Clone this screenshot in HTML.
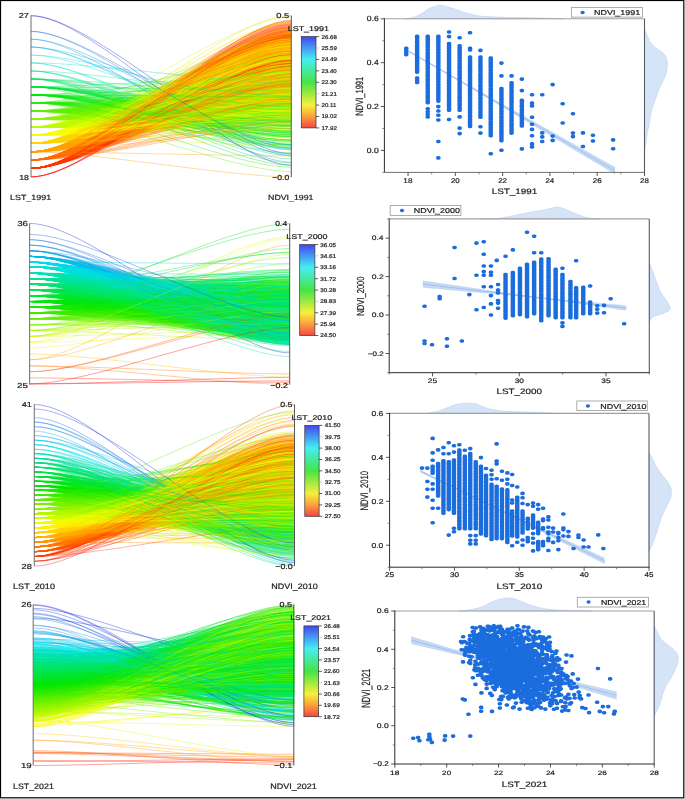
<!DOCTYPE html><html><head><meta charset="utf-8"><style>html,body{margin:0;padding:0;background:#fff;overflow:hidden}svg{display:block}text{font-family:"Liberation Sans",sans-serif;fill:#1c1c1c;stroke:#1c1c1c;stroke-width:.2px;text-rendering:geometricPrecision}svg{will-change:transform}.c0{stroke:#c3f900}.c1{stroke:#ffd300}.c2{stroke:#f6fe00}.c3{stroke:#ff9f00}.c4{stroke:#ff3600}.c5{stroke:#ff6b00}.c6{stroke:#5def00}.c7{stroke:#00e537}.c8{stroke:#90f400}.c9{stroke:#00e608}.c10{stroke:#29ea00}.c11{stroke:#00e2c3}.c12{stroke:#00dceb}.c13{stroke:#00e465}.c14{stroke:#00e394}.c15{stroke:#088ce3}.c16{stroke:#1415d7}.c17{stroke:#ff0100}.c18{stroke:#04b4e7}.c19{stroke:#0c64df}.c20{stroke:#00e2b4}.c21{stroke:#00e530}.c22{stroke:#15e800}.c23{stroke:#00e451}.c24{stroke:#00e60e}.c25{stroke:#04bce7}.c26{stroke:#39ec00}.c27{stroke:#01d9ea}.c28{stroke:#00e473}.c29{stroke:#5eef00}.c30{stroke:#ff0400}.c31{stroke:#00e1da}.c32{stroke:#00e395}.c33{stroke:#cdfa00}.c34{stroke:#069fe5}.c35{stroke:#84f300}.c36{stroke:#a8f600}.c37{stroke:#0c66df}.c38{stroke:#ff2a00}.c39{stroke:#1414d7}.c40{stroke:#f2fe00}.c41{stroke:#ff7500}.c42{stroke:#0982e2}.c43{stroke:#8bf400}.c44{stroke:#ffc100}.c45{stroke:#ff5000}.c46{stroke:#ff9c00}.c47{stroke:#ffe700}.c48{stroke:#0f4bdc}.c49{stroke:#effd00}.c50{stroke:#77f200}.c51{stroke:#ff9600}.c52{stroke:#ff7800}.c53{stroke:#1fe900}.c54{stroke:#ffd200}.c55{stroke:#ffb300}.c56{stroke:#d0fa00}.c57{stroke:#5bef00}.c58{stroke:#96f500}.c59{stroke:#ff5a00}.c60{stroke:#3dec00}.c61{stroke:#b3f800}.c62{stroke:#fff000}.c63{stroke:#00e44d}.c64{stroke:#00e469}.c65{stroke:#0d58de}.c66{stroke:#04e600}.c67{stroke:#00e617}.c68{stroke:#00e0eb}.c69{stroke:#00e383}.c70{stroke:#00e532}.c71{stroke:#00e39c}.c72{stroke:#ff3c00}.c73{stroke:#ff1e00}.c74{stroke:#00e2b8}.c75{stroke:#00e2d1}.c76{stroke:#02cae9}.c77{stroke:#05b3e6}.c78{stroke:#079ce4}.c79{stroke:#0b6ee0}.c80{stroke:#0986e2}.c81{stroke:#122cd9}.c82{stroke:#ff0000}.c83{stroke:#3eec00}.c84{stroke:#00e46c}.c85{stroke:#00e2c1}.c86{stroke:#76f200}.c87{stroke:#6ef100}.c88{stroke:#00e60c}.c89{stroke:#00e38f}.c90{stroke:#2dea00}.c91{stroke:#3fec00}.c92{stroke:#00e53f}.c93{stroke:#00e535}.c94{stroke:#00e1d8}.c95{stroke:#49ed00}.c96{stroke:#00e453}.c97{stroke:#30eb00}.c98{stroke:#8cf400}.c99{stroke:#00e60d}.c100{stroke:#00e609}.c101{stroke:#25ea00}.c102{stroke:#00e2a7}.c103{stroke:#00e531}.c104{stroke:#00e461}.c105{stroke:#00e44c}.c106{stroke:#aaf700}.c107{stroke:#22e900}.c108{stroke:#ffc900}.c109{stroke:#7df200}.c110{stroke:#00e3a3}.c111{stroke:#00e2bb}.c112{stroke:#41ec00}.c113{stroke:#18e800}.c114{stroke:#36eb00}.c115{stroke:#00e46a}.c116{stroke:#00e449}.c117{stroke:#00e526}.c118{stroke:#b1f700}.c119{stroke:#00e53d}.c120{stroke:#21e900}.c121{stroke:#6df100}.c122{stroke:#00e614}.c123{stroke:#8ff400}.c124{stroke:#00e463}.c125{stroke:#3aec00}.c126{stroke:#02e600}.c127{stroke:#c4f900}.c128{stroke:#00e527}.c129{stroke:#00e536}.c130{stroke:#7ff200}.c131{stroke:#20e900}.c132{stroke:#00e51c}.c133{stroke:#00e51e}.c134{stroke:#06a4e5}.c135{stroke:#00e2cb}.c136{stroke:#e5fc00}.c137{stroke:#fff500}.c138{stroke:#3bec00}.c139{stroke:#00e60f}.c140{stroke:#00e605}.c141{stroke:#1ee900}.c142{stroke:#86f300}.c143{stroke:#66f000}.c144{stroke:#00e44b}.c145{stroke:#13e800}.c146{stroke:#87f300}.c147{stroke:#00e600}.c148{stroke:#4fee00}.c149{stroke:#a8f700}.c150{stroke:#93f400}.c151{stroke:#a7f600}.c152{stroke:#00e1d5}.c153{stroke:#0ee700}.c154{stroke:#00e458}.c155{stroke:#00e518}.c156{stroke:#00e38b}.c157{stroke:#00e51f}.c158{stroke:#00e542}.c159{stroke:#00e37e}.c160{stroke:#4bed00}.c161{stroke:#00e2be}.c162{stroke:#58ef00}.c163{stroke:#00e2d3}.c164{stroke:#2eea00}.c165{stroke:#0ae700}.c166{stroke:#00e37c}.c167{stroke:#00e615}.c168{stroke:#9af500}.c169{stroke:#81f300}.c170{stroke:#06a3e5}.c171{stroke:#00e384}.c172{stroke:#00e544}.c173{stroke:#1de900}.c174{stroke:#00e522}.c175{stroke:#ccfa00}.c176{stroke:#00e1e9}.c177{stroke:#00e613}.c178{stroke:#00e46f}.c179{stroke:#cbfa00}.c180{stroke:#00e601}.c181{stroke:#00e603}.c182{stroke:#17e800}.c183{stroke:#6cf100}.c184{stroke:#00e521}.c185{stroke:#67f000}.c186{stroke:#00e45c}.c187{stroke:#00e53c}.c188{stroke:#00e51b}.c189{stroke:#00e53e}.c190{stroke:#c6f900}.c191{stroke:#00e607}.c192{stroke:#33eb00}.c193{stroke:#00e52a}.c194{stroke:#48ed00}.c195{stroke:#95f500}.c196{stroke:#10e800}.c197{stroke:#d2fb00}.c198{stroke:#00e388}.c199{stroke:#71f100}.c200{stroke:#00e38a}.c201{stroke:#00e457}.c202{stroke:#00e37f}.c203{stroke:#82f300}.c204{stroke:#6bf100}.c205{stroke:#1be900}.c206{stroke:#a1f600}.c207{stroke:#00e466}.c208{stroke:#00e382}.c209{stroke:#00e2c5}.c210{stroke:#fffb00}.c211{stroke:#00e523}.c212{stroke:#00e37b}.c213{stroke:#03e600}.c214{stroke:#80f300}.c215{stroke:#00e616}.c216{stroke:#00e448}.c217{stroke:#00e380}.c218{stroke:#00e2c8}.c219{stroke:#00e464}.c220{stroke:#00e2b6}.c221{stroke:#c9fa00}.c222{stroke:#b4f800}.c223{stroke:#d7fb00}.c224{stroke:#92f400}.c225{stroke:#00e45e}.c226{stroke:#14e800}.c227{stroke:#00e540}.c228{stroke:#00e452}.c229{stroke:#00e53b}.c230{stroke:#00e37d}.c231{stroke:#01e600}.c232{stroke:#37eb00}.c233{stroke:#0799e4}.c234{stroke:#00e604}.c235{stroke:#34eb00}.c236{stroke:#00e379}.c237{stroke:#00e529}.c238{stroke:#62f000}.c239{stroke:#a3f600}.c240{stroke:#00e2c4}.c241{stroke:#23e900}.c242{stroke:#45ed00}.c243{stroke:#abf700}.c244{stroke:#00e51a}.c245{stroke:#00e45f}.c246{stroke:#0f45dc}.c247{stroke:#78f200}.c248{stroke:#7ef200}.c249{stroke:#00e1e4}.c250{stroke:#00e386}.c251{stroke:#00e528}.c252{stroke:#00e470}.c253{stroke:#00e39a}.c254{stroke:#72f100}.c255{stroke:#dffc00}.c256{stroke:#1ce900}.c257{stroke:#32eb00}.c258{stroke:#defc00}.c259{stroke:#44ed00}.c260{stroke:#00e533}.c261{stroke:#00e52b}.c262{stroke:#0e51dd}.c263{stroke:#00e376}.c264{stroke:#e7fd00}.c265{stroke:#00e1de}.c266{stroke:#2feb00}.c267{stroke:#05aae6}.c268{stroke:#28ea00}.c269{stroke:#00e2a9}.c270{stroke:#00e456}.c271{stroke:#7cf200}.c272{stroke:#00e546}.c273{stroke:#00e474}.c274{stroke:#03c6e8}.c275{stroke:#c2f900}.c276{stroke:#00e39d}.c277{stroke:#16e800}.c278{stroke:#0fe800}.c279{stroke:#06e700}.c280{stroke:#00e60b}.c281{stroke:#00e3a4}.c282{stroke:#01d5ea}.c283{stroke:#03c4e8}.c284{stroke:#43ed00}.c285{stroke:#aef700}.c286{stroke:#00e2bd}.c287{stroke:#42ed00}.c288{stroke:#2cea00}.c289{stroke:#a6f600}.c290{stroke:#fffa00}.c291{stroke:#8df400}.c292{stroke:#00e1dc}.c293{stroke:#00e475}.c294{stroke:#00e46b}.c295{stroke:#eefd00}.c296{stroke:#00e45a}.c297{stroke:#60ef00}.c298{stroke:#65f000}.c299{stroke:#bbf800}.c300{stroke:#74f100}.c301{stroke:#00e612}.c302{stroke:#19e800}.c303{stroke:#89f300}.c304{stroke:#00e37a}.c305{stroke:#73f100}.c306{stroke:#00e392}.c307{stroke:#b5f800}.c308{stroke:#5cef00}.c309{stroke:#00e2b1}.c310{stroke:#52ee00}.c311{stroke:#08e700}.c312{stroke:#00e44f}.c313{stroke:#2bea00}.c314{stroke:#ff4b00}.c315{stroke:#3cec00}.c316{stroke:#a5f600}.c317{stroke:#9df500}.c318{stroke:#6bf000}.c319{stroke:#2aea00}.c320{stroke:#00e377}.c321{stroke:#0de700}.c322{stroke:#47ed00}.c323{stroke:#00e610}.c324{stroke:#00e454}.c325{stroke:#26ea00}.c326{stroke:#00e2cf}.c327{stroke:#00e53a}.c328{stroke:#6af000}.c329{stroke:#00e602}.c330{stroke:#00e534}.c331{stroke:#00e2ba}.c332{stroke:#00e455}.c333{stroke:#2eeb00}.c334{stroke:#57ee00}.c335{stroke:#00e52e}.c336{stroke:#00e471}.c337{stroke:#00e2ca}.c338{stroke:#c5f900}.c339{stroke:#b7f800}.c340{stroke:#0a7de1}.c341{stroke:#01dbea}.c342{stroke:#d8fb00}.c343{stroke:#9cf500}.c344{stroke:#09e700}.c345{stroke:#0be700}.c346{stroke:#00e385}.c347{stroke:#fff400}.c348{stroke:#57ef00}.c349{stroke:#11e800}.c350{stroke:#24ea00}.c351{stroke:#00e472}.c352{stroke:#56ee00}.c353{stroke:#31eb00}.c354{stroke:#baf800}.c355{stroke:#00e39b}.c356{stroke:#5fef00}.c357{stroke:#00e543}.c358{stroke:#00e525}.c359{stroke:#00e2b2}.c360{stroke:#02d0e9}.c361{stroke:#1ae900}.c362{stroke:#d1fa00}.c363{stroke:#00e2af}.c364{stroke:#5aef00}.c365{stroke:#00e541}.c366{stroke:#00e378}.c367{stroke:#00e468}.c368{stroke:#e1fc00}.c369{stroke:#00e2ab}.c370{stroke:#9bf500}.c371{stroke:#00e524}.c372{stroke:#088be3}.c373{stroke:#8ef400}.c374{stroke:#00e1e5}.c375{stroke:#00e467}.c376{stroke:#00e460}.c377{stroke:#00e399}.c378{stroke:#00e60a}.c379{stroke:#64f000}.c380{stroke:#00e2ce}.c381{stroke:#00e45d}.c382{stroke:#00e390}.c383{stroke:#03bee8}.c384{stroke:#00e393}.c385{stroke:#4ced00}.c386{stroke:#00e447}.c387{stroke:#ff5400}.c388{stroke:#68f000}.c389{stroke:#00e3a2}.c390{stroke:#53ee00}.c391{stroke:#02d1e9}.c392{stroke:#50ee00}.c393{stroke:#00e2b0}.c394{stroke:#00e2cc}.c395{stroke:#46ed00}.c396{stroke:#07e700}.c397{stroke:#51ee00}.c398{stroke:#4dee00}.c399{stroke:#8af400}.c400{stroke:#00e381}.c401{stroke:#00deeb}.c402{stroke:#ffa000}.c403{stroke:#54ee00}.c404{stroke:#fcff00}.c405{stroke:#00e2ad}.c406{stroke:#b6f800}.c407{stroke:#00e52c}.c408{stroke:#97f500}.c409{stroke:#00e44a}.c410{stroke:#0d5cde}.c411{stroke:#f9fe00}.c412{stroke:#1227d9}.c413{stroke:#98f500}.c414{stroke:#c8fa00}.c415{stroke:#103fdb}.c416{stroke:#0ce700}.c417{stroke:#00e545}.c418{stroke:#00e46e}.c419{stroke:#00e51d}.c420{stroke:#00e44e}.c421{stroke:#bcf800}.c422{stroke:#fafe00}.c423{stroke:#94f500}.c424{stroke:#00e519}.c425{stroke:#00e606}.c426{stroke:#112eda}.c427{stroke:#35eb00}.c428{stroke:#bef900}.c429{stroke:#75f100}.c430{stroke:#00e538}.c431{stroke:#69f000}.c432{stroke:#55ee00}.c433{stroke:#05e600}.c434{stroke:#7af200}.c435{stroke:#38eb00}.c436{stroke:#1417d7}.c437{stroke:#00e1d4}.c438{stroke:#70f100}.c439{stroke:#adf700}.c440{stroke:#61ef00}.c441{stroke:#00e387}.c442{stroke:#00e2aa}.c443{stroke:#03bfe8}.c444{stroke:#e8fd00}.c445{stroke:#00e462}.c446{stroke:#00e3a1}.c447{stroke:#e2fc00}.c448{stroke:#00dfeb}.c449{stroke:#00e2a5}.c450{stroke:#4aed00}.c451{stroke:#6ff100}.c452{stroke:#00e38c}.c453{stroke:#ff5d00}.c454{stroke:#ff9e00}.c455{stroke:#b8f800}.c456{stroke:#fffc00}.c457{stroke:#0a7fe1}.c458{stroke:#12e800}.c459{stroke:#42ec00}.c460{stroke:#00e520}.c461{stroke:#00e2a6}.c462{stroke:#9ef600}.c463{stroke:#91f400}.c464{stroke:#00e611}.c465{stroke:#75f200}.c466{stroke:#079de4}.c467{stroke:#00e450}.c468{stroke:#88f300}.c469{stroke:#ff1800}.o20{stroke-opacity:1.00}.o18{stroke-opacity:0.90}.o19{stroke-opacity:0.95}.o15{stroke-opacity:0.75}.o17{stroke-opacity:0.85}.o14{stroke-opacity:0.70}.o16{stroke-opacity:0.80}.o13{stroke-opacity:0.65}</style></head><body><svg width="685" height="799" viewBox="0 0 685 799" font-family="Liberation Sans, sans-serif"><rect width="685" height="799" fill="#fff"/><g fill="none" stroke-width="0.62" stroke-opacity="0.60"><path class="c0" d="M31 127.2c62 0 198-4.5 260-4.5"/><path class="c1 o20" d="M31 143.5c62 0 198-59 260-59"/><path class="c2 o18" d="M31 135.3c62 0 198-49.5 260-49.5"/><path class="c3 o20" d="M31 151.9c62 0 198-77 260-77"/><path class="c4 o19" d="M31 168.4c62 0 198-119.5 260-119.5"/><path class="c5 o15" d="M31 160.1c62 0 198-119 260-119"/><path class="c4 o19" d="M31 168.4c62 0 198-123 260-123"/><path class="c4 o17" d="M31 168.4c62 0 198-130.5 260-130.5"/><path class="c6" d="M31 111.1c62 0 198-10.5 260-10.5"/><path class="c1 o17" d="M31 143.5c62 0 198-94.5 260-94.5"/><path class="c2 o14" d="M31 135.3c62 0 198-34 260-34"/><path class="c3 o20" d="M31 151.9c62 0 198-85 260-85"/><path class="c7" d="M31 86.8c62 0 198 44 260 44"/><path class="c3 o20" d="M31 151.9c62 0 198-96 260-96"/><path class="c0" d="M31 127.2c62 0 198-52 260-52"/><path class="c5 o19" d="M31 160.1c62 0 198-85 260-85"/><path class="c4 o19" d="M31 168.4c62 0 198-116.5 260-116.5"/><path class="c4 o19" d="M31 168.4c62 0 198-127.5 260-127.5"/><path class="c2 o18" d="M31 135.3c62 0 198-36.5 260-36.5"/><path class="c0" d="M31 127.2c62 0 198-17.5 260-17.5"/><path class="c7" d="M31 86.8c62 0 198 50 260 50"/><path class="c4 o17" d="M31 168.4c62 0 198-100.5 260-100.5"/><path class="c4 o19" d="M31 168.4c62 0 198-105.5 260-105.5"/><path class="c4 o19" d="M31 168.4c62 0 198-125.5 260-125.5"/><path class="c1 o20" d="M31 143.5c62 0 198-56.5 260-56.5"/><path class="c4 o19" d="M31 168.4c62 0 198-115 260-115"/><path class="c5 o19" d="M31 160.1c62 0 198-90 260-90"/><path class="c2 o19" d="M31 135.3c62 0 198-59 260-59"/><path class="c2 o14" d="M31 135.3c62 0 198-70 260-70"/><path class="c0" d="M31 127.2c62 0 198-63.5 260-63.5"/><path class="c0 o17" d="M31 127.2c62 0 198-38.5 260-38.5"/><path class="c3 o20" d="M31 151.9c62 0 198-109 260-109"/><path class="c4 o19" d="M31 168.4c62 0 198-121 260-121"/><path class="c8" d="M31 119.1c62 0 198-34 260-34"/><path class="c4 o19" d="M31 168.4c62 0 198-107 260-107"/><path class="c1 o20" d="M31 143.5c62 0 198-47.5 260-47.5"/><path class="c1 o20" d="M31 143.5c62 0 198-83 260-83"/><path class="c2 o18" d="M31 135.3c62 0 198-52.5 260-52.5"/><path class="c4 o17" d="M31 168.4c62 0 198-101.5 260-101.5"/><path class="c1 o20" d="M31 143.5c62 0 198-76 260-76"/><path class="c5 o19" d="M31 160.1c62 0 198-92 260-92"/><path class="c4 o19" d="M31 168.4c62 0 198-123.5 260-123.5"/><path class="c5 o19" d="M31 160.1c62 0 198-80.5 260-80.5"/><path class="c3 o18" d="M31 151.9c62 0 198-56 260-56"/><path class="c5 o19" d="M31 160.1c62 0 198-120 260-120"/><path class="c3 o20" d="M31 151.9c62 0 198-93 260-93"/><path class="c5 o19" d="M31 160.1c62 0 198-95 260-95"/><path class="c0 o17" d="M31 127.2c62 0 198-8 260-8"/><path class="c0" d="M31 127.2c62 0 198-16 260-16"/><path class="c3 o20" d="M31 151.9c62 0 198-99 260-99"/><path class="c3 o20" d="M31 151.9c62 0 198-79.5 260-79.5"/><path class="c5 o19" d="M31 160.1c62 0 198-88 260-88"/><path class="c1 o17" d="M31 143.5c62 0 198-89 260-89"/><path class="c3 o20" d="M31 151.9c62 0 198-88.5 260-88.5"/><path class="c4 o19" d="M31 168.4c62 0 198-119 260-119"/><path class="c8" d="M31 119.1c62 0 198-32 260-32"/><path class="c5 o19" d="M31 160.1c62 0 198-124.5 260-124.5"/><path class="c5 o19" d="M31 160.1c62 0 198-113.5 260-113.5"/><path class="c3 o18" d="M31 151.9c62 0 198-117 260-117"/><path class="c3 o18" d="M31 151.9c62 0 198-69.5 260-69.5"/><path class="c1 o20" d="M31 143.5c62 0 198-63 260-63"/><path class="c5 o19" d="M31 160.1c62 0 198-117 260-117"/><path class="c3 o20" d="M31 151.9c62 0 198-92 260-92"/><path class="c8" d="M31 119.1c62 0 198 6 260 6"/><path class="c3 o20" d="M31 151.9c62 0 198-100 260-100"/><path class="c2 o18" d="M31 135.3c62 0 198-61.5 260-61.5"/><path class="c9" d="M31 94.9c62 0 198 36.5 260 36.5"/><path class="c5 o19" d="M31 160.1c62 0 198-97 260-97"/><path class="c5 o19" d="M31 160.1c62 0 198-88.5 260-88.5"/><path class="c1 o20" d="M31 143.5c62 0 198-82.5 260-82.5"/><path class="c4 o17" d="M31 168.4c62 0 198-124 260-124"/><path class="c1 o20" d="M31 143.5c62 0 198-81 260-81"/><path class="c2 o14" d="M31 135.3c62 0 198-85.5 260-85.5"/><path class="c6" d="M31 111.1c62 0 198 15.5 260 15.5"/><path class="c5 o20" d="M31 160.1c62 0 198-99.5 260-99.5"/><path class="c3 o20" d="M31 151.9c62 0 198-76 260-76"/><path class="c2 o14" d="M31 135.3c62 0 198-29 260-29"/><path class="c6" d="M31 111.1c62 0 198 18 260 18"/><path class="c5 o20" d="M31 160.1c62 0 198-102.5 260-102.5"/><path class="c5 o19" d="M31 160.1c62 0 198-103 260-103"/><path class="c2 o14" d="M31 135.3c62 0 198-33.5 260-33.5"/><path class="c2 o18" d="M31 135.3c62 0 198-80.5 260-80.5"/><path class="c8" d="M31 119.1c62 0 198-17 260-17"/><path class="c5 o15" d="M31 160.1c62 0 198-65 260-65"/><path class="c1 o17" d="M31 143.5c62 0 198-56 260-56"/><path class="c3 o20" d="M31 151.9c62 0 198-86.5 260-86.5"/><path class="c4 o19" d="M31 168.4c62 0 198-106 260-106"/><path class="c2 o19" d="M31 135.3c62 0 198-47.5 260-47.5"/><path class="c4" d="M31 168.4c62 0 198-135 260-135"/><path class="c3 o18" d="M31 151.9c62 0 198-105.5 260-105.5"/><path class="c1 o20" d="M31 143.5c62 0 198-70.5 260-70.5"/><path class="c7" d="M31 86.8c62 0 198 29 260 29"/><path class="c3 o18" d="M31 151.9c62 0 198-72 260-72"/><path class="c10" d="M31 102.7c62 0 198 50 260 50"/><path class="c8" d="M31 119.1c62 0 198 18 260 18"/><path class="c1 o20" d="M31 143.5c62 0 198-53.5 260-53.5"/><path class="c4 o17" d="M31 168.4c62 0 198-99.5 260-99.5"/><path class="c2 o19" d="M31 135.3c62 0 198-53 260-53"/><path class="c3 o18" d="M31 151.9c62 0 198-57.5 260-57.5"/><path class="c3 o18" d="M31 151.9c62 0 198-74 260-74"/><path class="c4 o19" d="M31 168.4c62 0 198-113 260-113"/><path class="c1 o20" d="M31 143.5c62 0 198-48.5 260-48.5"/><path class="c8" d="M31 119.1c62 0 198 26 260 26"/><path class="c5 o15" d="M31 160.1c62 0 198-87.5 260-87.5"/><path class="c4 o17" d="M31 168.4c62 0 198-122.5 260-122.5"/><path class="c3 o18" d="M31 151.9c62 0 198-103 260-103"/><path class="c1 o17" d="M31 143.5c62 0 198-39 260-39"/><path class="c1 o17" d="M31 143.5c62 0 198-38 260-38"/><path class="c3 o20" d="M31 151.9c62 0 198-81 260-81"/><path class="c4 o19" d="M31 168.4c62 0 198-114.5 260-114.5"/><path class="c1 o20" d="M31 143.5c62 0 198-78.5 260-78.5"/><path class="c3 o18" d="M31 151.9c62 0 198-58.5 260-58.5"/><path class="c1 o20" d="M31 143.5c62 0 198-60 260-60"/><path class="c11" d="M31 62.8c62 0 198 86 260 86"/><path class="c3 o20" d="M31 151.9c62 0 198-87.5 260-87.5"/><path class="c3 o20" d="M31 151.9c62 0 198-71 260-71"/><path class="c2 o18" d="M31 135.3c62 0 198-50.5 260-50.5"/><path class="c6" d="M31 111.1c62 0 198 4 260 4"/><path class="c2 o19" d="M31 135.3c62 0 198-56.5 260-56.5"/><path class="c0 o17" d="M31 127.2c62 0 198-49 260-49"/><path class="c5 o20" d="M31 160.1c62 0 198-112.5 260-112.5"/><path class="c2 o19" d="M31 135.3c62 0 198-60.5 260-60.5"/><path class="c3 o20" d="M31 151.9c62 0 198-93.5 260-93.5"/><path class="c5 o15" d="M31 160.1c62 0 198-63.5 260-63.5"/><path class="c5 o20" d="M31 160.1c62 0 198-115 260-115"/><path class="c2 o18" d="M31 135.3c62 0 198-32 260-32"/><path class="c0" d="M31 127.2c62 0 198-58 260-58"/><path class="c3" d="M31 151.9c62 0 198-40.5 260-40.5"/><path class="c3 o18" d="M31 151.9c62 0 198-63.5 260-63.5"/><path class="c5 o15" d="M31 160.1c62 0 198-123.5 260-123.5"/><path class="c1 o17" d="M31 143.5c62 0 198-43 260-43"/><path class="c4 o17" d="M31 168.4c62 0 198-106.5 260-106.5"/><path class="c8" d="M31 119.1c62 0 198-13.5 260-13.5"/><path class="c4" d="M31 168.4c62 0 198-137.5 260-137.5"/><path class="c3 o20" d="M31 151.9c62 0 198-86 260-86"/><path class="c0" d="M31 127.2c62 0 198-11 260-11"/><path class="c4 o17" d="M31 168.4c62 0 198-103 260-103"/><path class="c0 o17" d="M31 127.2c62 0 198-46 260-46"/><path class="c4 o19" d="M31 168.4c62 0 198-118.5 260-118.5"/><path class="c10" d="M31 102.7c62 0 198 14.5 260 14.5"/><path class="c3 o18" d="M31 151.9c62 0 198-63 260-63"/><path class="c2 o14" d="M31 135.3c62 0 198-71.5 260-71.5"/><path class="c5 o20" d="M31 160.1c62 0 198-108.5 260-108.5"/><path class="c8" d="M31 119.1c62 0 198 1.5 260 1.5"/><path class="c5 o20" d="M31 160.1c62 0 198-102 260-102"/><path class="c11" d="M31 62.8c62 0 198 91.5 260 91.5"/><path class="c8" d="M31 119.1c62 0 198-21 260-21"/><path class="c2 o14" d="M31 135.3c62 0 198-27 260-27"/><path class="c0" d="M31 127.2c62 0 198 1.5 260 1.5"/><path class="c1 o17" d="M31 143.5c62 0 198-35.5 260-35.5"/><path class="c2 o14" d="M31 135.3c62 0 198-88 260-88"/><path class="c2 o19" d="M31 135.3c62 0 198-57.5 260-57.5"/><path class="c4 o19" d="M31 168.4c62 0 198-126 260-126"/><path class="c3 o18" d="M31 151.9c62 0 198-68 260-68"/><path class="c2 o14" d="M31 135.3c62 0 198-83 260-83"/><path class="c1 o20" d="M31 143.5c62 0 198-82 260-82"/><path class="c5 o20" d="M31 160.1c62 0 198-103.5 260-103.5"/><path class="c3 o20" d="M31 151.9c62 0 198-83.5 260-83.5"/><path class="c5 o15" d="M31 160.1c62 0 198-75 260-75"/><path class="c2 o14" d="M31 135.3c62 0 198-77.5 260-77.5"/><path class="c2 o18" d="M31 135.3c62 0 198-65 260-65"/><path class="c12" d="M31 55c62 0 198 77.5 260 77.5"/><path class="c1 o17" d="M31 143.5c62 0 198-105.5 260-105.5"/><path class="c1 o20" d="M31 143.5c62 0 198-67.5 260-67.5"/><path class="c5 o15" d="M31 160.1c62 0 198-82 260-82"/><path class="c4 o19" d="M31 168.4c62 0 198-117 260-117"/><path class="c2 o14" d="M31 135.3c62 0 198-38 260-38"/><path class="c1 o20" d="M31 143.5c62 0 198-71 260-71"/><path class="c9" d="M31 94.9c62 0 198 30.5 260 30.5"/><path class="c5 o19" d="M31 160.1c62 0 198-92.5 260-92.5"/><path class="c5 o20" d="M31 160.1c62 0 198-101.5 260-101.5"/><path class="c0" d="M31 127.2c62 0 198-18 260-18"/><path class="c5 o19" d="M31 160.1c62 0 198-109.5 260-109.5"/><path class="c2 o14" d="M31 135.3c62 0 198-85 260-85"/><path class="c0" d="M31 127.2c62 0 198-61 260-61"/><path class="c2 o18" d="M31 135.3c62 0 198-43.5 260-43.5"/><path class="c2 o18" d="M31 135.3c62 0 198-55.5 260-55.5"/><path class="c8" d="M31 119.1c62 0 198-27 260-27"/><path class="c0" d="M31 127.2c62 0 198-58.5 260-58.5"/><path class="c3 o20" d="M31 151.9c62 0 198-97.5 260-97.5"/><path class="c3 o20" d="M31 151.9c62 0 198-88 260-88"/><path class="c6" d="M31 111.1c62 0 198-20.5 260-20.5"/><path class="c2 o18" d="M31 135.3c62 0 198-42.5 260-42.5"/><path class="c1 o20" d="M31 143.5c62 0 198-77.5 260-77.5"/><path class="c5 o19" d="M31 160.1c62 0 198-111 260-111"/><path class="c13" d="M31 78.9c62 0 198 69.5 260 69.5"/><path class="c4 o19" d="M31 168.4c62 0 198-124.5 260-124.5"/><path class="c1 o20" d="M31 143.5c62 0 198-50.5 260-50.5"/><path class="c2 o18" d="M31 135.3c62 0 198-38.5 260-38.5"/><path class="c5 o19" d="M31 160.1c62 0 198-104 260-104"/><path class="c4 o19" d="M31 168.4c62 0 198-127 260-127"/><path class="c6" d="M31 111.1c62 0 198-35 260-35"/><path class="c4 o19" d="M31 168.4c62 0 198-126.5 260-126.5"/><path class="c2 o18" d="M31 135.3c62 0 198-44.5 260-44.5"/><path class="c8" d="M31 119.1c62 0 198-9.5 260-9.5"/><path class="c5 o19" d="M31 160.1c62 0 198-116 260-116"/><path class="c3 o20" d="M31 151.9c62 0 198-92.5 260-92.5"/><path class="c2 o18" d="M31 135.3c62 0 198-44 260-44"/><path class="c5 o15" d="M31 160.1c62 0 198-72.5 260-72.5"/><path class="c2 o18" d="M31 135.3c62 0 198-51 260-51"/><path class="c0" d="M31 127.2c62 0 198-1.5 260-1.5"/><path class="c5 o19" d="M31 160.1c62 0 198-85.5 260-85.5"/><path class="c4 o19" d="M31 168.4c62 0 198-120.5 260-120.5"/><path class="c3 o20" d="M31 151.9c62 0 198-106 260-106"/><path class="c0" d="M31 127.2c62 0 198-66.5 260-66.5"/><path class="c3 o20" d="M31 151.9c62 0 198-81.5 260-81.5"/><path class="c4 o17" d="M31 168.4c62 0 198-111.5 260-111.5"/><path class="c4 o17" d="M31 168.4c62 0 198-134.5 260-134.5"/><path class="c2 o18" d="M31 135.3c62 0 198-75.5 260-75.5"/><path class="c3 o18" d="M31 151.9c62 0 198-50.5 260-50.5"/><path class="c4 o19" d="M31 168.4c62 0 198-110 260-110"/><path class="c3 o20" d="M31 151.9c62 0 198-102.5 260-102.5"/><path class="c2 o14" d="M31 135.3c62 0 198-30.5 260-30.5"/><path class="c7" d="M31 86.8c62 0 198 36 260 36"/><path class="c6" d="M31 111.1c62 0 198-17.5 260-17.5"/><path class="c1 o20" d="M31 143.5c62 0 198-80.5 260-80.5"/><path class="c4" d="M31 168.4c62 0 198-146 260-146"/><path class="c2 o14" d="M31 135.3c62 0 198-31.5 260-31.5"/><path class="c1 o20" d="M31 143.5c62 0 198-88.5 260-88.5"/><path class="c2 o14" d="M31 135.3c62 0 198-19 260-19"/><path class="c5 o20" d="M31 160.1c62 0 198-112 260-112"/><path class="c4 o19" d="M31 168.4c62 0 198-112 260-112"/><path class="c3 o20" d="M31 151.9c62 0 198-97 260-97"/><path class="c3 o20" d="M31 151.9c62 0 198-102 260-102"/><path class="c3 o20" d="M31 151.9c62 0 198-98 260-98"/><path class="c0" d="M31 127.2c62 0 198 6 260 6"/><path class="c5 o19" d="M31 160.1c62 0 198-84 260-84"/><path class="c2 o19" d="M31 135.3c62 0 198-52 260-52"/><path class="c0" d="M31 127.2c62 0 198-13.5 260-13.5"/><path class="c5 o15" d="M31 160.1c62 0 198-121 260-121"/><path class="c1 o17" d="M31 143.5c62 0 198-32.5 260-32.5"/><path class="c0" d="M31 127.2c62 0 198-40 260-40"/><path class="c3 o20" d="M31 151.9c62 0 198-99.5 260-99.5"/><path class="c2 o14" d="M31 135.3c62 0 198-32.5 260-32.5"/><path class="c4 o19" d="M31 168.4c62 0 198-115.5 260-115.5"/><path class="c3 o18" d="M31 151.9c62 0 198-66.5 260-66.5"/><path class="c3 o20" d="M31 151.9c62 0 198-110.5 260-110.5"/><path class="c12" d="M31 55c62 0 198 52.5 260 52.5"/><path class="c4 o17" d="M31 168.4c62 0 198-128.5 260-128.5"/><path class="c5 o20" d="M31 160.1c62 0 198-104.5 260-104.5"/><path class="c5 o19" d="M31 160.1c62 0 198-119.5 260-119.5"/><path class="c8" d="M31 119.1c62 0 198-33 260-33"/><path class="c2 o18" d="M31 135.3c62 0 198-79 260-79"/><path class="c0" d="M31 127.2c62 0 198-35 260-35"/><path class="c5 o15" d="M31 160.1c62 0 198-129.5 260-129.5"/><path class="c1 o20" d="M31 143.5c62 0 198-79.5 260-79.5"/><path class="c4 o19" d="M31 168.4c62 0 198-113.5 260-113.5"/><path class="c2 o14" d="M31 135.3c62 0 198-20.5 260-20.5"/><path class="c5 o20" d="M31 160.1c62 0 198-93.5 260-93.5"/><path class="c2" d="M31 135.3c62 0 198 3.5 260 3.5"/><path class="c2 o14" d="M31 135.3c62 0 198-24 260-24"/><path class="c4 o19" d="M31 168.4c62 0 198-129.5 260-129.5"/><path class="c3 o18" d="M31 151.9c62 0 198-67.5 260-67.5"/><path class="c0 o17" d="M31 127.2c62 0 198-19.5 260-19.5"/><path class="c2 o18" d="M31 135.3c62 0 198-50 260-50"/><path class="c1 o20" d="M31 143.5c62 0 198-62 260-62"/><path class="c2 o14" d="M31 135.3c62 0 198-78 260-78"/><path class="c1 o17" d="M31 143.5c62 0 198-53 260-53"/><path class="c0" d="M31 127.2c62 0 198-31 260-31"/><path class="c3 o18" d="M31 151.9c62 0 198-76.5 260-76.5"/><path class="c3 o18" d="M31 151.9c62 0 198-58 260-58"/><path class="c0 o17" d="M31 127.2c62 0 198-48 260-48"/><path class="c0" d="M31 127.2c62 0 198-31.5 260-31.5"/><path class="c1 o20" d="M31 143.5c62 0 198-83.5 260-83.5"/><path class="c0" d="M31 127.2c62 0 198-68 260-68"/><path class="c2 o18" d="M31 135.3c62 0 198-64.5 260-64.5"/><path class="c4 o19" d="M31 168.4c62 0 198-131 260-131"/><path class="c2 o14" d="M31 135.3c62 0 198-30 260-30"/><path class="c0 o17" d="M31 127.2c62 0 198-32 260-32"/><path class="c9" d="M31 94.9c62 0 198 49 260 49"/><path class="c2 o18" d="M31 135.3c62 0 198-60 260-60"/><path class="c5 o19" d="M31 160.1c62 0 198-106.5 260-106.5"/><path class="c1 o20" d="M31 143.5c62 0 198-55 260-55"/><path class="c3 o18" d="M31 151.9c62 0 198-106.5 260-106.5"/><path class="c4 o19" d="M31 168.4c62 0 198-118 260-118"/><path class="c14" d="M31 70.9c62 0 198 74 260 74"/><path class="c3 o18" d="M31 151.9c62 0 198-48 260-48"/><path class="c5 o15" d="M31 160.1c62 0 198-68.5 260-68.5"/><path class="c5 o19" d="M31 160.1c62 0 198-113 260-113"/><path class="c15" d="M31 39.2c62 0 198 105.5 260 105.5"/><path class="c0" d="M31 127.2c62 0 198-6 260-6"/><path class="c2 o14" d="M31 135.3c62 0 198-77 260-77"/><path class="c5 o19" d="M31 160.1c62 0 198-91.5 260-91.5"/><path class="c1 o20" d="M31 143.5c62 0 198-69 260-69"/><path class="c2 o18" d="M31 135.3c62 0 198-66.5 260-66.5"/><path class="c0" d="M31 127.2c62 0 198-67 260-67"/><path class="c4 o19" d="M31 168.4c62 0 198-112.5 260-112.5"/><path class="c8" d="M31 119.1c62 0 198-6.5 260-6.5"/><path class="c5 o19" d="M31 160.1c62 0 198-107.5 260-107.5"/><path class="c5 o19" d="M31 160.1c62 0 198-105 260-105"/><path class="c0" d="M31 127.2c62 0 198-71.5 260-71.5"/><path class="c2 o18" d="M31 135.3c62 0 198-48.5 260-48.5"/><path class="c2 o14" d="M31 135.3c62 0 198-84 260-84"/><path class="c4" d="M31 168.4c62 0 198-141.5 260-141.5"/><path class="c3 o18" d="M31 151.9c62 0 198-113 260-113"/><path class="c1 o20" d="M31 143.5c62 0 198-95 260-95"/><path class="c0 o17" d="M31 127.2c62 0 198-40.5 260-40.5"/><path class="c5 o19" d="M31 160.1c62 0 198-106 260-106"/><path class="c2 o18" d="M31 135.3c62 0 198-54.5 260-54.5"/><path class="c4 o19" d="M31 168.4c62 0 198-108.5 260-108.5"/><path class="c5 o20" d="M31 160.1c62 0 198-95.5 260-95.5"/><path class="c1 o20" d="M31 143.5c62 0 198-58 260-58"/><path class="c0" d="M31 127.2c62 0 198-25 260-25"/><path class="c2 o18" d="M31 135.3c62 0 198-53.5 260-53.5"/><path class="c1 o17" d="M31 143.5c62 0 198-91 260-91"/><path class="c3 o18" d="M31 151.9c62 0 198-73 260-73"/><path class="c5 o19" d="M31 160.1c62 0 198-111.5 260-111.5"/><path class="c0" d="M31 127.2c62 0 198-23 260-23"/><path class="c3" d="M31 151.9c62 0 198-29.5 260-29.5"/><path class="c2 o18" d="M31 135.3c62 0 198-46 260-46"/><path class="c1 o20" d="M31 143.5c62 0 198-87.5 260-87.5"/><path class="c2 o18" d="M31 135.3c62 0 198-73.5 260-73.5"/><path class="c4 o17" d="M31 168.4c62 0 198-109.5 260-109.5"/><path class="c2 o18" d="M31 135.3c62 0 198-42 260-42"/><path class="c4 o17" d="M31 168.4c62 0 198-138.5 260-138.5"/><path class="c0" d="M31 127.2c62 0 198-24.5 260-24.5"/><path class="c1 o20" d="M31 143.5c62 0 198-65 260-65"/><path class="c4" d="M31 168.4c62 0 198-136.5 260-136.5"/><path class="c2 o18" d="M31 135.3c62 0 198-82 260-82"/><path class="c1 o20" d="M31 143.5c62 0 198-90 260-90"/><path class="c4 o19" d="M31 168.4c62 0 198-117.5 260-117.5"/><path class="c1 o17" d="M31 143.5c62 0 198-42.5 260-42.5"/><path class="c4" d="M31 168.4c62 0 198-143.5 260-143.5"/><path class="c2 o14" d="M31 135.3c62 0 198-43 260-43"/><path class="c0 o17" d="M31 127.2c62 0 198-33.5 260-33.5"/><path class="c5 o19" d="M31 160.1c62 0 198-98 260-98"/><path class="c1 o20" d="M31 143.5c62 0 198-77 260-77"/><path class="c3" d="M31 151.9c62 0 198-35 260-35"/><path class="c1 o20" d="M31 143.5c62 0 198-63.5 260-63.5"/><path class="c7" d="M31 86.8c62 0 198 38.5 260 38.5"/><path class="c0 o17" d="M31 127.2c62 0 198-26 260-26"/><path class="c1 o20" d="M31 143.5c62 0 198-74 260-74"/><path class="c0" d="M31 127.2c62 0 198-91 260-91"/><path class="c13" d="M31 78.9c62 0 198 80 260 80"/><path class="c10" d="M31 102.7c62 0 198 11 260 11"/><path class="c8 o17" d="M31 119.1c62 0 198-28.5 260-28.5"/><path class="c10" d="M31 102.7c62 0 198 1.5 260 1.5"/><path class="c2 o19" d="M31 135.3c62 0 198-49 260-49"/><path class="c4 o17" d="M31 168.4c62 0 198-103.5 260-103.5"/><path class="c13" d="M31 78.9c62 0 198 84 260 84"/><path class="c4 o19" d="M31 168.4c62 0 198-125 260-125"/><path class="c2 o18" d="M31 135.3c62 0 198-69.5 260-69.5"/><path class="c3 o20" d="M31 151.9c62 0 198-96.5 260-96.5"/><path class="c2 o19" d="M31 135.3c62 0 198-56 260-56"/><path class="c0 o17" d="M31 127.2c62 0 198-42 260-42"/><path class="c4 o17" d="M31 168.4c62 0 198-100 260-100"/><path class="c1 o17" d="M31 143.5c62 0 198-51.5 260-51.5"/><path class="c2 o18" d="M31 135.3c62 0 198-45.5 260-45.5"/><path class="c5 o20" d="M31 160.1c62 0 198-100.5 260-100.5"/><path class="c0" d="M31 127.2c62 0 198 0 260 0"/><path class="c7" d="M31 86.8c62 0 198 48 260 48"/><path class="c5 o15" d="M31 160.1c62 0 198-128 260-128"/><path class="c1 o20" d="M31 143.5c62 0 198-97 260-97"/><path class="c3 o18" d="M31 151.9c62 0 198-62.5 260-62.5"/><path class="c2 o18" d="M31 135.3c62 0 198-72 260-72"/><path class="c0" d="M31 127.2c62 0 198-41 260-41"/><path class="c8" d="M31 119.1c62 0 198-11.5 260-11.5"/><path class="c5 o15" d="M31 160.1c62 0 198-84.5 260-84.5"/><path class="c2 o18" d="M31 135.3c62 0 198-40.5 260-40.5"/><path class="c3 o18" d="M31 151.9c62 0 198-101 260-101"/><path class="c0" d="M31 127.2c62 0 198-30 260-30"/><path class="c5" d="M31 160.1c62 0 198-42 260-42"/><path class="c1 o20" d="M31 143.5c62 0 198-73.5 260-73.5"/><path class="c5 o15" d="M31 160.1c62 0 198-123 260-123"/><path class="c6" d="M31 111.1c62 0 198-.5 260-.5"/><path class="c2 o18" d="M31 135.3c62 0 198-54 260-54"/><path class="c1 o20" d="M31 143.5c62 0 198-75.5 260-75.5"/><path class="c1 o20" d="M31 143.5c62 0 198-80 260-80"/><path class="c2 o14" d="M31 135.3c62 0 198-26 260-26"/><path class="c10" d="M31 102.7c62 0 198-.5 260-.5"/><path class="c4 o17" d="M31 168.4c62 0 198-130 260-130"/><path class="c1 o20" d="M31 143.5c62 0 198-66 260-66"/><path class="c16" d="M31 15.7c62 0 198 138 260 138"/><path class="c1 o20" d="M31 143.5c62 0 198-75 260-75"/><path class="c4 o19" d="M31 168.4c62 0 198-121.5 260-121.5"/><path class="c2" d="M31 135.3c62 0 198-112.5 260-112.5"/><path class="c9" d="M31 94.9c62 0 198-23 260-23"/><path class="c3 o20" d="M31 151.9c62 0 198-84.5 260-84.5"/><path class="c2 o19" d="M31 135.3c62 0 198-64 260-64"/><path class="c2 o18" d="M31 135.3c62 0 198-55 260-55"/><path class="c10" d="M31 102.7c62 0 198 7 260 7"/><path class="c0" d="M31 127.2c62 0 198-64.5 260-64.5"/><path class="c1 o17" d="M31 143.5c62 0 198-29 260-29"/><path class="c10" d="M31 102.7c62 0 198 22.5 260 22.5"/><path class="c5 o15" d="M31 160.1c62 0 198-86 260-86"/><path class="c10" d="M31 102.7c62 0 198-15 260-15"/><path class="c2 o14" d="M31 135.3c62 0 198-37 260-37"/><path class="c1 o17" d="M31 143.5c62 0 198-40 260-40"/><path class="c4 o19" d="M31 168.4c62 0 198-111 260-111"/><path class="c1 o20" d="M31 143.5c62 0 198-76.5 260-76.5"/><path class="c2 o14" d="M31 135.3c62 0 198-79.5 260-79.5"/><path class="c5 o15" d="M31 160.1c62 0 198-82.5 260-82.5"/><path class="c4" d="M31 168.4c62 0 198-141 260-141"/><path class="c5 o20" d="M31 160.1c62 0 198-108 260-108"/><path class="c1 o17" d="M31 143.5c62 0 198-108 260-108"/><path class="c4 o17" d="M31 168.4c62 0 198-110.5 260-110.5"/><path class="c2 o19" d="M31 135.3c62 0 198-63 260-63"/><path class="c0" d="M31 127.2c62 0 198-60 260-60"/><path class="c0" d="M31 127.2c62 0 198-23.5 260-23.5"/><path class="c5 o19" d="M31 160.1c62 0 198-78 260-78"/><path class="c2 o14" d="M31 135.3c62 0 198-28.5 260-28.5"/><path class="c4 o19" d="M31 168.4c62 0 198-116 260-116"/><path class="c17" d="M31 176.9c62 0 198-138 260-138"/><path class="c0" d="M31 127.2c62 0 198-44.5 260-44.5"/><path class="c4 o17" d="M31 168.4c62 0 198-101 260-101"/><path class="c8" d="M31 119.1c62 0 198-12 260-12"/><path class="c4" d="M31 168.4c62 0 198-147.5 260-147.5"/><path class="c0" d="M31 127.2c62 0 198-48.5 260-48.5"/><path class="c4 o19" d="M31 168.4c62 0 198-128 260-128"/><path class="c5 o19" d="M31 160.1c62 0 198-101 260-101"/><path class="c3 o20" d="M31 151.9c62 0 198-94.5 260-94.5"/><path class="c7" d="M31 86.8c62 0 198 32 260 32"/><path class="c0" d="M31 127.2c62 0 198-52.5 260-52.5"/><path class="c3 o20" d="M31 151.9c62 0 198-79 260-79"/><path class="c6" d="M31 111.1c62 0 198 10 260 10"/><path class="c10" d="M31 102.7c62 0 198 34.5 260 34.5"/><path class="c4 o17" d="M31 168.4c62 0 198-129 260-129"/><path class="c0 o17" d="M31 127.2c62 0 198-29.5 260-29.5"/><path class="c3 o18" d="M31 151.9c62 0 198-107.5 260-107.5"/><path class="c2 o18" d="M31 135.3c62 0 198-72.5 260-72.5"/><path class="c0" d="M31 127.2c62 0 198-21.5 260-21.5"/><path class="c0" d="M31 127.2c62 0 198-41.5 260-41.5"/><path class="c1 o17" d="M31 143.5c62 0 198-57.5 260-57.5"/><path class="c2 o14" d="M31 135.3c62 0 198-58.5 260-58.5"/><path class="c2 o18" d="M31 135.3c62 0 198-71 260-71"/><path class="c2 o18" d="M31 135.3c62 0 198-39.5 260-39.5"/><path class="c4 o19" d="M31 168.4c62 0 198-122 260-122"/><path class="c1 o20" d="M31 143.5c62 0 198-79 260-79"/><path class="c17" d="M31 176.9c62 0 198-135 260-135"/><path class="c1 o17" d="M31 143.5c62 0 198-45 260-45"/><path class="c4 o17" d="M31 168.4c62 0 198-136 260-136"/><path class="c4" d="M31 168.4c62 0 198-142 260-142"/><path class="c8" d="M31 119.1c62 0 198-.5 260-.5"/><path class="c2" d="M31 135.3c62 0 198 10.5 260 10.5"/><path class="c0" d="M31 127.2c62 0 198-59 260-59"/><path class="c1 o20" d="M31 143.5c62 0 198-69.5 260-69.5"/><path class="c3 o20" d="M31 151.9c62 0 198-94 260-94"/><path class="c0" d="M31 127.2c62 0 198-74.5 260-74.5"/><path class="c5 o15" d="M31 160.1c62 0 198-134.5 260-134.5"/><path class="c1 o17" d="M31 143.5c62 0 198-41 260-41"/><path class="c4 o19" d="M31 168.4c62 0 198-120 260-120"/><path class="c1 o20" d="M31 143.5c62 0 198-65.5 260-65.5"/><path class="c5 o15" d="M31 160.1c62 0 198-73 260-73"/><path class="c1 o20" d="M31 143.5c62 0 198-54.5 260-54.5"/><path class="c2 o18" d="M31 135.3c62 0 198-67 260-67"/><path class="c7" d="M31 86.8c62 0 198 34.5 260 34.5"/><path class="c3 o20" d="M31 151.9c62 0 198-95 260-95"/><path class="c0" d="M31 127.2c62 0 198-9 260-9"/><path class="c8" d="M31 119.1c62 0 198-64 260-64"/><path class="c1 o20" d="M31 143.5c62 0 198-67 260-67"/><path class="c1 o20" d="M31 143.5c62 0 198-52 260-52"/><path class="c2 o18" d="M31 135.3c62 0 198-61 260-61"/><path class="c5 o19" d="M31 160.1c62 0 198-89 260-89"/><path class="c5 o20" d="M31 160.1c62 0 198-96 260-96"/><path class="c5 o19" d="M31 160.1c62 0 198-116.5 260-116.5"/><path class="c5 o19" d="M31 160.1c62 0 198-96.5 260-96.5"/><path class="c6" d="M31 111.1c62 0 198-5 260-5"/><path class="c5 o19" d="M31 160.1c62 0 198-117.5 260-117.5"/><path class="c1 o20" d="M31 143.5c62 0 198-57 260-57"/><path class="c1 o20" d="M31 143.5c62 0 198-68.5 260-68.5"/><path class="c1 o20" d="M31 143.5c62 0 198-58.5 260-58.5"/><path class="c4 o19" d="M31 168.4c62 0 198-133 260-133"/><path class="c5 o19" d="M31 160.1c62 0 198-114 260-114"/><path class="c2 o14" d="M31 135.3c62 0 198-76 260-76"/><path class="c5 o19" d="M31 160.1c62 0 198-87 260-87"/><path class="c1 o17" d="M31 143.5c62 0 198-101 260-101"/><path class="c8" d="M31 119.1c62 0 198-24 260-24"/><path class="c1 o17" d="M31 143.5c62 0 198-99 260-99"/><path class="c5 o19" d="M31 160.1c62 0 198-115.5 260-115.5"/><path class="c5 o20" d="M31 160.1c62 0 198-105.5 260-105.5"/><path class="c8" d="M31 119.1c62 0 198-15 260-15"/><path class="c8" d="M31 119.1c62 0 198-55 260-55"/><path class="c4 o17" d="M31 168.4c62 0 198-132 260-132"/><path class="c18" d="M31 47c62 0 198 98 260 98"/><path class="c1 o17" d="M31 143.5c62 0 198-91.5 260-91.5"/><path class="c7" d="M31 86.8c62 0 198 39.5 260 39.5"/><path class="c9" d="M31 94.9c62 0 198 50.5 260 50.5"/><path class="c3 o18" d="M31 151.9c62 0 198-124 260-124"/><path class="c1 o20" d="M31 143.5c62 0 198-60.5 260-60.5"/><path class="c10" d="M31 102.7c62 0 198-47 260-47"/><path class="c0" d="M31 127.2c62 0 198-50.5 260-50.5"/><path class="c0 o17" d="M31 127.2c62 0 198-39 260-39"/><path class="c13" d="M31 78.9c62 0 198 17 260 17"/><path class="c7" d="M31 86.8c62 0 198 46.5 260 46.5"/><path class="c4 o19" d="M31 168.4c62 0 198-104.5 260-104.5"/><path class="c4 o17" d="M31 168.4c62 0 198-139.5 260-139.5"/><path class="c1 o17" d="M31 143.5c62 0 198-103 260-103"/><path class="c2 o18" d="M31 135.3c62 0 198-34.5 260-34.5"/><path class="c0" d="M31 127.2c62 0 198-32.5 260-32.5"/><path class="c10" d="M31 102.7c62 0 198-11 260-11"/><path class="c3 o20" d="M31 151.9c62 0 198-91 260-91"/><path class="c4" d="M31 168.4c62 0 198-148 260-148"/><path class="c14" d="M31 70.9c62 0 198 85 260 85"/><path class="c9" d="M31 94.9c62 0 198 26 260 26"/><path class="c2 o14" d="M31 135.3c62 0 198-48 260-48"/><path class="c4" d="M31 168.4c62 0 198-88 260-88"/><path class="c10" d="M31 102.7c62 0 198 32 260 32"/><path class="c2 o14" d="M31 135.3c62 0 198-96 260-96"/><path class="c2 o18" d="M31 135.3c62 0 198-68.5 260-68.5"/><path class="c1" d="M31 143.5c62 0 198-128 260-128"/><path class="c5 o20" d="M31 160.1c62 0 198-110.5 260-110.5"/><path class="c4" d="M31 168.4c62 0 198-144 260-144"/><path class="c0" d="M31 127.2c62 0 198-33 260-33"/><path class="c3 o18" d="M31 151.9c62 0 198-56.5 260-56.5"/><path class="c3 o20" d="M31 151.9c62 0 198-73.5 260-73.5"/><path class="c2 o14" d="M31 135.3c62 0 198-94.5 260-94.5"/><path class="c1 o20" d="M31 143.5c62 0 198-66.5 260-66.5"/><path class="c0" d="M31 127.2c62 0 198 9 260 9"/><path class="c1 o20" d="M31 143.5c62 0 198-81.5 260-81.5"/><path class="c10" d="M31 102.7c62 0 198 44 260 44"/><path class="c5 o15" d="M31 160.1c62 0 198-86.5 260-86.5"/><path class="c1 o20" d="M31 143.5c62 0 198-68 260-68"/><path class="c1 o17" d="M31 143.5c62 0 198-36 260-36"/><path class="c2 o18" d="M31 135.3c62 0 198-65.5 260-65.5"/><path class="c2 o14" d="M31 135.3c62 0 198-74 260-74"/><path class="c5 o15" d="M31 160.1c62 0 198-81.5 260-81.5"/><path class="c4" d="M31 168.4c62 0 198-138 260-138"/><path class="c0" d="M31 127.2c62 0 198-51.5 260-51.5"/><path class="c10" d="M31 102.7c62 0 198 12.5 260 12.5"/><path class="c0 o17" d="M31 127.2c62 0 198-24 260-24"/><path class="c3 o18" d="M31 151.9c62 0 198-61.5 260-61.5"/><path class="c2 o14" d="M31 135.3c62 0 198-86.5 260-86.5"/><path class="c3 o20" d="M31 151.9c62 0 198-71.5 260-71.5"/><path class="c3 o20" d="M31 151.9c62 0 198-67 260-67"/><path class="c1 o20" d="M31 143.5c62 0 198-73 260-73"/><path class="c9" d="M31 94.9c62 0 198 14.5 260 14.5"/><path class="c0 o17" d="M31 127.2c62 0 198-29 260-29"/><path class="c1 o20" d="M31 143.5c62 0 198-70 260-70"/><path class="c0" d="M31 127.2c62 0 198-27 260-27"/><path class="c0" d="M31 127.2c62 0 198-47 260-47"/><path class="c3 o20" d="M31 151.9c62 0 198-83 260-83"/><path class="c5 o15" d="M31 160.1c62 0 198-122.5 260-122.5"/><path class="c5 o15" d="M31 160.1c62 0 198-75.5 260-75.5"/><path class="c1 o20" d="M31 143.5c62 0 198-93 260-93"/><path class="c13" d="M31 78.9c62 0 198 61.5 260 61.5"/><path class="c3 o20" d="M31 151.9c62 0 198-98.5 260-98.5"/><path class="c2 o14" d="M31 135.3c62 0 198-31 260-31"/><path class="c2 o18" d="M31 135.3c62 0 198-69 260-69"/><path class="c2 o18" d="M31 135.3c62 0 198-68 260-68"/><path class="c0" d="M31 127.2c62 0 198-54.5 260-54.5"/><path class="c2 o14" d="M31 135.3c62 0 198-91 260-91"/><path class="c0" d="M31 127.2c62 0 198-60.5 260-60.5"/><path class="c6" d="M31 111.1c62 0 198 .5 260 .5"/><path class="c10" d="M31 102.7c62 0 198 23.5 260 23.5"/><path class="c1 o17" d="M31 143.5c62 0 198-86.5 260-86.5"/><path class="c5 o15" d="M31 160.1c62 0 198-67.5 260-67.5"/><path class="c4 o17" d="M31 168.4c62 0 198-104 260-104"/><path class="c8" d="M31 119.1c62 0 198-23.5 260-23.5"/><path class="c1 o20" d="M31 143.5c62 0 198-86 260-86"/><path class="c5 o15" d="M31 160.1c62 0 198-70.5 260-70.5"/><path class="c3 o20" d="M31 151.9c62 0 198-80.5 260-80.5"/><path class="c4 o17" d="M31 168.4c62 0 198-135.5 260-135.5"/><path class="c3 o18" d="M31 151.9c62 0 198-120 260-120"/><path class="c0" d="M31 127.2c62 0 198-49.5 260-49.5"/><path class="c7" d="M31 86.8c62 0 198 26 260 26"/><path class="c5 o15" d="M31 160.1c62 0 198-130.5 260-130.5"/><path class="c6" d="M31 111.1c62 0 198-15 260-15"/><path class="c3 o18" d="M31 151.9c62 0 198-59.5 260-59.5"/><path class="c13" d="M31 78.9c62 0 198 46 260 46"/><path class="c1 o17" d="M31 143.5c62 0 198-51 260-51"/><path class="c3 o20" d="M31 151.9c62 0 198-100.5 260-100.5"/><path class="c3 o18" d="M31 151.9c62 0 198-119.5 260-119.5"/><path class="c1 o17" d="M31 143.5c62 0 198-49.5 260-49.5"/><path class="c3 o20" d="M31 151.9c62 0 198-90.5 260-90.5"/><path class="c2 o14" d="M31 135.3c62 0 198-41 260-41"/><path class="c3 o18" d="M31 151.9c62 0 198-115 260-115"/><path class="c3 o18" d="M31 151.9c62 0 198-64 260-64"/><path class="c6" d="M31 111.1c62 0 198 5.5 260 5.5"/><path class="c3 o20" d="M31 151.9c62 0 198-82 260-82"/><path class="c7" d="M31 86.8c62 0 198 19.5 260 19.5"/><path class="c0" d="M31 127.2c62 0 198-28.5 260-28.5"/><path class="c3 o18" d="M31 151.9c62 0 198-111 260-111"/><path class="c0" d="M31 127.2c62 0 198-27.5 260-27.5"/><path class="c2 o14" d="M31 135.3c62 0 198-29.5 260-29.5"/><path class="c1 o20" d="M31 143.5c62 0 198-71.5 260-71.5"/><path class="c2 o18" d="M31 135.3c62 0 198-66 260-66"/><path class="c10" d="M31 102.7c62 0 198 6.5 260 6.5"/><path class="c8" d="M31 119.1c62 0 198-42 260-42"/><path class="c6" d="M31 111.1c62 0 198-6 260-6"/><path class="c5 o19" d="M31 160.1c62 0 198-94 260-94"/><path class="c5 o19" d="M31 160.1c62 0 198-83 260-83"/><path class="c1 o20" d="M31 143.5c62 0 198-92 260-92"/><path class="c0" d="M31 127.2c62 0 198-37.5 260-37.5"/><path class="c1 o17" d="M31 143.5c62 0 198-92.5 260-92.5"/><path class="c2 o18" d="M31 135.3c62 0 198-62 260-62"/><path class="c3 o18" d="M31 151.9c62 0 198-60.5 260-60.5"/><path class="c5 o15" d="M31 160.1c62 0 198-59 260-59"/><path class="c0" d="M31 127.2c62 0 198-56.5 260-56.5"/><path class="c5 o19" d="M31 160.1c62 0 198-114.5 260-114.5"/><path class="c0 o17" d="M31 127.2c62 0 198-35.5 260-35.5"/><path class="c3 o20" d="M31 151.9c62 0 198-65 260-65"/><path class="c0" d="M31 127.2c62 0 198-19 260-19"/><path class="c1 o20" d="M31 143.5c62 0 198-64 260-64"/><path class="c0" d="M31 127.2c62 0 198-53.5 260-53.5"/><path class="c0" d="M31 127.2c62 0 198-50 260-50"/><path class="c1 o20" d="M31 143.5c62 0 198-59.5 260-59.5"/><path class="c5 o20" d="M31 160.1c62 0 198-107 260-107"/><path class="c5 o15" d="M31 160.1c62 0 198-69.5 260-69.5"/><path class="c8" d="M31 119.1c62 0 198-30.5 260-30.5"/><path class="c8" d="M31 119.1c62 0 198-45.5 260-45.5"/><path class="c18" d="M31 47c62 0 198 102.5 260 102.5"/><path class="c19" d="M31 31.4c62 0 198 124 260 124"/><path class="c5 o20" d="M31 160.1c62 0 198-110 260-110"/><path class="c5 o15" d="M31 160.1c62 0 198-72 260-72"/><path class="c2 o18" d="M31 135.3c62 0 198-62.5 260-62.5"/><path class="c3 o20" d="M31 151.9c62 0 198-72.5 260-72.5"/><path class="c6" d="M31 111.1c62 0 198 31.5 260 31.5"/><path class="c3 o20" d="M31 151.9c62 0 198-85.5 260-85.5"/><path class="c3 o20" d="M31 151.9c62 0 198-87 260-87"/><path class="c8" d="M31 119.1c62 0 198-39 260-39"/><path class="c1 o20" d="M31 143.5c62 0 198-87 260-87"/><path class="c2 o14" d="M31 135.3c62 0 198-27.5 260-27.5"/><path class="c8" d="M31 119.1c62 0 198-3 260-3"/><path class="c10" d="M31 102.7c62 0 198 3 260 3"/><path class="c2 o14" d="M31 135.3c62 0 198-21 260-21"/><path class="c0" d="M31 127.2c62 0 198-30.5 260-30.5"/><path class="c5 o19" d="M31 160.1c62 0 198-118 260-118"/><path class="c1 o20" d="M31 143.5c62 0 198-78 260-78"/><path class="c2 o14" d="M31 135.3c62 0 198-87 260-87"/><path class="c6" d="M31 111.1c62 0 198-32.5 260-32.5"/><path class="c3 o18" d="M31 151.9c62 0 198-114 260-114"/><path class="c1 o20" d="M31 143.5c62 0 198-85 260-85"/><path class="c0 o17" d="M31 127.2c62 0 198-44 260-44"/><path class="c2 o18" d="M31 135.3c62 0 198-70.5 260-70.5"/><path class="c5 o19" d="M31 160.1c62 0 198-93 260-93"/><path class="c8" d="M31 119.1c62 0 198-30 260-30"/><path class="c7" d="M31 86.8c62 0 198-10.5 260-10.5"/><path class="c6" d="M31 111.1c62 0 198-24.5 260-24.5"/><path class="c7" d="M31 86.8c62 0 198 78.5 260 78.5"/><path class="c4 o17" d="M31 168.4c62 0 198-102 260-102"/><path class="c6" d="M31 111.1c62 0 198-2 260-2"/><path class="c6" d="M31 111.1c62 0 198-9.5 260-9.5"/><path class="c0" d="M31 127.2c62 0 198-22.5 260-22.5"/><path class="c3 o20" d="M31 151.9c62 0 198-80 260-80"/><path class="c0" d="M31 127.2c62 0 198-38 260-38"/><path class="c3 o20" d="M31 151.9c62 0 198-77.5 260-77.5"/><path class="c3 o20" d="M31 151.9c62 0 198-105 260-105"/><path class="c5 o19" d="M31 160.1c62 0 198-91 260-91"/><path class="c0" d="M31 127.2c62 0 198-12 260-12"/><path class="c1 o17" d="M31 143.5c62 0 198-110.5 260-110.5"/><path class="c0" d="M31 127.2c62 0 198-42.5 260-42.5"/><path class="c1 o20" d="M31 143.5c62 0 198-72 260-72"/><path class="c2 o14" d="M31 135.3c62 0 198-39 260-39"/><path class="c0" d="M31 127.2c62 0 198-10.5 260-10.5"/><path class="c2 o14" d="M31 135.3c62 0 198-89.5 260-89.5"/><path class="c1 o20" d="M31 143.5c62 0 198-85.5 260-85.5"/><path class="c9" d="M31 94.9c62 0 198 23 260 23"/><path class="c8" d="M31 119.1c62 0 198-37 260-37"/><path class="c6" d="M31 111.1c62 0 198 10.5 260 10.5"/><path class="c1 o17" d="M31 143.5c62 0 198-44.5 260-44.5"/><path class="c0" d="M31 127.2c62 0 198-26.5 260-26.5"/><path class="c1 o17" d="M31 143.5c62 0 198-31 260-31"/><path class="c5 o19" d="M31 160.1c62 0 198-118.5 260-118.5"/><path class="c8" d="M31 119.1c62 0 198-16 260-16"/><path class="c0" d="M31 127.2c62 0 198-63 260-63"/><path class="c3 o20" d="M31 151.9c62 0 198-74.5 260-74.5"/><path class="c2 o18" d="M31 135.3c62 0 198-59.5 260-59.5"/><path class="c10" d="M31 102.7c62 0 198-6 260-6"/><path class="c6" d="M31 111.1c62 0 198 12.5 260 12.5"/><path class="c13" d="M31 78.9c62 0 198 31.5 260 31.5"/><path class="c8" d="M31 119.1c62 0 198-44 260-44"/><path class="c2 o18" d="M31 135.3c62 0 198-46.5 260-46.5"/><path class="c8" d="M31 119.1c62 0 198-36 260-36"/><path class="c1 o20" d="M31 143.5c62 0 198-61.5 260-61.5"/><path class="c3 o18" d="M31 151.9c62 0 198-75 260-75"/><path class="c8" d="M31 119.1c62 0 198-18.5 260-18.5"/><path class="c9" d="M31 94.9c62 0 198 12 260 12"/><path class="c2" d="M31 135.3c62 0 198-11 260-11"/><path class="c3 o18" d="M31 151.9c62 0 198-64.5 260-64.5"/><path class="c6" d="M31 111.1c62 0 198 23.5 260 23.5"/><path class="c2 o18" d="M31 135.3c62 0 198-35.5 260-35.5"/><path class="c0" d="M31 127.2c62 0 198-55.5 260-55.5"/><path class="c1 o17" d="M31 143.5c62 0 198-25.5 260-25.5"/><path class="c6" d="M31 111.1c62 0 198-8.5 260-8.5"/><path class="c16" d="M31 15.7c62 0 198 149.5 260 149.5"/><path class="c10" d="M31 102.7c62 0 198 42.5 260 42.5"/><path class="c2 o18" d="M31 135.3c62 0 198-41.5 260-41.5"/><path class="c2 o18" d="M31 135.3c62 0 198-67.5 260-67.5"/><path class="c3 o18" d="M31 151.9c62 0 198-107 260-107"/><path class="c5 o15" d="M31 160.1c62 0 198-81 260-81"/><path class="c0" d="M31 127.2c62 0 198-17 260-17"/><path class="c2 o14" d="M31 135.3c62 0 198-75 260-75"/><path class="c3 o20" d="M31 151.9c62 0 198-95.5 260-95.5"/><path class="c10" d="M31 102.7c62 0 198 28 260 28"/><path class="c5 o15" d="M31 160.1c62 0 198-74 260-74"/><path class="c3 o20" d="M31 151.9c62 0 198-90 260-90"/><path class="c5" d="M31 160.1c62 0 198-46 260-46"/><path class="c0" d="M31 127.2c62 0 198-57 260-57"/><path class="c4" d="M31 168.4c62 0 198-134 260-134"/><path class="c2 o18" d="M31 135.3c62 0 198-45 260-45"/><path class="c2 o14" d="M31 135.3c62 0 198-78.5 260-78.5"/><path class="c0" d="M31 127.2c62 0 198-14 260-14"/><path class="c5" d="M31 160.1c62 0 198-35.5 260-35.5"/><path class="c0" d="M31 127.2c62 0 198-54 260-54"/><path class="c0 o17" d="M31 127.2c62 0 198-37 260-37"/><path class="c2 o19" d="M31 135.3c62 0 198-58 260-58"/><path class="c6" d="M31 111.1c62 0 198 36.5 260 36.5"/><path class="c2 o18" d="M31 135.3c62 0 198-51.5 260-51.5"/><path class="c2 o18" d="M31 135.3c62 0 198-37.5 260-37.5"/><path class="c3 o18" d="M31 151.9c62 0 198-109.5 260-109.5"/><path class="c3 o18" d="M31 151.9c62 0 198-104.5 260-104.5"/><path class="c17" d="M31 176.9c62 0 198-140 260-140"/><path class="c4" d="M31 168.4c62 0 198-140.5 260-140.5"/><path class="c4 o19" d="M31 168.4c62 0 198-109 260-109"/><path class="c3 o20" d="M31 151.9c62 0 198-78.5 260-78.5"/><path class="c8" d="M31 119.1c62 0 198-31 260-31"/><path class="c3 o18" d="M31 151.9c62 0 198-108.5 260-108.5"/><path class="c3 o20" d="M31 151.9c62 0 198-91.5 260-91.5"/><path class="c0 o17" d="M31 127.2c62 0 198-43 260-43"/><path class="c5 o15" d="M31 160.1c62 0 198-76 260-76"/><path class="c7" d="M31 86.8c62 0 198 49.5 260 49.5"/><path class="c0" d="M31 127.2c62 0 198-28 260-28"/><path class="c0" d="M31 127.2c62 0 198-22 260-22"/><path class="c5 o15" d="M31 160.1c62 0 198-78.5 260-78.5"/><path class="c17" d="M31 176.9c62 0 198-132.5 260-132.5"/><path class="c0" d="M31 127.2c62 0 198-61.5 260-61.5"/><path class="c3 o18" d="M31 151.9c62 0 198-70.5 260-70.5"/><path class="c2 o18" d="M31 135.3c62 0 198-47 260-47"/><path class="c3 o20" d="M31 151.9c62 0 198-103.5 260-103.5"/><path class="c8" d="M31 119.1c62 0 198-20.5 260-20.5"/><path class="c1 o17" d="M31 143.5c62 0 198-62.5 260-62.5"/><path class="c5 o15" d="M31 160.1c62 0 198-126.5 260-126.5"/><path class="c1 o17" d="M31 143.5c62 0 198-99.5 260-99.5"/><path class="c3 o20" d="M31 151.9c62 0 198-89.5 260-89.5"/><path class="c5 o19" d="M31 160.1c62 0 198-94.5 260-94.5"/><path class="c2 o18" d="M31 135.3c62 0 198-74.5 260-74.5"/><path class="c8" d="M31 119.1c62 0 198-38 260-38"/><path class="c10" d="M31 102.7c62 0 198 16.5 260 16.5"/><path class="c9" d="M31 94.9c62 0 198 46.5 260 46.5"/><path class="c8" d="M31 119.1c62 0 198 2.5 260 2.5"/><path class="c4" d="M31 168.4c62 0 198-91 260-91"/><path class="c1 o20" d="M31 143.5c62 0 198-84 260-84"/><path class="c5 o19" d="M31 160.1c62 0 198-98.5 260-98.5"/><path class="c5 o20" d="M31 160.1c62 0 198-99 260-99"/><path class="c10" d="M31 102.7c62 0 198 26.5 260 26.5"/><path class="c2 o14" d="M31 135.3c62 0 198-83.5 260-83.5"/><path class="c0" d="M31 127.2c62 0 198-88.5 260-88.5"/><path class="c1 o17" d="M31 143.5c62 0 198-100 260-100"/><path class="c0" d="M31 127.2c62 0 198-80.5 260-80.5"/><path class="c10" d="M31 102.7c62 0 198-3.5 260-3.5"/><path class="c1 o17" d="M31 143.5c62 0 198-90.5 260-90.5"/><path class="c4 o17" d="M31 168.4c62 0 198-102.5 260-102.5"/><path class="c0" d="M31 127.2c62 0 198-69.5 260-69.5"/><path class="c7" d="M31 86.8c62 0 198 42 260 42"/><path class="c5 o15" d="M31 160.1c62 0 198-79 260-79"/><path class="c10" d="M31 102.7c62 0 198 10 260 10"/><path class="c10" d="M31 102.7c62 0 198-31 260-31"/><path class="c1 o17" d="M31 143.5c62 0 198-89.5 260-89.5"/><path class="c8" d="M31 119.1c62 0 198-60.5 260-60.5"/><path class="c2 o14" d="M31 135.3c62 0 198-33 260-33"/><path class="c6" d="M31 111.1c62 0 198-14.5 260-14.5"/><path class="c5 o19" d="M31 160.1c62 0 198-109 260-109"/><path class="c3 o18" d="M31 151.9c62 0 198-112 260-112"/><path class="c1 o20" d="M31 143.5c62 0 198-84.5 260-84.5"/><path class="c1 o17" d="M31 143.5c62 0 198-33.5 260-33.5"/><path class="c8" d="M31 119.1c62 0 198-4 260-4"/><path class="c2 o18" d="M31 135.3c62 0 198-40 260-40"/><path class="c3 o20" d="M31 151.9c62 0 198-82.5 260-82.5"/><path class="c5 o19" d="M31 160.1c62 0 198-89.5 260-89.5"/><path class="c1 o20" d="M31 143.5c62 0 198-64.5 260-64.5"/><path class="c2 o14" d="M31 135.3c62 0 198-36 260-36"/><path class="c9" d="M31 94.9c62 0 198 8.5 260 8.5"/><path class="c18" d="M31 47c62 0 198 73.5 260 73.5"/><path class="c5 o20" d="M31 160.1c62 0 198-97.5 260-97.5"/><path class="c8" d="M31 119.1c62 0 198-26 260-26"/><path class="c3 o18" d="M31 151.9c62 0 198-66 260-66"/><path class="c8" d="M31 119.1c62 0 198-40 260-40"/><path class="c1 o17" d="M31 143.5c62 0 198-54 260-54"/><path class="c1 o17" d="M31 143.5c62 0 198-52.5 260-52.5"/><path class="c3 o18" d="M31 151.9c62 0 198-116 260-116"/><path class="c8" d="M31 119.1c62 0 198-80 260-80"/><path class="c1 o17" d="M31 143.5c62 0 198-41.5 260-41.5"/><path class="c0" d="M31 127.2c62 0 198-45 260-45"/><path class="c6" d="M31 111.1c62 0 198-52 260-52"/><path class="c2 o14" d="M31 135.3c62 0 198-81 260-81"/><path class="c5 o15" d="M31 160.1c62 0 198-136 260-136"/><path class="c6" d="M31 111.1c62 0 198-13 260-13"/><path class="c9" d="M31 94.9c62 0 198 33.5 260 33.5"/><path class="c1 o17" d="M31 143.5c62 0 198-55.5 260-55.5"/><path class="c9" d="M31 94.9c62 0 198 31.5 260 31.5"/><path class="c3 o20" d="M31 151.9c62 0 198-78 260-78"/><path class="c5 o19" d="M31 160.1c62 0 198-121.5 260-121.5"/><path class="c1 o17" d="M31 143.5c62 0 198-47 260-47"/><path class="c8" d="M31 119.1c62 0 198-12.5 260-12.5"/><path class="c8" d="M31 119.1c62 0 198-52.5 260-52.5"/><path class="c3 o18" d="M31 151.9c62 0 198-112.5 260-112.5"/><path class="c1 o17" d="M31 143.5c62 0 198-88 260-88"/><path class="c2 o14" d="M31 135.3c62 0 198-20 260-20"/><path class="c6" d="M31 111.1c62 0 198-26 260-26"/><path class="c1 o17" d="M31 143.5c62 0 198-111 260-111"/><path class="c6" d="M31 111.1c62 0 198 14.5 260 14.5"/><path class="c5 o15" d="M31 160.1c62 0 198-138.5 260-138.5"/><path class="c0" d="M31 127.2c62 0 198 3.5 260 3.5"/><path class="c3 o20" d="M31 151.9c62 0 198-101.5 260-101.5"/><path class="c10" d="M31 102.7c62 0 198 30 260 30"/><path class="c0" d="M31 127.2c62 0 198-15 260-15"/><path class="c3 o18" d="M31 151.9c62 0 198-55 260-55"/><path class="c3 o20" d="M31 151.9c62 0 198-89 260-89"/><path class="c15" d="M31 39.2c62 0 198 123 260 123"/><path class="c5 o15" d="M31 160.1c62 0 198-56.5 260-56.5"/><path class="c4" d="M31 168.4c62 0 198-133.5 260-133.5"/><path class="c7" d="M31 86.8c62 0 198 22.5 260 22.5"/><path class="c3 o20" d="M31 151.9c62 0 198-70 260-70"/><path class="c0" d="M31 127.2c62 0 198-25.5 260-25.5"/><path class="c8" d="M31 119.1c62 0 198-2 260-2"/><path class="c10" d="M31 102.7c62 0 198 20.5 260 20.5"/><path class="c8" d="M31 119.1c62 0 198 4 260 4"/><path class="c7" d="M31 86.8c62 0 198 45 260 45"/><path class="c9" d="M31 94.9c62 0 198-10 260-10"/><path class="c1 o17" d="M31 143.5c62 0 198-49 260-49"/><path class="c3 o18" d="M31 151.9c62 0 198-118 260-118"/><path class="c3 o18" d="M31 151.9c62 0 198-53.5 260-53.5"/><path class="c0 o17" d="M31 127.2c62 0 198-34.5 260-34.5"/><path class="c2 o14" d="M31 135.3c62 0 198-99 260-99"/><path class="c2 o14" d="M31 135.3c62 0 198-73 260-73"/><path class="c8" d="M31 119.1c62 0 198-26.5 260-26.5"/><path class="c3 o20" d="M31 151.9c62 0 198-108 260-108"/><path class="c4 o17" d="M31 168.4c62 0 198-105 260-105"/><path class="c1 o17" d="M31 143.5c62 0 198-102.5 260-102.5"/><path class="c1 o17" d="M31 143.5c62 0 198-37 260-37"/><path class="c5 o15" d="M31 160.1c62 0 198-128.5 260-128.5"/><path class="c4" d="M31 168.4c62 0 198-131.5 260-131.5"/><path class="c8" d="M31 119.1c62 0 198-51.5 260-51.5"/><path class="c6" d="M31 111.1c62 0 198-28 260-28"/><path class="c8" d="M31 119.1c62 0 198-22 260-22"/><path class="c9" d="M31 94.9c62 0 198 40.5 260 40.5"/><path class="c13" d="M31 78.9c62 0 198 55 260 55"/><path class="c4 o17" d="M31 168.4c62 0 198-107.5 260-107.5"/><path class="c4 o17" d="M31 168.4c62 0 198-132.5 260-132.5"/><path class="c0" d="M31 127.2c62 0 198-70.5 260-70.5"/><path class="c0" d="M31 127.2c62 0 198-16.5 260-16.5"/><path class="c2 o14" d="M31 135.3c62 0 198-22 260-22"/><path class="c2 o14" d="M31 135.3c62 0 198-28 260-28"/><path class="c1 o17" d="M31 143.5c62 0 198-44 260-44"/><path class="c0" d="M31 127.2c62 0 198-34 260-34"/><path class="c1 o20" d="M31 143.5c62 0 198-46 260-46"/><path class="c5 o15" d="M31 160.1c62 0 198-77 260-77"/><path class="c9" d="M31 94.9c62 0 198 21 260 21"/><path class="c1 o20" d="M31 143.5c62 0 198-74.5 260-74.5"/><path class="c1 o17" d="M31 143.5c62 0 198-93.5 260-93.5"/><path class="c1 o17" d="M31 143.5c62 0 198-61 260-61"/><path class="c0" d="M31 127.2c62 0 198-36 260-36"/><path class="c0" d="M31 127.2c62 0 198-57.5 260-57.5"/><path class="c0" d="M31 127.2c62 0 198-15.5 260-15.5"/><path class="c14" d="M31 70.9c62 0 198 79 260 79"/><path class="c7" d="M31 86.8c62 0 198 4 260 4"/><path class="c0" d="M31 127.2c62 0 198-21 260-21"/><path class="c5 o15" d="M31 160.1c62 0 198-83.5 260-83.5"/><path class="c1 o17" d="M31 143.5c62 0 198-98.5 260-98.5"/><path class="c0" d="M31 127.2c62 0 198-110.5 260-110.5"/><path class="c11" d="M31 62.8c62 0 198 20.5 260 20.5"/><path class="c0" d="M31 127.2c62 0 198-3 260-3"/><path class="c0" d="M31 127.2c62 0 198-36.5 260-36.5"/><path class="c0" d="M31 127.2c62 0 198-56 260-56"/><path class="c0" d="M31 127.2c62 0 198-20 260-20"/><path class="c8" d="M31 119.1c62 0 198-14 260-14"/><path class="c6" d="M31 111.1c62 0 198-7 260-7"/><path class="c1 o17" d="M31 143.5c62 0 198-50 260-50"/><path class="c8" d="M31 119.1c62 0 198-42.5 260-42.5"/><path class="c10" d="M31 102.7c62 0 198 37 260 37"/><path class="c3 o18" d="M31 151.9c62 0 198-113.5 260-113.5"/><path class="c8" d="M31 119.1c62 0 198-18 260-18"/><path class="c3 o20" d="M31 151.9c62 0 198-84 260-84"/><path class="c4 o17" d="M31 168.4c62 0 198-114 260-114"/><path class="c0 o17" d="M31 127.2c62 0 198-51 260-51"/><path class="c8" d="M31 119.1c62 0 198-10.5 260-10.5"/><path class="c8" d="M31 119.1c62 0 198 0 260 0"/><path class="c4 o19" d="M31 168.4c62 0 198-108 260-108"/><path class="c4" d="M31 168.4c62 0 198-94 260-94"/><path class="c8" d="M31 119.1c62 0 198-7.5 260-7.5"/><path class="c0" d="M31 127.2c62 0 198-46.5 260-46.5"/><path class="c3 o20" d="M31 151.9c62 0 198-104 260-104"/><path class="c3 o20" d="M31 151.9c62 0 198-69 260-69"/><path class="c1 o20" d="M31 143.5c62 0 198-72.5 260-72.5"/><path class="c8" d="M31 119.1c62 0 198-47.5 260-47.5"/><path class="c5 o15" d="M31 160.1c62 0 198-120.5 260-120.5"/><path class="c8" d="M31 119.1c62 0 198-6 260-6"/><path class="c1 o17" d="M31 143.5c62 0 198-96.5 260-96.5"/><path class="c3 o18" d="M31 151.9c62 0 198-65.5 260-65.5"/><path class="c8" d="M31 119.1c62 0 198-9 260-9"/><path class="c9" d="M31 94.9c62 0 198 38 260 38"/><path class="c8" d="M31 119.1c62 0 198-4.5 260-4.5"/><path class="c3 o18" d="M31 151.9c62 0 198-62 260-62"/><path class="c0" d="M31 127.2c62 0 198-62 260-62"/><path class="c6" d="M31 111.1c62 0 198 1.5 260 1.5"/><path class="c6" d="M31 111.1c62 0 198-3 260-3"/><path class="c0" d="M31 127.2c62 0 198-45.5 260-45.5"/><path class="c0" d="M31 127.2c62 0 198-78 260-78"/><path class="c9" d="M31 94.9c62 0 198 18 260 18"/><path class="c2 o18" d="M31 135.3c62 0 198-76.5 260-76.5"/><path class="c8" d="M31 119.1c62 0 198-22.5 260-22.5"/><path class="c0" d="M31 127.2c62 0 198-47.5 260-47.5"/><path class="c6" d="M31 111.1c62 0 198-18.5 260-18.5"/><path class="c6" d="M31 111.1c62 0 198 29.5 260 29.5"/><path class="c8" d="M31 119.1c62 0 198-48.5 260-48.5"/><path class="c1" d="M31 143.5c62 0 198-122 260-122"/><path class="c5 o15" d="M31 160.1c62 0 198-122 260-122"/><path class="c2 o14" d="M31 135.3c62 0 198-26.5 260-26.5"/><path class="c3 o18" d="M31 151.9c62 0 198-53 260-53"/><path class="c3" d="M31 151.9c62 0 198-23.5 260-23.5"/><path class="c10" d="M31 102.7c62 0 198 38.5 260 38.5"/><path class="c6" d="M31 111.1c62 0 198 20.5 260 20.5"/><path class="c5 o15" d="M31 160.1c62 0 198-79.5 260-79.5"/><path class="c13" d="M31 78.9c62 0 198 28 260 28"/><path class="c2 o14" d="M31 135.3c62 0 198-25 260-25"/><path class="c5 o15" d="M31 160.1c62 0 198-124 260-124"/><path class="c3 o18" d="M31 151.9c62 0 198-60 260-60"/><path class="c2 o14" d="M31 135.3c62 0 198-92 260-92"/><path class="c3 o20" d="M31 151.9c62 0 198-75.5 260-75.5"/><path class="c6" d="M31 111.1c62 0 198 25 260 25"/><path class="c4" d="M31 168.4c62 0 198-145 260-145"/><path class="c1 o17" d="M31 143.5c62 0 198-104.5 260-104.5"/><path class="c2 o14" d="M31 135.3c62 0 198-63.5 260-63.5"/><path class="c9" d="M31 94.9c62 0 198 27 260 27"/><path class="c10" d="M31 102.7c62 0 198 18 260 18"/><path class="c3" d="M31 151.9c62 0 198 4 260 4"/><path class="c5 o19" d="M31 160.1c62 0 198-90.5 260-90.5"/><path class="c0" d="M31 127.2c62 0 198-13 260-13"/><path class="c6" d="M31 111.1c62 0 198 60.5 260 60.5"/><path class="c0" d="M31 127.2c62 0 198-39.5 260-39.5"/><path class="c1 o17" d="M31 143.5c62 0 198-101.5 260-101.5"/><path class="c5 o15" d="M31 160.1c62 0 198-127.5 260-127.5"/><path class="c0" d="M31 127.2c62 0 198-65.5 260-65.5"/><path class="c10" d="M31 102.7c62 0 198 64.5 260 64.5"/><path class="c8" d="M31 119.1c62 0 198-20 260-20"/><path class="c0" d="M31 127.2c62 0 198-6.5 260-6.5"/><path class="c5 o15" d="M31 160.1c62 0 198-126 260-126"/><path class="c6" d="M31 111.1c62 0 198-22 260-22"/><path class="c2 o14" d="M31 135.3c62 0 198-24.5 260-24.5"/><path class="c8" d="M31 119.1c62 0 198-16.5 260-16.5"/><path class="c8" d="M31 119.1c62 0 198 7 260 7"/><path class="c5 o15" d="M31 160.1c62 0 198-132 260-132"/><path class="c6" d="M31 111.1c62 0 198 20 260 20"/><path class="c0" d="M31 127.2c62 0 198-53 260-53"/><path class="c1 o17" d="M31 143.5c62 0 198-94 260-94"/><path class="c0" d="M31 127.2c62 0 198-55 260-55"/><path class="c9" d="M31 94.9c62 0 198 2 260 2"/><path class="c6" d="M31 111.1c62 0 198 8.5 260 8.5"/><path class="c3 o18" d="M31 151.9c62 0 198-110 260-110"/><path class="c3 o18" d="M31 151.9c62 0 198-47 260-47"/><path class="c3 o18" d="M31 151.9c62 0 198-68.5 260-68.5"/><path class="c1 o17" d="M31 143.5c62 0 198-43.5 260-43.5"/><path class="c5 o19" d="M31 160.1c62 0 198-100 260-100"/><path class="c0" d="M31 127.2c62 0 198-43.5 260-43.5"/><path class="c6" d="M31 111.1c62 0 198 7 260 7"/><path class="c5 o15" d="M31 160.1c62 0 198-76.5 260-76.5"/><path class="c2 o14" d="M31 135.3c62 0 198-57 260-57"/><path class="c3 o18" d="M31 151.9c62 0 198-51.5 260-51.5"/><path class="c5 o15" d="M31 160.1c62 0 198-61 260-61"/><path class="c4" d="M31 168.4c62 0 198-137 260-137"/><path class="c9" d="M31 94.9c62 0 198 41.5 260 41.5"/><path class="c2 o14" d="M31 135.3c62 0 198-23 260-23"/><path class="c3 o18" d="M31 151.9c62 0 198-129 260-129"/><path class="c5" d="M31 160.1c62 0 198-39 260-39"/><path class="c8" d="M31 119.1c62 0 198-24.5 260-24.5"/><path class="c3" d="M31 151.9c62 0 198 25 260 25"/><path class="c9" d="M31 94.9c62 0 198 45 260 45"/><path class="c6" d="M31 111.1c62 0 198 2.5 260 2.5"/><path class="c2 o14" d="M31 135.3c62 0 198-35 260-35"/><path class="c2 o14" d="M31 135.3c62 0 198-17.5 260-17.5"/><path class="c19" d="M31 31.4c62 0 198 116.5 260 116.5"/><path class="c14" d="M31 70.9c62 0 198 25 260 25"/><path class="c6" d="M31 111.1c62 0 198-39.5 260-39.5"/><path class="c0" d="M31 127.2c62 0 198-73.5 260-73.5"/><path class="c8" d="M31 119.1c62 0 198-35 260-35"/><path class="c1 o17" d="M31 143.5c62 0 198-98 260-98"/><path class="c4" d="M31 168.4c62 0 198-143 260-143"/><path class="c5 o15" d="M31 160.1c62 0 198-133 260-133"/><path class="c1" d="M31 143.5c62 0 198-15.5 260-15.5"/><path class="c1 o17" d="M31 143.5c62 0 198-95.5 260-95.5"/><path class="c3 o18" d="M31 151.9c62 0 198-122.5 260-122.5"/><path class="c2 o14" d="M31 135.3c62 0 198-89 260-89"/><path class="c5 o15" d="M31 160.1c62 0 198-125.5 260-125.5"/></g><line x1="31.0" y1="15.6" x2="31.0" y2="177.0" stroke="#7a7a7a" stroke-width="1.1"/><line x1="291.3" y1="15.6" x2="291.3" y2="177.0" stroke="#555" stroke-width="1.0"/><text transform="translate(18.74,18.20) scale(1.265,1)" font-size="7.27">27</text><text transform="translate(19.23,180.00) scale(1.206,1)" font-size="7.27">18</text><text transform="translate(276.34,18.20) scale(1.282,1)" font-size="7.27">0.5</text><text transform="translate(272.17,180.00) scale(1.189,1)" font-size="7.27">−0.0</text><text transform="translate(9.97,200.10) scale(1.183,1)" font-size="7.56">LST_1991</text><text transform="translate(268.08,200.10) scale(1.163,1)" font-size="7.56">NDVI_1991</text><defs><linearGradient id="cb1991" x1="0" y1="0" x2="0" y2="1"><stop offset="0" stop-color="#4446f2"/><stop offset="0.25" stop-color="#45eef2"/><stop offset="0.5" stop-color="#46e446"/><stop offset="0.75" stop-color="#f8ee3c"/><stop offset="0.88" stop-color="#fa9c3c"/><stop offset="1.0" stop-color="#f24646"/></linearGradient></defs><rect x="301.3" y="36.6" width="14.70" height="91.30" fill="url(#cb1991)" stroke="#333" stroke-width="0.7"/><line x1="316.00" y1="36.60" x2="319.20" y2="36.60" stroke="#333" stroke-width="0.8"/><text transform="translate(321.60,38.50) scale(1.097,1)" font-size="5.52">26.68</text><line x1="316.00" y1="48.01" x2="319.20" y2="48.01" stroke="#bbb" stroke-width="0.8"/><text transform="translate(321.59,49.91) scale(1.099,1)" font-size="5.52">25.59</text><line x1="316.00" y1="59.43" x2="319.20" y2="59.43" stroke="#333" stroke-width="0.8"/><text transform="translate(321.59,61.33) scale(1.099,1)" font-size="5.52">24.49</text><line x1="316.00" y1="70.84" x2="319.20" y2="70.84" stroke="#333" stroke-width="0.8"/><text transform="translate(321.60,72.74) scale(1.095,1)" font-size="5.52">23.40</text><line x1="316.00" y1="82.25" x2="319.20" y2="82.25" stroke="#333" stroke-width="0.8"/><text transform="translate(321.60,84.15) scale(1.095,1)" font-size="5.52">22.30</text><line x1="316.00" y1="93.66" x2="319.20" y2="93.66" stroke="#bbb" stroke-width="0.8"/><text transform="translate(321.59,95.56) scale(1.100,1)" font-size="5.52">21.21</text><line x1="316.00" y1="105.08" x2="319.20" y2="105.08" stroke="#333" stroke-width="0.8"/><text transform="translate(321.59,106.98) scale(1.100,1)" font-size="5.52">20.11</text><line x1="316.00" y1="116.49" x2="319.20" y2="116.49" stroke="#333" stroke-width="0.8"/><text transform="translate(321.43,118.39) scale(1.113,1)" font-size="5.52">19.02</text><line x1="316.00" y1="127.90" x2="319.20" y2="127.90" stroke="#333" stroke-width="0.8"/><text transform="translate(321.43,129.80) scale(1.113,1)" font-size="5.52">17.92</text><text transform="translate(287.66,31.30) scale(1.288,1)" font-size="6.98">LST_1991</text><path d="M404.9,18.8 L404.9,18.8 406.0,18.6 407.4,18.4 409.2,18.2 411.0,17.9 412.8,17.5 414.4,17.1 415.8,16.6 417.1,16.0 418.3,15.4 419.5,14.7 420.8,14.0 422.0,13.3 423.3,12.5 424.5,11.6 425.7,10.7 427.0,9.8 428.2,9.0 429.5,8.3 430.8,7.7 432.2,7.2 433.5,6.7 434.8,6.3 436.1,6.0 437.1,5.7 437.9,5.5 438.6,5.3 439.1,5.3 439.6,5.2 440.2,5.2 440.9,5.3 441.7,5.4 442.5,5.5 443.4,5.7 444.3,5.9 445.4,6.2 446.6,6.5 447.9,6.9 449.4,7.3 451.0,7.8 452.7,8.4 454.4,8.9 456.1,9.5 457.9,10.1 459.8,10.8 461.7,11.4 463.6,12.1 465.6,12.7 467.5,13.3 469.4,13.8 471.3,14.3 473.2,14.8 475.1,15.2 477.0,15.6 478.9,15.9 480.7,16.1 482.4,16.3 484.1,16.4 485.9,16.5 488.0,16.6 490.3,16.7 492.9,16.8 495.8,17.0 498.8,17.1 502.1,17.3 505.5,17.4 509.2,17.5 513.2,17.6 517.5,17.6 522.0,17.6 526.6,17.7 531.3,17.7 535.8,17.8 540.5,17.9 545.7,18.1 550.8,18.3 555.5,18.5 559.5,18.7 562.4,18.8 L562.4,18.8 Z" fill="#d5e4f7" stroke="#b4cbee" stroke-width="0.5"/><path d="M644.5,29.0 L644.5,29.0 644.8,29.6 645.1,30.5 645.5,31.5 646.0,32.6 646.5,33.8 647.0,35.0 647.6,36.2 648.1,37.6 648.8,39.0 649.5,40.4 650.2,41.8 651.0,43.0 651.9,44.1 652.9,45.2 653.9,46.2 654.9,47.2 656.0,48.1 657.0,49.0 658.0,49.8 659.1,50.5 660.2,51.1 661.2,51.7 662.2,52.4 663.0,53.0 663.7,53.6 664.3,54.3 664.8,54.9 665.2,55.5 665.6,56.2 666.0,57.0 666.4,57.9 666.7,58.8 666.9,59.8 667.2,60.8 667.3,61.9 667.4,63.0 667.4,64.2 667.4,65.5 667.2,66.9 667.1,68.3 666.9,69.6 666.6,71.0 666.3,72.3 665.9,73.7 665.5,75.0 665.0,76.3 664.5,77.7 664.0,79.0 663.4,80.3 662.7,81.7 662.0,83.0 661.3,84.3 660.6,85.7 660.0,87.0 659.4,88.3 658.9,89.7 658.4,91.0 658.0,92.3 657.5,93.7 657.0,95.0 656.5,96.3 656.0,97.6 655.5,98.9 655.0,100.2 654.5,101.6 654.0,103.0 653.5,104.6 652.9,106.2 652.4,107.9 651.9,109.6 651.4,111.3 651.0,113.0 650.7,114.7 650.4,116.3 650.1,118.0 649.9,119.7 649.7,121.3 649.4,123.0 649.1,124.7 648.7,126.3 648.4,128.0 648.0,129.7 647.7,131.3 647.4,133.0 647.1,134.7 646.9,136.4 646.7,138.1 646.5,139.8 646.2,141.4 646.0,143.0 645.7,144.5 645.5,146.1 645.2,147.6 644.9,149.0 644.7,150.2 644.5,151.0 L644.5,151.0 Z" fill="#d5e4f7" stroke="#b4cbee" stroke-width="0.5"/><line x1="384.4" y1="18.8" x2="644.5" y2="18.8" stroke="#a0a0a0" stroke-width="1.1"/><line x1="644.5" y1="18.8" x2="644.5" y2="172.4" stroke="#555b64" stroke-width="1.1"/><path d="M408.8,50.6 L417.4,55.6 L426.0,60.6 L434.6,65.6 L443.2,70.5 L451.8,75.5 L460.4,80.3 L469.0,85.2 L477.6,90.0 L486.2,94.8 L494.8,99.7 L503.4,104.5 L512.0,109.3 L520.5,114.1 L529.1,118.9 L537.7,123.7 L546.3,128.5 L554.9,133.3 L563.5,138.2 L572.1,143.0 L580.7,147.8 L589.3,152.6 L597.9,157.4 L606.5,162.2 L615.1,167.0 L615.1,174.4 L606.5,169.3 L597.9,164.1 L589.3,159.0 L580.7,153.9 L572.1,148.7 L563.5,143.6 L554.9,138.5 L546.3,133.3 L537.7,128.2 L529.1,123.1 L520.5,117.9 L512.0,112.8 L503.4,107.7 L494.8,102.5 L486.2,97.4 L477.6,92.3 L469.0,87.2 L460.4,82.1 L451.8,77.1 L443.2,72.0 L434.6,67.0 L426.0,62.1 L417.4,57.1 L408.8,52.2 Z" fill="#c4d9f5"/><line x1="408.8" y1="51.4" x2="615.1" y2="170.7" stroke="#8db0e6" stroke-width="0.6"/><path d="M405.7 54.6h1.1M405.7 52.4h1.1M405.7 50.2h1.1M405.7 48.4h1.1M416.6 72.1h1.1M416.6 70.3h1.1M416.6 69.6h1.1M416.6 67.4h1.1M416.6 66.6h1.1M416.6 65.0h1.1M416.6 63.3h1.1M416.6 62.2h1.1M416.6 60.6h1.1M416.6 59.6h1.1M416.6 57.6h1.1M416.6 56.4h1.1M416.6 55.1h1.1M416.6 53.3h1.1M416.6 52.3h1.1M416.6 50.7h1.1M416.6 49.5h1.1M416.6 47.9h1.1M416.6 46.6h1.1M416.6 45.1h1.1M416.6 43.3h1.1M416.6 42.3h1.1M416.6 40.7h1.1M416.6 38.8h1.1M416.6 37.4h1.1M416.6 36.4h1.1M416.6 78.0h1.1M416.6 80.2h1.1M416.6 82.4h1.1M427.2 102.8h1.1M427.2 101.6h1.1M427.2 100.2h1.1M427.2 98.1h1.1M427.2 97.0h1.1M427.2 95.9h1.1M427.2 94.1h1.1M427.2 92.5h1.1M427.2 91.2h1.1M427.2 89.5h1.1M427.2 88.8h1.1M427.2 86.9h1.1M427.2 85.5h1.1M427.2 84.4h1.1M427.2 82.5h1.1M427.2 80.9h1.1M427.2 79.6h1.1M427.2 78.5h1.1M427.2 76.5h1.1M427.2 75.4h1.1M427.2 73.9h1.1M427.2 72.3h1.1M427.2 71.3h1.1M427.2 69.3h1.1M427.2 68.0h1.1M427.2 66.5h1.1M427.2 65.5h1.1M427.2 63.6h1.1M427.2 62.6h1.1M427.2 61.3h1.1M427.2 59.2h1.1M427.2 57.7h1.1M427.2 56.3h1.1M427.2 55.2h1.1M427.2 53.9h1.1M427.2 52.7h1.1M427.2 50.7h1.1M427.2 49.2h1.1M427.2 47.6h1.1M427.2 46.7h1.1M427.2 45.3h1.1M427.2 43.5h1.1M427.2 41.9h1.1M427.2 40.3h1.1M427.2 39.5h1.1M427.2 37.8h1.1M427.2 36.4h1.1M427.2 108.8h1.1M427.2 111.8h1.1M427.2 114.3h1.1M427.2 116.9h1.1M437.8 101.1h1.1M437.8 99.6h1.1M437.8 98.6h1.1M437.8 96.6h1.1M437.8 95.0h1.1M437.8 93.6h1.1M437.8 92.1h1.1M437.8 90.9h1.1M437.8 89.8h1.1M437.8 87.9h1.1M437.8 86.9h1.1M437.8 85.0h1.1M437.8 84.2h1.1M437.8 82.1h1.1M437.8 81.2h1.1M437.8 79.6h1.1M437.8 78.2h1.1M437.8 76.5h1.1M437.8 75.5h1.1M437.8 73.8h1.1M437.8 72.7h1.1M437.8 71.1h1.1M437.8 69.5h1.1M437.8 68.3h1.1M437.8 66.4h1.1M437.8 65.2h1.1M437.8 63.5h1.1M437.8 62.1h1.1M437.8 60.9h1.1M437.8 59.1h1.1M437.8 57.8h1.1M437.8 56.2h1.1M437.8 55.2h1.1M437.8 53.6h1.1M437.8 52.4h1.1M437.8 50.3h1.1M437.8 49.5h1.1M437.8 48.1h1.1M437.8 46.8h1.1M437.8 45.2h1.1M437.8 43.3h1.1M437.8 41.9h1.1M437.8 41.0h1.1M437.8 39.3h1.1M437.8 37.9h1.1M437.8 36.4h1.1M437.8 106.6h1.1M437.8 111.0h1.1M437.8 115.3h1.1M437.8 120.0h1.1M437.8 141.5h1.1M437.8 157.9h1.1M448.5 110.3h1.1M448.5 108.8h1.1M448.5 107.1h1.1M448.5 105.8h1.1M448.5 104.6h1.1M448.5 103.1h1.1M448.5 101.7h1.1M448.5 100.5h1.1M448.5 99.0h1.1M448.5 97.4h1.1M448.5 96.0h1.1M448.5 94.5h1.1M448.5 92.8h1.1M448.5 91.0h1.1M448.5 89.8h1.1M448.5 88.3h1.1M448.5 86.9h1.1M448.5 85.6h1.1M448.5 83.8h1.1M448.5 82.6h1.1M448.5 81.3h1.1M448.5 80.2h1.1M448.5 78.4h1.1M448.5 77.2h1.1M448.5 75.8h1.1M448.5 74.0h1.1M448.5 72.4h1.1M448.5 71.3h1.1M448.5 69.5h1.1M448.5 68.2h1.1M448.5 67.1h1.1M448.5 64.9h1.1M448.5 64.0h1.1M448.5 62.6h1.1M448.5 60.7h1.1M448.5 59.9h1.1M448.5 57.9h1.1M448.5 56.9h1.1M448.5 55.3h1.1M448.5 54.0h1.1M448.5 52.0h1.1M448.5 50.9h1.1M448.5 49.0h1.1M448.5 47.8h1.1M448.5 46.3h1.1M448.5 45.0h1.1M448.5 43.6h1.1M448.5 32.0h1.1M448.5 36.6h1.1M448.5 119.5h1.1M459.1 110.3h1.1M459.1 108.5h1.1M459.1 107.7h1.1M459.1 105.6h1.1M459.1 104.3h1.1M459.1 103.3h1.1M459.1 101.6h1.1M459.1 100.4h1.1M459.1 98.9h1.1M459.1 97.4h1.1M459.1 96.4h1.1M459.1 94.5h1.1M459.1 92.7h1.1M459.1 91.8h1.1M459.1 90.0h1.1M459.1 88.8h1.1M459.1 87.6h1.1M459.1 85.6h1.1M459.1 84.9h1.1M459.1 83.2h1.1M459.1 81.2h1.1M459.1 80.4h1.1M459.1 78.5h1.1M459.1 77.2h1.1M459.1 75.6h1.1M459.1 74.4h1.1M459.1 73.1h1.1M459.1 71.4h1.1M459.1 70.6h1.1M459.1 68.8h1.1M459.1 67.4h1.1M459.1 65.9h1.1M459.1 64.7h1.1M459.1 63.2h1.1M459.1 61.5h1.1M459.1 60.2h1.1M459.1 58.4h1.1M459.1 57.2h1.1M459.1 55.5h1.1M459.1 54.2h1.1M459.1 52.9h1.1M459.1 51.7h1.1M459.1 49.8h1.1M459.1 48.9h1.1M459.1 47.6h1.1M459.1 45.8h1.1M459.1 37.7h1.1M459.1 116.9h1.1M459.1 128.1h1.1M459.1 133.6h1.1M469.5 126.5h1.1M469.5 124.9h1.1M469.5 123.6h1.1M469.5 122.1h1.1M469.5 121.1h1.1M469.5 119.6h1.1M469.5 117.7h1.1M469.5 116.3h1.1M469.5 115.2h1.1M469.5 113.1h1.1M469.5 112.3h1.1M469.5 110.6h1.1M469.5 109.5h1.1M469.5 107.5h1.1M469.5 106.4h1.1M469.5 105.1h1.1M469.5 103.7h1.1M469.5 102.2h1.1M469.5 100.7h1.1M469.5 99.0h1.1M469.5 97.6h1.1M469.5 95.7h1.1M469.5 94.3h1.1M469.5 93.0h1.1M469.5 91.6h1.1M469.5 90.0h1.1M469.5 88.5h1.1M469.5 87.8h1.1M469.5 86.3h1.1M469.5 84.6h1.1M469.5 83.4h1.1M469.5 81.5h1.1M469.5 80.4h1.1M469.5 78.9h1.1M469.5 77.4h1.1M469.5 76.2h1.1M469.5 74.2h1.1M469.5 72.8h1.1M469.5 71.4h1.1M469.5 70.4h1.1M469.5 68.6h1.1M469.5 67.0h1.1M469.5 66.0h1.1M469.5 64.3h1.1M469.5 63.2h1.1M469.5 61.7h1.1M469.5 60.1h1.1M469.5 58.5h1.1M469.5 57.0h1.1M469.5 32.8h1.1M469.5 48.2h1.1M469.5 50.0h1.1M479.9 117.3h1.1M479.9 116.0h1.1M479.9 114.9h1.1M479.9 112.7h1.1M479.9 112.0h1.1M479.9 110.5h1.1M479.9 108.3h1.1M479.9 107.0h1.1M479.9 106.0h1.1M479.9 104.7h1.1M479.9 103.1h1.1M479.9 101.7h1.1M479.9 99.8h1.1M479.9 98.7h1.1M479.9 97.6h1.1M479.9 95.4h1.1M479.9 94.2h1.1M479.9 93.2h1.1M479.9 91.8h1.1M479.9 90.1h1.1M479.9 88.9h1.1M479.9 87.0h1.1M479.9 85.6h1.1M479.9 84.7h1.1M479.9 82.6h1.1M479.9 81.2h1.1M479.9 79.6h1.1M479.9 78.4h1.1M479.9 76.9h1.1M479.9 75.9h1.1M479.9 74.6h1.1M479.9 73.2h1.1M479.9 71.0h1.1M479.9 69.8h1.1M479.9 68.1h1.1M479.9 67.2h1.1M479.9 65.4h1.1M479.9 64.5h1.1M479.9 63.0h1.1M479.9 61.5h1.1M479.9 59.8h1.1M479.9 58.4h1.1M479.9 57.0h1.1M479.9 50.4h1.1M479.9 126.8h1.1M479.9 133.1h1.1M490.2 135.8h1.1M490.2 134.3h1.1M490.2 132.5h1.1M490.2 131.5h1.1M490.2 129.7h1.1M490.2 128.9h1.1M490.2 127.2h1.1M490.2 125.6h1.1M490.2 124.1h1.1M490.2 123.0h1.1M490.2 121.5h1.1M490.2 119.5h1.1M490.2 118.4h1.1M490.2 117.0h1.1M490.2 116.0h1.1M490.2 114.6h1.1M490.2 113.0h1.1M490.2 111.6h1.1M490.2 109.4h1.1M490.2 108.8h1.1M490.2 107.1h1.1M490.2 105.9h1.1M490.2 104.0h1.1M490.2 103.1h1.1M490.2 101.6h1.1M490.2 100.2h1.1M490.2 98.6h1.1M490.2 96.9h1.1M490.2 95.2h1.1M490.2 94.2h1.1M490.2 92.8h1.1M490.2 90.9h1.1M490.2 89.5h1.1M490.2 88.6h1.1M490.2 86.6h1.1M490.2 85.1h1.1M490.2 84.2h1.1M490.2 82.4h1.1M490.2 81.4h1.1M490.2 79.9h1.1M490.2 78.2h1.1M490.2 76.8h1.1M490.2 75.4h1.1M490.2 73.9h1.1M490.2 72.7h1.1M490.2 70.8h1.1M490.2 69.8h1.1M490.2 67.8h1.1M490.2 66.7h1.1M490.2 65.4h1.1M490.2 64.1h1.1M490.2 62.4h1.1M490.2 61.1h1.1M490.2 59.4h1.1M490.2 58.1h1.1M490.2 153.7h1.1M500.9 140.8h1.1M500.9 139.1h1.1M500.9 138.3h1.1M500.9 136.2h1.1M500.9 134.7h1.1M500.9 133.2h1.1M500.9 132.0h1.1M500.9 130.9h1.1M500.9 129.2h1.1M500.9 127.8h1.1M500.9 126.2h1.1M500.9 124.9h1.1M500.9 123.2h1.1M500.9 122.2h1.1M500.9 120.6h1.1M500.9 119.0h1.1M500.9 117.7h1.1M500.9 116.5h1.1M500.9 114.3h1.1M500.9 113.1h1.1M500.9 111.5h1.1M500.9 110.5h1.1M500.9 108.5h1.1M500.9 107.2h1.1M500.9 105.6h1.1M500.9 104.8h1.1M500.9 103.1h1.1M500.9 101.7h1.1M500.9 100.1h1.1M500.9 98.9h1.1M500.9 97.6h1.1M500.9 95.9h1.1M500.9 94.3h1.1M500.9 93.0h1.1M500.9 91.1h1.1M500.9 90.1h1.1M500.9 88.6h1.1M500.9 63.1h1.1M500.9 75.9h1.1M500.9 150.2h1.1M511.0 133.1h1.1M511.0 131.7h1.1M511.0 130.4h1.1M511.0 129.0h1.1M511.0 127.0h1.1M511.0 125.5h1.1M511.0 124.4h1.1M511.0 123.3h1.1M511.0 121.5h1.1M511.0 120.4h1.1M511.0 118.9h1.1M511.0 117.3h1.1M511.0 116.0h1.1M511.0 114.6h1.1M511.0 112.6h1.1M511.0 111.9h1.1M511.0 110.1h1.1M511.0 109.1h1.1M511.0 107.6h1.1M511.0 106.1h1.1M511.0 104.0h1.1M511.0 102.8h1.1M511.0 101.2h1.1M511.0 100.5h1.1M511.0 98.5h1.1M511.0 97.3h1.1M511.0 95.9h1.1M511.0 94.2h1.1M511.0 93.1h1.1M511.0 91.5h1.1M511.0 90.3h1.1M511.0 88.7h1.1M511.0 87.2h1.1M511.0 86.0h1.1M511.0 84.5h1.1M511.0 82.9h1.1M511.0 75.9h1.1M521.3 125.9h1.1M521.3 124.1h1.1M521.3 122.8h1.1M521.3 121.3h1.1M521.3 119.6h1.1M521.3 118.7h1.1M521.3 117.2h1.1M521.3 115.5h1.1M521.3 114.2h1.1M521.3 112.4h1.1M521.3 110.8h1.1M521.3 109.7h1.1M521.3 107.7h1.1M521.3 106.4h1.1M521.3 105.0h1.1M521.3 103.1h1.1M521.3 101.6h1.1M521.3 100.4h1.1M521.3 79.1h1.1M521.3 90.6h1.1M521.3 148.9h1.1M531.5 94.7h1.1M531.5 103.1h1.1M531.5 105.9h1.1M531.5 117.3h1.1M531.5 124.3h1.1M531.5 129.4h1.1M531.5 135.8h1.1M531.5 143.9h1.1M531.5 146.9h1.1M541.7 94.7h1.1M541.7 132.9h1.1M541.7 136.9h1.1M541.7 141.5h1.1M552.1 84.6h1.1M552.1 136.0h1.1M552.1 140.4h1.1M562.1 103.7h1.1M562.1 123.0h1.1M572.4 113.8h1.1M572.4 133.1h1.1M572.4 136.6h1.1M582.4 132.9h1.1M582.4 146.5h1.1M592.4 135.3h1.1M592.4 141.0h1.1M612.6 139.9h1.1M612.6 148.7h1.1" stroke="#1b6cdc" stroke-width="3.6" stroke-linecap="round" fill="none"/><line x1="384.4" y1="18.3" x2="384.4" y2="172.4" stroke="#2a2a2a" stroke-width="1.0"/><line x1="384.4" y1="172.4" x2="645.0" y2="172.4" stroke="#707070" stroke-width="1.0"/><line x1="380.79999999999995" y1="150.46" x2="384.4" y2="150.46" stroke="#2a2a2a" stroke-width="0.8"/><text transform="translate(366.87,153.06) scale(1.129,1)" font-size="7.56">0.0</text><line x1="380.79999999999995" y1="106.57" x2="384.4" y2="106.57" stroke="#2a2a2a" stroke-width="0.8"/><text transform="translate(366.86,109.17) scale(1.139,1)" font-size="7.56">0.2</text><line x1="380.79999999999995" y1="62.69" x2="384.4" y2="62.69" stroke="#2a2a2a" stroke-width="0.8"/><text transform="translate(366.87,65.29) scale(1.121,1)" font-size="7.56">0.4</text><line x1="380.79999999999995" y1="18.80" x2="384.4" y2="18.80" stroke="#2a2a2a" stroke-width="0.8"/><text transform="translate(366.87,21.40) scale(1.134,1)" font-size="7.56">0.6</text><line x1="382.4" y1="172.40" x2="384.4" y2="172.40" stroke="#555" stroke-width="0.7"/><line x1="382.4" y1="128.51" x2="384.4" y2="128.51" stroke="#555" stroke-width="0.7"/><line x1="382.4" y1="84.63" x2="384.4" y2="84.63" stroke="#555" stroke-width="0.7"/><line x1="382.4" y1="40.74" x2="384.4" y2="40.74" stroke="#555" stroke-width="0.7"/><line x1="408.05" y1="172.4" x2="408.05" y2="176.0" stroke="#2a2a2a" stroke-width="0.8"/><text transform="translate(403.37,182.80) scale(1.170,1)" font-size="6.98">18</text><line x1="455.34" y1="172.4" x2="455.34" y2="176.0" stroke="#2a2a2a" stroke-width="0.8"/><text transform="translate(450.89,182.80) scale(1.135,1)" font-size="6.98">20</text><line x1="502.63" y1="172.4" x2="502.63" y2="176.0" stroke="#2a2a2a" stroke-width="0.8"/><text transform="translate(498.17,182.80) scale(1.148,1)" font-size="6.98">22</text><line x1="549.92" y1="172.4" x2="549.92" y2="176.0" stroke="#2a2a2a" stroke-width="0.8"/><text transform="translate(545.47,182.80) scale(1.124,1)" font-size="6.98">24</text><line x1="597.21" y1="172.4" x2="597.21" y2="176.0" stroke="#2a2a2a" stroke-width="0.8"/><text transform="translate(592.76,182.80) scale(1.140,1)" font-size="6.98">26</text><line x1="644.50" y1="172.4" x2="644.50" y2="176.0" stroke="#2a2a2a" stroke-width="0.8"/><text transform="translate(640.05,182.80) scale(1.140,1)" font-size="6.98">28</text><line x1="431.69" y1="172.4" x2="431.69" y2="174.4" stroke="#555" stroke-width="0.7"/><line x1="478.98" y1="172.4" x2="478.98" y2="174.4" stroke="#555" stroke-width="0.7"/><line x1="526.27" y1="172.4" x2="526.27" y2="174.4" stroke="#555" stroke-width="0.7"/><line x1="573.56" y1="172.4" x2="573.56" y2="174.4" stroke="#555" stroke-width="0.7"/><line x1="620.85" y1="172.4" x2="620.85" y2="174.4" stroke="#555" stroke-width="0.7"/><text transform="translate(491.69,193.90) scale(1.262,1)" font-size="7.85">LST_1991</text><text transform="translate(363.10,115.72) rotate(-90) scale(0.719,1)" font-size="10.47">NDVI_1991</text><rect x="571.4" y="7.6" width="71.0" height="9.5" fill="#fff" stroke="#9a9a9a" stroke-width="0.8"/><ellipse cx="582.6" cy="12.5" rx="2.1" ry="1.7" fill="#1b6cdc"/><text transform="translate(594.07,14.80) scale(1.254,1)" font-size="7.12">NDVI_1991</text><g fill="none" stroke-width="0.62" stroke-opacity="0.60"><path class="c20 o19" d="M29.6 273.1c62 0 198 57.5 260 57.5"/><path class="c20 o16" d="M29.6 273.1c62 0 198 38 260 38"/><path class="c21 o13" d="M29.6 295.8c62 0 198 24.5 260 24.5"/><path class="c22" d="M29.6 307.2c62 0 198-4 260-4"/><path class="c23 o15" d="M29.6 290.1c62 0 198 45 260 45"/><path class="c24" d="M29.6 301.5c62 0 198 18.5 260 18.5"/><path class="c20 o16" d="M29.6 273.1c62 0 198 24 260 24"/><path class="c23 o19" d="M29.6 290.1c62 0 198 28 260 28"/><path class="c25" d="M29.6 256.3c62 0 198 61 260 61"/><path class="c26" d="M29.6 312.9c62 0 198 22.5 260 22.5"/><path class="c24 o16" d="M29.6 301.5c62 0 198 15.5 260 15.5"/><path class="c20 o19" d="M29.6 273.1c62 0 198 54 260 54"/><path class="c20 o16" d="M29.6 273.1c62 0 198 16 260 16"/><path class="c21 o18" d="M29.6 295.8c62 0 198 34 260 34"/><path class="c25" d="M29.6 256.3c62 0 198 54 260 54"/><path class="c27" d="M29.6 262c62 0 198 54 260 54"/><path class="c27 o17" d="M29.6 262c62 0 198 65 260 65"/><path class="c28 o19" d="M29.6 284.2c62 0 198 43.5 260 43.5"/><path class="c29" d="M29.6 318.8c62 0 198-61.5 260-61.5"/><path class="c23 o19" d="M29.6 290.1c62 0 198 24.5 260 24.5"/><path class="c28 o20" d="M29.6 284.2c62 0 198 44.5 260 44.5"/><path class="c30" d="M29.6 383.9c62 0 198-3 260-3"/><path class="c31 o18" d="M29.6 266.6c62 0 198 67.5 260 67.5"/><path class="c20 o16" d="M29.6 273.1c62 0 198 40.5 260 40.5"/><path class="c23 o15" d="M29.6 290.1c62 0 198 40.5 260 40.5"/><path class="c32 o17" d="M29.6 278.5c62 0 198 56.5 260 56.5"/><path class="c20 o19" d="M29.6 273.1c62 0 198 54.5 260 54.5"/><path class="c23 o15" d="M29.6 290.1c62 0 198 53.5 260 53.5"/><path class="c24" d="M29.6 301.5c62 0 198-8 260-8"/><path class="c31 o18" d="M29.6 266.6c62 0 198 58 260 58"/><path class="c23 o15" d="M29.6 290.1c62 0 198 12.5 260 12.5"/><path class="c28 o16" d="M29.6 284.2c62 0 198 21.5 260 21.5"/><path class="c20 o19" d="M29.6 273.1c62 0 198 37 260 37"/><path class="c28 o19" d="M29.6 284.2c62 0 198 38.5 260 38.5"/><path class="c22 o16" d="M29.6 307.2c62 0 198 20 260 20"/><path class="c21 o18" d="M29.6 295.8c62 0 198 32 260 32"/><path class="c20 o19" d="M29.6 273.1c62 0 198 63 260 63"/><path class="c31 o13" d="M29.6 266.6c62 0 198 71.5 260 71.5"/><path class="c32 o20" d="M29.6 278.5c62 0 198 43 260 43"/><path class="c23 o19" d="M29.6 290.1c62 0 198 32 260 32"/><path class="c31 o18" d="M29.6 266.6c62 0 198 69.5 260 69.5"/><path class="c20 o16" d="M29.6 273.1c62 0 198 70.5 260 70.5"/><path class="c28 o19" d="M29.6 284.2c62 0 198 30 260 30"/><path class="c20 o16" d="M29.6 273.1c62 0 198 55.5 260 55.5"/><path class="c32 o17" d="M29.6 278.5c62 0 198 19.5 260 19.5"/><path class="c25" d="M29.6 256.3c62 0 198 59.5 260 59.5"/><path class="c21 o13" d="M29.6 295.8c62 0 198 39 260 39"/><path class="c28 o19" d="M29.6 284.2c62 0 198 35 260 35"/><path class="c21 o18" d="M29.6 295.8c62 0 198 15.5 260 15.5"/><path class="c24" d="M29.6 301.5c62 0 198 3.5 260 3.5"/><path class="c32 o20" d="M29.6 278.5c62 0 198 41.5 260 41.5"/><path class="c21 o18" d="M29.6 295.8c62 0 198 25 260 25"/><path class="c26" d="M29.6 312.9c62 0 198-10.5 260-10.5"/><path class="c25" d="M29.6 256.3c62 0 198 63.5 260 63.5"/><path class="c33" d="M29.6 336.4c62 0 198-65 260-65"/><path class="c22 o16" d="M29.6 307.2c62 0 198 16 260 16"/><path class="c32 o20" d="M29.6 278.5c62 0 198 48.5 260 48.5"/><path class="c28 o16" d="M29.6 284.2c62 0 198 53 260 53"/><path class="c22" d="M29.6 307.2c62 0 198 13.5 260 13.5"/><path class="c28 o16" d="M29.6 284.2c62 0 198-2 260-2"/><path class="c20 o19" d="M29.6 273.1c62 0 198 49.5 260 49.5"/><path class="c27" d="M29.6 262c62 0 198 57 260 57"/><path class="c25" d="M29.6 256.3c62 0 198 67 260 67"/><path class="c22 o16" d="M29.6 307.2c62 0 198 1.5 260 1.5"/><path class="c29" d="M29.6 318.8c62 0 198-9 260-9"/><path class="c24" d="M29.6 301.5c62 0 198-4 260-4"/><path class="c23 o15" d="M29.6 290.1c62 0 198-11.5 260-11.5"/><path class="c23 o19" d="M29.6 290.1c62 0 198 7.5 260 7.5"/><path class="c31 o18" d="M29.6 266.6c62 0 198 60.5 260 60.5"/><path class="c20 o16" d="M29.6 273.1c62 0 198 43 260 43"/><path class="c22" d="M29.6 307.2c62 0 198 19 260 19"/><path class="c26" d="M29.6 312.9c62 0 198-18 260-18"/><path class="c32 o17" d="M29.6 278.5c62 0 198 17.5 260 17.5"/><path class="c23 o15" d="M29.6 290.1c62 0 198 23.5 260 23.5"/><path class="c32 o17" d="M29.6 278.5c62 0 198 22 260 22"/><path class="c23 o19" d="M29.6 290.1c62 0 198 26 260 26"/><path class="c24" d="M29.6 301.5c62 0 198 22.5 260 22.5"/><path class="c33" d="M29.6 336.4c62 0 198-57.5 260-57.5"/><path class="c23 o19" d="M29.6 290.1c62 0 198 42.5 260 42.5"/><path class="c27" d="M29.6 262c62 0 198 60.5 260 60.5"/><path class="c25 o17" d="M29.6 256.3c62 0 198 75.5 260 75.5"/><path class="c21 o13" d="M29.6 295.8c62 0 198-18 260-18"/><path class="c31 o18" d="M29.6 266.6c62 0 198 69 260 69"/><path class="c24 o16" d="M29.6 301.5c62 0 198 25 260 25"/><path class="c21 o13" d="M29.6 295.8c62 0 198 34.5 260 34.5"/><path class="c21 o13" d="M29.6 295.8c62 0 198 39.5 260 39.5"/><path class="c32 o20" d="M29.6 278.5c62 0 198 62.5 260 62.5"/><path class="c29" d="M29.6 318.8c62 0 198 7.5 260 7.5"/><path class="c21 o18" d="M29.6 295.8c62 0 198 27 260 27"/><path class="c27 o17" d="M29.6 262c62 0 198 54.5 260 54.5"/><path class="c23 o19" d="M29.6 290.1c62 0 198 34 260 34"/><path class="c32 o17" d="M29.6 278.5c62 0 198-2 260-2"/><path class="c20 o16" d="M29.6 273.1c62 0 198 25 260 25"/><path class="c31 o18" d="M29.6 266.6c62 0 198 66.5 260 66.5"/><path class="c23 o19" d="M29.6 290.1c62 0 198 49.5 260 49.5"/><path class="c22" d="M29.6 307.2c62 0 198 4.5 260 4.5"/><path class="c34" d="M29.6 250.7c62 0 198 74 260 74"/><path class="c27 o17" d="M29.6 262c62 0 198 66 260 66"/><path class="c22" d="M29.6 307.2c62 0 198 18.5 260 18.5"/><path class="c21 o13" d="M29.6 295.8c62 0 198 10.5 260 10.5"/><path class="c28 o16" d="M29.6 284.2c62 0 198 43 260 43"/><path class="c35" d="M29.6 324.8c62 0 198 6 260 6"/><path class="c32 o17" d="M29.6 278.5c62 0 198 12 260 12"/><path class="c22" d="M29.6 307.2c62 0 198-4.5 260-4.5"/><path class="c27" d="M29.6 262c62 0 198 51 260 51"/><path class="c23 o15" d="M29.6 290.1c62 0 198 2 260 2"/><path class="c25" d="M29.6 256.3c62 0 198 76.5 260 76.5"/><path class="c32 o20" d="M29.6 278.5c62 0 198 38.5 260 38.5"/><path class="c31 o18" d="M29.6 266.6c62 0 198 61.5 260 61.5"/><path class="c36" d="M29.6 330.5c62 0 198-46 260-46"/><path class="c32 o17" d="M29.6 278.5c62 0 198 30 260 30"/><path class="c21 o13" d="M29.6 295.8c62 0 198 7.5 260 7.5"/><path class="c21 o13" d="M29.6 295.8c62 0 198 43 260 43"/><path class="c24 o16" d="M29.6 301.5c62 0 198 20.5 260 20.5"/><path class="c23 o19" d="M29.6 290.1c62 0 198 33 260 33"/><path class="c31 o18" d="M29.6 266.6c62 0 198 51.5 260 51.5"/><path class="c27" d="M29.6 262c62 0 198 55 260 55"/><path class="c32 o17" d="M29.6 278.5c62 0 198 55.5 260 55.5"/><path class="c22" d="M29.6 307.2c62 0 198-9.5 260-9.5"/><path class="c31 o18" d="M29.6 266.6c62 0 198 57.5 260 57.5"/><path class="c21 o18" d="M29.6 295.8c62 0 198 17.5 260 17.5"/><path class="c21 o13" d="M29.6 295.8c62 0 198-8.5 260-8.5"/><path class="c34" d="M29.6 250.7c62 0 198 76.5 260 76.5"/><path class="c22" d="M29.6 307.2c62 0 198-22.5 260-22.5"/><path class="c32 o20" d="M29.6 278.5c62 0 198 55 260 55"/><path class="c32 o17" d="M29.6 278.5c62 0 198 24 260 24"/><path class="c21 o13" d="M29.6 295.8c62 0 198 7 260 7"/><path class="c24" d="M29.6 301.5c62 0 198-2 260-2"/><path class="c23 o19" d="M29.6 290.1c62 0 198 40 260 40"/><path class="c25" d="M29.6 256.3c62 0 198 62.5 260 62.5"/><path class="c24" d="M29.6 301.5c62 0 198-20 260-20"/><path class="c31 o13" d="M29.6 266.6c62 0 198 28.5 260 28.5"/><path class="c28 o19" d="M29.6 284.2c62 0 198 25.5 260 25.5"/><path class="c20 o19" d="M29.6 273.1c62 0 198 34 260 34"/><path class="c37" d="M29.6 239.6c62 0 198 87.5 260 87.5"/><path class="c23 o19" d="M29.6 290.1c62 0 198 39.5 260 39.5"/><path class="c26" d="M29.6 312.9c62 0 198-8 260-8"/><path class="c25" d="M29.6 256.3c62 0 198 64.5 260 64.5"/><path class="c32 o20" d="M29.6 278.5c62 0 198 57 260 57"/><path class="c21 o13" d="M29.6 295.8c62 0 198-11.5 260-11.5"/><path class="c27" d="M29.6 262c62 0 198 43 260 43"/><path class="c32 o20" d="M29.6 278.5c62 0 198 36 260 36"/><path class="c31 o13" d="M29.6 266.6c62 0 198 48.5 260 48.5"/><path class="c22" d="M29.6 307.2c62 0 198 16.5 260 16.5"/><path class="c23 o15" d="M29.6 290.1c62 0 198 27 260 27"/><path class="c21 o13" d="M29.6 295.8c62 0 198-1.5 260-1.5"/><path class="c31 o18" d="M29.6 266.6c62 0 198 63.5 260 63.5"/><path class="c32 o17" d="M29.6 278.5c62 0 198 46.5 260 46.5"/><path class="c27 o17" d="M29.6 262c62 0 198 76 260 76"/><path class="c32 o20" d="M29.6 278.5c62 0 198 37 260 37"/><path class="c36" d="M29.6 330.5c62 0 198-30 260-30"/><path class="c26" d="M29.6 312.9c62 0 198-3.5 260-3.5"/><path class="c31 o13" d="M29.6 266.6c62 0 198 38.5 260 38.5"/><path class="c25" d="M29.6 256.3c62 0 198 51 260 51"/><path class="c24" d="M29.6 301.5c62 0 198 31.5 260 31.5"/><path class="c28 o16" d="M29.6 284.2c62 0 198 16 260 16"/><path class="c21 o13" d="M29.6 295.8c62 0 198-2 260-2"/><path class="c21 o18" d="M29.6 295.8c62 0 198 18.5 260 18.5"/><path class="c24" d="M29.6 301.5c62 0 198-9 260-9"/><path class="c32 o17" d="M29.6 278.5c62 0 198 21.5 260 21.5"/><path class="c21 o18" d="M29.6 295.8c62 0 198 29 260 29"/><path class="c23 o20" d="M29.6 290.1c62 0 198 36 260 36"/><path class="c32 o20" d="M29.6 278.5c62 0 198 56 260 56"/><path class="c28 o16" d="M29.6 284.2c62 0 198 32.5 260 32.5"/><path class="c27" d="M29.6 262c62 0 198 70.5 260 70.5"/><path class="c23 o19" d="M29.6 290.1c62 0 198 21.5 260 21.5"/><path class="c32 o17" d="M29.6 278.5c62 0 198 58 260 58"/><path class="c21 o13" d="M29.6 295.8c62 0 198 6 260 6"/><path class="c27" d="M29.6 262c62 0 198 59 260 59"/><path class="c21 o18" d="M29.6 295.8c62 0 198 26.5 260 26.5"/><path class="c21 o18" d="M29.6 295.8c62 0 198-5.5 260-5.5"/><path class="c32 o20" d="M29.6 278.5c62 0 198 26.5 260 26.5"/><path class="c32 o17" d="M29.6 278.5c62 0 198 57.5 260 57.5"/><path class="c28 o19" d="M29.6 284.2c62 0 198 39.5 260 39.5"/><path class="c28 o16" d="M29.6 284.2c62 0 198 15.5 260 15.5"/><path class="c24" d="M29.6 301.5c62 0 198 9 260 9"/><path class="c20 o19" d="M29.6 273.1c62 0 198 33 260 33"/><path class="c27" d="M29.6 262c62 0 198 56 260 56"/><path class="c21 o13" d="M29.6 295.8c62 0 198 35 260 35"/><path class="c27" d="M29.6 262c62 0 198 81 260 81"/><path class="c29" d="M29.6 318.8c62 0 198-6 260-6"/><path class="c28 o16" d="M29.6 284.2c62 0 198 52.5 260 52.5"/><path class="c31 o13" d="M29.6 266.6c62 0 198 46 260 46"/><path class="c31 o18" d="M29.6 266.6c62 0 198 52 260 52"/><path class="c25" d="M29.6 256.3c62 0 198 47 260 47"/><path class="c26" d="M29.6 312.9c62 0 198-8.5 260-8.5"/><path class="c23 o15" d="M29.6 290.1c62 0 198 14 260 14"/><path class="c28 o19" d="M29.6 284.2c62 0 198 41.5 260 41.5"/><path class="c26" d="M29.6 312.9c62 0 198 10.5 260 10.5"/><path class="c31 o13" d="M29.6 266.6c62 0 198 33.5 260 33.5"/><path class="c31 o18" d="M29.6 266.6c62 0 198 45 260 45"/><path class="c21 o18" d="M29.6 295.8c62 0 198 21.5 260 21.5"/><path class="c21 o18" d="M29.6 295.8c62 0 198 2 260 2"/><path class="c21 o18" d="M29.6 295.8c62 0 198 16.5 260 16.5"/><path class="c21 o18" d="M29.6 295.8c62 0 198 20.5 260 20.5"/><path class="c20 o16" d="M29.6 273.1c62 0 198 67 260 67"/><path class="c31 o19" d="M29.6 266.6c62 0 198 55 260 55"/><path class="c27 o17" d="M29.6 262c62 0 198 74 260 74"/><path class="c20 o16" d="M29.6 273.1c62 0 198 44 260 44"/><path class="c26" d="M29.6 312.9c62 0 198-12.5 260-12.5"/><path class="c24" d="M29.6 301.5c62 0 198 4 260 4"/><path class="c22 o16" d="M29.6 307.2c62 0 198-5.5 260-5.5"/><path class="c20 o16" d="M29.6 273.1c62 0 198 44.5 260 44.5"/><path class="c28 o16" d="M29.6 284.2c62 0 198 17 260 17"/><path class="c24" d="M29.6 301.5c62 0 198 36 260 36"/><path class="c28 o16" d="M29.6 284.2c62 0 198 28 260 28"/><path class="c29" d="M29.6 318.8c62 0 198-18 260-18"/><path class="c22" d="M29.6 307.2c62 0 198 13 260 13"/><path class="c24" d="M29.6 301.5c62 0 198 29 260 29"/><path class="c35" d="M29.6 324.8c62 0 198-4.5 260-4.5"/><path class="c31 o18" d="M29.6 266.6c62 0 198 48 260 48"/><path class="c28 o16" d="M29.6 284.2c62 0 198 35.5 260 35.5"/><path class="c20 o19" d="M29.6 273.1c62 0 198 36 260 36"/><path class="c23 o19" d="M29.6 290.1c62 0 198 37 260 37"/><path class="c22" d="M29.6 307.2c62 0 198 22 260 22"/><path class="c22" d="M29.6 307.2c62 0 198 3.5 260 3.5"/><path class="c28 o19" d="M29.6 284.2c62 0 198 32 260 32"/><path class="c28 o19" d="M29.6 284.2c62 0 198 24.5 260 24.5"/><path class="c32 o17" d="M29.6 278.5c62 0 198 40.5 260 40.5"/><path class="c20 o19" d="M29.6 273.1c62 0 198 50 260 50"/><path class="c23 o15" d="M29.6 290.1c62 0 198 18.5 260 18.5"/><path class="c20 o16" d="M29.6 273.1c62 0 198 64 260 64"/><path class="c21 o18" d="M29.6 295.8c62 0 198 25.5 260 25.5"/><path class="c20 o16" d="M29.6 273.1c62 0 198 14.5 260 14.5"/><path class="c31 o13" d="M29.6 266.6c62 0 198 72.5 260 72.5"/><path class="c23 o15" d="M29.6 290.1c62 0 198 22.5 260 22.5"/><path class="c32 o20" d="M29.6 278.5c62 0 198 51.5 260 51.5"/><path class="c22" d="M29.6 307.2c62 0 198-6 260-6"/><path class="c25" d="M29.6 256.3c62 0 198 70 260 70"/><path class="c24 o16" d="M29.6 301.5c62 0 198 12 260 12"/><path class="c27 o17" d="M29.6 262c62 0 198 40 260 40"/><path class="c23 o19" d="M29.6 290.1c62 0 198 20 260 20"/><path class="c20 o19" d="M29.6 273.1c62 0 198 39 260 39"/><path class="c32 o20" d="M29.6 278.5c62 0 198 33 260 33"/><path class="c24 o16" d="M29.6 301.5c62 0 198 7 260 7"/><path class="c24 o16" d="M29.6 301.5c62 0 198 21.5 260 21.5"/><path class="c22" d="M29.6 307.2c62 0 198 28 260 28"/><path class="c20 o16" d="M29.6 273.1c62 0 198 24.5 260 24.5"/><path class="c28 o16" d="M29.6 284.2c62 0 198 4 260 4"/><path class="c24" d="M29.6 301.5c62 0 198 27 260 27"/><path class="c31 o13" d="M29.6 266.6c62 0 198 39.5 260 39.5"/><path class="c21 o13" d="M29.6 295.8c62 0 198 37 260 37"/><path class="c26" d="M29.6 312.9c62 0 198 1 260 1"/><path class="c23 o19" d="M29.6 290.1c62 0 198 27.5 260 27.5"/><path class="c36" d="M29.6 330.5c62 0 198-59.5 260-59.5"/><path class="c24" d="M29.6 301.5c62 0 198-17 260-17"/><path class="c25" d="M29.6 256.3c62 0 198 59 260 59"/><path class="c27" d="M29.6 262c62 0 198 48 260 48"/><path class="c27" d="M29.6 262c62 0 198 78 260 78"/><path class="c23 o15" d="M29.6 290.1c62 0 198 46 260 46"/><path class="c21 o13" d="M29.6 295.8c62 0 198-7.5 260-7.5"/><path class="c22" d="M29.6 307.2c62 0 198 25 260 25"/><path class="c31 o18" d="M29.6 266.6c62 0 198 49 260 49"/><path class="c27 o17" d="M29.6 262c62 0 198 69 260 69"/><path class="c27 o17" d="M29.6 262c62 0 198 72 260 72"/><path class="c24" d="M29.6 301.5c62 0 198 26.5 260 26.5"/><path class="c27" d="M29.6 262c62 0 198 2 260 2"/><path class="c27 o17" d="M29.6 262c62 0 198 55.5 260 55.5"/><path class="c23 o15" d="M29.6 290.1c62 0 198 .5 260 .5"/><path class="c32 o20" d="M29.6 278.5c62 0 198 44 260 44"/><path class="c26" d="M29.6 312.9c62 0 198-26.5 260-26.5"/><path class="c31 o13" d="M29.6 266.6c62 0 198 56 260 56"/><path class="c32 o20" d="M29.6 278.5c62 0 198 35 260 35"/><path class="c24" d="M29.6 301.5c62 0 198 32 260 32"/><path class="c32 o20" d="M29.6 278.5c62 0 198 53.5 260 53.5"/><path class="c22" d="M29.6 307.2c62 0 198-30 260-30"/><path class="c23 o15" d="M29.6 290.1c62 0 198 41 260 41"/><path class="c24 o16" d="M29.6 301.5c62 0 198 15 260 15"/><path class="c22" d="M29.6 307.2c62 0 198 5.5 260 5.5"/><path class="c22" d="M29.6 307.2c62 0 198-10.5 260-10.5"/><path class="c24" d="M29.6 301.5c62 0 198-12.5 260-12.5"/><path class="c38" d="M29.6 377.9c62 0 198 4.5 260 4.5"/><path class="c31 o18" d="M29.6 266.6c62 0 198 64 260 64"/><path class="c20 o16" d="M29.6 273.1c62 0 198 38.5 260 38.5"/><path class="c23 o15" d="M29.6 290.1c62 0 198 55.5 260 55.5"/><path class="c31 o13" d="M29.6 266.6c62 0 198 70.5 260 70.5"/><path class="c24 o16" d="M29.6 301.5c62 0 198 28.5 260 28.5"/><path class="c28 o16" d="M29.6 284.2c62 0 198 54 260 54"/><path class="c32 o17" d="M29.6 278.5c62 0 198 2 260 2"/><path class="c28 o16" d="M29.6 284.2c62 0 198 18.5 260 18.5"/><path class="c28 o16" d="M29.6 284.2c62 0 198 54.5 260 54.5"/><path class="c36" d="M29.6 330.5c62 0 198-17.5 260-17.5"/><path class="c28 o16" d="M29.6 284.2c62 0 198 7.5 260 7.5"/><path class="c27 o17" d="M29.6 262c62 0 198 58.5 260 58.5"/><path class="c20 o19" d="M29.6 273.1c62 0 198 46 260 46"/><path class="c20 o16" d="M29.6 273.1c62 0 198 63.5 260 63.5"/><path class="c28 o16" d="M29.6 284.2c62 0 198 10 260 10"/><path class="c22" d="M29.6 307.2c62 0 198 25.5 260 25.5"/><path class="c26" d="M29.6 312.9c62 0 198 6 260 6"/><path class="c27 o17" d="M29.6 262c62 0 198 61 260 61"/><path class="c28 o19" d="M29.6 284.2c62 0 198 49.5 260 49.5"/><path class="c25" d="M29.6 256.3c62 0 198 84 260 84"/><path class="c21 o13" d="M29.6 295.8c62 0 198-9.5 260-9.5"/><path class="c27 o17" d="M29.6 262c62 0 198 62 260 62"/><path class="c22" d="M29.6 307.2c62 0 198-9 260-9"/><path class="c28 o16" d="M29.6 284.2c62 0 198 48 260 48"/><path class="c22" d="M29.6 307.2c62 0 198 28.5 260 28.5"/><path class="c32 o20" d="M29.6 278.5c62 0 198 51 260 51"/><path class="c28 o16" d="M29.6 284.2c62 0 198 19 260 19"/><path class="c21 o13" d="M29.6 295.8c62 0 198 40.5 260 40.5"/><path class="c28 o19" d="M29.6 284.2c62 0 198 14.5 260 14.5"/><path class="c31 o13" d="M29.6 266.6c62 0 198 77.5 260 77.5"/><path class="c29" d="M29.6 318.8c62 0 198-15 260-15"/><path class="c23 o19" d="M29.6 290.1c62 0 198 41.5 260 41.5"/><path class="c24" d="M29.6 301.5c62 0 198 11 260 11"/><path class="c23 o15" d="M29.6 290.1c62 0 198 16.5 260 16.5"/><path class="c27" d="M29.6 262c62 0 198 46 260 46"/><path class="c32 o17" d="M29.6 278.5c62 0 198 53 260 53"/><path class="c27" d="M29.6 262c62 0 198 38.5 260 38.5"/><path class="c23 o15" d="M29.6 290.1c62 0 198 25.5 260 25.5"/><path class="c32 o20" d="M29.6 278.5c62 0 198 47 260 47"/><path class="c33" d="M29.6 336.4c62 0 198-52 260-52"/><path class="c24" d="M29.6 301.5c62 0 198 30 260 30"/><path class="c32 o17" d="M29.6 278.5c62 0 198 60.5 260 60.5"/><path class="c22" d="M29.6 307.2c62 0 198 18 260 18"/><path class="c32 o20" d="M29.6 278.5c62 0 198 44.5 260 44.5"/><path class="c32 o20" d="M29.6 278.5c62 0 198 38 260 38"/><path class="c24" d="M29.6 301.5c62 0 198-29 260-29"/><path class="c20 o16" d="M29.6 273.1c62 0 198 31.5 260 31.5"/><path class="c32 o17" d="M29.6 278.5c62 0 198 20.5 260 20.5"/><path class="c29" d="M29.6 318.8c62 0 198-7 260-7"/><path class="c21 o13" d="M29.6 295.8c62 0 198 29.5 260 29.5"/><path class="c21 o18" d="M29.6 295.8c62 0 198 36.5 260 36.5"/><path class="c28 o16" d="M29.6 284.2c62 0 198 50 260 50"/><path class="c39" d="M29.6 223.4c62 0 198 129.5 260 129.5"/><path class="c24" d="M29.6 301.5c62 0 198 37 260 37"/><path class="c31 o18" d="M29.6 266.6c62 0 198 55.5 260 55.5"/><path class="c32 o17" d="M29.6 278.5c62 0 198 25 260 25"/><path class="c21 o13" d="M29.6 295.8c62 0 198 13 260 13"/><path class="c25" d="M29.6 256.3c62 0 198 79 260 79"/><path class="c23 o19" d="M29.6 290.1c62 0 198 30 260 30"/><path class="c32 o20" d="M29.6 278.5c62 0 198 46 260 46"/><path class="c31 o18" d="M29.6 266.6c62 0 198 47 260 47"/><path class="c30" d="M29.6 383.9c62 0 198-6.5 260-6.5"/><path class="c32 o17" d="M29.6 278.5c62 0 198 29.5 260 29.5"/><path class="c22" d="M29.6 307.2c62 0 198 34 260 34"/><path class="c20 o16" d="M29.6 273.1c62 0 198 9 260 9"/><path class="c22" d="M29.6 307.2c62 0 198-1.5 260-1.5"/><path class="c31 o13" d="M29.6 266.6c62 0 198 47.5 260 47.5"/><path class="c25" d="M29.6 256.3c62 0 198 81.5 260 81.5"/><path class="c23 o15" d="M29.6 290.1c62 0 198 14.5 260 14.5"/><path class="c31 o18" d="M29.6 266.6c62 0 198 59 260 59"/><path class="c22" d="M29.6 307.2c62 0 198-21 260-21"/><path class="c32 o17" d="M29.6 278.5c62 0 198 28.5 260 28.5"/><path class="c28 o19" d="M29.6 284.2c62 0 198 33.5 260 33.5"/><path class="c28 o19" d="M29.6 284.2c62 0 198 48.5 260 48.5"/><path class="c27" d="M29.6 262c62 0 198 75 260 75"/><path class="c28 o16" d="M29.6 284.2c62 0 198 16.5 260 16.5"/><path class="c24" d="M29.6 301.5c62 0 198 30.5 260 30.5"/><path class="c40" d="M29.6 342.2c62 0 198-9 260-9"/><path class="c20 o19" d="M29.6 273.1c62 0 198 52.5 260 52.5"/><path class="c28 o16" d="M29.6 284.2c62 0 198 57 260 57"/><path class="c24" d="M29.6 301.5c62 0 198 24.5 260 24.5"/><path class="c21 o13" d="M29.6 295.8c62 0 198 15 260 15"/><path class="c22" d="M29.6 307.2c62 0 198 1 260 1"/><path class="c32 o20" d="M29.6 278.5c62 0 198 49.5 260 49.5"/><path class="c21 o18" d="M29.6 295.8c62 0 198 22.5 260 22.5"/><path class="c20 o16" d="M29.6 273.1c62 0 198 59.5 260 59.5"/><path class="c40" d="M29.6 342.2c62 0 198-103.5 260-103.5"/><path class="c23 o19" d="M29.6 290.1c62 0 198 28.5 260 28.5"/><path class="c28 o19" d="M29.6 284.2c62 0 198 28.5 260 28.5"/><path class="c23 o15" d="M29.6 290.1c62 0 198-20.5 260-20.5"/><path class="c21 o13" d="M29.6 295.8c62 0 198-6.5 260-6.5"/><path class="c20 o16" d="M29.6 273.1c62 0 198 71.5 260 71.5"/><path class="c26" d="M29.6 312.9c62 0 198-19 260-19"/><path class="c22" d="M29.6 307.2c62 0 198 22.5 260 22.5"/><path class="c21 o18" d="M29.6 295.8c62 0 198 10 260 10"/><path class="c27" d="M29.6 262c62 0 198 50 260 50"/><path class="c31 o18" d="M29.6 266.6c62 0 198 64.5 260 64.5"/><path class="c21" d="M29.6 295.8c62 0 198-43.5 260-43.5"/><path class="c24 o16" d="M29.6 301.5c62 0 198 18 260 18"/><path class="c21 o18" d="M29.6 295.8c62 0 198 33.5 260 33.5"/><path class="c22" d="M29.6 307.2c62 0 198-18 260-18"/><path class="c26" d="M29.6 312.9c62 0 198 12 260 12"/><path class="c24" d="M29.6 301.5c62 0 198-18 260-18"/><path class="c28 o19" d="M29.6 284.2c62 0 198 50.5 260 50.5"/><path class="c21 o13" d="M29.6 295.8c62 0 198 40 260 40"/><path class="c27 o19" d="M29.6 262c62 0 198 68 260 68"/><path class="c27" d="M29.6 262c62 0 198 77 260 77"/><path class="c24" d="M29.6 301.5c62 0 198 0 260 0"/><path class="c23 o15" d="M29.6 290.1c62 0 198 17.5 260 17.5"/><path class="c21 o13" d="M29.6 295.8c62 0 198 1 260 1"/><path class="c20 o16" d="M29.6 273.1c62 0 198 30 260 30"/><path class="c22" d="M29.6 307.2c62 0 198-12.5 260-12.5"/><path class="c20 o19" d="M29.6 273.1c62 0 198 35 260 35"/><path class="c24 o16" d="M29.6 301.5c62 0 198 1 260 1"/><path class="c22" d="M29.6 307.2c62 0 198-1 260-1"/><path class="c21 o13" d="M29.6 295.8c62 0 198 31.5 260 31.5"/><path class="c24" d="M29.6 301.5c62 0 198-3 260-3"/><path class="c21 o13" d="M29.6 295.8c62 0 198 28.5 260 28.5"/><path class="c21 o13" d="M29.6 295.8c62 0 198 0 260 0"/><path class="c23 o19" d="M29.6 290.1c62 0 198 44 260 44"/><path class="c21 o13" d="M29.6 295.8c62 0 198 14 260 14"/><path class="c21 o13" d="M29.6 295.8c62 0 198 14.5 260 14.5"/><path class="c20 o16" d="M29.6 273.1c62 0 198 58 260 58"/><path class="c35" d="M29.6 324.8c62 0 198-19.5 260-19.5"/><path class="c31 o18" d="M29.6 266.6c62 0 198 59.5 260 59.5"/><path class="c23 o15" d="M29.6 290.1c62 0 198 29.5 260 29.5"/><path class="c31 o18" d="M29.6 266.6c62 0 198 57 260 57"/><path class="c20 o19" d="M29.6 273.1c62 0 198 53.5 260 53.5"/><path class="c26" d="M29.6 312.9c62 0 198-1.5 260-1.5"/><path class="c28 o16" d="M29.6 284.2c62 0 198 41 260 41"/><path class="c23 o19" d="M29.6 290.1c62 0 198 24 260 24"/><path class="c24" d="M29.6 301.5c62 0 198 42 260 42"/><path class="c27 o17" d="M29.6 262c62 0 198 64 260 64"/><path class="c24" d="M29.6 301.5c62 0 198 6.5 260 6.5"/><path class="c28 o16" d="M29.6 284.2c62 0 198 44 260 44"/><path class="c21 o13" d="M29.6 295.8c62 0 198 23 260 23"/><path class="c27 o17" d="M29.6 262c62 0 198 63 260 63"/><path class="c32 o17" d="M29.6 278.5c62 0 198 28 260 28"/><path class="c24" d="M29.6 301.5c62 0 198 29.5 260 29.5"/><path class="c20 o19" d="M29.6 273.1c62 0 198 61.5 260 61.5"/><path class="c31 o13" d="M29.6 266.6c62 0 198 50.5 260 50.5"/><path class="c29" d="M29.6 318.8c62 0 198 1.5 260 1.5"/><path class="c31 o18" d="M29.6 266.6c62 0 198 62 260 62"/><path class="c31 o13" d="M29.6 266.6c62 0 198 51 260 51"/><path class="c24" d="M29.6 301.5c62 0 198-13.5 260-13.5"/><path class="c27 o17" d="M29.6 262c62 0 198 52.5 260 52.5"/><path class="c20 o19" d="M29.6 273.1c62 0 198 41 260 41"/><path class="c20 o20" d="M29.6 273.1c62 0 198 56 260 56"/><path class="c29" d="M29.6 318.8c62 0 198-3.5 260-3.5"/><path class="c24" d="M29.6 301.5c62 0 198-21.5 260-21.5"/><path class="c27" d="M29.6 262c62 0 198 41.5 260 41.5"/><path class="c23 o15" d="M29.6 290.1c62 0 198 9.5 260 9.5"/><path class="c23 o15" d="M29.6 290.1c62 0 198 11 260 11"/><path class="c20 o16" d="M29.6 273.1c62 0 198 67.5 260 67.5"/><path class="c22" d="M29.6 307.2c62 0 198-20 260-20"/><path class="c32 o17" d="M29.6 278.5c62 0 198 59.5 260 59.5"/><path class="c23 o19" d="M29.6 290.1c62 0 198 34.5 260 34.5"/><path class="c21 o18" d="M29.6 295.8c62 0 198 8 260 8"/><path class="c21 o13" d="M29.6 295.8c62 0 198-25.5 260-25.5"/><path class="c26" d="M29.6 312.9c62 0 198 .5 260 .5"/><path class="c32 o17" d="M29.6 278.5c62 0 198 45.5 260 45.5"/><path class="c21 o13" d="M29.6 295.8c62 0 198 27.5 260 27.5"/><path class="c36" d="M29.6 330.5c62 0 198 10 260 10"/><path class="c23 o15" d="M29.6 290.1c62 0 198 44.5 260 44.5"/><path class="c20 o16" d="M29.6 273.1c62 0 198 30.5 260 30.5"/><path class="c24" d="M29.6 301.5c62 0 198-14.5 260-14.5"/><path class="c31 o18" d="M29.6 266.6c62 0 198 60 260 60"/><path class="c21 o18" d="M29.6 295.8c62 0 198 23.5 260 23.5"/><path class="c21 o13" d="M29.6 295.8c62 0 198 42.5 260 42.5"/><path class="c20 o19" d="M29.6 273.1c62 0 198 53 260 53"/><path class="c32 o20" d="M29.6 278.5c62 0 198 32 260 32"/><path class="c25" d="M29.6 256.3c62 0 198 45 260 45"/><path class="c28 o16" d="M29.6 284.2c62 0 198 13.5 260 13.5"/><path class="c28 o19" d="M29.6 284.2c62 0 198 42 260 42"/><path class="c28 o16" d="M29.6 284.2c62 0 198 20 260 20"/><path class="c21 o13" d="M29.6 295.8c62 0 198 36 260 36"/><path class="c34" d="M29.6 250.7c62 0 198 80 260 80"/><path class="c21 o13" d="M29.6 295.8c62 0 198 2.5 260 2.5"/><path class="c22" d="M29.6 307.2c62 0 198-19 260-19"/><path class="c22" d="M29.6 307.2c62 0 198 12.5 260 12.5"/><path class="c31 o18" d="M29.6 266.6c62 0 198 58.5 260 58.5"/><path class="c23 o15" d="M29.6 290.1c62 0 198 39 260 39"/><path class="c28 o16" d="M29.6 284.2c62 0 198 2 260 2"/><path class="c28 o16" d="M29.6 284.2c62 0 198 49 260 49"/><path class="c22" d="M29.6 307.2c62 0 198-12 260-12"/><path class="c22" d="M29.6 307.2c62 0 198-2.5 260-2.5"/><path class="c26" d="M29.6 312.9c62 0 198-33.5 260-33.5"/><path class="c41" d="M29.6 365.9c62 0 198 8 260 8"/><path class="c24" d="M29.6 301.5c62 0 198 2.5 260 2.5"/><path class="c23 o15" d="M29.6 290.1c62 0 198 43 260 43"/><path class="c21 o13" d="M29.6 295.8c62 0 198 24 260 24"/><path class="c32 o17" d="M29.6 278.5c62 0 198 61 260 61"/><path class="c24" d="M29.6 301.5c62 0 198-24.5 260-24.5"/><path class="c23 o15" d="M29.6 290.1c62 0 198-4 260-4"/><path class="c26" d="M29.6 312.9c62 0 198 13.5 260 13.5"/><path class="c27 o17" d="M29.6 262c62 0 198 62.5 260 62.5"/><path class="c23 o15" d="M29.6 290.1c62 0 198 36.5 260 36.5"/><path class="c32 o17" d="M29.6 278.5c62 0 198 8 260 8"/><path class="c22" d="M29.6 307.2c62 0 198 17.5 260 17.5"/><path class="c23 o15" d="M29.6 290.1c62 0 198 48.5 260 48.5"/><path class="c22" d="M29.6 307.2c62 0 198 .5 260 .5"/><path class="c20 o19" d="M29.6 273.1c62 0 198 48 260 48"/><path class="c22" d="M29.6 307.2c62 0 198 23 260 23"/><path class="c23 o15" d="M29.6 290.1c62 0 198-13 260-13"/><path class="c20 o19" d="M29.6 273.1c62 0 198 42.5 260 42.5"/><path class="c20 o16" d="M29.6 273.1c62 0 198 37.5 260 37.5"/><path class="c26" d="M29.6 312.9c62 0 198 7 260 7"/><path class="c28 o19" d="M29.6 284.2c62 0 198 37.5 260 37.5"/><path class="c20 o19" d="M29.6 273.1c62 0 198 42 260 42"/><path class="c32 o17" d="M29.6 278.5c62 0 198 58.5 260 58.5"/><path class="c24" d="M29.6 301.5c62 0 198-6 260-6"/><path class="c28 o19" d="M29.6 284.2c62 0 198 30.5 260 30.5"/><path class="c28 o16" d="M29.6 284.2c62 0 198 7 260 7"/><path class="c21 o18" d="M29.6 295.8c62 0 198 41.5 260 41.5"/><path class="c31 o13" d="M29.6 266.6c62 0 198 27 260 27"/><path class="c32 o17" d="M29.6 278.5c62 0 198 24.5 260 24.5"/><path class="c23 o15" d="M29.6 290.1c62 0 198 12 260 12"/><path class="c31 o18" d="M29.6 266.6c62 0 198 50 260 50"/><path class="c21 o13" d="M29.6 295.8c62 0 198-20 260-20"/><path class="c21 o13" d="M29.6 295.8c62 0 198 5.5 260 5.5"/><path class="c29" d="M29.6 318.8c62 0 198 14 260 14"/><path class="c20 o19" d="M29.6 273.1c62 0 198 45 260 45"/><path class="c21 o13" d="M29.6 295.8c62 0 198 37.5 260 37.5"/><path class="c23 o15" d="M29.6 290.1c62 0 198 0 260 0"/><path class="c24" d="M29.6 301.5c62 0 198 19.5 260 19.5"/><path class="c28 o16" d="M29.6 284.2c62 0 198 18 260 18"/><path class="c23 o15" d="M29.6 290.1c62 0 198 3.5 260 3.5"/><path class="c22" d="M29.6 307.2c62 0 198 8 260 8"/><path class="c27" d="M29.6 262c62 0 198 50.5 260 50.5"/><path class="c28 o19" d="M29.6 284.2c62 0 198 46 260 46"/><path class="c21 o13" d="M29.6 295.8c62 0 198 19 260 19"/><path class="c42" d="M29.6 245c62 0 198 87.5 260 87.5"/><path class="c31 o18" d="M29.6 266.6c62 0 198 67 260 67"/><path class="c20 o19" d="M29.6 273.1c62 0 198 64.5 260 64.5"/><path class="c27 o17" d="M29.6 262c62 0 198 60 260 60"/><path class="c25 o17" d="M29.6 256.3c62 0 198 74.5 260 74.5"/><path class="c26" d="M29.6 312.9c62 0 198-10 260-10"/><path class="c20 o19" d="M29.6 273.1c62 0 198 48.5 260 48.5"/><path class="c31 o13" d="M29.6 266.6c62 0 198 37.5 260 37.5"/><path class="c22" d="M29.6 307.2c62 0 198 14.5 260 14.5"/><path class="c22" d="M29.6 307.2c62 0 198 6.5 260 6.5"/><path class="c28 o16" d="M29.6 284.2c62 0 198 34.5 260 34.5"/><path class="c32 o17" d="M29.6 278.5c62 0 198 14.5 260 14.5"/><path class="c20 o16" d="M29.6 273.1c62 0 198 23 260 23"/><path class="c21 o13" d="M29.6 295.8c62 0 198 11.5 260 11.5"/><path class="c28 o16" d="M29.6 284.2c62 0 198 20.5 260 20.5"/><path class="c28 o19" d="M29.6 284.2c62 0 198 42.5 260 42.5"/><path class="c32 o20" d="M29.6 278.5c62 0 198 31 260 31"/><path class="c31 o13" d="M29.6 266.6c62 0 198 44 260 44"/><path class="c24 o16" d="M29.6 301.5c62 0 198 6 260 6"/><path class="c31 o18" d="M29.6 266.6c62 0 198 66 260 66"/><path class="c20 o19" d="M29.6 273.1c62 0 198 60.5 260 60.5"/><path class="c25" d="M29.6 256.3c62 0 198 77 260 77"/><path class="c28 o16" d="M29.6 284.2c62 0 198 12 260 12"/><path class="c20 o19" d="M29.6 273.1c62 0 198 51.5 260 51.5"/><path class="c26" d="M29.6 312.9c62 0 198 8 260 8"/><path class="c29" d="M29.6 318.8c62 0 198-13 260-13"/><path class="c22" d="M29.6 307.2c62 0 198 9.5 260 9.5"/><path class="c31 o18" d="M29.6 266.6c62 0 198 61 260 61"/><path class="c21 o18" d="M29.6 295.8c62 0 198 32.5 260 32.5"/><path class="c24" d="M29.6 301.5c62 0 198-27 260-27"/><path class="c29" d="M29.6 318.8c62 0 198-31.5 260-31.5"/><path class="c32 o20" d="M29.6 278.5c62 0 198 52.5 260 52.5"/><path class="c20 o19" d="M29.6 273.1c62 0 198 46.5 260 46.5"/><path class="c23 o15" d="M29.6 290.1c62 0 198-2 260-2"/><path class="c26" d="M29.6 312.9c62 0 198 18 260 18"/><path class="c32 o17" d="M29.6 278.5c62 0 198 13.5 260 13.5"/><path class="c23 o15" d="M29.6 290.1c62 0 198 13 260 13"/><path class="c32 o20" d="M29.6 278.5c62 0 198 39.5 260 39.5"/><path class="c28 o19" d="M29.6 284.2c62 0 198 23.5 260 23.5"/><path class="c25" d="M29.6 256.3c62 0 198 56.5 260 56.5"/><path class="c32 o20" d="M29.6 278.5c62 0 198 54.5 260 54.5"/><path class="c25" d="M29.6 256.3c62 0 198 70.5 260 70.5"/><path class="c24" d="M29.6 301.5c62 0 198 20 260 20"/><path class="c40" d="M29.6 342.2c62 0 198-58 260-58"/><path class="c26" d="M29.6 312.9c62 0 198-21 260-21"/><path class="c21 o18" d="M29.6 295.8c62 0 198 13.5 260 13.5"/><path class="c21 o13" d="M29.6 295.8c62 0 198 5 260 5"/><path class="c23 o19" d="M29.6 290.1c62 0 198 22 260 22"/><path class="c26" d="M29.6 312.9c62 0 198-15 260-15"/><path class="c32 o20" d="M29.6 278.5c62 0 198 50 260 50"/><path class="c32 o17" d="M29.6 278.5c62 0 198 30.5 260 30.5"/><path class="c23 o15" d="M29.6 290.1c62 0 198 42 260 42"/><path class="c24" d="M29.6 301.5c62 0 198 11.5 260 11.5"/><path class="c28 o19" d="M29.6 284.2c62 0 198 36 260 36"/><path class="c29" d="M29.6 318.8c62 0 198 5.5 260 5.5"/><path class="c25" d="M29.6 256.3c62 0 198 72 260 72"/><path class="c20 o16" d="M29.6 273.1c62 0 198 21.5 260 21.5"/><path class="c24" d="M29.6 301.5c62 0 198 34.5 260 34.5"/><path class="c31 o13" d="M29.6 266.6c62 0 198 40 260 40"/><path class="c28 o16" d="M29.6 284.2c62 0 198 22.5 260 22.5"/><path class="c34" d="M29.6 250.7c62 0 198 49 260 49"/><path class="c31 o18" d="M29.6 266.6c62 0 198 68.5 260 68.5"/><path class="c26" d="M29.6 312.9c62 0 198 9.5 260 9.5"/><path class="c23 o15" d="M29.6 290.1c62 0 198 23 260 23"/><path class="c27" d="M29.6 262c62 0 198 47.5 260 47.5"/><path class="c32 o17" d="M29.6 278.5c62 0 198 42 260 42"/><path class="c28 o16" d="M29.6 284.2c62 0 198 39 260 39"/><path class="c28 o19" d="M29.6 284.2c62 0 198 47 260 47"/><path class="c31 o13" d="M29.6 266.6c62 0 198 31.5 260 31.5"/><path class="c22" d="M29.6 307.2c62 0 198-27.5 260-27.5"/><path class="c23 o19" d="M29.6 290.1c62 0 198 10.5 260 10.5"/><path class="c23 o15" d="M29.6 290.1c62 0 198-7.5 260-7.5"/><path class="c23 o15" d="M29.6 290.1c62 0 198 15.5 260 15.5"/><path class="c31 o13" d="M29.6 266.6c62 0 198 40.5 260 40.5"/><path class="c20" d="M29.6 273.1c62 0 198 78.5 260 78.5"/><path class="c28 o16" d="M29.6 284.2c62 0 198 8.5 260 8.5"/><path class="c28 o16" d="M29.6 284.2c62 0 198 22 260 22"/><path class="c25" d="M29.6 256.3c62 0 198 73.5 260 73.5"/><path class="c24" d="M29.6 301.5c62 0 198-78 260-78"/><path class="c27" d="M29.6 262c62 0 198 63.5 260 63.5"/><path class="c23 o19" d="M29.6 290.1c62 0 198 30.5 260 30.5"/><path class="c31 o18" d="M29.6 266.6c62 0 198 71 260 71"/><path class="c31 o13" d="M29.6 266.6c62 0 198 70 260 70"/><path class="c31 o18" d="M29.6 266.6c62 0 198 56.5 260 56.5"/><path class="c20 o16" d="M29.6 273.1c62 0 198 13.5 260 13.5"/><path class="c26" d="M29.6 312.9c62 0 198-7.5 260-7.5"/><path class="c32 o17" d="M29.6 278.5c62 0 198 25.5 260 25.5"/><path class="c24" d="M29.6 301.5c62 0 198-19 260-19"/><path class="c32 o17" d="M29.6 278.5c62 0 198 40 260 40"/><path class="c22" d="M29.6 307.2c62 0 198-15 260-15"/><path class="c36" d="M29.6 330.5c62 0 198-50.5 260-50.5"/><path class="c24 o16" d="M29.6 301.5c62 0 198-6.5 260-6.5"/><path class="c22" d="M29.6 307.2c62 0 198-13 260-13"/><path class="c31 o13" d="M29.6 266.6c62 0 198 35 260 35"/><path class="c28 o16" d="M29.6 284.2c62 0 198 11 260 11"/><path class="c33" d="M29.6 336.4c62 0 198-99.5 260-99.5"/><path class="c23 o19" d="M29.6 290.1c62 0 198 31 260 31"/><path class="c43" d="M29.6 325.9c62 0 198-62.5 260-62.5"/><path class="c24 o16" d="M29.6 301.5c62 0 198 10 260 10"/><path class="c21 o18" d="M29.6 295.8c62 0 198 35.5 260 35.5"/><path class="c28 o19" d="M29.6 284.2c62 0 198 34 260 34"/><path class="c23 o15" d="M29.6 290.1c62 0 198 47 260 47"/><path class="c23 o15" d="M29.6 290.1c62 0 198 37.5 260 37.5"/><path class="c25" d="M29.6 256.3c62 0 198 58 260 58"/><path class="c21 o13" d="M29.6 295.8c62 0 198-15 260-15"/><path class="c28 o19" d="M29.6 284.2c62 0 198 27 260 27"/><path class="c28 o16" d="M29.6 284.2c62 0 198 23 260 23"/><path class="c27" d="M29.6 262c62 0 198 67.5 260 67.5"/><path class="c23 o15" d="M29.6 290.1c62 0 198 19 260 19"/><path class="c32 o17" d="M29.6 278.5c62 0 198 60 260 60"/><path class="c27" d="M29.6 262c62 0 198 43.5 260 43.5"/><path class="c25" d="M29.6 256.3c62 0 198 66 260 66"/><path class="c29" d="M29.6 318.8c62 0 198-3 260-3"/><path class="c24 o16" d="M29.6 301.5c62 0 198 19 260 19"/><path class="c21 o13" d="M29.6 295.8c62 0 198 .5 260 .5"/><path class="c27 o17" d="M29.6 262c62 0 198 66.5 260 66.5"/><path class="c44" d="M29.6 354c62 0 198 23 260 23"/><path class="c20 o19" d="M29.6 273.1c62 0 198 50.5 260 50.5"/><path class="c31 o18" d="M29.6 266.6c62 0 198 52.5 260 52.5"/><path class="c26" d="M29.6 312.9c62 0 198 11.5 260 11.5"/><path class="c28 o19" d="M29.6 284.2c62 0 198 37 260 37"/><path class="c26" d="M29.6 312.9c62 0 198 4.5 260 4.5"/><path class="c27 o17" d="M29.6 262c62 0 198 67 260 67"/><path class="c21 o18" d="M29.6 295.8c62 0 198 12 260 12"/><path class="c23 o15" d="M29.6 290.1c62 0 198 15 260 15"/><path class="c22" d="M29.6 307.2c62 0 198-8.5 260-8.5"/><path class="c31 o13" d="M29.6 266.6c62 0 198 41.5 260 41.5"/><path class="c27" d="M29.6 262c62 0 198 76.5 260 76.5"/><path class="c32 o17" d="M29.6 278.5c62 0 198 35.5 260 35.5"/><path class="c20 o16" d="M29.6 273.1c62 0 198 65.5 260 65.5"/><path class="c22" d="M29.6 307.2c62 0 198-17 260-17"/><path class="c24" d="M29.6 301.5c62 0 198 33 260 33"/><path class="c22" d="M29.6 307.2c62 0 198 14 260 14"/><path class="c23 o19" d="M29.6 290.1c62 0 198 38 260 38"/><path class="c25" d="M29.6 256.3c62 0 198 49.5 260 49.5"/><path class="c41" d="M29.6 365.9c62 0 198 18.5 260 18.5"/><path class="c20 o19" d="M29.6 273.1c62 0 198 59 260 59"/><path class="c27 o17" d="M29.6 262c62 0 198 59.5 260 59.5"/><path class="c28 o16" d="M29.6 284.2c62 0 198 21 260 21"/><path class="c24 o16" d="M29.6 301.5c62 0 198 27.5 260 27.5"/><path class="c23 o19" d="M29.6 290.1c62 0 198 16 260 16"/><path class="c26" d="M29.6 312.9c62 0 198-24 260-24"/><path class="c24" d="M29.6 301.5c62 0 198 3 260 3"/><path class="c20 o16" d="M29.6 273.1c62 0 198 66.5 260 66.5"/><path class="c31 o13" d="M29.6 266.6c62 0 198 45.5 260 45.5"/><path class="c20 o16" d="M29.6 273.1c62 0 198 26 260 26"/><path class="c26" d="M29.6 312.9c62 0 198 3.5 260 3.5"/><path class="c31 o18" d="M29.6 266.6c62 0 198 65 260 65"/><path class="c23 o15" d="M29.6 290.1c62 0 198 9 260 9"/><path class="c26" d="M29.6 312.9c62 0 198-28 260-28"/><path class="c25" d="M29.6 256.3c62 0 198 64 260 64"/><path class="c29" d="M29.6 318.8c62 0 198 21 260 21"/><path class="c20 o16" d="M29.6 273.1c62 0 198 52 260 52"/><path class="c24 o16" d="M29.6 301.5c62 0 198 31 260 31"/><path class="c21 o13" d="M29.6 295.8c62 0 198 4 260 4"/><path class="c37" d="M29.6 239.6c62 0 198 97.5 260 97.5"/><path class="c25" d="M29.6 256.3c62 0 198 80 260 80"/><path class="c23 o15" d="M29.6 290.1c62 0 198 4.5 260 4.5"/><path class="c31 o13" d="M29.6 266.6c62 0 198 39 260 39"/><path class="c22" d="M29.6 307.2c62 0 198 10.5 260 10.5"/><path class="c32 o17" d="M29.6 278.5c62 0 198 49 260 49"/><path class="c27" d="M29.6 262c62 0 198 58 260 58"/><path class="c28 o16" d="M29.6 284.2c62 0 198 45.5 260 45.5"/><path class="c20 o19" d="M29.6 273.1c62 0 198 62 260 62"/><path class="c22" d="M29.6 307.2c62 0 198 11.5 260 11.5"/><path class="c33" d="M29.6 336.4c62 0 198-6.5 260-6.5"/><path class="c27" d="M29.6 262c62 0 198 75.5 260 75.5"/><path class="c20 o19" d="M29.6 273.1c62 0 198 55 260 55"/><path class="c27" d="M29.6 262c62 0 198 71.5 260 71.5"/><path class="c21 o13" d="M29.6 295.8c62 0 198 16 260 16"/><path class="c27" d="M29.6 262c62 0 198 68.5 260 68.5"/><path class="c25" d="M29.6 256.3c62 0 198 61.5 260 61.5"/><path class="c20 o19" d="M29.6 273.1c62 0 198 43.5 260 43.5"/><path class="c26" d="M29.6 312.9c62 0 198-16.5 260-16.5"/><path class="c31 o18" d="M29.6 266.6c62 0 198 53.5 260 53.5"/><path class="c21 o13" d="M29.6 295.8c62 0 198 6.5 260 6.5"/><path class="c31 o13" d="M29.6 266.6c62 0 198 44.5 260 44.5"/><path class="c45" d="M29.6 371.8c62 0 198-54.5 260-54.5"/><path class="c22" d="M29.6 307.2c62 0 198 8.5 260 8.5"/><path class="c28 o19" d="M29.6 284.2c62 0 198 40.5 260 40.5"/><path class="c23 o15" d="M29.6 290.1c62 0 198 19.5 260 19.5"/><path class="c31 o13" d="M29.6 266.6c62 0 198 29 260 29"/><path class="c21 o18" d="M29.6 295.8c62 0 198 31 260 31"/><path class="c32 o17" d="M29.6 278.5c62 0 198 18 260 18"/><path class="c20 o20" d="M29.6 273.1c62 0 198 57 260 57"/><path class="c26" d="M29.6 312.9c62 0 198-23 260-23"/><path class="c46" d="M29.6 359.8c62 0 198-114.5 260-114.5"/><path class="c26" d="M29.6 312.9c62 0 198-4.5 260-4.5"/><path class="c20 o19" d="M29.6 273.1c62 0 198 60 260 60"/><path class="c22" d="M29.6 307.2c62 0 198 15 260 15"/><path class="c22" d="M29.6 307.2c62 0 198-.5 260-.5"/><path class="c23 o15" d="M29.6 290.1c62 0 198-8.5 260-8.5"/><path class="c32 o20" d="M29.6 278.5c62 0 198 48 260 48"/><path class="c22" d="M29.6 307.2c62 0 198 3 260 3"/><path class="c24 o16" d="M29.6 301.5c62 0 198 17.5 260 17.5"/><path class="c27 o17" d="M29.6 262c62 0 198 57.5 260 57.5"/><path class="c31 o13" d="M29.6 266.6c62 0 198 42.5 260 42.5"/><path class="c31 o13" d="M29.6 266.6c62 0 198 46.5 260 46.5"/><path class="c22" d="M29.6 307.2c62 0 198-24.5 260-24.5"/><path class="c28 o16" d="M29.6 284.2c62 0 198 26.5 260 26.5"/><path class="c32 o17" d="M29.6 278.5c62 0 198 54 260 54"/><path class="c31 o18" d="M29.6 266.6c62 0 198 54 260 54"/><path class="c24" d="M29.6 301.5c62 0 198 24 260 24"/><path class="c24" d="M29.6 301.5c62 0 198 16 260 16"/><path class="c28 o19" d="M29.6 284.2c62 0 198 46.5 260 46.5"/><path class="c27" d="M29.6 262c62 0 198 45 260 45"/><path class="c28 o16" d="M29.6 284.2c62 0 198 1 260 1"/><path class="c24" d="M29.6 301.5c62 0 198-11.5 260-11.5"/><path class="c24" d="M29.6 301.5c62 0 198 8.5 260 8.5"/><path class="c21 o13" d="M29.6 295.8c62 0 198 38 260 38"/><path class="c31 o13" d="M29.6 266.6c62 0 198 32 260 32"/><path class="c31 o13" d="M29.6 266.6c62 0 198 78 260 78"/><path class="c21 o18" d="M29.6 295.8c62 0 198 30 260 30"/><path class="c26" d="M29.6 312.9c62 0 198-20.5 260-20.5"/><path class="c22" d="M29.6 307.2c62 0 198 27 260 27"/><path class="c42" d="M29.6 245c62 0 198 82.5 260 82.5"/><path class="c27 o17" d="M29.6 262c62 0 198 72.5 260 72.5"/><path class="c27" d="M29.6 262c62 0 198 79 260 79"/><path class="c25" d="M29.6 256.3c62 0 198 55 260 55"/><path class="c20 o16" d="M29.6 273.1c62 0 198 45.5 260 45.5"/><path class="c27" d="M29.6 262c62 0 198 53 260 53"/><path class="c23 o15" d="M29.6 290.1c62 0 198 20.5 260 20.5"/><path class="c20 o16" d="M29.6 273.1c62 0 198 27 260 27"/><path class="c24" d="M29.6 301.5c62 0 198 16.5 260 16.5"/><path class="c28 o16" d="M29.6 284.2c62 0 198 55.5 260 55.5"/><path class="c21 o13" d="M29.6 295.8c62 0 198 3.5 260 3.5"/><path class="c24 o16" d="M29.6 301.5c62 0 198 25.5 260 25.5"/><path class="c26" d="M29.6 312.9c62 0 198 27 260 27"/><path class="c27 o17" d="M29.6 262c62 0 198 69.5 260 69.5"/><path class="c28 o16" d="M29.6 284.2c62 0 198 31.5 260 31.5"/><path class="c31 o18" d="M29.6 266.6c62 0 198 65.5 260 65.5"/><path class="c24" d="M29.6 301.5c62 0 198-7.5 260-7.5"/><path class="c28 o16" d="M29.6 284.2c62 0 198 36.5 260 36.5"/><path class="c24 o16" d="M29.6 301.5c62 0 198 13.5 260 13.5"/><path class="c29" d="M29.6 318.8c62 0 198-28 260-28"/><path class="c22" d="M29.6 307.2c62 0 198 2.5 260 2.5"/><path class="c25" d="M29.6 256.3c62 0 198 67.5 260 67.5"/><path class="c32 o17" d="M29.6 278.5c62 0 198 50.5 260 50.5"/><path class="c28 o19" d="M29.6 284.2c62 0 198 40 260 40"/><path class="c32 o17" d="M29.6 278.5c62 0 198 4.5 260 4.5"/><path class="c24" d="M29.6 301.5c62 0 198 13 260 13"/><path class="c32 o20" d="M29.6 278.5c62 0 198 16 260 16"/><path class="c23 o15" d="M29.6 290.1c62 0 198 31.5 260 31.5"/><path class="c31 o13" d="M29.6 266.6c62 0 198 75.5 260 75.5"/><path class="c23 o15" d="M29.6 290.1c62 0 198 6.5 260 6.5"/><path class="c21 o13" d="M29.6 295.8c62 0 198-2.5 260-2.5"/><path class="c23 o15" d="M29.6 290.1c62 0 198 26.5 260 26.5"/><path class="c22" d="M29.6 307.2c62 0 198 17 260 17"/><path class="c36" d="M29.6 330.5c62 0 198-6 260-6"/><path class="c20 o16" d="M29.6 273.1c62 0 198 62.5 260 62.5"/><path class="c26" d="M29.6 312.9c62 0 198-14.5 260-14.5"/><path class="c31 o13" d="M29.6 266.6c62 0 198 42 260 42"/><path class="c26" d="M29.6 312.9c62 0 198-2 260-2"/><path class="c26" d="M29.6 312.9c62 0 198 3 260 3"/><path class="c28 o16" d="M29.6 284.2c62 0 198 52 260 52"/><path class="c23 o15" d="M29.6 290.1c62 0 198 35.5 260 35.5"/><path class="c23 o15" d="M29.6 290.1c62 0 198 13.5 260 13.5"/><path class="c21 o13" d="M29.6 295.8c62 0 198 30.5 260 30.5"/><path class="c32 o20" d="M29.6 278.5c62 0 198 47.5 260 47.5"/><path class="c22" d="M29.6 307.2c62 0 198-32 260-32"/><path class="c25" d="M29.6 256.3c62 0 198 73 260 73"/><path class="c22" d="M29.6 307.2c62 0 198 24 260 24"/><path class="c23 o15" d="M29.6 290.1c62 0 198 48 260 48"/><path class="c31 o13" d="M29.6 266.6c62 0 198 72 260 72"/><path class="c25" d="M29.6 256.3c62 0 198 81 260 81"/><path class="c22" d="M29.6 307.2c62 0 198-3 260-3"/><path class="c28 o16" d="M29.6 284.2c62 0 198-12 260-12"/><path class="c21 o13" d="M29.6 295.8c62 0 198-12 260-12"/><path class="c20 o16" d="M29.6 273.1c62 0 198 47 260 47"/><path class="c20 o16" d="M29.6 273.1c62 0 198 32 260 32"/><path class="c31 o13" d="M29.6 266.6c62 0 198 73.5 260 73.5"/><path class="c31 o18" d="M29.6 266.6c62 0 198 63 260 63"/><path class="c27" d="M29.6 262c62 0 198 46.5 260 46.5"/><path class="c21 o13" d="M29.6 295.8c62 0 198-.5 260-.5"/><path class="c32 o17" d="M29.6 278.5c62 0 198 27.5 260 27.5"/><path class="c24 o16" d="M29.6 301.5c62 0 198 33.5 260 33.5"/><path class="c32 o17" d="M29.6 278.5c62 0 198 29 260 29"/><path class="c28 o16" d="M29.6 284.2c62 0 198 9.5 260 9.5"/><path class="c32 o17" d="M29.6 278.5c62 0 198 37.5 260 37.5"/><path class="c20 o16" d="M29.6 273.1c62 0 198 41.5 260 41.5"/><path class="c25" d="M29.6 256.3c62 0 198 69 260 69"/><path class="c29" d="M29.6 318.8c62 0 198-20 260-20"/><path class="c27 o17" d="M29.6 262c62 0 198 64.5 260 64.5"/><path class="c27 o17" d="M29.6 262c62 0 198 70 260 70"/><path class="c23 o15" d="M29.6 290.1c62 0 198-5.5 260-5.5"/><path class="c31 o13" d="M29.6 266.6c62 0 198 41 260 41"/><path class="c20 o16" d="M29.6 273.1c62 0 198 19 260 19"/><path class="c42" d="M29.6 245c62 0 198 93 260 93"/><path class="c25" d="M29.6 256.3c62 0 198 68 260 68"/><path class="c28 o16" d="M29.6 284.2c62 0 198 29 260 29"/><path class="c24" d="M29.6 301.5c62 0 198 8 260 8"/><path class="c25" d="M29.6 256.3c62 0 198 65.5 260 65.5"/><path class="c21 o18" d="M29.6 295.8c62 0 198 28 260 28"/><path class="c20 o19" d="M29.6 273.1c62 0 198 47.5 260 47.5"/><path class="c20 o16" d="M29.6 273.1c62 0 198 39.5 260 39.5"/><path class="c20 o16" d="M29.6 273.1c62 0 198 27.5 260 27.5"/><path class="c27 o17" d="M29.6 262c62 0 198 73.5 260 73.5"/><path class="c28 o16" d="M29.6 284.2c62 0 198 58.5 260 58.5"/><path class="c27" d="M29.6 262c62 0 198 80.5 260 80.5"/><path class="c32 o20" d="M29.6 278.5c62 0 198 42.5 260 42.5"/><path class="c31 o18" d="M29.6 266.6c62 0 198 62.5 260 62.5"/><path class="c21 o13" d="M29.6 295.8c62 0 198 9.5 260 9.5"/><path class="c24" d="M29.6 301.5c62 0 198-10 260-10"/><path class="c22" d="M29.6 307.2c62 0 198-7 260-7"/><path class="c21 o13" d="M29.6 295.8c62 0 198-13.5 260-13.5"/><path class="c25" d="M29.6 256.3c62 0 198 52.5 260 52.5"/><path class="c34" d="M29.6 250.7c62 0 198 85.5 260 85.5"/><path class="c27" d="M29.6 262c62 0 198 56.5 260 56.5"/><path class="c23" d="M29.6 290.1c62 0 198-37.5 260-37.5"/><path class="c24" d="M29.6 301.5c62 0 198 39.5 260 39.5"/><path class="c23 o15" d="M29.6 290.1c62 0 198 51.5 260 51.5"/><path class="c32 o17" d="M29.6 278.5c62 0 198 34.5 260 34.5"/><path class="c21 o13" d="M29.6 295.8c62 0 198-4.5 260-4.5"/><path class="c24" d="M29.6 301.5c62 0 198-9.5 260-9.5"/><path class="c31 o13" d="M29.6 266.6c62 0 198 37 260 37"/><path class="c27 o17" d="M29.6 262c62 0 198 71 260 71"/><path class="c24" d="M29.6 301.5c62 0 198 12.5 260 12.5"/><path class="c27" d="M29.6 262c62 0 198 78.5 260 78.5"/><path class="c21 o13" d="M29.6 295.8c62 0 198 17 260 17"/><path class="c24" d="M29.6 301.5c62 0 198-11 260-11"/><path class="c26" d="M29.6 312.9c62 0 198 19 260 19"/><path class="c24" d="M29.6 301.5c62 0 198 23.5 260 23.5"/><path class="c32 o17" d="M29.6 278.5c62 0 198 39 260 39"/><path class="c24" d="M29.6 301.5c62 0 198-1.5 260-1.5"/><path class="c27" d="M29.6 262c62 0 198 48.5 260 48.5"/><path class="c26" d="M29.6 312.9c62 0 198 21 260 21"/><path class="c31 o13" d="M29.6 266.6c62 0 198 73 260 73"/><path class="c31 o13" d="M29.6 266.6c62 0 198 53 260 53"/><path class="c22" d="M29.6 307.2c62 0 198-25 260-25"/><path class="c28 o16" d="M29.6 284.2c62 0 198 38 260 38"/><path class="c29" d="M29.6 318.8c62 0 198-37 260-37"/><path class="c23 o15" d="M29.6 290.1c62 0 198 43.5 260 43.5"/><path class="c20 o19" d="M29.6 273.1c62 0 198 58.5 260 58.5"/><path class="c26" d="M29.6 312.9c62 0 198 15.5 260 15.5"/><path class="c23 o15" d="M29.6 290.1c62 0 198 32.5 260 32.5"/><path class="c28 o19" d="M29.6 284.2c62 0 198 33 260 33"/><path class="c26" d="M29.6 312.9c62 0 198-5.5 260-5.5"/><path class="c20 o16" d="M29.6 273.1c62 0 198 61 260 61"/><path class="c29" d="M29.6 318.8c62 0 198 12.5 260 12.5"/><path class="c22" d="M29.6 307.2c62 0 198 5 260 5"/><path class="c24 o16" d="M29.6 301.5c62 0 198 10.5 260 10.5"/><path class="c27" d="M29.6 262c62 0 198 44.5 260 44.5"/><path class="c28 o16" d="M29.6 284.2c62 0 198 29.5 260 29.5"/><path class="c34" d="M29.6 250.7c62 0 198 87 260 87"/><path class="c32 o17" d="M29.6 278.5c62 0 198 33.5 260 33.5"/><path class="c31 o13" d="M29.6 266.6c62 0 198 36 260 36"/><path class="c32 o17" d="M29.6 278.5c62 0 198 9.5 260 9.5"/><path class="c22" d="M29.6 307.2c62 0 198 31 260 31"/><path class="c24" d="M29.6 301.5c62 0 198-3.5 260-3.5"/><path class="c31 o13" d="M29.6 266.6c62 0 198 25.5 260 25.5"/><path class="c29" d="M29.6 318.8c62 0 198-23 260-23"/><path class="c22" d="M29.6 307.2c62 0 198 11 260 11"/><path class="c20 o16" d="M29.6 273.1c62 0 198 69 260 69"/><path class="c23 o15" d="M29.6 290.1c62 0 198 25 260 25"/><path class="c32 o20" d="M29.6 278.5c62 0 198 41 260 41"/><path class="c31 o13" d="M29.6 266.6c62 0 198 35.5 260 35.5"/><path class="c21" d="M29.6 295.8c62 0 198-66.5 260-66.5"/><path class="c22" d="M29.6 307.2c62 0 198 4 260 4"/><path class="c20 o16" d="M29.6 273.1c62 0 198 65 260 65"/><path class="c29" d="M29.6 318.8c62 0 198 10 260 10"/><path class="c25" d="M29.6 256.3c62 0 198 69.5 260 69.5"/><path class="c32 o17" d="M29.6 278.5c62 0 198 36.5 260 36.5"/><path class="c22" d="M29.6 307.2c62 0 198 30.5 260 30.5"/><path class="c32 o17" d="M29.6 278.5c62 0 198 31.5 260 31.5"/><path class="c24" d="M29.6 301.5c62 0 198 7.5 260 7.5"/><path class="c24" d="M29.6 301.5c62 0 198-16 260-16"/><path class="c20 o19" d="M29.6 273.1c62 0 198 51 260 51"/><path class="c20 o16" d="M29.6 273.1c62 0 198 56.5 260 56.5"/><path class="c24" d="M29.6 301.5c62 0 198 14.5 260 14.5"/><path class="c28 o16" d="M29.6 284.2c62 0 198 26 260 26"/><path class="c24" d="M29.6 301.5c62 0 198-4.5 260-4.5"/><path class="c32 o17" d="M29.6 278.5c62 0 198 43.5 260 43.5"/><path class="c31 o13" d="M29.6 266.6c62 0 198 74 260 74"/><path class="c28 o16" d="M29.6 284.2c62 0 198-6.5 260-6.5"/><path class="c26" d="M29.6 312.9c62 0 198 9 260 9"/><path class="c32 o20" d="M29.6 278.5c62 0 198 45 260 45"/><path class="c31 o13" d="M29.6 266.6c62 0 198 74.5 260 74.5"/><path class="c22" d="M29.6 307.2c62 0 198 26 260 26"/><path class="c28 o16" d="M29.6 284.2c62 0 198 51 260 51"/><path class="c23 o15" d="M29.6 290.1c62 0 198 5 260 5"/><path class="c29" d="M29.6 318.8c62 0 198-17.5 260-17.5"/><path class="c24 o16" d="M29.6 301.5c62 0 198 23 260 23"/><path class="c31 o13" d="M29.6 266.6c62 0 198 68 260 68"/><path class="c23 o15" d="M29.6 290.1c62 0 198 2.5 260 2.5"/><path class="c23 o15" d="M29.6 290.1c62 0 198 17 260 17"/><path class="c24" d="M29.6 301.5c62 0 198 14 260 14"/><path class="c31 o13" d="M29.6 266.6c62 0 198 34 260 34"/><path class="c21 o13" d="M29.6 295.8c62 0 198 18 260 18"/><path class="c20 o16" d="M29.6 273.1c62 0 198 49 260 49"/><path class="c26" d="M29.6 312.9c62 0 198 14 260 14"/><path class="c22" d="M29.6 307.2c62 0 198 10 260 10"/><path class="c32 o17" d="M29.6 278.5c62 0 198 64 260 64"/><path class="c46" d="M29.6 359.8c62 0 198-71 260-71"/><path class="c26" d="M29.6 312.9c62 0 198-30 260-30"/><path class="c25" d="M29.6 256.3c62 0 198 77.5 260 77.5"/><path class="c27" d="M29.6 262c62 0 198 53.5 260 53.5"/><path class="c20 o16" d="M29.6 273.1c62 0 198 18 260 18"/><path class="c27" d="M29.6 262c62 0 198 65.5 260 65.5"/><path class="c20 o16" d="M29.6 273.1c62 0 198 31 260 31"/><path class="c23 o15" d="M29.6 290.1c62 0 198 18 260 18"/><path class="c20 o16" d="M29.6 273.1c62 0 198 21 260 21"/><path class="c24" d="M29.6 301.5c62 0 198 2 260 2"/><path class="c25" d="M29.6 256.3c62 0 198 83 260 83"/><path class="c21 o13" d="M29.6 295.8c62 0 198 26 260 26"/><path class="c24" d="M29.6 301.5c62 0 198 35.5 260 35.5"/><path class="c24" d="M29.6 301.5c62 0 198 9.5 260 9.5"/><path class="c22" d="M29.6 307.2c62 0 198 21 260 21"/><path class="c21 o13" d="M29.6 295.8c62 0 198 19.5 260 19.5"/><path class="c32 o17" d="M29.6 278.5c62 0 198 34 260 34"/><path class="c23 o15" d="M29.6 290.1c62 0 198 21 260 21"/><path class="c27" d="M29.6 262c62 0 198 49.5 260 49.5"/><path class="c29" d="M29.6 318.8c62 0 198-25.5 260-25.5"/><path class="c24" d="M29.6 301.5c62 0 198 26 260 26"/><path class="c21 o13" d="M29.6 295.8c62 0 198 12.5 260 12.5"/><path class="c22" d="M29.6 307.2c62 0 198-2 260-2"/><path class="c20 o16" d="M29.6 273.1c62 0 198 40 260 40"/><path class="c23 o15" d="M29.6 290.1c62 0 198 46.5 260 46.5"/><path class="c33" d="M29.6 336.4c62 0 198-36 260-36"/><path class="c26" d="M29.6 312.9c62 0 198 23.5 260 23.5"/><path class="c24" d="M29.6 301.5c62 0 198 22 260 22"/><path class="c26" d="M29.6 312.9c62 0 198 17 260 17"/><path class="c27" d="M29.6 262c62 0 198 51.5 260 51.5"/><path class="c21 o13" d="M29.6 295.8c62 0 198 21 260 21"/><path class="c24" d="M29.6 301.5c62 0 198-.5 260-.5"/><path class="c26" d="M29.6 312.9c62 0 198-24.5 260-24.5"/><path class="c31 o13" d="M29.6 266.6c62 0 198 54.5 260 54.5"/><path class="c26" d="M29.6 312.9c62 0 198 2 260 2"/><path class="c22" d="M29.6 307.2c62 0 198 7 260 7"/><path class="c22" d="M29.6 307.2c62 0 198 6 260 6"/><path class="c26" d="M29.6 312.9c62 0 198-14 260-14"/><path class="c32 o17" d="M29.6 278.5c62 0 198 59 260 59"/><path class="c26" d="M29.6 312.9c62 0 198 5 260 5"/><path class="c23 o15" d="M29.6 290.1c62 0 198 33.5 260 33.5"/><path class="c23 o15" d="M29.6 290.1c62 0 198 5.5 260 5.5"/><path class="c25" d="M29.6 256.3c62 0 198 71.5 260 71.5"/><path class="c31 o13" d="M29.6 266.6c62 0 198 49.5 260 49.5"/><path class="c24" d="M29.6 301.5c62 0 198-1 260-1"/><path class="c32 o20" d="M29.6 278.5c62 0 198 52 260 52"/><path class="c31 o13" d="M29.6 266.6c62 0 198 43.5 260 43.5"/><path class="c22" d="M29.6 307.2c62 0 198 7.5 260 7.5"/><path class="c27" d="M29.6 262c62 0 198 82.5 260 82.5"/><path class="c26" d="M29.6 312.9c62 0 198 0 260 0"/><path class="c23 o15" d="M29.6 290.1c62 0 198 38.5 260 38.5"/><path class="c27" d="M29.6 262c62 0 198 47 260 47"/><path class="c24" d="M29.6 301.5c62 0 198 17 260 17"/><path class="c35" d="M29.6 324.8c62 0 198-27.5 260-27.5"/><path class="c22" d="M29.6 307.2c62 0 198 12 260 12"/><path class="c24" d="M29.6 301.5c62 0 198-5 260-5"/><path class="c47" d="M29.6 348c62 0 198-36.5 260-36.5"/><path class="c20" d="M29.6 273.1c62 0 198 83.5 260 83.5"/><path class="c24" d="M29.6 301.5c62 0 198 38 260 38"/><path class="c34" d="M29.6 250.7c62 0 198 82.5 260 82.5"/><path class="c32 o17" d="M29.6 278.5c62 0 198 66 260 66"/><path class="c32 o17" d="M29.6 278.5c62 0 198 10.5 260 10.5"/><path class="c21 o13" d="M29.6 295.8c62 0 198 44.5 260 44.5"/><path class="c35" d="M29.6 324.8c62 0 198-15.5 260-15.5"/><path class="c23 o15" d="M29.6 290.1c62 0 198-1.5 260-1.5"/><path class="c27" d="M29.6 262c62 0 198 61.5 260 61.5"/><path class="c23 o15" d="M29.6 290.1c62 0 198 45.5 260 45.5"/><path class="c22" d="M29.6 307.2c62 0 198-7.5 260-7.5"/><path class="c28 o16" d="M29.6 284.2c62 0 198 5.5 260 5.5"/><path class="c20 o16" d="M29.6 273.1c62 0 198 28.5 260 28.5"/><path class="c22" d="M29.6 307.2c62 0 198 9 260 9"/><path class="c24" d="M29.6 301.5c62 0 198 5 260 5"/><path class="c29" d="M29.6 318.8c62 0 198-30.5 260-30.5"/><path class="c24" d="M29.6 301.5c62 0 198 21 260 21"/><path class="c24 o16" d="M29.6 301.5c62 0 198 4.5 260 4.5"/><path class="c26" d="M29.6 312.9c62 0 198-64.5 260-64.5"/><path class="c21 o13" d="M29.6 295.8c62 0 198 9 260 9"/><path class="c28 o16" d="M29.6 284.2c62 0 198 19.5 260 19.5"/><path class="c24" d="M29.6 301.5c62 0 198 1.5 260 1.5"/><path class="c25" d="M29.6 256.3c62 0 198 78.5 260 78.5"/><path class="c20 o16" d="M29.6 273.1c62 0 198 29.5 260 29.5"/><path class="c29" d="M29.6 318.8c62 0 198-11 260-11"/><path class="c28 o16" d="M29.6 284.2c62 0 198 53.5 260 53.5"/><path class="c24" d="M29.6 301.5c62 0 198-2.5 260-2.5"/><path class="c28 o16" d="M29.6 284.2c62 0 198 51.5 260 51.5"/><path class="c20" d="M29.6 273.1c62 0 198 1.5 260 1.5"/><path class="c23 o15" d="M29.6 290.1c62 0 198 35 260 35"/><path class="c26" d="M29.6 312.9c62 0 198-6 260-6"/><path class="c28 o16" d="M29.6 284.2c62 0 198 56.5 260 56.5"/><path class="c21 o13" d="M29.6 295.8c62 0 198-3.5 260-3.5"/><path class="c45" d="M29.6 371.8c62 0 198-57.5 260-57.5"/><path class="c29" d="M29.6 318.8c62 0 198-1 260-1"/><path class="c21 o13" d="M29.6 295.8c62 0 198 22 260 22"/><path class="c27" d="M29.6 262c62 0 198 73 260 73"/><path class="c27" d="M29.6 262c62 0 198 49 260 49"/><path class="c22" d="M29.6 307.2c62 0 198-14 260-14"/><path class="c32 o17" d="M29.6 278.5c62 0 198 22.5 260 22.5"/><path class="c21 o18" d="M29.6 295.8c62 0 198 20 260 20"/><path class="c27" d="M29.6 262c62 0 198 42.5 260 42.5"/><path class="c31 o13" d="M29.6 266.6c62 0 198 30.5 260 30.5"/><path class="c30" d="M29.6 383.9c62 0 198-56 260-56"/><path class="c32 o17" d="M29.6 278.5c62 0 198 20 260 20"/><path class="c22" d="M29.6 307.2c62 0 198-15.5 260-15.5"/><path class="c26" d="M29.6 312.9c62 0 198-11.5 260-11.5"/><path class="c28 o16" d="M29.6 284.2c62 0 198 47.5 260 47.5"/><path class="c33" d="M29.6 336.4c62 0 198-82 260-82"/><path class="c21 o13" d="M29.6 295.8c62 0 198 11 260 11"/><path class="c28 o16" d="M29.6 284.2c62 0 198 13 260 13"/><path class="c31 o13" d="M29.6 266.6c62 0 198 43 260 43"/><path class="c21 o13" d="M29.6 295.8c62 0 198 38.5 260 38.5"/><path class="c26" d="M29.6 312.9c62 0 198 16.5 260 16.5"/><path class="c22" d="M29.6 307.2c62 0 198-11 260-11"/><path class="c35" d="M29.6 324.8c62 0 198-1 260-1"/><path class="c28 o16" d="M29.6 284.2c62 0 198 31 260 31"/><path class="c28 o16" d="M29.6 284.2c62 0 198-4.5 260-4.5"/><path class="c32 o17" d="M29.6 278.5c62 0 198 23.5 260 23.5"/><path class="c28 o16" d="M29.6 284.2c62 0 198 27.5 260 27.5"/><path class="c23 o15" d="M29.6 290.1c62 0 198 8.5 260 8.5"/><path class="c48" d="M29.6 234.3c62 0 198 83 260 83"/><path class="c28 o16" d="M29.6 284.2c62 0 198 45 260 45"/><path class="c29" d="M29.6 318.8c62 0 198 3 260 3"/><path class="c34" d="M29.6 250.7c62 0 198 70 260 70"/><path class="c26" d="M29.6 312.9c62 0 198-2.5 260-2.5"/><path class="c22" d="M29.6 307.2c62 0 198 23.5 260 23.5"/><path class="c23 o15" d="M29.6 290.1c62 0 198 29 260 29"/><path class="c27" d="M29.6 262c62 0 198 74.5 260 74.5"/><path class="c21 o13" d="M29.6 295.8c62 0 198 4.5 260 4.5"/></g><line x1="29.6" y1="223.4" x2="29.6" y2="384.5" stroke="#7a7a7a" stroke-width="1.1"/><line x1="289.7" y1="223.4" x2="289.7" y2="384.5" stroke="#555" stroke-width="1.0"/><text transform="translate(17.13,226.00) scale(1.336,1)" font-size="7.27">36</text><text transform="translate(17.01,387.50) scale(1.349,1)" font-size="7.27">25</text><text transform="translate(275.37,226.00) scale(1.176,1)" font-size="7.27">0.4</text><text transform="translate(270.36,387.50) scale(1.226,1)" font-size="7.27">−0.2</text><defs><linearGradient id="cb2000" x1="0" y1="0" x2="0" y2="1"><stop offset="0" stop-color="#4446f2"/><stop offset="0.25" stop-color="#45eef2"/><stop offset="0.5" stop-color="#46e446"/><stop offset="0.75" stop-color="#f8ee3c"/><stop offset="0.88" stop-color="#fa9c3c"/><stop offset="1.0" stop-color="#f24646"/></linearGradient></defs><rect x="299.7" y="244.6" width="15.20" height="90.90" fill="url(#cb2000)" stroke="#333" stroke-width="0.7"/><line x1="314.90" y1="244.60" x2="318.10" y2="244.60" stroke="#333" stroke-width="0.8"/><text transform="translate(320.26,246.50) scale(1.136,1)" font-size="5.52">36.05</text><line x1="314.90" y1="255.96" x2="318.10" y2="255.96" stroke="#bbb" stroke-width="0.8"/><text transform="translate(320.26,257.86) scale(1.139,1)" font-size="5.52">34.61</text><line x1="314.90" y1="267.32" x2="318.10" y2="267.32" stroke="#333" stroke-width="0.8"/><text transform="translate(320.26,269.22) scale(1.137,1)" font-size="5.52">33.16</text><line x1="314.90" y1="278.69" x2="318.10" y2="278.69" stroke="#333" stroke-width="0.8"/><text transform="translate(320.26,280.59) scale(1.140,1)" font-size="5.52">31.72</text><line x1="314.90" y1="290.05" x2="318.10" y2="290.05" stroke="#333" stroke-width="0.8"/><text transform="translate(320.26,291.95) scale(1.137,1)" font-size="5.52">30.28</text><line x1="314.90" y1="301.41" x2="318.10" y2="301.41" stroke="#bbb" stroke-width="0.8"/><text transform="translate(320.18,303.31) scale(1.143,1)" font-size="5.52">28.83</text><line x1="314.90" y1="312.77" x2="318.10" y2="312.77" stroke="#333" stroke-width="0.8"/><text transform="translate(320.18,314.67) scale(1.144,1)" font-size="5.52">27.39</text><line x1="314.90" y1="324.14" x2="318.10" y2="324.14" stroke="#333" stroke-width="0.8"/><text transform="translate(320.18,326.04) scale(1.136,1)" font-size="5.52">25.94</text><line x1="314.90" y1="335.50" x2="318.10" y2="335.50" stroke="#333" stroke-width="0.8"/><text transform="translate(320.18,337.40) scale(1.140,1)" font-size="5.52">24.50</text><text transform="translate(286.26,239.20) scale(1.285,1)" font-size="6.98">LST_2000</text><path d="M481.0,218.9 L481.0,218.9 482.6,218.9 484.9,218.8 487.6,218.7 490.3,218.7 492.9,218.6 495.0,218.5 496.5,218.4 497.6,218.4 498.6,218.3 499.5,218.2 500.6,218.0 502.0,217.8 503.8,217.5 505.8,217.1 508.0,216.7 510.3,216.2 512.6,215.8 515.0,215.3 517.4,214.8 520.0,214.3 522.7,213.8 525.3,213.2 527.8,212.7 530.0,212.3 532.0,211.9 533.7,211.6 535.4,211.4 536.9,211.1 538.4,210.9 540.0,210.6 541.6,210.3 543.1,210.0 544.7,209.7 546.2,209.4 547.6,209.1 549.0,208.8 550.3,208.5 551.5,208.1 552.7,207.7 553.8,207.4 554.9,207.1 556.0,207.0 557.0,207.0 558.0,207.0 558.9,207.2 559.9,207.4 560.9,207.7 562.0,208.0 563.2,208.4 564.4,208.9 565.7,209.4 567.0,209.9 568.4,210.6 570.0,211.2 571.7,211.9 573.6,212.7 575.7,213.5 577.7,214.4 579.7,215.1 581.5,215.8 583.2,216.4 584.8,216.9 586.4,217.4 587.9,217.8 589.5,218.2 591.0,218.5 592.6,218.7 594.4,218.8 596.1,218.9 597.7,218.9 599.0,218.9 600.0,218.9 L600.0,218.9 Z" fill="#d5e4f7" stroke="#b4cbee" stroke-width="0.5"/><path d="M649.3,262.0 L649.3,262.0 649.5,262.5 649.7,263.2 650.0,264.0 650.3,264.9 650.6,265.9 651.0,267.0 651.4,268.2 651.9,269.4 652.4,270.8 653.0,272.2 653.5,273.6 654.0,275.0 654.5,276.3 655.0,277.7 655.5,279.0 656.0,280.3 656.5,281.7 657.0,283.0 657.5,284.4 658.0,285.7 658.4,287.1 658.9,288.5 659.4,289.8 660.0,291.0 660.6,292.1 661.3,293.1 661.9,294.1 662.6,295.1 663.3,296.0 664.0,297.0 664.7,298.0 665.4,299.0 666.1,300.1 666.8,301.1 667.4,302.1 668.0,303.0 668.5,303.9 669.1,304.8 669.5,305.7 669.9,306.5 670.2,307.3 670.4,308.0 670.4,308.6 670.3,309.1 670.2,309.5 669.9,309.8 669.5,310.2 669.0,310.6 668.4,311.0 667.6,311.4 666.8,311.8 665.9,312.2 664.9,312.6 664.0,313.0 663.0,313.4 662.0,313.7 661.0,314.0 660.0,314.3 659.0,314.7 658.0,315.0 657.1,315.3 656.2,315.6 655.3,315.9 654.5,316.3 653.7,316.6 653.0,317.0 652.4,317.4 651.9,317.9 651.5,318.4 651.1,319.0 650.7,319.5 650.4,320.0 650.1,320.5 649.9,321.1 649.7,321.7 649.5,322.2 649.4,322.7 649.3,323.0 L649.3,323.0 Z" fill="#d5e4f7" stroke="#b4cbee" stroke-width="0.5"/><line x1="389.2" y1="218.9" x2="649.3" y2="218.9" stroke="#a0a0a0" stroke-width="1.1"/><line x1="649.3" y1="218.9" x2="649.3" y2="372.7" stroke="#555b64" stroke-width="1.1"/><path d="M422.8,280.6 L431.3,281.8 L439.8,283.0 L448.2,284.3 L456.7,285.5 L465.2,286.7 L473.7,288.0 L482.2,289.2 L490.6,290.4 L499.1,291.6 L507.6,292.8 L516.1,294.0 L524.5,295.1 L533.0,296.2 L541.5,297.2 L550.0,298.2 L558.5,299.1 L566.9,299.9 L575.4,300.7 L583.9,301.5 L592.4,302.3 L600.9,303.1 L609.3,303.9 L617.8,304.6 L626.3,305.4 L626.3,310.6 L617.8,309.4 L609.3,308.1 L600.9,306.9 L592.4,305.7 L583.9,304.5 L575.4,303.3 L566.9,302.1 L558.5,301.0 L550.0,299.9 L541.5,298.8 L533.0,297.9 L524.5,297.0 L516.1,296.1 L507.6,295.3 L499.1,294.5 L490.6,293.7 L482.2,293.0 L473.7,292.2 L465.2,291.4 L456.7,290.7 L448.2,289.9 L439.8,289.1 L431.3,288.4 L422.8,287.6 Z" fill="#c4d9f5"/><line x1="422.8" y1="284.1" x2="626.3" y2="308.0" stroke="#8db0e6" stroke-width="0.6"/><path d="M424.0 306.2h1.1M424.0 341.0h1.1M424.0 343.5h1.1M431.5 344.8h1.1M439.1 296.6h1.1M439.1 298.7h1.1M446.4 338.7h1.1M446.4 346.2h1.1M454.0 247.5h1.1M454.0 278.5h1.1M461.3 341.0h1.1M468.8 294.6h1.1M475.9 243.1h1.1M475.9 275.2h1.1M475.9 309.8h1.1M483.2 241.8h1.1M483.2 254.3h1.1M483.2 266.0h1.1M483.2 271.6h1.1M483.2 275.2h1.1M483.2 286.8h1.1M483.2 307.5h1.1M490.4 266.0h1.1M490.4 272.3h1.1M490.4 275.2h1.1M490.4 286.8h1.1M490.4 295.6h1.1M490.4 303.9h1.1M490.4 315.0h1.1M496.2 260.4h1.1M497.5 284.5h1.1M497.5 290.0h1.1M497.5 292.9h1.1M497.5 300.6h1.1M497.5 303.1h1.1M497.5 308.3h1.1M505.0 318.1h1.1M505.0 317.0h1.1M505.0 315.3h1.1M505.0 314.6h1.1M505.0 312.9h1.1M505.0 311.5h1.1M505.0 310.6h1.1M505.0 309.4h1.1M505.0 308.0h1.1M505.0 306.4h1.1M505.0 305.2h1.1M505.0 304.2h1.1M505.0 302.7h1.1M505.0 301.3h1.1M505.0 300.2h1.1M505.0 298.7h1.1M505.0 297.2h1.1M505.0 296.1h1.1M505.0 295.1h1.1M505.0 293.9h1.1M505.0 292.5h1.1M505.0 291.1h1.1M505.0 289.6h1.1M505.0 288.4h1.1M505.0 287.4h1.1M505.0 285.7h1.1M505.0 284.8h1.1M505.0 283.3h1.1M505.0 282.5h1.1M505.0 281.2h1.1M505.0 279.8h1.1M505.0 278.0h1.1M505.0 276.9h1.1M505.0 275.5h1.1M505.0 274.5h1.1M505.0 256.2h1.1M512.3 315.8h1.1M512.3 314.5h1.1M512.3 313.2h1.1M512.3 311.7h1.1M512.3 310.8h1.1M512.3 309.1h1.1M512.3 308.1h1.1M512.3 306.6h1.1M512.3 305.6h1.1M512.3 304.2h1.1M512.3 303.2h1.1M512.3 301.8h1.1M512.3 300.7h1.1M512.3 299.6h1.1M512.3 298.3h1.1M512.3 296.6h1.1M512.3 295.5h1.1M512.3 293.9h1.1M512.3 292.6h1.1M512.3 291.7h1.1M512.3 290.0h1.1M512.3 289.0h1.1M512.3 287.6h1.1M512.3 286.6h1.1M512.3 285.5h1.1M512.3 284.2h1.1M512.3 283.0h1.1M512.3 281.4h1.1M512.3 280.5h1.1M512.3 279.3h1.1M512.3 277.4h1.1M512.3 276.7h1.1M512.3 275.1h1.1M512.3 273.8h1.1M512.3 272.5h1.1M512.3 249.9h1.1M519.4 314.6h1.1M519.4 313.1h1.1M519.4 311.9h1.1M519.4 310.8h1.1M519.4 309.5h1.1M519.4 308.4h1.1M519.4 306.8h1.1M519.4 306.1h1.1M519.4 304.5h1.1M519.4 303.3h1.1M519.4 302.5h1.1M519.4 301.0h1.1M519.4 299.3h1.1M519.4 298.1h1.1M519.4 297.5h1.1M519.4 296.0h1.1M519.4 295.0h1.1M519.4 293.1h1.1M519.4 292.4h1.1M519.4 291.2h1.1M519.4 289.2h1.1M519.4 288.4h1.1M519.4 287.2h1.1M519.4 286.2h1.1M519.4 284.7h1.1M519.4 283.4h1.1M519.4 282.1h1.1M519.4 281.2h1.1M519.4 279.8h1.1M519.4 278.5h1.1M519.4 277.1h1.1M519.4 276.0h1.1M519.4 274.5h1.1M519.4 273.5h1.1M519.4 271.8h1.1M519.4 270.5h1.1M519.4 269.9h1.1M519.4 268.3h1.1M526.5 316.8h1.1M526.5 315.3h1.1M526.5 314.6h1.1M526.5 313.2h1.1M526.5 311.8h1.1M526.5 310.4h1.1M526.5 309.0h1.1M526.5 307.7h1.1M526.5 306.5h1.1M526.5 305.8h1.1M526.5 303.9h1.1M526.5 302.9h1.1M526.5 302.1h1.1M526.5 300.7h1.1M526.5 299.2h1.1M526.5 298.1h1.1M526.5 296.8h1.1M526.5 295.3h1.1M526.5 294.0h1.1M526.5 293.0h1.1M526.5 291.5h1.1M526.5 290.6h1.1M526.5 288.9h1.1M526.5 287.9h1.1M526.5 286.4h1.1M526.5 285.9h1.1M526.5 284.0h1.1M526.5 283.0h1.1M526.5 281.6h1.1M526.5 280.7h1.1M526.5 279.2h1.1M526.5 278.2h1.1M526.5 277.1h1.1M526.5 275.9h1.1M526.5 274.0h1.1M526.5 272.9h1.1M526.5 272.0h1.1M526.5 270.7h1.1M526.5 269.3h1.1M526.5 267.8h1.1M526.5 267.1h1.1M526.5 265.2h1.1M526.5 264.3h1.1M526.5 232.2h1.1M533.6 313.7h1.1M533.6 312.3h1.1M533.6 311.3h1.1M533.6 309.8h1.1M533.6 309.0h1.1M533.6 307.4h1.1M533.6 306.1h1.1M533.6 304.8h1.1M533.6 303.5h1.1M533.6 302.1h1.1M533.6 301.3h1.1M533.6 300.1h1.1M533.6 298.7h1.1M533.6 297.3h1.1M533.6 295.7h1.1M533.6 294.7h1.1M533.6 293.4h1.1M533.6 292.0h1.1M533.6 291.2h1.1M533.6 290.0h1.1M533.6 288.6h1.1M533.6 287.4h1.1M533.6 285.9h1.1M533.6 284.4h1.1M533.6 283.8h1.1M533.6 282.2h1.1M533.6 280.9h1.1M533.6 279.8h1.1M533.6 278.2h1.1M533.6 277.1h1.1M533.6 275.7h1.1M533.6 275.0h1.1M533.6 273.7h1.1M533.6 272.5h1.1M533.6 270.7h1.1M533.6 269.3h1.1M533.6 268.8h1.1M533.6 267.0h1.1M533.6 265.8h1.1M533.6 264.4h1.1M533.6 263.6h1.1M533.6 262.2h1.1M533.6 236.2h1.1M533.6 252.7h1.1M540.7 320.8h1.1M540.7 319.9h1.1M540.7 318.1h1.1M540.7 317.4h1.1M540.7 315.6h1.1M540.7 314.7h1.1M540.7 313.2h1.1M540.7 311.7h1.1M540.7 310.9h1.1M540.7 309.5h1.1M540.7 308.3h1.1M540.7 307.2h1.1M540.7 305.7h1.1M540.7 304.7h1.1M540.7 302.9h1.1M540.7 301.8h1.1M540.7 300.8h1.1M540.7 299.0h1.1M540.7 298.2h1.1M540.7 296.7h1.1M540.7 295.4h1.1M540.7 294.5h1.1M540.7 293.5h1.1M540.7 291.5h1.1M540.7 290.2h1.1M540.7 289.6h1.1M540.7 288.3h1.1M540.7 286.8h1.1M540.7 285.5h1.1M540.7 283.9h1.1M540.7 282.7h1.1M540.7 281.4h1.1M540.7 280.7h1.1M540.7 279.2h1.1M540.7 278.0h1.1M540.7 276.9h1.1M540.7 275.8h1.1M540.7 274.4h1.1M540.7 273.0h1.1M540.7 272.0h1.1M540.7 270.7h1.1M540.7 269.5h1.1M540.7 267.8h1.1M540.7 266.6h1.1M540.7 265.6h1.1M540.7 264.1h1.1M540.7 262.9h1.1M540.7 261.5h1.1M540.7 260.0h1.1M540.7 259.1h1.1M540.7 252.7h1.1M548.0 315.8h1.1M548.0 314.7h1.1M548.0 312.9h1.1M548.0 311.9h1.1M548.0 311.0h1.1M548.0 309.6h1.1M548.0 308.4h1.1M548.0 307.2h1.1M548.0 305.8h1.1M548.0 304.1h1.1M548.0 303.1h1.1M548.0 302.0h1.1M548.0 300.6h1.1M548.0 299.5h1.1M548.0 297.9h1.1M548.0 297.1h1.1M548.0 295.7h1.1M548.0 294.4h1.1M548.0 293.2h1.1M548.0 291.5h1.1M548.0 290.7h1.1M548.0 289.3h1.1M548.0 288.2h1.1M548.0 286.4h1.1M548.0 285.4h1.1M548.0 284.0h1.1M548.0 283.0h1.1M548.0 281.9h1.1M548.0 280.4h1.1M548.0 278.8h1.1M548.0 277.5h1.1M548.0 276.6h1.1M548.0 274.9h1.1M548.0 274.3h1.1M548.0 272.6h1.1M548.0 271.6h1.1M548.0 270.2h1.1M548.0 269.1h1.1M548.0 267.3h1.1M548.0 266.5h1.1M548.0 264.7h1.1M548.0 264.1h1.1M548.0 262.6h1.1M548.0 261.3h1.1M548.0 259.8h1.1M548.0 258.7h1.1M555.1 317.7h1.1M555.1 316.8h1.1M555.1 315.3h1.1M555.1 313.7h1.1M555.1 312.9h1.1M555.1 311.4h1.1M555.1 310.3h1.1M555.1 309.0h1.1M555.1 307.8h1.1M555.1 306.0h1.1M555.1 304.8h1.1M555.1 303.8h1.1M555.1 302.5h1.1M555.1 301.0h1.1M555.1 299.8h1.1M555.1 298.3h1.1M555.1 297.0h1.1M555.1 296.1h1.1M555.1 294.6h1.1M555.1 293.5h1.1M555.1 292.4h1.1M555.1 291.0h1.1M555.1 289.5h1.1M555.1 288.4h1.1M555.1 287.0h1.1M555.1 285.9h1.1M555.1 284.2h1.1M555.1 283.1h1.1M555.1 282.3h1.1M555.1 280.5h1.1M555.1 279.2h1.1M555.1 278.0h1.1M555.1 277.0h1.1M555.1 275.7h1.1M555.1 274.6h1.1M555.1 273.4h1.1M555.1 271.8h1.1M555.1 270.3h1.1M555.1 269.3h1.1M561.9 317.7h1.1M561.9 316.2h1.1M561.9 315.1h1.1M561.9 314.1h1.1M561.9 312.4h1.1M561.9 311.5h1.1M561.9 309.8h1.1M561.9 308.9h1.1M561.9 307.8h1.1M561.9 306.1h1.1M561.9 305.3h1.1M561.9 303.4h1.1M561.9 302.5h1.1M561.9 301.0h1.1M561.9 300.2h1.1M561.9 298.6h1.1M561.9 297.2h1.1M561.9 296.4h1.1M561.9 294.7h1.1M561.9 293.8h1.1M561.9 292.4h1.1M561.9 291.1h1.1M561.9 289.6h1.1M561.9 288.7h1.1M561.9 287.4h1.1M561.9 285.7h1.1M561.9 284.5h1.1M561.9 283.4h1.1M561.9 282.3h1.1M561.9 280.7h1.1M561.9 279.6h1.1M561.9 278.4h1.1M561.9 276.7h1.1M561.9 276.0h1.1M561.9 274.5h1.1M561.9 268.3h1.1M561.9 322.7h1.1M561.9 326.4h1.1M569.9 317.7h1.1M569.9 316.3h1.1M569.9 315.0h1.1M569.9 313.7h1.1M569.9 312.3h1.1M569.9 310.9h1.1M569.9 310.2h1.1M569.9 308.9h1.1M569.9 307.1h1.1M569.9 306.3h1.1M569.9 305.0h1.1M569.9 303.3h1.1M569.9 301.9h1.1M569.9 300.7h1.1M569.9 299.6h1.1M569.9 298.4h1.1M569.9 296.7h1.1M569.9 295.6h1.1M569.9 294.4h1.1M569.9 293.6h1.1M569.9 292.1h1.1M569.9 291.0h1.1M569.9 289.0h1.1M569.9 288.2h1.1M569.9 287.0h1.1M569.9 285.4h1.1M569.9 284.4h1.1M569.9 282.8h1.1M569.9 281.6h1.1M575.6 317.7h1.1M575.6 316.7h1.1M575.6 314.9h1.1M575.6 314.0h1.1M575.6 312.7h1.1M575.6 311.6h1.1M575.6 309.8h1.1M575.6 309.1h1.1M575.6 307.5h1.1M575.6 306.4h1.1M575.6 305.1h1.1M575.6 304.3h1.1M575.6 302.7h1.1M575.6 301.1h1.1M575.6 300.2h1.1M575.6 299.2h1.1M575.6 298.1h1.1M575.6 296.6h1.1M575.6 295.0h1.1M575.6 294.3h1.1M575.6 293.1h1.1M575.6 291.4h1.1M575.6 289.9h1.1M575.6 289.0h1.1M575.6 287.7h1.1M575.6 260.8h1.1M582.7 313.7h1.1M582.7 312.6h1.1M582.7 311.2h1.1M582.7 310.1h1.1M582.7 308.7h1.1M582.7 307.7h1.1M582.7 305.8h1.1M582.7 304.8h1.1M582.7 303.9h1.1M582.7 302.6h1.1M582.7 300.9h1.1M582.7 300.0h1.1M582.7 298.8h1.1M582.7 297.7h1.1M582.7 296.0h1.1M582.7 294.8h1.1M582.7 293.4h1.1M582.7 292.6h1.1M582.7 290.9h1.1M582.7 289.6h1.1M582.7 288.4h1.1M582.7 287.3h1.1M589.6 313.7h1.1M589.6 312.7h1.1M589.6 311.0h1.1M589.6 310.1h1.1M589.6 308.8h1.1M589.6 307.2h1.1M589.6 306.1h1.1M589.6 304.6h1.1M589.6 303.0h1.1M589.6 302.0h1.1M589.6 286.0h1.1M596.7 305.8h1.1M596.7 309.3h1.1M596.7 313.1h1.1M603.5 305.4h1.1M603.5 312.7h1.1M610.1 298.7h1.1M623.6 323.7h1.1" stroke="#1b6cdc" stroke-width="3.6" stroke-linecap="round" fill="none"/><line x1="389.2" y1="218.4" x2="389.2" y2="372.7" stroke="#2a2a2a" stroke-width="1.0"/><line x1="389.2" y1="372.7" x2="649.8" y2="372.7" stroke="#2a2a2a" stroke-width="1.0"/><line x1="385.59999999999997" y1="353.48" x2="389.2" y2="353.48" stroke="#2a2a2a" stroke-width="0.8"/><text transform="translate(367.91,355.73) scale(1.223,1)" font-size="6.54">−0.2</text><line x1="385.59999999999997" y1="315.02" x2="389.2" y2="315.02" stroke="#2a2a2a" stroke-width="0.8"/><text transform="translate(371.77,317.27) scale(1.305,1)" font-size="6.54">0.0</text><line x1="385.59999999999997" y1="276.57" x2="389.2" y2="276.57" stroke="#2a2a2a" stroke-width="0.8"/><text transform="translate(371.76,278.82) scale(1.316,1)" font-size="6.54">0.2</text><line x1="385.59999999999997" y1="238.13" x2="389.2" y2="238.13" stroke="#2a2a2a" stroke-width="0.8"/><text transform="translate(371.77,240.38) scale(1.295,1)" font-size="6.54">0.4</text><line x1="387.2" y1="372.70" x2="389.2" y2="372.70" stroke="#555" stroke-width="0.7"/><line x1="387.2" y1="334.25" x2="389.2" y2="334.25" stroke="#555" stroke-width="0.7"/><line x1="387.2" y1="295.80" x2="389.2" y2="295.80" stroke="#555" stroke-width="0.7"/><line x1="387.2" y1="257.35" x2="389.2" y2="257.35" stroke="#555" stroke-width="0.7"/><line x1="387.2" y1="218.90" x2="389.2" y2="218.90" stroke="#555" stroke-width="0.7"/><line x1="432.55" y1="372.7" x2="432.55" y2="376.3" stroke="#2a2a2a" stroke-width="0.8"/><text transform="translate(427.83,382.80) scale(1.289,1)" font-size="6.54">25</text><line x1="519.25" y1="372.7" x2="519.25" y2="376.3" stroke="#2a2a2a" stroke-width="0.8"/><text transform="translate(514.63,382.80) scale(1.270,1)" font-size="6.54">30</text><line x1="605.95" y1="372.7" x2="605.95" y2="376.3" stroke="#2a2a2a" stroke-width="0.8"/><text transform="translate(601.33,382.80) scale(1.274,1)" font-size="6.54">35</text><line x1="389.20" y1="372.7" x2="389.20" y2="374.7" stroke="#555" stroke-width="0.7"/><line x1="475.90" y1="372.7" x2="475.90" y2="374.7" stroke="#555" stroke-width="0.7"/><line x1="562.60" y1="372.7" x2="562.60" y2="374.7" stroke="#555" stroke-width="0.7"/><line x1="649.30" y1="372.7" x2="649.30" y2="374.7" stroke="#555" stroke-width="0.7"/><text transform="translate(496.49,394.20) scale(1.256,1)" font-size="7.85">LST_2000</text><text transform="translate(363.60,315.83) rotate(-90) scale(0.751,1)" font-size="10.17">NDVI_2000</text><rect x="390.2" y="205.5" width="70.7" height="9.9" fill="#fff" stroke="#9a9a9a" stroke-width="0.8"/><ellipse cx="402.0" cy="210.5" rx="2.1" ry="1.7" fill="#1b6cdc"/><text transform="translate(413.77,213.00) scale(1.254,1)" font-size="7.12">NDVI_2000</text><g fill="none" stroke-width="0.62" stroke-opacity="0.60"><path class="c49 o20" d="M34.3 523c62 0 198-38 260-38"/><path class="c49 o20" d="M34.3 523c62 0 198-49.5 260-49.5"/><path class="c50" d="M34.3 504.1c62 0 198 24.5 260 24.5"/><path class="c51 o13" d="M34.3 542.2c62 0 198-86 260-86"/><path class="c52" d="M34.3 546.9c62 0 198-61.5 260-61.5"/><path class="c51 o17" d="M34.3 542.2c62 0 198-76 260-76"/><path class="c51 o17" d="M34.3 542.2c62 0 198-72 260-72"/><path class="c53" d="M34.3 490c62 0 198-5 260-5"/><path class="c54 o16" d="M34.3 532.7c62 0 198-41.5 260-41.5"/><path class="c55 o19" d="M34.3 537.6c62 0 198-83.5 260-83.5"/><path class="c51 o17" d="M34.3 542.2c62 0 198-77.5 260-77.5"/><path class="c56 o19" d="M34.3 518.2c62 0 198-28 260-28"/><path class="c57" d="M34.3 499.6c62 0 198-1 260-1"/><path class="c58 o17" d="M34.3 508.9c62 0 198-24 260-24"/><path class="c59" d="M34.3 551.7c62 0 198-92 260-92"/><path class="c54" d="M34.3 532.7c62 0 198-119 260-119"/><path class="c58" d="M34.3 508.9c62 0 198 21.5 260 21.5"/><path class="c58 o17" d="M34.3 508.9c62 0 198-30 260-30"/><path class="c54 o19" d="M34.3 532.7c62 0 198-69 260-69"/><path class="c60" d="M34.3 494.9c62 0 198-3.5 260-3.5"/><path class="c61 o15" d="M34.3 513.6c62 0 198-34.5 260-34.5"/><path class="c50" d="M34.3 504.1c62 0 198 12.5 260 12.5"/><path class="c59" d="M34.3 551.7c62 0 198-70 260-70"/><path class="c52" d="M34.3 546.9c62 0 198-69 260-69"/><path class="c57" d="M34.3 499.6c62 0 198 25.5 260 25.5"/><path class="c61 o15" d="M34.3 513.6c62 0 198-36.5 260-36.5"/><path class="c58" d="M34.3 508.9c62 0 198-16.5 260-16.5"/><path class="c55 o15" d="M34.3 537.6c62 0 198-75.5 260-75.5"/><path class="c62 o20" d="M34.3 527.9c62 0 198-32 260-32"/><path class="c61 o19" d="M34.3 513.6c62 0 198-23.5 260-23.5"/><path class="c60" d="M34.3 494.9c62 0 198 20 260 20"/><path class="c61 o19" d="M34.3 513.6c62 0 198-18.5 260-18.5"/><path class="c63" d="M34.3 471.9c62 0 198 48.5 260 48.5"/><path class="c64" d="M34.3 467.1c62 0 198 74 260 74"/><path class="c59" d="M34.3 551.7c62 0 198-99 260-99"/><path class="c55 o15" d="M34.3 537.6c62 0 198-85.5 260-85.5"/><path class="c52" d="M34.3 546.9c62 0 198-66 260-66"/><path class="c58" d="M34.3 508.9c62 0 198-42 260-42"/><path class="c51 o17" d="M34.3 542.2c62 0 198-63 260-63"/><path class="c58" d="M34.3 508.9c62 0 198-15.5 260-15.5"/><path class="c54 o16" d="M34.3 532.7c62 0 198-53 260-53"/><path class="c61 o15" d="M34.3 513.6c62 0 198-27.5 260-27.5"/><path class="c61 o15" d="M34.3 513.6c62 0 198 13 260 13"/><path class="c52" d="M34.3 546.9c62 0 198-82.5 260-82.5"/><path class="c59" d="M34.3 551.7c62 0 198-81.5 260-81.5"/><path class="c52" d="M34.3 546.9c62 0 198-102.5 260-102.5"/><path class="c49 o17" d="M34.3 523c62 0 198-10.5 260-10.5"/><path class="c50" d="M34.3 504.1c62 0 198 22 260 22"/><path class="c54 o16" d="M34.3 532.7c62 0 198-84.5 260-84.5"/><path class="c62 o17" d="M34.3 527.9c62 0 198-30.5 260-30.5"/><path class="c54 o19" d="M34.3 532.7c62 0 198-46.5 260-46.5"/><path class="c57" d="M34.3 499.6c62 0 198 9.5 260 9.5"/><path class="c58" d="M34.3 508.9c62 0 198 28.5 260 28.5"/><path class="c62 o17" d="M34.3 527.9c62 0 198-25 260-25"/><path class="c49 o17" d="M34.3 523c62 0 198-16 260-16"/><path class="c60" d="M34.3 494.9c62 0 198 15.5 260 15.5"/><path class="c65" d="M34.3 417.7c62 0 198 142.5 260 142.5"/><path class="c61 o15" d="M34.3 513.6c62 0 198-28.5 260-28.5"/><path class="c49 o17" d="M34.3 523c62 0 198-46 260-46"/><path class="c50" d="M34.3 504.1c62 0 198-9.5 260-9.5"/><path class="c51" d="M34.3 542.2c62 0 198 1 260 1"/><path class="c52" d="M34.3 546.9c62 0 198-77 260-77"/><path class="c54 o16" d="M34.3 532.7c62 0 198-75 260-75"/><path class="c49 o17" d="M34.3 523c62 0 198-40 260-40"/><path class="c51 o13" d="M34.3 542.2c62 0 198-60 260-60"/><path class="c56 o16" d="M34.3 518.2c62 0 198-4 260-4"/><path class="c58" d="M34.3 508.9c62 0 198 27 260 27"/><path class="c54 o19" d="M34.3 532.7c62 0 198-52.5 260-52.5"/><path class="c66" d="M34.3 485.7c62 0 198 41.5 260 41.5"/><path class="c56 o16" d="M34.3 518.2c62 0 198-27.5 260-27.5"/><path class="c61 o15" d="M34.3 513.6c62 0 198 1 260 1"/><path class="c61 o19" d="M34.3 513.6c62 0 198-20 260-20"/><path class="c50" d="M34.3 504.1c62 0 198-21 260-21"/><path class="c56 o19" d="M34.3 518.2c62 0 198-20.5 260-20.5"/><path class="c62 o17" d="M34.3 527.9c62 0 198-95 260-95"/><path class="c59" d="M34.3 551.7c62 0 198-69.5 260-69.5"/><path class="c50" d="M34.3 504.1c62 0 198-1 260-1"/><path class="c60" d="M34.3 494.9c62 0 198 13 260 13"/><path class="c51 o13" d="M34.3 542.2c62 0 198-95.5 260-95.5"/><path class="c52" d="M34.3 546.9c62 0 198-58.5 260-58.5"/><path class="c55 o15" d="M34.3 537.6c62 0 198-50.5 260-50.5"/><path class="c49 o17" d="M34.3 523c62 0 198-35.5 260-35.5"/><path class="c52" d="M34.3 546.9c62 0 198-88 260-88"/><path class="c52" d="M34.3 546.9c62 0 198-56 260-56"/><path class="c55 o19" d="M34.3 537.6c62 0 198-74.5 260-74.5"/><path class="c61 o15" d="M34.3 513.6c62 0 198-43 260-43"/><path class="c51 o17" d="M34.3 542.2c62 0 198-73 260-73"/><path class="c54 o19" d="M34.3 532.7c62 0 198-50.5 260-50.5"/><path class="c61 o15" d="M34.3 513.6c62 0 198-56 260-56"/><path class="c55 o15" d="M34.3 537.6c62 0 198-87 260-87"/><path class="c55 o15" d="M34.3 537.6c62 0 198-50 260-50"/><path class="c51 o13" d="M34.3 542.2c62 0 198-106 260-106"/><path class="c49 o17" d="M34.3 523c62 0 198-30 260-30"/><path class="c52" d="M34.3 546.9c62 0 198-90.5 260-90.5"/><path class="c61 o15" d="M34.3 513.6c62 0 198 10.5 260 10.5"/><path class="c57" d="M34.3 499.6c62 0 198 4.5 260 4.5"/><path class="c67" d="M34.3 481.2c62 0 198 59 260 59"/><path class="c56 o19" d="M34.3 518.2c62 0 198-23 260-23"/><path class="c62 o20" d="M34.3 527.9c62 0 198-26.5 260-26.5"/><path class="c62 o20" d="M34.3 527.9c62 0 198-48 260-48"/><path class="c51 o13" d="M34.3 542.2c62 0 198-87 260-87"/><path class="c68" d="M34.3 444.6c62 0 198 119.5 260 119.5"/><path class="c60" d="M34.3 494.9c62 0 198 45 260 45"/><path class="c56 o16" d="M34.3 518.2c62 0 198-29.5 260-29.5"/><path class="c60" d="M34.3 494.9c62 0 198 14 260 14"/><path class="c67" d="M34.3 481.2c62 0 198 47 260 47"/><path class="c55 o19" d="M34.3 537.6c62 0 198-46.5 260-46.5"/><path class="c52 o16" d="M34.3 546.9c62 0 198-86.5 260-86.5"/><path class="c54 o16" d="M34.3 532.7c62 0 198-79.5 260-79.5"/><path class="c60" d="M34.3 494.9c62 0 198 36 260 36"/><path class="c57" d="M34.3 499.6c62 0 198 8 260 8"/><path class="c62 o17" d="M34.3 527.9c62 0 198-38.5 260-38.5"/><path class="c69" d="M34.3 462.6c62 0 198 94 260 94"/><path class="c57" d="M34.3 499.6c62 0 198-11.5 260-11.5"/><path class="c58 o17" d="M34.3 508.9c62 0 198-3.5 260-3.5"/><path class="c60" d="M34.3 494.9c62 0 198 5 260 5"/><path class="c55 o15" d="M34.3 537.6c62 0 198-45.5 260-45.5"/><path class="c55 o15" d="M34.3 537.6c62 0 198-69 260-69"/><path class="c62 o20" d="M34.3 527.9c62 0 198-50 260-50"/><path class="c49 o17" d="M34.3 523c62 0 198-27 260-27"/><path class="c51 o17" d="M34.3 542.2c62 0 198-80 260-80"/><path class="c54 o19" d="M34.3 532.7c62 0 198-57.5 260-57.5"/><path class="c51 o13" d="M34.3 542.2c62 0 198-44 260-44"/><path class="c61 o15" d="M34.3 513.6c62 0 198-47.5 260-47.5"/><path class="c51 o13" d="M34.3 542.2c62 0 198-36 260-36"/><path class="c63" d="M34.3 471.9c62 0 198 78.5 260 78.5"/><path class="c56 o16" d="M34.3 518.2c62 0 198-12 260-12"/><path class="c57" d="M34.3 499.6c62 0 198-19.5 260-19.5"/><path class="c54 o16" d="M34.3 532.7c62 0 198-82.5 260-82.5"/><path class="c55 o15" d="M34.3 537.6c62 0 198-75 260-75"/><path class="c58" d="M34.3 508.9c62 0 198-45.5 260-45.5"/><path class="c51 o17" d="M34.3 542.2c62 0 198-69.5 260-69.5"/><path class="c69" d="M34.3 462.6c62 0 198 37 260 37"/><path class="c66" d="M34.3 485.7c62 0 198 33 260 33"/><path class="c56 o16" d="M34.3 518.2c62 0 198 17 260 17"/><path class="c70" d="M34.3 476.5c62 0 198 42.5 260 42.5"/><path class="c70" d="M34.3 476.5c62 0 198 40.5 260 40.5"/><path class="c50" d="M34.3 504.1c62 0 198-16 260-16"/><path class="c62 o17" d="M34.3 527.9c62 0 198-53.5 260-53.5"/><path class="c51 o17" d="M34.3 542.2c62 0 198-70 260-70"/><path class="c49 o20" d="M34.3 523c62 0 198-45 260-45"/><path class="c51 o13" d="M34.3 542.2c62 0 198-89.5 260-89.5"/><path class="c55 o19" d="M34.3 537.6c62 0 198-49.5 260-49.5"/><path class="c53" d="M34.3 490c62 0 198 39 260 39"/><path class="c49 o20" d="M34.3 523c62 0 198-43 260-43"/><path class="c70" d="M34.3 476.5c62 0 198 7 260 7"/><path class="c51 o13" d="M34.3 542.2c62 0 198-86.5 260-86.5"/><path class="c61 o15" d="M34.3 513.6c62 0 198 6.5 260 6.5"/><path class="c55 o19" d="M34.3 537.6c62 0 198-60.5 260-60.5"/><path class="c62 o17" d="M34.3 527.9c62 0 198-88 260-88"/><path class="c66" d="M34.3 485.7c62 0 198 7 260 7"/><path class="c54 o16" d="M34.3 532.7c62 0 198-20.5 260-20.5"/><path class="c49 o20" d="M34.3 523c62 0 198-48 260-48"/><path class="c71" d="M34.3 458.2c62 0 198 76 260 76"/><path class="c54 o16" d="M34.3 532.7c62 0 198-73 260-73"/><path class="c57" d="M34.3 499.6c62 0 198 15 260 15"/><path class="c55 o15" d="M34.3 537.6c62 0 198-49 260-49"/><path class="c58" d="M34.3 508.9c62 0 198-19 260-19"/><path class="c51 o17" d="M34.3 542.2c62 0 198-84 260-84"/><path class="c52" d="M34.3 546.9c62 0 198-94.5 260-94.5"/><path class="c51 o17" d="M34.3 542.2c62 0 198-69 260-69"/><path class="c60" d="M34.3 494.9c62 0 198-1.5 260-1.5"/><path class="c66" d="M34.3 485.7c62 0 198 36.5 260 36.5"/><path class="c51 o13" d="M34.3 542.2c62 0 198-83.5 260-83.5"/><path class="c52" d="M34.3 546.9c62 0 198-41.5 260-41.5"/><path class="c62 o20" d="M34.3 527.9c62 0 198-56.5 260-56.5"/><path class="c61 o15" d="M34.3 513.6c62 0 198-1.5 260-1.5"/><path class="c56 o16" d="M34.3 518.2c62 0 198-55 260-55"/><path class="c61 o15" d="M34.3 513.6c62 0 198-5.5 260-5.5"/><path class="c58 o17" d="M34.3 508.9c62 0 198-19.5 260-19.5"/><path class="c56 o16" d="M34.3 518.2c62 0 198-1 260-1"/><path class="c55 o15" d="M34.3 537.6c62 0 198-55 260-55"/><path class="c57" d="M34.3 499.6c62 0 198-3.5 260-3.5"/><path class="c62 o17" d="M34.3 527.9c62 0 198-64 260-64"/><path class="c58" d="M34.3 508.9c62 0 198-11 260-11"/><path class="c54 o16" d="M34.3 532.7c62 0 198-65 260-65"/><path class="c60" d="M34.3 494.9c62 0 198-18.5 260-18.5"/><path class="c72" d="M34.3 556.5c62 0 198-63.5 260-63.5"/><path class="c56 o19" d="M34.3 518.2c62 0 198-32.5 260-32.5"/><path class="c58" d="M34.3 508.9c62 0 198-33.5 260-33.5"/><path class="c54 o16" d="M34.3 532.7c62 0 198-77.5 260-77.5"/><path class="c63" d="M34.3 471.9c62 0 198 57.5 260 57.5"/><path class="c55 o15" d="M34.3 537.6c62 0 198-53 260-53"/><path class="c55 o19" d="M34.3 537.6c62 0 198-63 260-63"/><path class="c62 o20" d="M34.3 527.9c62 0 198-43 260-43"/><path class="c49 o17" d="M34.3 523c62 0 198 1 260 1"/><path class="c54 o19" d="M34.3 532.7c62 0 198-58.5 260-58.5"/><path class="c58 o17" d="M34.3 508.9c62 0 198-17 260-17"/><path class="c67" d="M34.3 481.2c62 0 198 9 260 9"/><path class="c58 o17" d="M34.3 508.9c62 0 198 7 260 7"/><path class="c49 o17" d="M34.3 523c62 0 198-7.5 260-7.5"/><path class="c58" d="M34.3 508.9c62 0 198-.5 260-.5"/><path class="c55 o15" d="M34.3 537.6c62 0 198-48 260-48"/><path class="c52 o16" d="M34.3 546.9c62 0 198-75 260-75"/><path class="c61 o19" d="M34.3 513.6c62 0 198-24.5 260-24.5"/><path class="c56 o19" d="M34.3 518.2c62 0 198-25 260-25"/><path class="c71" d="M34.3 458.2c62 0 198 100.5 260 100.5"/><path class="c67" d="M34.3 481.2c62 0 198 55 260 55"/><path class="c56 o19" d="M34.3 518.2c62 0 198-31.5 260-31.5"/><path class="c53" d="M34.3 490c62 0 198-1.5 260-1.5"/><path class="c51 o13" d="M34.3 542.2c62 0 198-78 260-78"/><path class="c56 o16" d="M34.3 518.2c62 0 198-9.5 260-9.5"/><path class="c50" d="M34.3 504.1c62 0 198 45 260 45"/><path class="c54 o16" d="M34.3 532.7c62 0 198-35.5 260-35.5"/><path class="c55 o19" d="M34.3 537.6c62 0 198-69.5 260-69.5"/><path class="c54 o16" d="M34.3 532.7c62 0 198-45.5 260-45.5"/><path class="c63" d="M34.3 471.9c62 0 198 77.5 260 77.5"/><path class="c54 o16" d="M34.3 532.7c62 0 198-47.5 260-47.5"/><path class="c49 o17" d="M34.3 523c62 0 198-15 260-15"/><path class="c50" d="M34.3 504.1c62 0 198-25.5 260-25.5"/><path class="c61 o19" d="M34.3 513.6c62 0 198-25.5 260-25.5"/><path class="c55 o15" d="M34.3 537.6c62 0 198-30 260-30"/><path class="c61 o15" d="M34.3 513.6c62 0 198-45 260-45"/><path class="c56 o16" d="M34.3 518.2c62 0 198-20 260-20"/><path class="c52" d="M34.3 546.9c62 0 198-95 260-95"/><path class="c51 o13" d="M34.3 542.2c62 0 198-68.5 260-68.5"/><path class="c50" d="M34.3 504.1c62 0 198-34 260-34"/><path class="c55 o19" d="M34.3 537.6c62 0 198-67.5 260-67.5"/><path class="c49 o17" d="M34.3 523c62 0 198-45.5 260-45.5"/><path class="c56 o19" d="M34.3 518.2c62 0 198-42 260-42"/><path class="c49 o20" d="M34.3 523c62 0 198-34.5 260-34.5"/><path class="c66" d="M34.3 485.7c62 0 198 57 260 57"/><path class="c66" d="M34.3 485.7c62 0 198 51 260 51"/><path class="c60" d="M34.3 494.9c62 0 198 19 260 19"/><path class="c53" d="M34.3 490c62 0 198 15.5 260 15.5"/><path class="c58" d="M34.3 508.9c62 0 198-9.5 260-9.5"/><path class="c51 o13" d="M34.3 542.2c62 0 198-45.5 260-45.5"/><path class="c57" d="M34.3 499.6c62 0 198 23.5 260 23.5"/><path class="c51 o13" d="M34.3 542.2c62 0 198-98.5 260-98.5"/><path class="c55 o15" d="M34.3 537.6c62 0 198-54 260-54"/><path class="c54 o16" d="M34.3 532.7c62 0 198-15.5 260-15.5"/><path class="c58 o17" d="M34.3 508.9c62 0 198-14.5 260-14.5"/><path class="c55 o19" d="M34.3 537.6c62 0 198-77 260-77"/><path class="c55 o15" d="M34.3 537.6c62 0 198-86 260-86"/><path class="c53" d="M34.3 490c62 0 198 23 260 23"/><path class="c58 o17" d="M34.3 508.9c62 0 198-11.5 260-11.5"/><path class="c50" d="M34.3 504.1c62 0 198 7.5 260 7.5"/><path class="c53" d="M34.3 490c62 0 198 50.5 260 50.5"/><path class="c54 o16" d="M34.3 532.7c62 0 198-97.5 260-97.5"/><path class="c60" d="M34.3 494.9c62 0 198 3 260 3"/><path class="c61 o19" d="M34.3 513.6c62 0 198-15 260-15"/><path class="c62 o17" d="M34.3 527.9c62 0 198-39.5 260-39.5"/><path class="c54 o16" d="M34.3 532.7c62 0 198-38.5 260-38.5"/><path class="c73" d="M34.3 561.3c62 0 198-72.5 260-72.5"/><path class="c61 o19" d="M34.3 513.6c62 0 198-21.5 260-21.5"/><path class="c49 o20" d="M34.3 523c62 0 198-36 260-36"/><path class="c58 o17" d="M34.3 508.9c62 0 198-31 260-31"/><path class="c51 o13" d="M34.3 542.2c62 0 198-59 260-59"/><path class="c54 o16" d="M34.3 532.7c62 0 198-86 260-86"/><path class="c56 o19" d="M34.3 518.2c62 0 198-8 260-8"/><path class="c58" d="M34.3 508.9c62 0 198 20 260 20"/><path class="c54 o16" d="M34.3 532.7c62 0 198-74 260-74"/><path class="c55 o19" d="M34.3 537.6c62 0 198-65.5 260-65.5"/><path class="c51 o13" d="M34.3 542.2c62 0 198-57.5 260-57.5"/><path class="c61 o15" d="M34.3 513.6c62 0 198 9 260 9"/><path class="c53" d="M34.3 490c62 0 198 11 260 11"/><path class="c56 o16" d="M34.3 518.2c62 0 198-69.5 260-69.5"/><path class="c66" d="M34.3 485.7c62 0 198 22.5 260 22.5"/><path class="c61 o15" d="M34.3 513.6c62 0 198 21.5 260 21.5"/><path class="c55 o15" d="M34.3 537.6c62 0 198-43.5 260-43.5"/><path class="c50" d="M34.3 504.1c62 0 198 6 260 6"/><path class="c58" d="M34.3 508.9c62 0 198-41 260-41"/><path class="c52" d="M34.3 546.9c62 0 198-71.5 260-71.5"/><path class="c70" d="M34.3 476.5c62 0 198 73.5 260 73.5"/><path class="c74" d="M34.3 453.5c62 0 198 85.5 260 85.5"/><path class="c58" d="M34.3 508.9c62 0 198-22.5 260-22.5"/><path class="c60" d="M34.3 494.9c62 0 198 27.5 260 27.5"/><path class="c52" d="M34.3 546.9c62 0 198-120.5 260-120.5"/><path class="c61 o19" d="M34.3 513.6c62 0 198-31.5 260-31.5"/><path class="c59" d="M34.3 551.7c62 0 198-93 260-93"/><path class="c50" d="M34.3 504.1c62 0 198 6.5 260 6.5"/><path class="c60" d="M34.3 494.9c62 0 198 38 260 38"/><path class="c73" d="M34.3 561.3c62 0 198-95 260-95"/><path class="c57" d="M34.3 499.6c62 0 198 2.5 260 2.5"/><path class="c55 o19" d="M34.3 537.6c62 0 198-64 260-64"/><path class="c50" d="M34.3 504.1c62 0 198 8.5 260 8.5"/><path class="c56 o16" d="M34.3 518.2c62 0 198-45 260-45"/><path class="c58" d="M34.3 508.9c62 0 198-23 260-23"/><path class="c63" d="M34.3 471.9c62 0 198 74.5 260 74.5"/><path class="c55 o15" d="M34.3 537.6c62 0 198-67 260-67"/><path class="c54 o19" d="M34.3 532.7c62 0 198-64 260-64"/><path class="c58 o17" d="M34.3 508.9c62 0 198-18.5 260-18.5"/><path class="c52" d="M34.3 546.9c62 0 198-78 260-78"/><path class="c50" d="M34.3 504.1c62 0 198 15 260 15"/><path class="c57" d="M34.3 499.6c62 0 198 9 260 9"/><path class="c56 o16" d="M34.3 518.2c62 0 198-44.5 260-44.5"/><path class="c62 o17" d="M34.3 527.9c62 0 198-29 260-29"/><path class="c60" d="M34.3 494.9c62 0 198-17 260-17"/><path class="c56 o16" d="M34.3 518.2c62 0 198-16.5 260-16.5"/><path class="c54 o16" d="M34.3 532.7c62 0 198-26.5 260-26.5"/><path class="c49 o17" d="M34.3 523c62 0 198-47 260-47"/><path class="c62 o17" d="M34.3 527.9c62 0 198-75 260-75"/><path class="c49 o17" d="M34.3 523c62 0 198-12.5 260-12.5"/><path class="c55 o19" d="M34.3 537.6c62 0 198-79 260-79"/><path class="c57" d="M34.3 499.6c62 0 198 12 260 12"/><path class="c63" d="M34.3 471.9c62 0 198 62.5 260 62.5"/><path class="c49 o17" d="M34.3 523c62 0 198 9.5 260 9.5"/><path class="c50" d="M34.3 504.1c62 0 198-5 260-5"/><path class="c54 o19" d="M34.3 532.7c62 0 198-49.5 260-49.5"/><path class="c49 o17" d="M34.3 523c62 0 198-58.5 260-58.5"/><path class="c58" d="M34.3 508.9c62 0 198-1 260-1"/><path class="c49 o17" d="M34.3 523c62 0 198-27.5 260-27.5"/><path class="c57" d="M34.3 499.6c62 0 198 16 260 16"/><path class="c61 o19" d="M34.3 513.6c62 0 198-28 260-28"/><path class="c49 o17" d="M34.3 523c62 0 198-14 260-14"/><path class="c58" d="M34.3 508.9c62 0 198-3 260-3"/><path class="c60" d="M34.3 494.9c62 0 198 28.5 260 28.5"/><path class="c60" d="M34.3 494.9c62 0 198 25 260 25"/><path class="c56 o16" d="M34.3 518.2c62 0 198-64 260-64"/><path class="c54 o16" d="M34.3 532.7c62 0 198-80.5 260-80.5"/><path class="c51 o17" d="M34.3 542.2c62 0 198-66 260-66"/><path class="c52" d="M34.3 546.9c62 0 198-74 260-74"/><path class="c55 o15" d="M34.3 537.6c62 0 198-24.5 260-24.5"/><path class="c61 o19" d="M34.3 513.6c62 0 198-16 260-16"/><path class="c55 o19" d="M34.3 537.6c62 0 198-62.5 260-62.5"/><path class="c54 o16" d="M34.3 532.7c62 0 198-60 260-60"/><path class="c50" d="M34.3 504.1c62 0 198-17 260-17"/><path class="c56 o16" d="M34.3 518.2c62 0 198-43 260-43"/><path class="c54 o16" d="M34.3 532.7c62 0 198-63.5 260-63.5"/><path class="c51 o13" d="M34.3 542.2c62 0 198-38 260-38"/><path class="c51 o13" d="M34.3 542.2c62 0 198-87.5 260-87.5"/><path class="c49 o17" d="M34.3 523c62 0 198-22.5 260-22.5"/><path class="c61 o15" d="M34.3 513.6c62 0 198-42.5 260-42.5"/><path class="c55 o15" d="M34.3 537.6c62 0 198-96 260-96"/><path class="c62 o17" d="M34.3 527.9c62 0 198-9.5 260-9.5"/><path class="c54 o16" d="M34.3 532.7c62 0 198-69.5 260-69.5"/><path class="c56 o16" d="M34.3 518.2c62 0 198 2 260 2"/><path class="c58 o17" d="M34.3 508.9c62 0 198-37.5 260-37.5"/><path class="c49 o17" d="M34.3 523c62 0 198-1.5 260-1.5"/><path class="c56 o16" d="M34.3 518.2c62 0 198 13 260 13"/><path class="c52" d="M34.3 546.9c62 0 198-81 260-81"/><path class="c59" d="M34.3 551.7c62 0 198-86 260-86"/><path class="c70" d="M34.3 476.5c62 0 198 50.5 260 50.5"/><path class="c60" d="M34.3 494.9c62 0 198 41 260 41"/><path class="c58" d="M34.3 508.9c62 0 198-6 260-6"/><path class="c55 o15" d="M34.3 537.6c62 0 198-54.5 260-54.5"/><path class="c55 o15" d="M34.3 537.6c62 0 198-84 260-84"/><path class="c53" d="M34.3 490c62 0 198 27 260 27"/><path class="c58 o17" d="M34.3 508.9c62 0 198-27.5 260-27.5"/><path class="c60" d="M34.3 494.9c62 0 198 50 260 50"/><path class="c56 o16" d="M34.3 518.2c62 0 198-55.5 260-55.5"/><path class="c59" d="M34.3 551.7c62 0 198-109 260-109"/><path class="c54 o19" d="M34.3 532.7c62 0 198-59.5 260-59.5"/><path class="c57" d="M34.3 499.6c62 0 198-19 260-19"/><path class="c52 o16" d="M34.3 546.9c62 0 198-100 260-100"/><path class="c55 o19" d="M34.3 537.6c62 0 198-66.5 260-66.5"/><path class="c61 o15" d="M34.3 513.6c62 0 198 19.5 260 19.5"/><path class="c50" d="M34.3 504.1c62 0 198-12.5 260-12.5"/><path class="c51 o13" d="M34.3 542.2c62 0 198-40.5 260-40.5"/><path class="c59" d="M34.3 551.7c62 0 198-79.5 260-79.5"/><path class="c49 o17" d="M34.3 523c62 0 198-67.5 260-67.5"/><path class="c67" d="M34.3 481.2c62 0 198 28.5 260 28.5"/><path class="c62 o17" d="M34.3 527.9c62 0 198-51 260-51"/><path class="c56 o16" d="M34.3 518.2c62 0 198-53.5 260-53.5"/><path class="c49 o17" d="M34.3 523c62 0 198-3.5 260-3.5"/><path class="c54 o19" d="M34.3 532.7c62 0 198-61 260-61"/><path class="c49 o17" d="M34.3 523c62 0 198-48.5 260-48.5"/><path class="c56 o19" d="M34.3 518.2c62 0 198-37.5 260-37.5"/><path class="c56 o16" d="M34.3 518.2c62 0 198-57 260-57"/><path class="c54 o16" d="M34.3 532.7c62 0 198-64.5 260-64.5"/><path class="c50" d="M34.3 504.1c62 0 198-13.5 260-13.5"/><path class="c61 o15" d="M34.3 513.6c62 0 198-21 260-21"/><path class="c55 o19" d="M34.3 537.6c62 0 198-81 260-81"/><path class="c58" d="M34.3 508.9c62 0 198 5 260 5"/><path class="c56 o16" d="M34.3 518.2c62 0 198-28.5 260-28.5"/><path class="c72" d="M34.3 556.5c62 0 198-100.5 260-100.5"/><path class="c56 o19" d="M34.3 518.2c62 0 198-49 260-49"/><path class="c62 o20" d="M34.3 527.9c62 0 198-54.5 260-54.5"/><path class="c59" d="M34.3 551.7c62 0 198-102 260-102"/><path class="c67" d="M34.3 481.2c62 0 198 18.5 260 18.5"/><path class="c71" d="M34.3 458.2c62 0 198 96 260 96"/><path class="c52" d="M34.3 546.9c62 0 198-96.5 260-96.5"/><path class="c50 o16" d="M34.3 504.1c62 0 198-27.5 260-27.5"/><path class="c64" d="M34.3 467.1c62 0 198 80.5 260 80.5"/><path class="c57" d="M34.3 499.6c62 0 198 31.5 260 31.5"/><path class="c58" d="M34.3 508.9c62 0 198 2.5 260 2.5"/><path class="c62 o20" d="M34.3 527.9c62 0 198-37.5 260-37.5"/><path class="c50" d="M34.3 504.1c62 0 198 9.5 260 9.5"/><path class="c71" d="M34.3 458.2c62 0 198 78 260 78"/><path class="c49" d="M34.3 523c62 0 198 27.5 260 27.5"/><path class="c54 o16" d="M34.3 532.7c62 0 198-38 260-38"/><path class="c52" d="M34.3 546.9c62 0 198-54.5 260-54.5"/><path class="c62 o17" d="M34.3 527.9c62 0 198-23.5 260-23.5"/><path class="c55 o19" d="M34.3 537.6c62 0 198-61 260-61"/><path class="c72" d="M34.3 556.5c62 0 198-110 260-110"/><path class="c56 o19" d="M34.3 518.2c62 0 198-29 260-29"/><path class="c49 o17" d="M34.3 523c62 0 198-24 260-24"/><path class="c62 o17" d="M34.3 527.9c62 0 198-57 260-57"/><path class="c56 o16" d="M34.3 518.2c62 0 198-14.5 260-14.5"/><path class="c53" d="M34.3 490c62 0 198 33 260 33"/><path class="c52 o16" d="M34.3 546.9c62 0 198-80 260-80"/><path class="c59" d="M34.3 551.7c62 0 198-72.5 260-72.5"/><path class="c60" d="M34.3 494.9c62 0 198 11 260 11"/><path class="c67" d="M34.3 481.2c62 0 198 24.5 260 24.5"/><path class="c54 o16" d="M34.3 532.7c62 0 198-32 260-32"/><path class="c56 o19" d="M34.3 518.2c62 0 198-40 260-40"/><path class="c55 o19" d="M34.3 537.6c62 0 198-55.5 260-55.5"/><path class="c51 o13" d="M34.3 542.2c62 0 198-72.5 260-72.5"/><path class="c56 o16" d="M34.3 518.2c62 0 198-46.5 260-46.5"/><path class="c61 o15" d="M34.3 513.6c62 0 198-12 260-12"/><path class="c56 o19" d="M34.3 518.2c62 0 198-35.5 260-35.5"/><path class="c53" d="M34.3 490c62 0 198-3.5 260-3.5"/><path class="c55 o15" d="M34.3 537.6c62 0 198-57 260-57"/><path class="c55 o15" d="M34.3 537.6c62 0 198-73.5 260-73.5"/><path class="c49 o17" d="M34.3 523c62 0 198-36.5 260-36.5"/><path class="c51 o13" d="M34.3 542.2c62 0 198-75 260-75"/><path class="c60" d="M34.3 494.9c62 0 198 7 260 7"/><path class="c67" d="M34.3 481.2c62 0 198 22 260 22"/><path class="c75" d="M34.3 449.2c62 0 198 84 260 84"/><path class="c58" d="M34.3 508.9c62 0 198-13 260-13"/><path class="c66" d="M34.3 485.7c62 0 198 23 260 23"/><path class="c61 o19" d="M34.3 513.6c62 0 198-38.5 260-38.5"/><path class="c62 o17" d="M34.3 527.9c62 0 198-28.5 260-28.5"/><path class="c57" d="M34.3 499.6c62 0 198-8.5 260-8.5"/><path class="c62 o17" d="M34.3 527.9c62 0 198-37 260-37"/><path class="c53" d="M34.3 490c62 0 198-27 260-27"/><path class="c76" d="M34.3 440.1c62 0 198 73 260 73"/><path class="c69" d="M34.3 462.6c62 0 198 60.5 260 60.5"/><path class="c49 o17" d="M34.3 523c62 0 198-25 260-25"/><path class="c54 o16" d="M34.3 532.7c62 0 198-57 260-57"/><path class="c69" d="M34.3 462.6c62 0 198 72 260 72"/><path class="c49" d="M34.3 523c62 0 198-104 260-104"/><path class="c53" d="M34.3 490c62 0 198 40.5 260 40.5"/><path class="c55 o15" d="M34.3 537.6c62 0 198-100 260-100"/><path class="c50" d="M34.3 504.1c62 0 198-13 260-13"/><path class="c49 o20" d="M34.3 523c62 0 198-32.5 260-32.5"/><path class="c70" d="M34.3 476.5c62 0 198 61.5 260 61.5"/><path class="c61 o15" d="M34.3 513.6c62 0 198 2 260 2"/><path class="c56 o16" d="M34.3 518.2c62 0 198-2.5 260-2.5"/><path class="c54 o16" d="M34.3 532.7c62 0 198-31 260-31"/><path class="c62 o17" d="M34.3 527.9c62 0 198-68 260-68"/><path class="c56 o16" d="M34.3 518.2c62 0 198-57.5 260-57.5"/><path class="c50" d="M34.3 504.1c62 0 198-28.5 260-28.5"/><path class="c73" d="M34.3 561.3c62 0 198-114.5 260-114.5"/><path class="c62 o20" d="M34.3 527.9c62 0 198-42 260-42"/><path class="c55 o15" d="M34.3 537.6c62 0 198-41 260-41"/><path class="c16" d="M34.3 404.5c62 0 198 158 260 158"/><path class="c51 o17" d="M34.3 542.2c62 0 198-67.5 260-67.5"/><path class="c50" d="M34.3 504.1c62 0 198 23 260 23"/><path class="c56 o19" d="M34.3 518.2c62 0 198-18 260-18"/><path class="c51 o13" d="M34.3 542.2c62 0 198-52.5 260-52.5"/><path class="c61 o19" d="M34.3 513.6c62 0 198-17 260-17"/><path class="c49 o17" d="M34.3 523c62 0 198-56 260-56"/><path class="c54 o16" d="M34.3 532.7c62 0 198-73.5 260-73.5"/><path class="c50" d="M34.3 504.1c62 0 198-7.5 260-7.5"/><path class="c50" d="M34.3 504.1c62 0 198 28.5 260 28.5"/><path class="c60" d="M34.3 494.9c62 0 198 24 260 24"/><path class="c62 o17" d="M34.3 527.9c62 0 198-43.5 260-43.5"/><path class="c62 o17" d="M34.3 527.9c62 0 198-36.5 260-36.5"/><path class="c63" d="M34.3 471.9c62 0 198 73 260 73"/><path class="c58" d="M34.3 508.9c62 0 198 26 260 26"/><path class="c61 o15" d="M34.3 513.6c62 0 198-44 260-44"/><path class="c55 o15" d="M34.3 537.6c62 0 198-48.5 260-48.5"/><path class="c58 o17" d="M34.3 508.9c62 0 198-10 260-10"/><path class="c56 o16" d="M34.3 518.2c62 0 198-41 260-41"/><path class="c62 o17" d="M34.3 527.9c62 0 198-73 260-73"/><path class="c54 o19" d="M34.3 532.7c62 0 198-54.5 260-54.5"/><path class="c57" d="M34.3 499.6c62 0 198 11 260 11"/><path class="c58" d="M34.3 508.9c62 0 198-32 260-32"/><path class="c56 o16" d="M34.3 518.2c62 0 198-54.5 260-54.5"/><path class="c50" d="M34.3 504.1c62 0 198-20 260-20"/><path class="c62 o17" d="M34.3 527.9c62 0 198-22 260-22"/><path class="c66" d="M34.3 485.7c62 0 198 46 260 46"/><path class="c61 o19" d="M34.3 513.6c62 0 198-13 260-13"/><path class="c57" d="M34.3 499.6c62 0 198 19.5 260 19.5"/><path class="c59" d="M34.3 551.7c62 0 198-91 260-91"/><path class="c52" d="M34.3 546.9c62 0 198-65 260-65"/><path class="c54 o19" d="M34.3 532.7c62 0 198-61.5 260-61.5"/><path class="c49 o17" d="M34.3 523c62 0 198-21.5 260-21.5"/><path class="c51 o17" d="M34.3 542.2c62 0 198-82 260-82"/><path class="c53" d="M34.3 490c62 0 198 24 260 24"/><path class="c57" d="M34.3 499.6c62 0 198-58.5 260-58.5"/><path class="c54 o16" d="M34.3 532.7c62 0 198-65.5 260-65.5"/><path class="c77" d="M34.3 435.6c62 0 198 109.5 260 109.5"/><path class="c66" d="M34.3 485.7c62 0 198 34 260 34"/><path class="c58" d="M34.3 508.9c62 0 198 10 260 10"/><path class="c62 o17" d="M34.3 527.9c62 0 198-15 260-15"/><path class="c57" d="M34.3 499.6c62 0 198-14 260-14"/><path class="c52" d="M34.3 546.9c62 0 198-70.5 260-70.5"/><path class="c51 o17" d="M34.3 542.2c62 0 198-73.5 260-73.5"/><path class="c51 o13" d="M34.3 542.2c62 0 198-60.5 260-60.5"/><path class="c61 o19" d="M34.3 513.6c62 0 198-31 260-31"/><path class="c49 o20" d="M34.3 523c62 0 198-43.5 260-43.5"/><path class="c61 o15" d="M34.3 513.6c62 0 198-23 260-23"/><path class="c61 o15" d="M34.3 513.6c62 0 198-40 260-40"/><path class="c64" d="M34.3 467.1c62 0 198 48 260 48"/><path class="c52" d="M34.3 546.9c62 0 198-63.5 260-63.5"/><path class="c56 o19" d="M34.3 518.2c62 0 198-45.5 260-45.5"/><path class="c52" d="M34.3 546.9c62 0 198-101.5 260-101.5"/><path class="c72" d="M34.3 556.5c62 0 198-79 260-79"/><path class="c58" d="M34.3 508.9c62 0 198-29.5 260-29.5"/><path class="c62 o20" d="M34.3 527.9c62 0 198-35 260-35"/><path class="c53" d="M34.3 490c62 0 198 32 260 32"/><path class="c50" d="M34.3 504.1c62 0 198-18 260-18"/><path class="c50" d="M34.3 504.1c62 0 198 9 260 9"/><path class="c58" d="M34.3 508.9c62 0 198-53 260-53"/><path class="c51 o13" d="M34.3 542.2c62 0 198-100 260-100"/><path class="c59" d="M34.3 551.7c62 0 198-98 260-98"/><path class="c52" d="M34.3 546.9c62 0 198-91.5 260-91.5"/><path class="c53" d="M34.3 490c62 0 198 41.5 260 41.5"/><path class="c50" d="M34.3 504.1c62 0 198-16.5 260-16.5"/><path class="c54 o16" d="M34.3 532.7c62 0 198-83.5 260-83.5"/><path class="c58" d="M34.3 508.9c62 0 198 17.5 260 17.5"/><path class="c49 o17" d="M34.3 523c62 0 198-23.5 260-23.5"/><path class="c75" d="M34.3 449.2c62 0 198 89.5 260 89.5"/><path class="c57" d="M34.3 499.6c62 0 198 7.5 260 7.5"/><path class="c55 o19" d="M34.3 537.6c62 0 198-68.5 260-68.5"/><path class="c50" d="M34.3 504.1c62 0 198-4.5 260-4.5"/><path class="c58 o17" d="M34.3 508.9c62 0 198-22 260-22"/><path class="c59" d="M34.3 551.7c62 0 198-131 260-131"/><path class="c61 o15" d="M34.3 513.6c62 0 198-68 260-68"/><path class="c50" d="M34.3 504.1c62 0 198-2.5 260-2.5"/><path class="c62 o20" d="M34.3 527.9c62 0 198-54 260-54"/><path class="c54 o16" d="M34.3 532.7c62 0 198-81.5 260-81.5"/><path class="c54 o16" d="M34.3 532.7c62 0 198-66.5 260-66.5"/><path class="c55 o19" d="M34.3 537.6c62 0 198-73 260-73"/><path class="c62 o17" d="M34.3 527.9c62 0 198-72.5 260-72.5"/><path class="c53" d="M34.3 490c62 0 198 65.5 260 65.5"/><path class="c61 o19" d="M34.3 513.6c62 0 198-6.5 260-6.5"/><path class="c72" d="M34.3 556.5c62 0 198-103 260-103"/><path class="c55" d="M34.3 537.6c62 0 198 1 260 1"/><path class="c70" d="M34.3 476.5c62 0 198 21.5 260 21.5"/><path class="c54 o16" d="M34.3 532.7c62 0 198 1.5 260 1.5"/><path class="c62 o17" d="M34.3 527.9c62 0 198-45.5 260-45.5"/><path class="c56 o16" d="M34.3 518.2c62 0 198-36 260-36"/><path class="c62 o20" d="M34.3 527.9c62 0 198-36 260-36"/><path class="c54 o16" d="M34.3 532.7c62 0 198-78 260-78"/><path class="c51 o17" d="M34.3 542.2c62 0 198-75.5 260-75.5"/><path class="c61 o19" d="M34.3 513.6c62 0 198-10.5 260-10.5"/><path class="c58" d="M34.3 508.9c62 0 198 14 260 14"/><path class="c55 o15" d="M34.3 537.6c62 0 198-71 260-71"/><path class="c51 o13" d="M34.3 542.2c62 0 198-56 260-56"/><path class="c60" d="M34.3 494.9c62 0 198 1.5 260 1.5"/><path class="c54 o19" d="M34.3 532.7c62 0 198-45 260-45"/><path class="c62 o17" d="M34.3 527.9c62 0 198-11 260-11"/><path class="c52" d="M34.3 546.9c62 0 198-66.5 260-66.5"/><path class="c56 o16" d="M34.3 518.2c62 0 198-21.5 260-21.5"/><path class="c51 o13" d="M34.3 542.2c62 0 198-33.5 260-33.5"/><path class="c54 o19" d="M34.3 532.7c62 0 198-56 260-56"/><path class="c51 o13" d="M34.3 542.2c62 0 198-102 260-102"/><path class="c62 o17" d="M34.3 527.9c62 0 198 5.5 260 5.5"/><path class="c59" d="M34.3 551.7c62 0 198-64.5 260-64.5"/><path class="c52" d="M34.3 546.9c62 0 198-91 260-91"/><path class="c55 o15" d="M34.3 537.6c62 0 198-68 260-68"/><path class="c52" d="M34.3 546.9c62 0 198-80.5 260-80.5"/><path class="c66" d="M34.3 485.7c62 0 198 61 260 61"/><path class="c62 o17" d="M34.3 527.9c62 0 198-33.5 260-33.5"/><path class="c56 o16" d="M34.3 518.2c62 0 198-4.5 260-4.5"/><path class="c61 o15" d="M34.3 513.6c62 0 198-19 260-19"/><path class="c57 o17" d="M34.3 499.6c62 0 198-5 260-5"/><path class="c62 o17" d="M34.3 527.9c62 0 198-63.5 260-63.5"/><path class="c56 o19" d="M34.3 518.2c62 0 198-36.5 260-36.5"/><path class="c55 o15" d="M34.3 537.6c62 0 198-40 260-40"/><path class="c50" d="M34.3 504.1c62 0 198 36 260 36"/><path class="c69" d="M34.3 462.6c62 0 198 63.5 260 63.5"/><path class="c69" d="M34.3 462.6c62 0 198 66 260 66"/><path class="c72" d="M34.3 556.5c62 0 198-111.5 260-111.5"/><path class="c55 o15" d="M34.3 537.6c62 0 198-74 260-74"/><path class="c54 o16" d="M34.3 532.7c62 0 198-70 260-70"/><path class="c52" d="M34.3 546.9c62 0 198-62.5 260-62.5"/><path class="c60" d="M34.3 494.9c62 0 198 53.5 260 53.5"/><path class="c70" d="M34.3 476.5c62 0 198 59.5 260 59.5"/><path class="c69" d="M34.3 462.6c62 0 198 67.5 260 67.5"/><path class="c51 o13" d="M34.3 542.2c62 0 198-99 260-99"/><path class="c58" d="M34.3 508.9c62 0 198-46.5 260-46.5"/><path class="c50" d="M34.3 504.1c62 0 198-54 260-54"/><path class="c51" d="M34.3 542.2c62 0 198-131.5 260-131.5"/><path class="c62 o20" d="M34.3 527.9c62 0 198-49 260-49"/><path class="c51 o17" d="M34.3 542.2c62 0 198-77 260-77"/><path class="c62 o17" d="M34.3 527.9c62 0 198-46.5 260-46.5"/><path class="c51 o13" d="M34.3 542.2c62 0 198-56.5 260-56.5"/><path class="c51 o13" d="M34.3 542.2c62 0 198-47 260-47"/><path class="c51 o13" d="M34.3 542.2c62 0 198-41.5 260-41.5"/><path class="c54 o16" d="M34.3 532.7c62 0 198-24.5 260-24.5"/><path class="c71" d="M34.3 458.2c62 0 198 74 260 74"/><path class="c49 o17" d="M34.3 523c62 0 198-26 260-26"/><path class="c49 o17" d="M34.3 523c62 0 198-17 260-17"/><path class="c72" d="M34.3 556.5c62 0 198-113.5 260-113.5"/><path class="c61 o15" d="M34.3 513.6c62 0 198-50.5 260-50.5"/><path class="c62 o17" d="M34.3 527.9c62 0 198-64.5 260-64.5"/><path class="c66" d="M34.3 485.7c62 0 198 39.5 260 39.5"/><path class="c67" d="M34.3 481.2c62 0 198 11.5 260 11.5"/><path class="c54 o16" d="M34.3 532.7c62 0 198-90 260-90"/><path class="c69" d="M34.3 462.6c62 0 198 88 260 88"/><path class="c58" d="M34.3 508.9c62 0 198-28 260-28"/><path class="c56 o19" d="M34.3 518.2c62 0 198-34 260-34"/><path class="c59" d="M34.3 551.7c62 0 198-97 260-97"/><path class="c60" d="M34.3 494.9c62 0 198 34 260 34"/><path class="c66" d="M34.3 485.7c62 0 198 29 260 29"/><path class="c63" d="M34.3 471.9c62 0 198 50 260 50"/><path class="c49 o17" d="M34.3 523c62 0 198-55 260-55"/><path class="c56 o16" d="M34.3 518.2c62 0 198-10 260-10"/><path class="c55 o19" d="M34.3 537.6c62 0 198-58 260-58"/><path class="c55 o19" d="M34.3 537.6c62 0 198-59 260-59"/><path class="c52" d="M34.3 546.9c62 0 198-112 260-112"/><path class="c57" d="M34.3 499.6c62 0 198 5 260 5"/><path class="c56 o16" d="M34.3 518.2c62 0 198-21 260-21"/><path class="c49 o20" d="M34.3 523c62 0 198-51 260-51"/><path class="c57" d="M34.3 499.6c62 0 198-13 260-13"/><path class="c54 o16" d="M34.3 532.7c62 0 198-51.5 260-51.5"/><path class="c73" d="M34.3 561.3c62 0 198-84 260-84"/><path class="c56 o19" d="M34.3 518.2c62 0 198-26.5 260-26.5"/><path class="c66" d="M34.3 485.7c62 0 198 37.5 260 37.5"/><path class="c53" d="M34.3 490c62 0 198 18.5 260 18.5"/><path class="c67" d="M34.3 481.2c62 0 198 57.5 260 57.5"/><path class="c61 o15" d="M34.3 513.6c62 0 198-33.5 260-33.5"/><path class="c57" d="M34.3 499.6c62 0 198 6 260 6"/><path class="c56 o19" d="M34.3 518.2c62 0 198-22 260-22"/><path class="c70" d="M34.3 476.5c62 0 198 58 260 58"/><path class="c68" d="M34.3 444.6c62 0 198 96.5 260 96.5"/><path class="c53" d="M34.3 490c62 0 198-36 260-36"/><path class="c62 o20" d="M34.3 527.9c62 0 198-40 260-40"/><path class="c52" d="M34.3 546.9c62 0 198-78.5 260-78.5"/><path class="c52" d="M34.3 546.9c62 0 198-104 260-104"/><path class="c50" d="M34.3 504.1c62 0 198-4 260-4"/><path class="c55 o19" d="M34.3 537.6c62 0 198-57.5 260-57.5"/><path class="c59" d="M34.3 551.7c62 0 198-76.5 260-76.5"/><path class="c51 o13" d="M34.3 542.2c62 0 198-90 260-90"/><path class="c66" d="M34.3 485.7c62 0 198 39 260 39"/><path class="c56 o16" d="M34.3 518.2c62 0 198-42.5 260-42.5"/><path class="c62 o17" d="M34.3 527.9c62 0 198-41.5 260-41.5"/><path class="c52 o16" d="M34.3 546.9c62 0 198-83 260-83"/><path class="c57" d="M34.3 499.6c62 0 198 12.5 260 12.5"/><path class="c55 o15" d="M34.3 537.6c62 0 198-70 260-70"/><path class="c61 o15" d="M34.3 513.6c62 0 198-35.5 260-35.5"/><path class="c67" d="M34.3 481.2c62 0 198 37 260 37"/><path class="c64" d="M34.3 467.1c62 0 198 53 260 53"/><path class="c60" d="M34.3 494.9c62 0 198 9.5 260 9.5"/><path class="c52" d="M34.3 546.9c62 0 198-67 260-67"/><path class="c74" d="M34.3 453.5c62 0 198 94.5 260 94.5"/><path class="c53" d="M34.3 490c62 0 198 25 260 25"/><path class="c57" d="M34.3 499.6c62 0 198 21.5 260 21.5"/><path class="c62 o20" d="M34.3 527.9c62 0 198-67 260-67"/><path class="c50" d="M34.3 504.1c62 0 198-31.5 260-31.5"/><path class="c62 o20" d="M34.3 527.9c62 0 198-44 260-44"/><path class="c51 o13" d="M34.3 542.2c62 0 198-95 260-95"/><path class="c69" d="M34.3 462.6c62 0 198 43.5 260 43.5"/><path class="c55 o19" d="M34.3 537.6c62 0 198-52.5 260-52.5"/><path class="c62 o17" d="M34.3 527.9c62 0 198-71 260-71"/><path class="c62 o17" d="M34.3 527.9c62 0 198-77.5 260-77.5"/><path class="c56 o16" d="M34.3 518.2c62 0 198-34.5 260-34.5"/><path class="c56 o16" d="M34.3 518.2c62 0 198-51 260-51"/><path class="c56 o16" d="M34.3 518.2c62 0 198-59.5 260-59.5"/><path class="c49 o17" d="M34.3 523c62 0 198-14.5 260-14.5"/><path class="c54 o16" d="M34.3 532.7c62 0 198-72.5 260-72.5"/><path class="c62 o17" d="M34.3 527.9c62 0 198-19 260-19"/><path class="c64" d="M34.3 467.1c62 0 198 64.5 260 64.5"/><path class="c61 o15" d="M34.3 513.6c62 0 198-54.5 260-54.5"/><path class="c54 o16" d="M34.3 532.7c62 0 198-39 260-39"/><path class="c52" d="M34.3 546.9c62 0 198-99 260-99"/><path class="c58" d="M34.3 508.9c62 0 198 13 260 13"/><path class="c50" d="M34.3 504.1c62 0 198-8.5 260-8.5"/><path class="c55 o15" d="M34.3 537.6c62 0 198-71.5 260-71.5"/><path class="c66" d="M34.3 485.7c62 0 198 27 260 27"/><path class="c62 o17" d="M34.3 527.9c62 0 198-58.5 260-58.5"/><path class="c66" d="M34.3 485.7c62 0 198 49.5 260 49.5"/><path class="c50" d="M34.3 504.1c62 0 198-7 260-7"/><path class="c55 o15" d="M34.3 537.6c62 0 198-58.5 260-58.5"/><path class="c69" d="M34.3 462.6c62 0 198 77 260 77"/><path class="c51 o17" d="M34.3 542.2c62 0 198-58 260-58"/><path class="c61 o15" d="M34.3 513.6c62 0 198-48 260-48"/><path class="c49 o17" d="M34.3 523c62 0 198-33 260-33"/><path class="c51 o13" d="M34.3 542.2c62 0 198-78.5 260-78.5"/><path class="c59" d="M34.3 551.7c62 0 198-100.5 260-100.5"/><path class="c49 o17" d="M34.3 523c62 0 198-80.5 260-80.5"/><path class="c50" d="M34.3 504.1c62 0 198-.5 260-.5"/><path class="c54 o16" d="M34.3 532.7c62 0 198-99.5 260-99.5"/><path class="c56 o16" d="M34.3 518.2c62 0 198-38 260-38"/><path class="c56 o16" d="M34.3 518.2c62 0 198-2 260-2"/><path class="c62 o17" d="M34.3 527.9c62 0 198-62 260-62"/><path class="c54 o16" d="M34.3 532.7c62 0 198-71.5 260-71.5"/><path class="c64" d="M34.3 467.1c62 0 198 99 260 99"/><path class="c50" d="M34.3 504.1c62 0 198 17 260 17"/><path class="c57" d="M34.3 499.6c62 0 198 18.5 260 18.5"/><path class="c56 o16" d="M34.3 518.2c62 0 198-61.5 260-61.5"/><path class="c56 o16" d="M34.3 518.2c62 0 198 0 260 0"/><path class="c51 o13" d="M34.3 542.2c62 0 198-94.5 260-94.5"/><path class="c56 o16" d="M34.3 518.2c62 0 198-6 260-6"/><path class="c55 o15" d="M34.3 537.6c62 0 198-87.5 260-87.5"/><path class="c61 o15" d="M34.3 513.6c62 0 198-57.5 260-57.5"/><path class="c57" d="M34.3 499.6c62 0 198 22 260 22"/><path class="c49 o17" d="M34.3 523c62 0 198-44.5 260-44.5"/><path class="c50" d="M34.3 504.1c62 0 198 21 260 21"/><path class="c59" d="M34.3 551.7c62 0 198-96 260-96"/><path class="c55 o19" d="M34.3 537.6c62 0 198-53.5 260-53.5"/><path class="c54 o19" d="M34.3 532.7c62 0 198-35 260-35"/><path class="c64" d="M34.3 467.1c62 0 198 62.5 260 62.5"/><path class="c54 o16" d="M34.3 532.7c62 0 198-21 260-21"/><path class="c67" d="M34.3 481.2c62 0 198 50.5 260 50.5"/><path class="c49 o20" d="M34.3 523c62 0 198-40.5 260-40.5"/><path class="c51 o17" d="M34.3 542.2c62 0 198-61 260-61"/><path class="c63" d="M34.3 471.9c62 0 198 74 260 74"/><path class="c61 o15" d="M34.3 513.6c62 0 198-36 260-36"/><path class="c58" d="M34.3 508.9c62 0 198-34 260-34"/><path class="c50" d="M34.3 504.1c62 0 198 3.5 260 3.5"/><path class="c58" d="M34.3 508.9c62 0 198 11.5 260 11.5"/><path class="c55 o15" d="M34.3 537.6c62 0 198-85 260-85"/><path class="c56 o16" d="M34.3 518.2c62 0 198-33 260-33"/><path class="c50" d="M34.3 504.1c62 0 198 20 260 20"/><path class="c55 o15" d="M34.3 537.6c62 0 198-59.5 260-59.5"/><path class="c58 o17" d="M34.3 508.9c62 0 198-9 260-9"/><path class="c62 o17" d="M34.3 527.9c62 0 198-80.5 260-80.5"/><path class="c49 o20" d="M34.3 523c62 0 198-33.5 260-33.5"/><path class="c57" d="M34.3 499.6c62 0 198 39 260 39"/><path class="c68" d="M34.3 444.6c62 0 198 102 260 102"/><path class="c58" d="M34.3 508.9c62 0 198-25.5 260-25.5"/><path class="c66" d="M34.3 485.7c62 0 198 44.5 260 44.5"/><path class="c62 o17" d="M34.3 527.9c62 0 198-27 260-27"/><path class="c55 o15" d="M34.3 537.6c62 0 198-62 260-62"/><path class="c66" d="M34.3 485.7c62 0 198 48 260 48"/><path class="c66" d="M34.3 485.7c62 0 198 53 260 53"/><path class="c49 o17" d="M34.3 523c62 0 198-18 260-18"/><path class="c60" d="M34.3 494.9c62 0 198 22.5 260 22.5"/><path class="c49 o20" d="M34.3 523c62 0 198-59.5 260-59.5"/><path class="c63" d="M34.3 471.9c62 0 198 56 260 56"/><path class="c51 o13" d="M34.3 542.2c62 0 198-83 260-83"/><path class="c55 o19" d="M34.3 537.6c62 0 198-56.5 260-56.5"/><path class="c63" d="M34.3 471.9c62 0 198 81 260 81"/><path class="c67" d="M34.3 481.2c62 0 198-7 260-7"/><path class="c67" d="M34.3 481.2c62 0 198 16.5 260 16.5"/><path class="c54 o16" d="M34.3 532.7c62 0 198-13 260-13"/><path class="c56 o16" d="M34.3 518.2c62 0 198-18.5 260-18.5"/><path class="c70" d="M34.3 476.5c62 0 198 46 260 46"/><path class="c56 o19" d="M34.3 518.2c62 0 198-48 260-48"/><path class="c49 o17" d="M34.3 523c62 0 198-74 260-74"/><path class="c57" d="M34.3 499.6c62 0 198-15 260-15"/><path class="c54 o16" d="M34.3 532.7c62 0 198-54 260-54"/><path class="c61 o15" d="M34.3 513.6c62 0 198 10 260 10"/><path class="c49 o17" d="M34.3 523c62 0 198-73 260-73"/><path class="c62 o20" d="M34.3 527.9c62 0 198-52 260-52"/><path class="c51 o13" d="M34.3 542.2c62 0 198-70.5 260-70.5"/><path class="c58 o17" d="M34.3 508.9c62 0 198-5.5 260-5.5"/><path class="c62 o17" d="M34.3 527.9c62 0 198-49.5 260-49.5"/><path class="c60" d="M34.3 494.9c62 0 198-9.5 260-9.5"/><path class="c70" d="M34.3 476.5c62 0 198 51.5 260 51.5"/><path class="c56 o16" d="M34.3 518.2c62 0 198-38.5 260-38.5"/><path class="c52" d="M34.3 546.9c62 0 198-92.5 260-92.5"/><path class="c51 o17" d="M34.3 542.2c62 0 198-62 260-62"/><path class="c54 o16" d="M34.3 532.7c62 0 198-23.5 260-23.5"/><path class="c51 o13" d="M34.3 542.2c62 0 198-92.5 260-92.5"/><path class="c56 o19" d="M34.3 518.2c62 0 198-39.5 260-39.5"/><path class="c49 o17" d="M34.3 523c62 0 198-28.5 260-28.5"/><path class="c67" d="M34.3 481.2c62 0 198 45.5 260 45.5"/><path class="c53" d="M34.3 490c62 0 198 21 260 21"/><path class="c61 o15" d="M34.3 513.6c62 0 198-60.5 260-60.5"/><path class="c51 o13" d="M34.3 542.2c62 0 198-101.5 260-101.5"/><path class="c54 o16" d="M34.3 532.7c62 0 198-76.5 260-76.5"/><path class="c50" d="M34.3 504.1c62 0 198-19 260-19"/><path class="c66" d="M34.3 485.7c62 0 198 26 260 26"/><path class="c51 o13" d="M34.3 542.2c62 0 198-62.5 260-62.5"/><path class="c51 o13" d="M34.3 542.2c62 0 198-74 260-74"/><path class="c50" d="M34.3 504.1c62 0 198-19.5 260-19.5"/><path class="c52" d="M34.3 546.9c62 0 198-97 260-97"/><path class="c56 o16" d="M34.3 518.2c62 0 198-63 260-63"/><path class="c57" d="M34.3 499.6c62 0 198-17 260-17"/><path class="c61 o15" d="M34.3 513.6c62 0 198-4.5 260-4.5"/><path class="c49 o17" d="M34.3 523c62 0 198-47.5 260-47.5"/><path class="c62 o17" d="M34.3 527.9c62 0 198-13.5 260-13.5"/><path class="c71" d="M34.3 458.2c62 0 198 46.5 260 46.5"/><path class="c58" d="M34.3 508.9c62 0 198-40.5 260-40.5"/><path class="c57 o17" d="M34.3 499.6c62 0 198 14 260 14"/><path class="c61 o15" d="M34.3 513.6c62 0 198-9 260-9"/><path class="c58 o17" d="M34.3 508.9c62 0 198-13.5 260-13.5"/><path class="c54 o19" d="M34.3 532.7c62 0 198-66 260-66"/><path class="c52" d="M34.3 546.9c62 0 198-57 260-57"/><path class="c54 o16" d="M34.3 532.7c62 0 198-75.5 260-75.5"/><path class="c55 o15" d="M34.3 537.6c62 0 198-77.5 260-77.5"/><path class="c59" d="M34.3 551.7c62 0 198-75.5 260-75.5"/><path class="c67" d="M34.3 481.2c62 0 198 63 260 63"/><path class="c58 o17" d="M34.3 508.9c62 0 198-16 260-16"/><path class="c50" d="M34.3 504.1c62 0 198 26.5 260 26.5"/><path class="c55" d="M34.3 537.6c62 0 198-113.5 260-113.5"/><path class="c52" d="M34.3 546.9c62 0 198-61 260-61"/><path class="c55 o19" d="M34.3 537.6c62 0 198-76 260-76"/><path class="c61 o19" d="M34.3 513.6c62 0 198 0 260 0"/><path class="c54 o16" d="M34.3 532.7c62 0 198-62 260-62"/><path class="c68" d="M34.3 444.6c62 0 198 107 260 107"/><path class="c58 o17" d="M34.3 508.9c62 0 198-26.5 260-26.5"/><path class="c57" d="M34.3 499.6c62 0 198 29 260 29"/><path class="c62 o17" d="M34.3 527.9c62 0 198-42.5 260-42.5"/><path class="c52" d="M34.3 546.9c62 0 198-89.5 260-89.5"/><path class="c62 o20" d="M34.3 527.9c62 0 198-41 260-41"/><path class="c62" d="M34.3 527.9c62 0 198-106.5 260-106.5"/><path class="c54 o16" d="M34.3 532.7c62 0 198-68 260-68"/><path class="c71" d="M34.3 458.2c62 0 198 98 260 98"/><path class="c71" d="M34.3 458.2c62 0 198 93 260 93"/><path class="c61 o15" d="M34.3 513.6c62 0 198-33 260-33"/><path class="c55 o15" d="M34.3 537.6c62 0 198-35 260-35"/><path class="c57" d="M34.3 499.6c62 0 198 26.5 260 26.5"/><path class="c60" d="M34.3 494.9c62 0 198 32.5 260 32.5"/><path class="c50" d="M34.3 504.1c62 0 198 0 260 0"/><path class="c66" d="M34.3 485.7c62 0 198 30 260 30"/><path class="c66" d="M34.3 485.7c62 0 198 30.5 260 30.5"/><path class="c62 o17" d="M34.3 527.9c62 0 198-34 260-34"/><path class="c62 o17" d="M34.3 527.9c62 0 198-70.5 260-70.5"/><path class="c50" d="M34.3 504.1c62 0 198-17.5 260-17.5"/><path class="c53" d="M34.3 490c62 0 198 43 260 43"/><path class="c51 o13" d="M34.3 542.2c62 0 198-48.5 260-48.5"/><path class="c62 o17" d="M34.3 527.9c62 0 198-38 260-38"/><path class="c55 o15" d="M34.3 537.6c62 0 198-61.5 260-61.5"/><path class="c52" d="M34.3 546.9c62 0 198-53 260-53"/><path class="c52" d="M34.3 546.9c62 0 198-129.5 260-129.5"/><path class="c67" d="M34.3 481.2c62 0 198 72 260 72"/><path class="c49 o20" d="M34.3 523c62 0 198-37 260-37"/><path class="c52 o16" d="M34.3 546.9c62 0 198-73.5 260-73.5"/><path class="c51 o13" d="M34.3 542.2c62 0 198-50 260-50"/><path class="c57" d="M34.3 499.6c62 0 198 4 260 4"/><path class="c62 o17" d="M34.3 527.9c62 0 198-7 260-7"/><path class="c62 o17" d="M34.3 527.9c62 0 198-32.5 260-32.5"/><path class="c53" d="M34.3 490c62 0 198 28 260 28"/><path class="c49 o17" d="M34.3 523c62 0 198 7.5 260 7.5"/><path class="c62 o17" d="M34.3 527.9c62 0 198-17 260-17"/><path class="c49 o17" d="M34.3 523c62 0 198-38.5 260-38.5"/><path class="c51 o19" d="M34.3 542.2c62 0 198-79 260-79"/><path class="c55 o15" d="M34.3 537.6c62 0 198-82.5 260-82.5"/><path class="c53" d="M34.3 490c62 0 198 6.5 260 6.5"/><path class="c55 o15" d="M34.3 537.6c62 0 198-103.5 260-103.5"/><path class="c67" d="M34.3 481.2c62 0 198 53.5 260 53.5"/><path class="c62 o17" d="M34.3 527.9c62 0 198-24 260-24"/><path class="c60" d="M34.3 494.9c62 0 198 37.5 260 37.5"/><path class="c51 o13" d="M34.3 542.2c62 0 198-90.5 260-90.5"/><path class="c59" d="M34.3 551.7c62 0 198-47 260-47"/><path class="c59" d="M34.3 551.7c62 0 198-79 260-79"/><path class="c56 o16" d="M34.3 518.2c62 0 198-27 260-27"/><path class="c66" d="M34.3 485.7c62 0 198 11.5 260 11.5"/><path class="c78" d="M34.3 431.1c62 0 198 131.5 260 131.5"/><path class="c62 o17" d="M34.3 527.9c62 0 198-63 260-63"/><path class="c56 o19" d="M34.3 518.2c62 0 198-50 260-50"/><path class="c57" d="M34.3 499.6c62 0 198 17 260 17"/><path class="c69" d="M34.3 462.6c62 0 198 69 260 69"/><path class="c54 o16" d="M34.3 532.7c62 0 198-70.5 260-70.5"/><path class="c53" d="M34.3 490c62 0 198 51 260 51"/><path class="c54 o19" d="M34.3 532.7c62 0 198-51 260-51"/><path class="c50" d="M34.3 504.1c62 0 198-3 260-3"/><path class="c70" d="M34.3 476.5c62 0 198 44.5 260 44.5"/><path class="c59" d="M34.3 551.7c62 0 198-105.5 260-105.5"/><path class="c57" d="M34.3 499.6c62 0 198 7 260 7"/><path class="c67" d="M34.3 481.2c62 0 198 34 260 34"/><path class="c67" d="M34.3 481.2c62 0 198 48.5 260 48.5"/><path class="c64" d="M34.3 467.1c62 0 198 68 260 68"/><path class="c53" d="M34.3 490c62 0 198-20.5 260-20.5"/><path class="c59" d="M34.3 551.7c62 0 198-77 260-77"/><path class="c56 o16" d="M34.3 518.2c62 0 198 11 260 11"/><path class="c49 o17" d="M34.3 523c62 0 198-22 260-22"/><path class="c66" d="M34.3 485.7c62 0 198 35.5 260 35.5"/><path class="c53" d="M34.3 490c62 0 198 37 260 37"/><path class="c50 o16" d="M34.3 504.1c62 0 198-10.5 260-10.5"/><path class="c63" d="M34.3 471.9c62 0 198 53 260 53"/><path class="c50" d="M34.3 504.1c62 0 198 2.5 260 2.5"/><path class="c50" d="M34.3 504.1c62 0 198-22.5 260-22.5"/><path class="c61 o15" d="M34.3 513.6c62 0 198-9.5 260-9.5"/><path class="c50" d="M34.3 504.1c62 0 198-41 260-41"/><path class="c53" d="M34.3 490c62 0 198 34.5 260 34.5"/><path class="c62 o17" d="M34.3 527.9c62 0 198-65 260-65"/><path class="c62 o17" d="M34.3 527.9c62 0 198-59 260-59"/><path class="c55 o15" d="M34.3 537.6c62 0 198-78 260-78"/><path class="c56 o16" d="M34.3 518.2c62 0 198-16 260-16"/><path class="c50" d="M34.3 504.1c62 0 198 4.5 260 4.5"/><path class="c70" d="M34.3 476.5c62 0 198 33 260 33"/><path class="c50" d="M34.3 504.1c62 0 198-26 260-26"/><path class="c61 o15" d="M34.3 513.6c62 0 198-18 260-18"/><path class="c52" d="M34.3 546.9c62 0 198-50.5 260-50.5"/><path class="c58" d="M34.3 508.9c62 0 198 5.5 260 5.5"/><path class="c49 o20" d="M34.3 523c62 0 198-29.5 260-29.5"/><path class="c52" d="M34.3 546.9c62 0 198-59 260-59"/><path class="c58" d="M34.3 508.9c62 0 198-29 260-29"/><path class="c70" d="M34.3 476.5c62 0 198 38.5 260 38.5"/><path class="c58" d="M34.3 508.9c62 0 198-47.5 260-47.5"/><path class="c61 o15" d="M34.3 513.6c62 0 198-11 260-11"/><path class="c55 o15" d="M34.3 537.6c62 0 198-90 260-90"/><path class="c62 o17" d="M34.3 527.9c62 0 198-15.5 260-15.5"/><path class="c53" d="M34.3 490c62 0 198 19.5 260 19.5"/><path class="c49 o17" d="M34.3 523c62 0 198-53.5 260-53.5"/><path class="c56 o16" d="M34.3 518.2c62 0 198-5.5 260-5.5"/><path class="c67" d="M34.3 481.2c62 0 198 35 260 35"/><path class="c58" d="M34.3 508.9c62 0 198-8.5 260-8.5"/><path class="c52" d="M34.3 546.9c62 0 198-76.5 260-76.5"/><path class="c58" d="M34.3 508.9c62 0 198-2 260-2"/><path class="c53" d="M34.3 490c62 0 198 29.5 260 29.5"/><path class="c50" d="M34.3 504.1c62 0 198-24.5 260-24.5"/><path class="c58" d="M34.3 508.9c62 0 198 4 260 4"/><path class="c49 o17" d="M34.3 523c62 0 198-8 260-8"/><path class="c69" d="M34.3 462.6c62 0 198 93 260 93"/><path class="c55 o19" d="M34.3 537.6c62 0 198-72 260-72"/><path class="c70" d="M34.3 476.5c62 0 198 40 260 40"/><path class="c52" d="M34.3 546.9c62 0 198-55.5 260-55.5"/><path class="c52" d="M34.3 546.9c62 0 198-68 260-68"/><path class="c51 o13" d="M34.3 542.2c62 0 198-85.5 260-85.5"/><path class="c60" d="M34.3 494.9c62 0 198 17.5 260 17.5"/><path class="c49 o20" d="M34.3 523c62 0 198-42 260-42"/><path class="c55 o15" d="M34.3 537.6c62 0 198-82 260-82"/><path class="c49 o17" d="M34.3 523c62 0 198-37.5 260-37.5"/><path class="c57" d="M34.3 499.6c62 0 198-27 260-27"/><path class="c54 o16" d="M34.3 532.7c62 0 198-44.5 260-44.5"/><path class="c63" d="M34.3 471.9c62 0 198 47.5 260 47.5"/><path class="c58" d="M34.3 508.9c62 0 198 24 260 24"/><path class="c64" d="M34.3 467.1c62 0 198 56 260 56"/><path class="c59" d="M34.3 551.7c62 0 198-111.5 260-111.5"/><path class="c54 o16" d="M34.3 532.7c62 0 198-39.5 260-39.5"/><path class="c67" d="M34.3 481.2c62 0 198 52.5 260 52.5"/><path class="c58" d="M34.3 508.9c62 0 198 2 260 2"/><path class="c59" d="M34.3 551.7c62 0 198-94 260-94"/><path class="c61 o15" d="M34.3 513.6c62 0 198 4.5 260 4.5"/><path class="c61 o15" d="M34.3 513.6c62 0 198 2.5 260 2.5"/><path class="c55 o15" d="M34.3 537.6c62 0 198-37 260-37"/><path class="c51 o17" d="M34.3 542.2c62 0 198-81.5 260-81.5"/><path class="c62 o17" d="M34.3 527.9c62 0 198-76.5 260-76.5"/><path class="c58" d="M34.3 508.9c62 0 198-61.5 260-61.5"/><path class="c57" d="M34.3 499.6c62 0 198 1 260 1"/><path class="c55 o15" d="M34.3 537.6c62 0 198-42 260-42"/><path class="c56 o16" d="M34.3 518.2c62 0 198-9 260-9"/><path class="c75" d="M34.3 449.2c62 0 198 104.5 260 104.5"/><path class="c58" d="M34.3 508.9c62 0 198-20 260-20"/><path class="c62 o17" d="M34.3 527.9c62 0 198-25.5 260-25.5"/><path class="c56 o16" d="M34.3 518.2c62 0 198-26 260-26"/><path class="c63" d="M34.3 471.9c62 0 198 59 260 59"/><path class="c52" d="M34.3 546.9c62 0 198-45 260-45"/><path class="c61 o15" d="M34.3 513.6c62 0 198-7.5 260-7.5"/><path class="c51 o17" d="M34.3 542.2c62 0 198-64 260-64"/><path class="c56 o16" d="M34.3 518.2c62 0 198-53 260-53"/><path class="c59" d="M34.3 551.7c62 0 198-83 260-83"/><path class="c66" d="M34.3 485.7c62 0 198 55 260 55"/><path class="c62 o20" d="M34.3 527.9c62 0 198-45 260-45"/><path class="c52" d="M34.3 546.9c62 0 198-92 260-92"/><path class="c63" d="M34.3 471.9c62 0 198 60 260 60"/><path class="c49 o20" d="M34.3 523c62 0 198-26.5 260-26.5"/><path class="c62 o17" d="M34.3 527.9c62 0 198-65.5 260-65.5"/><path class="c51 o13" d="M34.3 542.2c62 0 198-44.5 260-44.5"/><path class="c59" d="M34.3 551.7c62 0 198-89 260-89"/><path class="c58" d="M34.3 508.9c62 0 198-23.5 260-23.5"/><path class="c55 o15" d="M34.3 537.6c62 0 198-91 260-91"/><path class="c51 o13" d="M34.3 542.2c62 0 198-65.5 260-65.5"/><path class="c51 o13" d="M34.3 542.2c62 0 198-93.5 260-93.5"/><path class="c50" d="M34.3 504.1c62 0 198-35.5 260-35.5"/><path class="c51 o13" d="M34.3 542.2c62 0 198-97.5 260-97.5"/><path class="c56 o16" d="M34.3 518.2c62 0 198-35 260-35"/><path class="c49" d="M34.3 523c62 0 198 21 260 21"/><path class="c58" d="M34.3 508.9c62 0 198-26 260-26"/><path class="c53" d="M34.3 490c62 0 198 13.5 260 13.5"/><path class="c51 o17" d="M34.3 542.2c62 0 198-71.5 260-71.5"/><path class="c49 o17" d="M34.3 523c62 0 198-57.5 260-57.5"/><path class="c60" d="M34.3 494.9c62 0 198 18 260 18"/><path class="c58" d="M34.3 508.9c62 0 198 1 260 1"/><path class="c56 o16" d="M34.3 518.2c62 0 198-12.5 260-12.5"/><path class="c54 o16" d="M34.3 532.7c62 0 198-41 260-41"/><path class="c67" d="M34.3 481.2c62 0 198 43 260 43"/><path class="c66" d="M34.3 485.7c62 0 198 25 260 25"/><path class="c77" d="M34.3 435.6c62 0 198 102.5 260 102.5"/><path class="c60" d="M34.3 494.9c62 0 198 26.5 260 26.5"/><path class="c57" d="M34.3 499.6c62 0 198-26 260-26"/><path class="c61 o15" d="M34.3 513.6c62 0 198-41.5 260-41.5"/><path class="c59" d="M34.3 551.7c62 0 198-94.5 260-94.5"/><path class="c51 o13" d="M34.3 542.2c62 0 198-53.5 260-53.5"/><path class="c67" d="M34.3 481.2c62 0 198 65.5 260 65.5"/><path class="c59" d="M34.3 551.7c62 0 198-84 260-84"/><path class="c55 o15" d="M34.3 537.6c62 0 198-80 260-80"/><path class="c52" d="M34.3 546.9c62 0 198-87.5 260-87.5"/><path class="c55 o15" d="M34.3 537.6c62 0 198-93.5 260-93.5"/><path class="c61 o15" d="M34.3 513.6c62 0 198 15 260 15"/><path class="c50 o16" d="M34.3 504.1c62 0 198-11.5 260-11.5"/><path class="c62 o17" d="M34.3 527.9c62 0 198-57.5 260-57.5"/><path class="c52" d="M34.3 546.9c62 0 198-68.5 260-68.5"/><path class="c51 o13" d="M34.3 542.2c62 0 198-82.5 260-82.5"/><path class="c59" d="M34.3 551.7c62 0 198-86.5 260-86.5"/><path class="c58 o17" d="M34.3 508.9c62 0 198-39 260-39"/><path class="c51 o17" d="M34.3 542.2c62 0 198-65 260-65"/><path class="c61 o15" d="M34.3 513.6c62 0 198 12 260 12"/><path class="c52" d="M34.3 546.9c62 0 198-79 260-79"/><path class="c67" d="M34.3 481.2c62 0 198 44 260 44"/><path class="c61 o15" d="M34.3 513.6c62 0 198-3 260-3"/><path class="c58 o17" d="M34.3 508.9c62 0 198-7 260-7"/><path class="c55 o19" d="M34.3 537.6c62 0 198-51.5 260-51.5"/><path class="c58" d="M34.3 508.9c62 0 198 18.5 260 18.5"/><path class="c54 o16" d="M34.3 532.7c62 0 198-63 260-63"/><path class="c53" d="M34.3 490c62 0 198-10.5 260-10.5"/><path class="c52" d="M34.3 546.9c62 0 198-93.5 260-93.5"/><path class="c62 o17" d="M34.3 527.9c62 0 198-18.5 260-18.5"/><path class="c55 o15" d="M34.3 537.6c62 0 198-26.5 260-26.5"/><path class="c72" d="M34.3 556.5c62 0 198-103.5 260-103.5"/><path class="c56 o16" d="M34.3 518.2c62 0 198-10.5 260-10.5"/><path class="c70" d="M34.3 476.5c62 0 198 47 260 47"/><path class="c55 o15" d="M34.3 537.6c62 0 198-45 260-45"/><path class="c54 o16" d="M34.3 532.7c62 0 198-43.5 260-43.5"/><path class="c51 o13" d="M34.3 542.2c62 0 198-46.5 260-46.5"/><path class="c61 o15" d="M34.3 513.6c62 0 198 17 260 17"/><path class="c54 o16" d="M34.3 532.7c62 0 198-44 260-44"/><path class="c57" d="M34.3 499.6c62 0 198-63 260-63"/><path class="c64" d="M34.3 467.1c62 0 198 54.5 260 54.5"/><path class="c56 o19" d="M34.3 518.2c62 0 198-24 260-24"/><path class="c66" d="M34.3 485.7c62 0 198 72.5 260 72.5"/><path class="c52" d="M34.3 546.9c62 0 198-70 260-70"/><path class="c57" d="M34.3 499.6c62 0 198 47 260 47"/><path class="c60" d="M34.3 494.9c62 0 198 15 260 15"/><path class="c57" d="M34.3 499.6c62 0 198 .5 260 .5"/><path class="c51 o13" d="M34.3 542.2c62 0 198-53 260-53"/><path class="c70" d="M34.3 476.5c62 0 198 53.5 260 53.5"/><path class="c58" d="M34.3 508.9c62 0 198 8 260 8"/><path class="c54 o16" d="M34.3 532.7c62 0 198-72 260-72"/><path class="c52" d="M34.3 546.9c62 0 198-94 260-94"/><path class="c49 o17" d="M34.3 523c62 0 198-19.5 260-19.5"/><path class="c49 o17" d="M34.3 523c62 0 198-13 260-13"/><path class="c55 o15" d="M34.3 537.6c62 0 198-91.5 260-91.5"/><path class="c60" d="M34.3 494.9c62 0 198 30.5 260 30.5"/><path class="c62 o17" d="M34.3 527.9c62 0 198-50.5 260-50.5"/><path class="c74" d="M34.3 453.5c62 0 198 63 260 63"/><path class="c54 o19" d="M34.3 532.7c62 0 198-67.5 260-67.5"/><path class="c54 o16" d="M34.3 532.7c62 0 198-71 260-71"/><path class="c54 o19" d="M34.3 532.7c62 0 198-48 260-48"/><path class="c56 o19" d="M34.3 518.2c62 0 198-17 260-17"/><path class="c55 o15" d="M34.3 537.6c62 0 198-39 260-39"/><path class="c49 o17" d="M34.3 523c62 0 198-32 260-32"/><path class="c53" d="M34.3 490c62 0 198 30.5 260 30.5"/><path class="c56 o16" d="M34.3 518.2c62 0 198-14 260-14"/><path class="c67" d="M34.3 481.2c62 0 198 15 260 15"/><path class="c70" d="M34.3 476.5c62 0 198 61 260 61"/><path class="c71" d="M34.3 458.2c62 0 198 72.5 260 72.5"/><path class="c58" d="M34.3 508.9c62 0 198 .5 260 .5"/><path class="c59" d="M34.3 551.7c62 0 198-78 260-78"/><path class="c54 o19" d="M34.3 532.7c62 0 198-56.5 260-56.5"/><path class="c54 o16" d="M34.3 532.7c62 0 198-55.5 260-55.5"/><path class="c58" d="M34.3 508.9c62 0 198-33 260-33"/><path class="c61 o15" d="M34.3 513.6c62 0 198-22 260-22"/><path class="c52" d="M34.3 546.9c62 0 198-90 260-90"/><path class="c51 o13" d="M34.3 542.2c62 0 198-89 260-89"/><path class="c60" d="M34.3 494.9c62 0 198-7.5 260-7.5"/><path class="c74" d="M34.3 453.5c62 0 198 87.5 260 87.5"/><path class="c62 o17" d="M34.3 527.9c62 0 198-55 260-55"/><path class="c51 o17" d="M34.3 542.2c62 0 198-88 260-88"/><path class="c58" d="M34.3 508.9c62 0 198 6 260 6"/><path class="c54 o16" d="M34.3 532.7c62 0 198-29.5 260-29.5"/><path class="c58" d="M34.3 508.9c62 0 198-44 260-44"/><path class="c62 o17" d="M34.3 527.9c62 0 198-47.5 260-47.5"/><path class="c63" d="M34.3 471.9c62 0 198 82.5 260 82.5"/><path class="c72" d="M34.3 556.5c62 0 198-31 260-31"/><path class="c49 o17" d="M34.3 523c62 0 198-41.5 260-41.5"/><path class="c54 o16" d="M34.3 532.7c62 0 198-33.5 260-33.5"/><path class="c50" d="M34.3 504.1c62 0 198-47.5 260-47.5"/><path class="c56 o16" d="M34.3 518.2c62 0 198-13 260-13"/><path class="c62 o20" d="M34.3 527.9c62 0 198-61 260-61"/><path class="c56 o16" d="M34.3 518.2c62 0 198-44 260-44"/><path class="c49 o17" d="M34.3 523c62 0 198-63 260-63"/><path class="c61 o19" d="M34.3 513.6c62 0 198-26 260-26"/><path class="c49 o17" d="M34.3 523c62 0 198-49 260-49"/><path class="c52" d="M34.3 546.9c62 0 198-85.5 260-85.5"/><path class="c57" d="M34.3 499.6c62 0 198-9 260-9"/><path class="c60" d="M34.3 494.9c62 0 198 23.5 260 23.5"/><path class="c58" d="M34.3 508.9c62 0 198 15.5 260 15.5"/><path class="c56 o16" d="M34.3 518.2c62 0 198-51.5 260-51.5"/><path class="c50" d="M34.3 504.1c62 0 198-14 260-14"/><path class="c58" d="M34.3 508.9c62 0 198-36.5 260-36.5"/><path class="c57" d="M34.3 499.6c62 0 198-13.5 260-13.5"/><path class="c56 o16" d="M34.3 518.2c62 0 198-52.5 260-52.5"/><path class="c72" d="M34.3 556.5c62 0 198-105 260-105"/><path class="c72" d="M34.3 556.5c62 0 198-52 260-52"/><path class="c74" d="M34.3 453.5c62 0 198 78.5 260 78.5"/><path class="c54 o16" d="M34.3 532.7c62 0 198-46 260-46"/><path class="c52" d="M34.3 546.9c62 0 198-89 260-89"/><path class="c49 o20" d="M34.3 523c62 0 198-30.5 260-30.5"/><path class="c59" d="M34.3 551.7c62 0 198-63.5 260-63.5"/><path class="c55 o15" d="M34.3 537.6c62 0 198-56 260-56"/><path class="c52" d="M34.3 546.9c62 0 198-49 260-49"/><path class="c52" d="M34.3 546.9c62 0 198-72 260-72"/><path class="c61 o15" d="M34.3 513.6c62 0 198 3.5 260 3.5"/><path class="c58" d="M34.3 508.9c62 0 198-42.5 260-42.5"/><path class="c61 o15" d="M34.3 513.6c62 0 198-40.5 260-40.5"/><path class="c57" d="M34.3 499.6c62 0 198 27.5 260 27.5"/><path class="c61 o15" d="M34.3 513.6c62 0 198-3.5 260-3.5"/><path class="c74" d="M34.3 453.5c62 0 198 68 260 68"/><path class="c54 o19" d="M34.3 532.7c62 0 198-62.5 260-62.5"/><path class="c56 o16" d="M34.3 518.2c62 0 198-75 260-75"/><path class="c50" d="M34.3 504.1c62 0 198 35 260 35"/><path class="c54 o16" d="M34.3 532.7c62 0 198-78.5 260-78.5"/><path class="c58 o17" d="M34.3 508.9c62 0 198-21 260-21"/><path class="c49 o17" d="M34.3 523c62 0 198 2.5 260 2.5"/><path class="c60" d="M34.3 494.9c62 0 198 5.5 260 5.5"/><path class="c62 o17" d="M34.3 527.9c62 0 198-33 260-33"/><path class="c62 o17" d="M34.3 527.9c62 0 198-82.5 260-82.5"/><path class="c49 o17" d="M34.3 523c62 0 198-42.5 260-42.5"/><path class="c49 o17" d="M34.3 523c62 0 198-78 260-78"/><path class="c56 o16" d="M34.3 518.2c62 0 198-37 260-37"/><path class="c66" d="M34.3 485.7c62 0 198 41 260 41"/><path class="c59" d="M34.3 551.7c62 0 198-82 260-82"/><path class="c57" d="M34.3 499.6c62 0 198-16 260-16"/><path class="c58" d="M34.3 508.9c62 0 198 12 260 12"/><path class="c71" d="M34.3 458.2c62 0 198 62 260 62"/><path class="c49 o17" d="M34.3 523c62 0 198-84 260-84"/><path class="c59" d="M34.3 551.7c62 0 198-107.5 260-107.5"/><path class="c51 o13" d="M34.3 542.2c62 0 198-84.5 260-84.5"/><path class="c62 o20" d="M34.3 527.9c62 0 198-51.5 260-51.5"/><path class="c59" d="M34.3 551.7c62 0 198-80.5 260-80.5"/><path class="c56 o16" d="M34.3 518.2c62 0 198-40.5 260-40.5"/><path class="c50" d="M34.3 504.1c62 0 198 32 260 32"/><path class="c50" d="M34.3 504.1c62 0 198 14.5 260 14.5"/><path class="c50" d="M34.3 504.1c62 0 198-6 260-6"/><path class="c61 o15" d="M34.3 513.6c62 0 198-37 260-37"/><path class="c61 o15" d="M34.3 513.6c62 0 198-17.5 260-17.5"/><path class="c61 o15" d="M34.3 513.6c62 0 198-7 260-7"/><path class="c62 o17" d="M34.3 527.9c62 0 198-55.5 260-55.5"/><path class="c61 o15" d="M34.3 513.6c62 0 198-24 260-24"/><path class="c54 o16" d="M34.3 532.7c62 0 198-55 260-55"/><path class="c57" d="M34.3 499.6c62 0 198-11 260-11"/><path class="c58" d="M34.3 508.9c62 0 198-50 260-50"/><path class="c49 o17" d="M34.3 523c62 0 198-34 260-34"/><path class="c50" d="M34.3 504.1c62 0 198 5 260 5"/><path class="c69" d="M34.3 462.6c62 0 198 74.5 260 74.5"/><path class="c54 o16" d="M34.3 532.7c62 0 198-30.5 260-30.5"/><path class="c62 o20" d="M34.3 527.9c62 0 198-47 260-47"/><path class="c66" d="M34.3 485.7c62 0 198 52 260 52"/><path class="c54 o16" d="M34.3 532.7c62 0 198-76 260-76"/><path class="c60" d="M34.3 494.9c62 0 198 21 260 21"/><path class="c51 o13" d="M34.3 542.2c62 0 198-61.5 260-61.5"/><path class="c56 o16" d="M34.3 518.2c62 0 198-59 260-59"/><path class="c58" d="M34.3 508.9c62 0 198-15 260-15"/><path class="c66" d="M34.3 485.7c62 0 198 43.5 260 43.5"/><path class="c49 o17" d="M34.3 523c62 0 198-28 260-28"/><path class="c62 o17" d="M34.3 527.9c62 0 198-74.5 260-74.5"/><path class="c61 o15" d="M34.3 513.6c62 0 198-35 260-35"/><path class="c58" d="M34.3 508.9c62 0 198-12.5 260-12.5"/><path class="c79" d="M34.3 422.1c62 0 198 138 260 138"/><path class="c61 o19" d="M34.3 513.6c62 0 198-30 260-30"/><path class="c53" d="M34.3 490c62 0 198 22 260 22"/><path class="c64" d="M34.3 467.1c62 0 198 60.5 260 60.5"/><path class="c62 o17" d="M34.3 527.9c62 0 198-29.5 260-29.5"/><path class="c66" d="M34.3 485.7c62 0 198 21 260 21"/><path class="c50" d="M34.3 504.1c62 0 198-15.5 260-15.5"/><path class="c51 o13" d="M34.3 542.2c62 0 198-80.5 260-80.5"/><path class="c51 o13" d="M34.3 542.2c62 0 198-49 260-49"/><path class="c66" d="M34.3 485.7c62 0 198 47.5 260 47.5"/><path class="c56 o16" d="M34.3 518.2c62 0 198-25.5 260-25.5"/><path class="c61 o15" d="M34.3 513.6c62 0 198-41 260-41"/><path class="c58" d="M34.3 508.9c62 0 198-25 260-25"/><path class="c58" d="M34.3 508.9c62 0 198-35 260-35"/><path class="c52" d="M34.3 546.9c62 0 198-85 260-85"/><path class="c61 o19" d="M34.3 513.6c62 0 198-22.5 260-22.5"/><path class="c51 o17" d="M34.3 542.2c62 0 198-58.5 260-58.5"/><path class="c58" d="M34.3 508.9c62 0 198 11 260 11"/><path class="c59" d="M34.3 551.7c62 0 198-85.5 260-85.5"/><path class="c72" d="M34.3 556.5c62 0 198-106 260-106"/><path class="c79" d="M34.3 422.1c62 0 198 128 260 128"/><path class="c56 o16" d="M34.3 518.2c62 0 198 5 260 5"/><path class="c61 o19" d="M34.3 513.6c62 0 198-29 260-29"/><path class="c61 o15" d="M34.3 513.6c62 0 198-39 260-39"/><path class="c61 o15" d="M34.3 513.6c62 0 198 23 260 23"/><path class="c61 o15" d="M34.3 513.6c62 0 198 7.5 260 7.5"/><path class="c61 o15" d="M34.3 513.6c62 0 198-8 260-8"/><path class="c49 o17" d="M34.3 523c62 0 198-20 260-20"/><path class="c55 o15" d="M34.3 537.6c62 0 198-34 260-34"/><path class="c66" d="M34.3 485.7c62 0 198 43 260 43"/><path class="c55 o15" d="M34.3 537.6c62 0 198-88.5 260-88.5"/><path class="c49 o17" d="M34.3 523c62 0 198-23 260-23"/><path class="c49 o17" d="M34.3 523c62 0 198-17.5 260-17.5"/><path class="c69" d="M34.3 462.6c62 0 198 90 260 90"/><path class="c52" d="M34.3 546.9c62 0 198-106.5 260-106.5"/><path class="c49 o17" d="M34.3 523c62 0 198-31 260-31"/><path class="c67" d="M34.3 481.2c62 0 198 32.5 260 32.5"/><path class="c50" d="M34.3 504.1c62 0 198-21.5 260-21.5"/><path class="c51 o13" d="M34.3 542.2c62 0 198-57 260-57"/><path class="c62 o17" d="M34.3 527.9c62 0 198-60.5 260-60.5"/><path class="c55 o15" d="M34.3 537.6c62 0 198-98.5 260-98.5"/><path class="c58" d="M34.3 508.9c62 0 198-10.5 260-10.5"/><path class="c58" d="M34.3 508.9c62 0 198-1.5 260-1.5"/><path class="c54 o16" d="M34.3 532.7c62 0 198-32.5 260-32.5"/><path class="c63" d="M34.3 471.9c62 0 198 64.5 260 64.5"/><path class="c61 o15" d="M34.3 513.6c62 0 198-4 260-4"/><path class="c49 o17" d="M34.3 523c62 0 198-31.5 260-31.5"/><path class="c66" d="M34.3 485.7c62 0 198-29.5 260-29.5"/><path class="c56 o19" d="M34.3 518.2c62 0 198-47 260-47"/><path class="c49 o20" d="M34.3 523c62 0 198-52.5 260-52.5"/><path class="c52" d="M34.3 546.9c62 0 198-67.5 260-67.5"/><path class="c54 o16" d="M34.3 532.7c62 0 198-59 260-59"/><path class="c57" d="M34.3 499.6c62 0 198-8 260-8"/><path class="c61 o15" d="M34.3 513.6c62 0 198-45.5 260-45.5"/><path class="c80" d="M34.3 426.7c62 0 198 116.5 260 116.5"/><path class="c49 o17" d="M34.3 523c62 0 198-6 260-6"/><path class="c58" d="M34.3 508.9c62 0 198 8.5 260 8.5"/><path class="c62 o17" d="M34.3 527.9c62 0 198-20 260-20"/><path class="c72" d="M34.3 556.5c62 0 198-101.5 260-101.5"/><path class="c55 o15" d="M34.3 537.6c62 0 198-94.5 260-94.5"/><path class="c49 o17" d="M34.3 523c62 0 198-57 260-57"/><path class="c66" d="M34.3 485.7c62 0 198 28 260 28"/><path class="c54 o16" d="M34.3 532.7c62 0 198-47 260-47"/><path class="c54 o16" d="M34.3 532.7c62 0 198-8 260-8"/><path class="c50" d="M34.3 504.1c62 0 198 1 260 1"/><path class="c49 o17" d="M34.3 523c62 0 198-60.5 260-60.5"/><path class="c52" d="M34.3 546.9c62 0 198-64.5 260-64.5"/><path class="c52" d="M34.3 546.9c62 0 198-110.5 260-110.5"/><path class="c57" d="M34.3 499.6c62 0 198-10.5 260-10.5"/><path class="c60" d="M34.3 494.9c62 0 198-11.5 260-11.5"/><path class="c61 o15" d="M34.3 513.6c62 0 198-14.5 260-14.5"/><path class="c49 o17" d="M34.3 523c62 0 198-55.5 260-55.5"/><path class="c62 o17" d="M34.3 527.9c62 0 198-2 260-2"/><path class="c70" d="M34.3 476.5c62 0 198 48 260 48"/><path class="c63" d="M34.3 471.9c62 0 198 51 260 51"/><path class="c63" d="M34.3 471.9c62 0 198 80 260 80"/><path class="c61 o15" d="M34.3 513.6c62 0 198-46.5 260-46.5"/><path class="c60" d="M34.3 494.9c62 0 198-1 260-1"/><path class="c62 o17" d="M34.3 527.9c62 0 198-56 260-56"/><path class="c55 o15" d="M34.3 537.6c62 0 198-39.5 260-39.5"/><path class="c59" d="M34.3 551.7c62 0 198-105 260-105"/><path class="c54 o16" d="M34.3 532.7c62 0 198-42.5 260-42.5"/><path class="c58" d="M34.3 508.9c62 0 198 16 260 16"/><path class="c76" d="M34.3 440.1c62 0 198 104.5 260 104.5"/><path class="c61 o15" d="M34.3 513.6c62 0 198-38 260-38"/><path class="c56 o16" d="M34.3 518.2c62 0 198-41.5 260-41.5"/><path class="c68" d="M34.3 444.6c62 0 198 95 260 95"/><path class="c64" d="M34.3 467.1c62 0 198 57.5 260 57.5"/><path class="c72" d="M34.3 556.5c62 0 198-108 260-108"/><path class="c51 o17" d="M34.3 542.2c62 0 198-74.5 260-74.5"/><path class="c50" d="M34.3 504.1c62 0 198-10 260-10"/><path class="c59" d="M34.3 551.7c62 0 198-66.5 260-66.5"/><path class="c49 o17" d="M34.3 523c62 0 198-69.5 260-69.5"/><path class="c53" d="M34.3 490c62 0 198 9.5 260 9.5"/><path class="c67" d="M34.3 481.2c62 0 198 23 260 23"/><path class="c62 o20" d="M34.3 527.9c62 0 198-39 260-39"/><path class="c50" d="M34.3 504.1c62 0 198 19 260 19"/><path class="c57" d="M34.3 499.6c62 0 198 20 260 20"/><path class="c55 o15" d="M34.3 537.6c62 0 198-47 260-47"/><path class="c58" d="M34.3 508.9c62 0 198-4 260-4"/><path class="c50" d="M34.3 504.1c62 0 198 41.5 260 41.5"/><path class="c50" d="M34.3 504.1c62 0 198-32.5 260-32.5"/><path class="c49 o17" d="M34.3 523c62 0 198-56.5 260-56.5"/><path class="c61 o15" d="M34.3 513.6c62 0 198-19.5 260-19.5"/><path class="c55 o15" d="M34.3 537.6c62 0 198-43 260-43"/><path class="c60" d="M34.3 494.9c62 0 198 10.5 260 10.5"/><path class="c53" d="M34.3 490c62 0 198 1 260 1"/><path class="c56 o16" d="M34.3 518.2c62 0 198-19.5 260-19.5"/><path class="c61 o15" d="M34.3 513.6c62 0 198-16.5 260-16.5"/><path class="c52" d="M34.3 546.9c62 0 198-105.5 260-105.5"/><path class="c50" d="M34.3 504.1c62 0 198 30.5 260 30.5"/><path class="c52" d="M34.3 546.9c62 0 198-48 260-48"/><path class="c63" d="M34.3 471.9c62 0 198 77 260 77"/><path class="c57" d="M34.3 499.6c62 0 198-2 260-2"/><path class="c54 o16" d="M34.3 532.7c62 0 198-67 260-67"/><path class="c64" d="M34.3 467.1c62 0 198 51 260 51"/><path class="c67 o17" d="M34.3 481.2c62 0 198 39 260 39"/><path class="c61 o15" d="M34.3 513.6c62 0 198-53 260-53"/><path class="c57" d="M34.3 499.6c62 0 198 34 260 34"/><path class="c70" d="M34.3 476.5c62 0 198 35 260 35"/><path class="c62 o17" d="M34.3 527.9c62 0 198-48.5 260-48.5"/><path class="c61 o15" d="M34.3 513.6c62 0 198-63.5 260-63.5"/><path class="c72" d="M34.3 556.5c62 0 198-121 260-121"/><path class="c58" d="M34.3 508.9c62 0 198 4.5 260 4.5"/><path class="c59" d="M34.3 551.7c62 0 198-103.5 260-103.5"/><path class="c55 o15" d="M34.3 537.6c62 0 198-66 260-66"/><path class="c54 o19" d="M34.3 532.7c62 0 198-53.5 260-53.5"/><path class="c55 o15" d="M34.3 537.6c62 0 198-60 260-60"/><path class="c61 o15" d="M34.3 513.6c62 0 198-10 260-10"/><path class="c62 o17" d="M34.3 527.9c62 0 198-30 260-30"/><path class="c51 o13" d="M34.3 542.2c62 0 198-55.5 260-55.5"/><path class="c52" d="M34.3 546.9c62 0 198-60.5 260-60.5"/><path class="c76" d="M34.3 440.1c62 0 198 93 260 93"/><path class="c59" d="M34.3 551.7c62 0 198-97.5 260-97.5"/><path class="c57" d="M34.3 499.6c62 0 198 3 260 3"/><path class="c56 o16" d="M34.3 518.2c62 0 198-11 260-11"/><path class="c55 o15" d="M34.3 537.6c62 0 198-78.5 260-78.5"/><path class="c58" d="M34.3 508.9c62 0 198-24.5 260-24.5"/><path class="c55 o15" d="M34.3 537.6c62 0 198-51 260-51"/><path class="c53" d="M34.3 490c62 0 198 7 260 7"/><path class="c62 o17" d="M34.3 527.9c62 0 198-62.5 260-62.5"/><path class="c62 o17" d="M34.3 527.9c62 0 198-5 260-5"/><path class="c52 o16" d="M34.3 546.9c62 0 198-77.5 260-77.5"/><path class="c63" d="M34.3 471.9c62 0 198 61 260 61"/><path class="c62 o17" d="M34.3 527.9c62 0 198-61.5 260-61.5"/><path class="c66" d="M34.3 485.7c62 0 198 58.5 260 58.5"/><path class="c57" d="M34.3 499.6c62 0 198-22.5 260-22.5"/><path class="c60" d="M34.3 494.9c62 0 198-14 260-14"/><path class="c51 o13" d="M34.3 542.2c62 0 198-59.5 260-59.5"/><path class="c56 o16" d="M34.3 518.2c62 0 198-30 260-30"/><path class="c54 o16" d="M34.3 532.7c62 0 198-37 260-37"/><path class="c61 o15" d="M34.3 513.6c62 0 198-27 260-27"/><path class="c57" d="M34.3 499.6c62 0 198-37.5 260-37.5"/><path class="c62 o17" d="M34.3 527.9c62 0 198-85 260-85"/><path class="c64" d="M34.3 467.1c62 0 198 35 260 35"/><path class="c58" d="M34.3 508.9c62 0 198-20.5 260-20.5"/><path class="c54 o16" d="M34.3 532.7c62 0 198-36.5 260-36.5"/><path class="c61 o19" d="M34.3 513.6c62 0 198-34 260-34"/><path class="c56 o16" d="M34.3 518.2c62 0 198-43.5 260-43.5"/><path class="c62 o17" d="M34.3 527.9c62 0 198-44.5 260-44.5"/><path class="c58" d="M34.3 508.9c62 0 198-28.5 260-28.5"/><path class="c56 o16" d="M34.3 518.2c62 0 198-33.5 260-33.5"/><path class="c54 o16" d="M34.3 532.7c62 0 198-87.5 260-87.5"/><path class="c60" d="M34.3 494.9c62 0 198 12.5 260 12.5"/><path class="c58" d="M34.3 508.9c62 0 198-7.5 260-7.5"/><path class="c57" d="M34.3 499.6c62 0 198 17.5 260 17.5"/><path class="c56" d="M34.3 518.2c62 0 198 32.5 260 32.5"/><path class="c51 o13" d="M34.3 542.2c62 0 198-51.5 260-51.5"/><path class="c70" d="M34.3 476.5c62 0 198 65.5 260 65.5"/><path class="c61 o15" d="M34.3 513.6c62 0 198-1 260-1"/><path class="c61 o15" d="M34.3 513.6c62 0 198-20.5 260-20.5"/><path class="c52" d="M34.3 546.9c62 0 198-59.5 260-59.5"/><path class="c51 o13" d="M34.3 542.2c62 0 198-71 260-71"/><path class="c60" d="M34.3 494.9c62 0 198-5 260-5"/><path class="c52" d="M34.3 546.9c62 0 198-79.5 260-79.5"/><path class="c60" d="M34.3 494.9c62 0 198 3.5 260 3.5"/><path class="c55 o15" d="M34.3 537.6c62 0 198-32 260-32"/><path class="c57" d="M34.3 499.6c62 0 198-2.5 260-2.5"/><path class="c58" d="M34.3 508.9c62 0 198-5 260-5"/><path class="c56 o16" d="M34.3 518.2c62 0 198-23.5 260-23.5"/><path class="c56 o16" d="M34.3 518.2c62 0 198-32 260-32"/><path class="c62 o20" d="M34.3 527.9c62 0 198-46 260-46"/><path class="c56 o16" d="M34.3 518.2c62 0 198-15 260-15"/><path class="c60" d="M34.3 494.9c62 0 198 42 260 42"/><path class="c49 o17" d="M34.3 523c62 0 198-24.5 260-24.5"/><path class="c60" d="M34.3 494.9c62 0 198 7.5 260 7.5"/><path class="c64" d="M34.3 467.1c62 0 198 87.5 260 87.5"/><path class="c61 o15" d="M34.3 513.6c62 0 198-11.5 260-11.5"/><path class="c59" d="M34.3 551.7c62 0 198-71 260-71"/><path class="c53" d="M34.3 490c62 0 198 10.5 260 10.5"/><path class="c51 o13" d="M34.3 542.2c62 0 198-54 260-54"/><path class="c49 o20" d="M34.3 523c62 0 198-61.5 260-61.5"/><path class="c56 o19" d="M34.3 518.2c62 0 198-31 260-31"/><path class="c58" d="M34.3 508.9c62 0 198-18 260-18"/><path class="c54 o16" d="M34.3 532.7c62 0 198-17.5 260-17.5"/><path class="c62 o17" d="M34.3 527.9c62 0 198-22.5 260-22.5"/><path class="c50" d="M34.3 504.1c62 0 198 14 260 14"/><path class="c55 o15" d="M34.3 537.6c62 0 198-92.5 260-92.5"/><path class="c59" d="M34.3 551.7c62 0 198-87.5 260-87.5"/><path class="c56 o16" d="M34.3 518.2c62 0 198-39 260-39"/><path class="c52 o16" d="M34.3 546.9c62 0 198-72.5 260-72.5"/><path class="c56 o16" d="M34.3 518.2c62 0 198 1.5 260 1.5"/><path class="c49 o17" d="M34.3 523c62 0 198-50.5 260-50.5"/><path class="c70" d="M34.3 476.5c62 0 198 56 260 56"/><path class="c49 o17" d="M34.3 523c62 0 198-21 260-21"/><path class="c57" d="M34.3 499.6c62 0 198 24.5 260 24.5"/><path class="c51" d="M34.3 542.2c62 0 198-116 260-116"/><path class="c70" d="M34.3 476.5c62 0 198 13 260 13"/><path class="c60" d="M34.3 494.9c62 0 198 31.5 260 31.5"/><path class="c61 o15" d="M34.3 513.6c62 0 198-26.5 260-26.5"/><path class="c52" d="M34.3 546.9c62 0 198-98 260-98"/><path class="c49 o17" d="M34.3 523c62 0 198-54.5 260-54.5"/><path class="c54 o16" d="M34.3 532.7c62 0 198-49 260-49"/><path class="c53" d="M34.3 490c62 0 198 58 260 58"/><path class="c58" d="M34.3 508.9c62 0 198 3 260 3"/><path class="c49 o17" d="M34.3 523c62 0 198-66 260-66"/><path class="c61 o15" d="M34.3 513.6c62 0 198-37.5 260-37.5"/><path class="c54 o16" d="M34.3 532.7c62 0 198-43 260-43"/><path class="c64" d="M34.3 467.1c62 0 198 66 260 66"/><path class="c72" d="M34.3 556.5c62 0 198-112 260-112"/><path class="c50" d="M34.3 504.1c62 0 198 3 260 3"/><path class="c54 o16" d="M34.3 532.7c62 0 198-60.5 260-60.5"/><path class="c57" d="M34.3 499.6c62 0 198-23.5 260-23.5"/><path class="c55 o15" d="M34.3 537.6c62 0 198-37.5 260-37.5"/><path class="c52" d="M34.3 546.9c62 0 198-88.5 260-88.5"/><path class="c51 o13" d="M34.3 542.2c62 0 198-43 260-43"/><path class="c54 o16" d="M34.3 532.7c62 0 198-37.5 260-37.5"/><path class="c64" d="M34.3 467.1c62 0 198 59 260 59"/><path class="c52" d="M34.3 546.9c62 0 198-103.5 260-103.5"/><path class="c54 o16" d="M34.3 532.7c62 0 198-58 260-58"/><path class="c63" d="M34.3 471.9c62 0 198 48 260 48"/><path class="c60" d="M34.3 494.9c62 0 198 46.5 260 46.5"/><path class="c53" d="M34.3 490c62 0 198 47.5 260 47.5"/><path class="c58" d="M34.3 508.9c62 0 198-12 260-12"/><path class="c51 o17" d="M34.3 542.2c62 0 198-67 260-67"/><path class="c58" d="M34.3 508.9c62 0 198-8 260-8"/><path class="c55 o15" d="M34.3 537.6c62 0 198-47.5 260-47.5"/><path class="c64" d="M34.3 467.1c62 0 198 30 260 30"/><path class="c57" d="M34.3 499.6c62 0 198-.5 260-.5"/><path class="c61 o15" d="M34.3 513.6c62 0 198-32.5 260-32.5"/><path class="c56 o16" d="M34.3 518.2c62 0 198-24.5 260-24.5"/><path class="c67" d="M34.3 481.2c62 0 198 30 260 30"/><path class="c51 o13" d="M34.3 542.2c62 0 198-93 260-93"/><path class="c57" d="M34.3 499.6c62 0 198-4 260-4"/><path class="c72" d="M34.3 556.5c62 0 198-131.5 260-131.5"/><path class="c66" d="M34.3 485.7c62 0 198 34.5 260 34.5"/><path class="c52" d="M34.3 546.9c62 0 198-76 260-76"/><path class="c51 o13" d="M34.3 542.2c62 0 198-81 260-81"/><path class="c54 o16" d="M34.3 532.7c62 0 198-94 260-94"/><path class="c56 o16" d="M34.3 518.2c62 0 198-66 260-66"/><path class="c62 o17" d="M34.3 527.9c62 0 198-53 260-53"/><path class="c50" d="M34.3 504.1c62 0 198-2 260-2"/><path class="c54 o16" d="M34.3 532.7c62 0 198-40.5 260-40.5"/><path class="c50" d="M34.3 504.1c62 0 198 25.5 260 25.5"/><path class="c61 o15" d="M34.3 513.6c62 0 198-43.5 260-43.5"/><path class="c61 o15" d="M34.3 513.6c62 0 198-5 260-5"/><path class="c49 o17" d="M34.3 523c62 0 198-25.5 260-25.5"/><path class="c56" d="M34.3 518.2c62 0 198 25.5 260 25.5"/><path class="c61 o15" d="M34.3 513.6c62 0 198-48.5 260-48.5"/><path class="c58" d="M34.3 508.9c62 0 198-17.5 260-17.5"/><path class="c51 o13" d="M34.3 542.2c62 0 198-52 260-52"/><path class="c49 o17" d="M34.3 523c62 0 198-52 260-52"/><path class="c57" d="M34.3 499.6c62 0 198 45 260 45"/><path class="c53" d="M34.3 490c62 0 198 14 260 14"/><path class="c50" d="M34.3 504.1c62 0 198-8 260-8"/><path class="c55" d="M34.3 537.6c62 0 198-4 260-4"/><path class="c56 o16" d="M34.3 518.2c62 0 198 9 260 9"/><path class="c55 o15" d="M34.3 537.6c62 0 198-65 260-65"/><path class="c55 o15" d="M34.3 537.6c62 0 198-44 260-44"/><path class="c64" d="M34.3 467.1c62 0 198 63 260 63"/><path class="c49 o17" d="M34.3 523c62 0 198-29 260-29"/><path class="c54 o16" d="M34.3 532.7c62 0 198-25.5 260-25.5"/><path class="c57" d="M34.3 499.6c62 0 198 10.5 260 10.5"/><path class="c51 o13" d="M34.3 542.2c62 0 198-47.5 260-47.5"/><path class="c49 o17" d="M34.3 523c62 0 198-64 260-64"/><path class="c59" d="M34.3 551.7c62 0 198-101.5 260-101.5"/><path class="c59" d="M34.3 551.7c62 0 198-88.5 260-88.5"/><path class="c72" d="M34.3 556.5c62 0 198-106.5 260-106.5"/><path class="c51 o13" d="M34.3 542.2c62 0 198-55 260-55"/><path class="c50" d="M34.3 504.1c62 0 198 10.5 260 10.5"/><path class="c49 o17" d="M34.3 523c62 0 198-9 260-9"/><path class="c50" d="M34.3 504.1c62 0 198 7 260 7"/><path class="c69" d="M34.3 462.6c62 0 198 76.5 260 76.5"/><path class="c55" d="M34.3 537.6c62 0 198-123 260-123"/><path class="c49 o20" d="M34.3 523c62 0 198-39 260-39"/><path class="c60" d="M34.3 494.9c62 0 198-43.5 260-43.5"/><path class="c70" d="M34.3 476.5c62 0 198 31 260 31"/><path class="c54 o16" d="M34.3 532.7c62 0 198-40 260-40"/><path class="c52" d="M34.3 546.9c62 0 198-52.5 260-52.5"/><path class="c52" d="M34.3 546.9c62 0 198-75.5 260-75.5"/><path class="c58" d="M34.3 508.9c62 0 198-32.5 260-32.5"/><path class="c60" d="M34.3 494.9c62 0 198-30.5 260-30.5"/><path class="c49 o17" d="M34.3 523c62 0 198-50 260-50"/><path class="c61 o15" d="M34.3 513.6c62 0 198-13.5 260-13.5"/><path class="c60" d="M34.3 494.9c62 0 198-3 260-3"/><path class="c70" d="M34.3 476.5c62 0 198 50 260 50"/><path class="c74" d="M34.3 453.5c62 0 198 112 260 112"/><path class="c58" d="M34.3 508.9c62 0 198-21.5 260-21.5"/><path class="c62 o17" d="M34.3 527.9c62 0 198-70 260-70"/><path class="c49 o17" d="M34.3 523c62 0 198-20.5 260-20.5"/><path class="c61 o15" d="M34.3 513.6c62 0 198-29.5 260-29.5"/><path class="c61" d="M34.3 513.6c62 0 198-82 260-82"/><path class="c52" d="M34.3 546.9c62 0 198-96 260-96"/><path class="c50" d="M34.3 504.1c62 0 198-23.5 260-23.5"/><path class="c51 o13" d="M34.3 542.2c62 0 198-54.5 260-54.5"/><path class="c57" d="M34.3 499.6c62 0 198 30.5 260 30.5"/><path class="c53" d="M34.3 490c62 0 198 2 260 2"/><path class="c50" d="M34.3 504.1c62 0 198 .5 260 .5"/><path class="c50" d="M34.3 504.1c62 0 198 13 260 13"/><path class="c49 o17" d="M34.3 523c62 0 198-70.5 260-70.5"/><path class="c54 o16" d="M34.3 532.7c62 0 198-34 260-34"/><path class="c57" d="M34.3 499.6c62 0 198-6.5 260-6.5"/><path class="c57" d="M34.3 499.6c62 0 198 42.5 260 42.5"/><path class="c53" d="M34.3 490c62 0 198 36.5 260 36.5"/><path class="c80" d="M34.3 426.7c62 0 198 120 260 120"/><path class="c62 o17" d="M34.3 527.9c62 0 198-78.5 260-78.5"/><path class="c66" d="M34.3 485.7c62 0 198 31.5 260 31.5"/><path class="c63" d="M34.3 471.9c62 0 198 27.5 260 27.5"/><path class="c51 o13" d="M34.3 542.2c62 0 198-39.5 260-39.5"/><path class="c58" d="M34.3 508.9c62 0 198 35 260 35"/><path class="c54 o16" d="M34.3 532.7c62 0 198-29 260-29"/><path class="c62 o17" d="M34.3 527.9c62 0 198-31.5 260-31.5"/><path class="c56" d="M34.3 518.2c62 0 198 37.5 260 37.5"/><path class="c61 o15" d="M34.3 513.6c62 0 198-12.5 260-12.5"/><path class="c55 o19" d="M34.3 537.6c62 0 198-70.5 260-70.5"/><path class="c56 o16" d="M34.3 518.2c62 0 198 6.5 260 6.5"/><path class="c62 o20" d="M34.3 527.9c62 0 198-58 260-58"/><path class="c62 o17" d="M34.3 527.9c62 0 198-68.5 260-68.5"/><path class="c55 o19" d="M34.3 537.6c62 0 198-64.5 260-64.5"/><path class="c53" d="M34.3 490c62 0 198 4.5 260 4.5"/><path class="c49 o17" d="M34.3 523c62 0 198-63.5 260-63.5"/><path class="c58" d="M34.3 508.9c62 0 198 9.5 260 9.5"/><path class="c70" d="M34.3 476.5c62 0 198 36 260 36"/><path class="c49 o17" d="M34.3 523c62 0 198-65 260-65"/><path class="c49 o17" d="M34.3 523c62 0 198-44 260-44"/><path class="c49 o17" d="M34.3 523c62 0 198-39.5 260-39.5"/><path class="c52" d="M34.3 546.9c62 0 198-84.5 260-84.5"/><path class="c50" d="M34.3 504.1c62 0 198-5.5 260-5.5"/><path class="c55 o15" d="M34.3 537.6c62 0 198-41.5 260-41.5"/><path class="c59" d="M34.3 551.7c62 0 198-90.5 260-90.5"/><path class="c49" d="M34.3 523c62 0 198 33 260 33"/><path class="c50" d="M34.3 504.1c62 0 198-6.5 260-6.5"/><path class="c54 o16" d="M34.3 532.7c62 0 198-52 260-52"/><path class="c52" d="M34.3 546.9c62 0 198-63 260-63"/><path class="c56 o16" d="M34.3 518.2c62 0 198-13.5 260-13.5"/><path class="c54 o16" d="M34.3 532.7c62 0 198-28 260-28"/><path class="c50" d="M34.3 504.1c62 0 198 18 260 18"/><path class="c51 o13" d="M34.3 542.2c62 0 198-66.5 260-66.5"/><path class="c59" d="M34.3 551.7c62 0 198-83.5 260-83.5"/><path class="c60" d="M34.3 494.9c62 0 198-6 260-6"/><path class="c50" d="M34.3 504.1c62 0 198-14.5 260-14.5"/><path class="c51 o17" d="M34.3 542.2c62 0 198-91.5 260-91.5"/><path class="c60" d="M34.3 494.9c62 0 198 .5 260 .5"/><path class="c63" d="M34.3 471.9c62 0 198 54.5 260 54.5"/><path class="c56 o16" d="M34.3 518.2c62 0 198-15.5 260-15.5"/><path class="c61 o15" d="M34.3 513.6c62 0 198-14 260-14"/><path class="c51 o13" d="M34.3 542.2c62 0 198-51 260-51"/><path class="c56 o16" d="M34.3 518.2c62 0 198-30.5 260-30.5"/><path class="c54 o16" d="M34.3 532.7c62 0 198-50 260-50"/><path class="c50" d="M34.3 504.1c62 0 198-3.5 260-3.5"/><path class="c62 o20" d="M34.3 527.9c62 0 198-59.5 260-59.5"/><path class="c62 o17" d="M34.3 527.9c62 0 198-66 260-66"/><path class="c61 o15" d="M34.3 513.6c62 0 198-2 260-2"/><path class="c55 o15" d="M34.3 537.6c62 0 198-44.5 260-44.5"/><path class="c55 o15" d="M34.3 537.6c62 0 198-72.5 260-72.5"/><path class="c58" d="M34.3 508.9c62 0 198-2.5 260-2.5"/><path class="c57" d="M34.3 499.6c62 0 198-87.5 260-87.5"/><path class="c64" d="M34.3 467.1c62 0 198 47 260 47"/><path class="c59" d="M34.3 551.7c62 0 198-67.5 260-67.5"/><path class="c52" d="M34.3 546.9c62 0 198-71 260-71"/><path class="c50" d="M34.3 504.1c62 0 198-23 260-23"/><path class="c72" d="M34.3 556.5c62 0 198-109.5 260-109.5"/><path class="c52" d="M34.3 546.9c62 0 198-86 260-86"/><path class="c67" d="M34.3 481.2c62 0 198 61.5 260 61.5"/><path class="c72" d="M34.3 556.5c62 0 198-87 260-87"/><path class="c49 o20" d="M34.3 523c62 0 198-46.5 260-46.5"/><path class="c52" d="M34.3 546.9c62 0 198-83.5 260-83.5"/><path class="c58" d="M34.3 508.9c62 0 198 22 260 22"/><path class="c50" d="M34.3 504.1c62 0 198 16 260 16"/><path class="c50" d="M34.3 504.1c62 0 198 11.5 260 11.5"/><path class="c51 o13" d="M34.3 542.2c62 0 198-63.5 260-63.5"/><path class="c55 o15" d="M34.3 537.6c62 0 198-33 260-33"/><path class="c67" d="M34.3 481.2c62 0 198 41.5 260 41.5"/><path class="c51 o13" d="M34.3 542.2c62 0 198-49.5 260-49.5"/><path class="c59" d="M34.3 551.7c62 0 198-73.5 260-73.5"/><path class="c58" d="M34.3 508.9c62 0 198 3.5 260 3.5"/><path class="c52" d="M34.3 546.9c62 0 198-37.5 260-37.5"/><path class="c57" d="M34.3 499.6c62 0 198 35 260 35"/><path class="c55 o15" d="M34.3 537.6c62 0 198-80.5 260-80.5"/><path class="c72" d="M34.3 556.5c62 0 198-102.5 260-102.5"/><path class="c53" d="M34.3 490c62 0 198 45.5 260 45.5"/><path class="c62 o17" d="M34.3 527.9c62 0 198-21 260-21"/><path class="c59" d="M34.3 551.7c62 0 198-112 260-112"/><path class="c56 o16" d="M34.3 518.2c62 0 198-71 260-71"/><path class="c72" d="M34.3 556.5c62 0 198-152 260-152"/><path class="c53" d="M34.3 490c62 0 198-8 260-8"/><path class="c56 o16" d="M34.3 518.2c62 0 198-6.5 260-6.5"/><path class="c53" d="M34.3 490c62 0 198 17 260 17"/><path class="c58" d="M34.3 508.9c62 0 198 0 260 0"/><path class="c58" d="M34.3 508.9c62 0 198 1.5 260 1.5"/><path class="c58" d="M34.3 508.9c62 0 198-36 260-36"/><path class="c50" d="M34.3 504.1c62 0 198 1.5 260 1.5"/><path class="c74" d="M34.3 453.5c62 0 198 98 260 98"/><path class="c61 o15" d="M34.3 513.6c62 0 198-42 260-42"/><path class="c54 o19" d="M34.3 532.7c62 0 198-42 260-42"/><path class="c51 o13" d="M34.3 542.2c62 0 198-96.5 260-96.5"/><path class="c50" d="M34.3 504.1c62 0 198 4 260 4"/><path class="c49 o17" d="M34.3 523c62 0 198-11.5 260-11.5"/><path class="c63" d="M34.3 471.9c62 0 198 76 260 76"/><path class="c69" d="M34.3 462.6c62 0 198 98.5 260 98.5"/><path class="c59" d="M34.3 551.7c62 0 198-90 260-90"/><path class="c54 o16" d="M34.3 532.7c62 0 198-48.5 260-48.5"/><path class="c62 o17" d="M34.3 527.9c62 0 198-52.5 260-52.5"/><path class="c81" d="M34.3 409c62 0 198 134 260 134"/><path class="c52" d="M34.3 546.9c62 0 198-65.5 260-65.5"/><path class="c58" d="M34.3 508.9c62 0 198 32.5 260 32.5"/><path class="c61 o15" d="M34.3 513.6c62 0 198-51.5 260-51.5"/><path class="c61 o15" d="M34.3 513.6c62 0 198 5.5 260 5.5"/><path class="c57" d="M34.3 499.6c62 0 198-21 260-21"/><path class="c56 o16" d="M34.3 518.2c62 0 198-19 260-19"/><path class="c51 o13" d="M34.3 542.2c62 0 198-104.5 260-104.5"/><path class="c66" d="M34.3 485.7c62 0 198-14 260-14"/><path class="c61 o15" d="M34.3 513.6c62 0 198-8.5 260-8.5"/><path class="c52" d="M34.3 546.9c62 0 198-43.5 260-43.5"/><path class="c70" d="M34.3 476.5c62 0 198 55 260 55"/><path class="c61 o15" d="M34.3 513.6c62 0 198 27 260 27"/><path class="c49 o17" d="M34.3 523c62 0 198-58 260-58"/><path class="c50" d="M34.3 504.1c62 0 198-29.5 260-29.5"/><path class="c53" d="M34.3 490c62 0 198 55.5 260 55.5"/><path class="c62 o17" d="M34.3 527.9c62 0 198-34.5 260-34.5"/><path class="c60" d="M34.3 494.9c62 0 198-11 260-11"/><path class="c76" d="M34.3 440.1c62 0 198 95.5 260 95.5"/><path class="c49 o17" d="M34.3 523c62 0 198-41 260-41"/><path class="c49 o17" d="M34.3 523c62 0 198-68 260-68"/><path class="c49 o17" d="M34.3 523c62 0 198-19 260-19"/><path class="c52" d="M34.3 546.9c62 0 198-81.5 260-81.5"/><path class="c51 o13" d="M34.3 542.2c62 0 198-85 260-85"/><path class="c67" d="M34.3 481.2c62 0 198 27 260 27"/><path class="c58" d="M34.3 508.9c62 0 198-34.5 260-34.5"/><path class="c82" d="M34.3 566c62 0 198-119 260-119"/><path class="c58" d="M34.3 508.9c62 0 198 14.5 260 14.5"/><path class="c71" d="M34.3 458.2c62 0 198 77 260 77"/><path class="c52" d="M34.3 546.9c62 0 198-82 260-82"/><path class="c62 o17" d="M34.3 527.9c62 0 198-28 260-28"/><path class="c70" d="M34.3 476.5c62 0 198 81.5 260 81.5"/><path class="c49 o17" d="M34.3 523c62 0 198-53 260-53"/><path class="c58" d="M34.3 508.9c62 0 198-14 260-14"/><path class="c49 o17" d="M34.3 523c62 0 198-54 260-54"/><path class="c57" d="M34.3 499.6c62 0 198 36.5 260 36.5"/><path class="c57" d="M34.3 499.6c62 0 198 2 260 2"/><path class="c52" d="M34.3 546.9c62 0 198-84 260-84"/><path class="c52" d="M34.3 546.9c62 0 198-69.5 260-69.5"/><path class="c49 o17" d="M34.3 523c62 0 198-35 260-35"/><path class="c49 o17" d="M34.3 523c62 0 198-5 260-5"/><path class="c69" d="M34.3 462.6c62 0 198 79 260 79"/><path class="c61 o15" d="M34.3 513.6c62 0 198-32 260-32"/><path class="c55 o15" d="M34.3 537.6c62 0 198-36.5 260-36.5"/><path class="c58" d="M34.3 508.9c62 0 198-6.5 260-6.5"/><path class="c62 o17" d="M34.3 527.9c62 0 198-69 260-69"/><path class="c55 o15" d="M34.3 537.6c62 0 198-63.5 260-63.5"/><path class="c61 o15" d="M34.3 513.6c62 0 198-50 260-50"/><path class="c55 o15" d="M34.3 537.6c62 0 198-28.5 260-28.5"/><path class="c56 o16" d="M34.3 518.2c62 0 198 4 260 4"/><path class="c71" d="M34.3 458.2c62 0 198 64 260 64"/><path class="c60" d="M34.3 494.9c62 0 198 8.5 260 8.5"/><path class="c52" d="M34.3 546.9c62 0 198-108.5 260-108.5"/><path class="c57" d="M34.3 499.6c62 0 198-6 260-6"/><path class="c58" d="M34.3 508.9c62 0 198-4.5 260-4.5"/><path class="c51 o13" d="M34.3 542.2c62 0 198-68 260-68"/><path class="c59" d="M34.3 551.7c62 0 198-74.5 260-74.5"/><path class="c51 o13" d="M34.3 542.2c62 0 198-64.5 260-64.5"/><path class="c54 o16" d="M34.3 532.7c62 0 198-89 260-89"/><path class="c70" d="M34.3 476.5c62 0 198 63.5 260 63.5"/><path class="c61 o15" d="M34.3 513.6c62 0 198 4 260 4"/><path class="c66" d="M34.3 485.7c62 0 198 24 260 24"/></g><line x1="34.3" y1="404.3" x2="34.3" y2="566.0" stroke="#7a7a7a" stroke-width="1.1"/><line x1="294.5" y1="404.3" x2="294.5" y2="566.0" stroke="#555" stroke-width="1.0"/><text transform="translate(21.79,406.90) scale(1.256,1)" font-size="7.27">41</text><text transform="translate(21.53,569.00) scale(1.283,1)" font-size="7.27">28</text><text transform="translate(280.26,406.90) scale(1.209,1)" font-size="7.27">0.5</text><text transform="translate(275.27,569.00) scale(1.211,1)" font-size="7.27">−0.0</text><text transform="translate(13.06,588.60) scale(1.157,1)" font-size="7.85">LST_2010</text><text transform="translate(271.16,588.60) scale(1.146,1)" font-size="7.85">NDVI_2010</text><defs><linearGradient id="cb2010" x1="0" y1="0" x2="0" y2="1"><stop offset="0" stop-color="#4446f2"/><stop offset="0.25" stop-color="#45eef2"/><stop offset="0.5" stop-color="#46e446"/><stop offset="0.75" stop-color="#f8ee3c"/><stop offset="0.88" stop-color="#fa9c3c"/><stop offset="1.0" stop-color="#f24646"/></linearGradient></defs><rect x="304.8" y="425.4" width="14.30" height="90.90" fill="url(#cb2010)" stroke="#333" stroke-width="0.7"/><line x1="319.10" y1="425.40" x2="322.30" y2="425.40" stroke="#333" stroke-width="0.8"/><text transform="translate(324.86,427.30) scale(1.135,1)" font-size="5.52">41.50</text><line x1="319.10" y1="436.76" x2="322.30" y2="436.76" stroke="#bbb" stroke-width="0.8"/><text transform="translate(324.76,438.66) scale(1.144,1)" font-size="5.52">39.75</text><line x1="319.10" y1="448.12" x2="322.30" y2="448.12" stroke="#333" stroke-width="0.8"/><text transform="translate(324.76,450.02) scale(1.142,1)" font-size="5.52">38.00</text><line x1="319.10" y1="459.49" x2="322.30" y2="459.49" stroke="#333" stroke-width="0.8"/><text transform="translate(324.76,461.39) scale(1.144,1)" font-size="5.52">36.25</text><line x1="319.10" y1="470.85" x2="322.30" y2="470.85" stroke="#333" stroke-width="0.8"/><text transform="translate(324.76,472.75) scale(1.142,1)" font-size="5.52">34.50</text><line x1="319.10" y1="482.21" x2="322.30" y2="482.21" stroke="#bbb" stroke-width="0.8"/><text transform="translate(324.76,484.11) scale(1.144,1)" font-size="5.52">32.75</text><line x1="319.10" y1="493.57" x2="322.30" y2="493.57" stroke="#333" stroke-width="0.8"/><text transform="translate(324.76,495.47) scale(1.142,1)" font-size="5.52">31.00</text><line x1="319.10" y1="504.94" x2="322.30" y2="504.94" stroke="#333" stroke-width="0.8"/><text transform="translate(324.68,506.84) scale(1.149,1)" font-size="5.52">29.25</text><line x1="319.10" y1="516.30" x2="322.30" y2="516.30" stroke="#333" stroke-width="0.8"/><text transform="translate(324.68,518.20) scale(1.148,1)" font-size="5.52">27.50</text><text transform="translate(291.38,420.00) scale(1.266,1)" font-size="6.98">LST_2010</text><path d="M427.0,413.4 L427.0,413.4 428.3,413.1 430.1,412.8 432.2,412.3 434.4,411.8 436.5,411.4 438.3,410.9 439.8,410.5 441.1,410.1 442.3,409.6 443.5,409.2 444.7,408.8 445.9,408.3 447.2,407.8 448.4,407.2 449.7,406.7 451.0,406.1 452.2,405.6 453.5,405.2 454.8,404.8 456.0,404.5 457.3,404.3 458.6,404.1 459.8,403.9 461.1,403.7 462.4,403.6 463.6,403.4 464.9,403.4 466.2,403.3 467.4,403.3 468.7,403.3 470.0,403.3 471.2,403.4 472.5,403.5 473.8,403.6 475.0,403.8 476.3,404.1 477.6,404.5 478.8,405.0 480.1,405.5 481.4,406.1 482.6,406.6 483.9,407.1 485.1,407.5 486.3,407.9 487.5,408.3 488.7,408.7 490.0,409.1 491.5,409.4 493.1,409.7 494.9,410.0 496.7,410.2 498.7,410.5 500.7,410.7 502.9,410.9 505.1,411.1 507.4,411.2 509.7,411.3 512.3,411.5 515.0,411.6 518.0,411.7 521.4,411.8 525.2,412.0 529.2,412.1 533.2,412.2 537.1,412.4 540.8,412.5 544.4,412.7 548.1,412.8 551.7,413.0 555.0,413.2 557.8,413.3 559.8,413.4 L559.8,413.4 Z" fill="#d5e4f7" stroke="#b4cbee" stroke-width="0.5"/><path d="M649.0,452.5 L649.0,452.5 649.4,453.2 649.9,454.0 650.4,455.1 651.1,456.3 651.8,457.5 652.4,458.7 653.0,460.0 653.7,461.4 654.4,462.8 655.1,464.2 655.8,465.6 656.5,466.9 657.2,468.0 657.8,469.1 658.5,470.1 659.2,471.1 659.9,472.1 660.6,473.1 661.4,474.1 662.3,475.2 663.2,476.2 664.1,477.2 665.0,478.3 665.8,479.3 666.6,480.3 667.3,481.4 668.1,482.4 668.8,483.4 669.4,484.5 669.9,485.5 670.3,486.5 670.7,487.6 671.0,488.6 671.2,489.6 671.3,490.7 671.4,491.7 671.4,492.7 671.4,493.7 671.3,494.7 671.2,495.7 670.9,496.7 670.6,497.9 670.1,499.2 669.6,500.5 668.9,501.9 668.2,503.4 667.5,504.8 666.8,506.2 666.1,507.6 665.4,508.9 664.7,510.3 664.0,511.7 663.3,513.0 662.7,514.4 662.1,515.8 661.6,517.1 661.1,518.4 660.6,519.8 660.1,521.2 659.6,522.7 659.1,524.3 658.6,526.0 658.1,527.7 657.6,529.5 657.1,531.3 656.5,533.0 655.9,534.7 655.3,536.5 654.7,538.3 654.1,540.0 653.4,541.7 652.8,543.3 652.1,544.9 651.4,546.5 650.7,548.1 650.0,549.5 649.4,550.7 649.0,551.6 L649.0,551.6 Z" fill="#d5e4f7" stroke="#b4cbee" stroke-width="0.5"/><line x1="389.6" y1="413.4" x2="649.0" y2="413.4" stroke="#a0a0a0" stroke-width="1.1"/><line x1="649.0" y1="413.4" x2="649.0" y2="567.2" stroke="#555b64" stroke-width="1.1"/><path d="M420.2,469.7 L427.9,473.6 L435.6,477.5 L443.3,481.4 L450.9,485.3 L458.6,489.1 L466.3,492.9 L474.0,496.7 L481.7,500.4 L489.4,504.1 L497.1,507.7 L504.8,511.4 L512.5,514.9 L520.1,518.5 L527.8,522.1 L535.5,525.7 L543.2,529.3 L550.9,532.8 L558.6,536.4 L566.3,540.0 L574.0,543.5 L581.6,547.1 L589.3,550.7 L597.0,554.2 L604.7,557.8 L604.7,564.2 L597.0,560.3 L589.3,556.3 L581.6,552.4 L574.0,548.5 L566.3,544.6 L558.6,540.6 L550.9,536.7 L543.2,532.8 L535.5,528.9 L527.8,525.0 L520.1,521.1 L512.5,517.2 L504.8,513.3 L497.1,509.4 L489.4,505.5 L481.7,501.7 L474.0,497.9 L466.3,494.2 L458.6,490.5 L450.9,486.9 L443.3,483.3 L435.6,479.7 L427.9,476.1 L420.2,472.5 Z" fill="#c4d9f5"/><line x1="420.2" y1="471.1" x2="604.7" y2="561.0" stroke="#8db0e6" stroke-width="0.6"/><path d="M421.5 468.1h1.1M426.8 468.1h1.1M426.8 481.5h1.1M426.8 489.2h1.1M426.8 497.1h1.1M432.1 473.2h1.1M432.1 471.7h1.1M432.1 469.5h1.1M432.1 468.0h1.1M432.1 466.4h1.1M432.1 438.4h1.1M432.1 452.9h1.1M432.1 460.2h1.1M432.1 483.9h1.1M432.1 489.2h1.1M432.1 500.2h1.1M432.1 508.3h1.1M432.1 522.8h1.1M437.6 496.0h1.1M437.6 494.6h1.1M437.6 493.3h1.1M437.6 491.4h1.1M437.6 490.4h1.1M437.6 488.7h1.1M437.6 487.1h1.1M437.6 485.7h1.1M437.6 484.1h1.1M437.6 482.5h1.1M437.6 480.8h1.1M437.6 479.9h1.1M437.6 478.1h1.1M437.6 476.6h1.1M437.6 475.5h1.1M437.6 474.3h1.1M437.6 472.0h1.1M437.6 471.1h1.1M437.6 469.6h1.1M437.6 467.6h1.1M437.6 466.4h1.1M437.6 465.0h1.1M437.6 463.5h1.1M437.6 449.9h1.1M437.6 508.3h1.1M442.9 513.2h1.1M442.9 511.5h1.1M442.9 510.4h1.1M442.9 509.1h1.1M442.9 507.2h1.1M442.9 505.5h1.1M442.9 504.7h1.1M442.9 502.9h1.1M442.9 501.7h1.1M442.9 499.9h1.1M442.9 498.4h1.1M442.9 497.4h1.1M442.9 495.4h1.1M442.9 494.1h1.1M442.9 492.7h1.1M442.9 491.1h1.1M442.9 490.0h1.1M442.9 488.2h1.1M442.9 486.7h1.1M442.9 485.9h1.1M442.9 483.8h1.1M442.9 482.7h1.1M442.9 481.2h1.1M442.9 480.0h1.1M442.9 478.1h1.1M442.9 477.0h1.1M442.9 475.1h1.1M442.9 474.1h1.1M442.9 472.4h1.1M442.9 471.1h1.1M442.9 469.5h1.1M442.9 468.4h1.1M442.9 466.9h1.1M442.9 465.0h1.1M442.9 463.5h1.1M442.9 462.3h1.1M442.9 460.9h1.1M442.9 447.5h1.1M442.9 453.8h1.1M448.2 509.6h1.1M448.2 507.9h1.1M448.2 507.0h1.1M448.2 504.9h1.1M448.2 503.7h1.1M448.2 502.3h1.1M448.2 500.5h1.1M448.2 499.2h1.1M448.2 497.8h1.1M448.2 497.0h1.1M448.2 495.2h1.1M448.2 494.0h1.1M448.2 492.5h1.1M448.2 491.0h1.1M448.2 489.0h1.1M448.2 488.2h1.1M448.2 486.6h1.1M448.2 485.0h1.1M448.2 483.2h1.1M448.2 481.7h1.1M448.2 480.4h1.1M448.2 479.4h1.1M448.2 477.7h1.1M448.2 476.1h1.1M448.2 475.2h1.1M448.2 473.2h1.1M448.2 472.0h1.1M448.2 470.4h1.1M448.2 468.8h1.1M448.2 467.4h1.1M448.2 466.1h1.1M448.2 464.6h1.1M448.2 463.4h1.1M448.2 461.7h1.1M448.2 442.8h1.1M448.2 453.8h1.1M448.2 535.1h1.1M453.4 513.2h1.1M453.4 511.7h1.1M453.4 510.2h1.1M453.4 508.6h1.1M453.4 507.5h1.1M453.4 506.4h1.1M453.4 504.5h1.1M453.4 503.3h1.1M453.4 501.4h1.1M453.4 500.3h1.1M453.4 498.9h1.1M453.4 497.0h1.1M453.4 496.0h1.1M453.4 494.6h1.1M453.4 493.2h1.1M453.4 491.6h1.1M453.4 490.5h1.1M453.4 488.7h1.1M453.4 486.9h1.1M453.4 485.8h1.1M453.4 484.2h1.1M453.4 482.6h1.1M453.4 481.2h1.1M453.4 479.9h1.1M453.4 478.4h1.1M453.4 476.9h1.1M453.4 476.0h1.1M453.4 474.4h1.1M453.4 473.0h1.1M453.4 471.7h1.1M453.4 470.0h1.1M453.4 468.8h1.1M453.4 467.1h1.1M453.4 465.7h1.1M453.4 464.6h1.1M453.4 462.9h1.1M453.4 461.5h1.1M453.4 460.0h1.1M453.4 445.7h1.1M453.4 452.1h1.1M453.4 528.3h1.1M453.4 531.8h1.1M458.8 528.8h1.1M458.8 527.6h1.1M458.8 525.9h1.1M458.8 524.5h1.1M458.8 522.9h1.1M458.8 521.7h1.1M458.8 520.4h1.1M458.8 518.4h1.1M458.8 517.5h1.1M458.8 516.2h1.1M458.8 514.6h1.1M458.8 513.2h1.1M458.8 511.8h1.1M458.8 510.1h1.1M458.8 508.4h1.1M458.8 507.6h1.1M458.8 505.9h1.1M458.8 504.3h1.1M458.8 502.7h1.1M458.8 501.1h1.1M458.8 500.5h1.1M458.8 498.7h1.1M458.8 497.0h1.1M458.8 496.2h1.1M458.8 494.4h1.1M458.8 493.3h1.1M458.8 491.3h1.1M458.8 489.8h1.1M458.8 488.7h1.1M458.8 487.7h1.1M458.8 486.2h1.1M458.8 484.5h1.1M458.8 482.7h1.1M458.8 481.8h1.1M458.8 480.0h1.1M458.8 478.8h1.1M458.8 477.5h1.1M458.8 475.7h1.1M458.8 474.6h1.1M458.8 473.1h1.1M458.8 471.3h1.1M458.8 470.1h1.1M458.8 468.4h1.1M458.8 467.2h1.1M458.8 466.1h1.1M458.8 464.4h1.1M458.8 462.6h1.1M458.8 461.5h1.1M458.8 459.7h1.1M458.8 459.1h1.1M458.8 457.4h1.1M458.8 455.6h1.1M458.8 454.2h1.1M458.8 452.9h1.1M458.8 451.4h1.1M458.8 450.1h1.1M458.8 444.8h1.1M464.3 528.8h1.1M464.3 527.3h1.1M464.3 525.8h1.1M464.3 524.3h1.1M464.3 523.1h1.1M464.3 521.4h1.1M464.3 520.0h1.1M464.3 518.4h1.1M464.3 517.2h1.1M464.3 516.1h1.1M464.3 514.2h1.1M464.3 512.5h1.1M464.3 511.2h1.1M464.3 509.8h1.1M464.3 508.5h1.1M464.3 507.1h1.1M464.3 505.4h1.1M464.3 504.5h1.1M464.3 502.3h1.1M464.3 500.9h1.1M464.3 499.4h1.1M464.3 498.6h1.1M464.3 497.2h1.1M464.3 495.1h1.1M464.3 494.0h1.1M464.3 492.7h1.1M464.3 491.1h1.1M464.3 489.5h1.1M464.3 488.4h1.1M464.3 486.7h1.1M464.3 485.1h1.1M464.3 483.6h1.1M464.3 482.8h1.1M464.3 480.6h1.1M464.3 479.5h1.1M464.3 478.1h1.1M464.3 476.5h1.1M464.3 475.3h1.1M464.3 473.3h1.1M464.3 472.4h1.1M464.3 470.7h1.1M464.3 469.6h1.1M464.3 467.7h1.1M464.3 466.1h1.1M464.3 464.6h1.1M464.3 463.8h1.1M464.3 461.9h1.1M464.3 460.3h1.1M464.3 459.4h1.1M464.3 457.8h1.1M464.3 456.2h1.1M464.3 450.3h1.1M469.7 528.8h1.1M469.7 527.3h1.1M469.7 525.7h1.1M469.7 524.3h1.1M469.7 523.1h1.1M469.7 521.4h1.1M469.7 520.0h1.1M469.7 518.5h1.1M469.7 517.2h1.1M469.7 515.9h1.1M469.7 514.4h1.1M469.7 512.5h1.1M469.7 511.7h1.1M469.7 510.3h1.1M469.7 508.9h1.1M469.7 506.8h1.1M469.7 505.2h1.1M469.7 504.4h1.1M469.7 502.9h1.1M469.7 501.6h1.1M469.7 499.8h1.1M469.7 498.4h1.1M469.7 496.7h1.1M469.7 495.8h1.1M469.7 493.7h1.1M469.7 492.7h1.1M469.7 490.9h1.1M469.7 489.5h1.1M469.7 487.9h1.1M469.7 486.8h1.1M469.7 485.3h1.1M469.7 483.9h1.1M469.7 482.8h1.1M469.7 481.1h1.1M469.7 479.3h1.1M469.7 477.8h1.1M469.7 477.1h1.1M469.7 475.1h1.1M469.7 474.0h1.1M469.7 472.7h1.1M469.7 471.3h1.1M469.7 469.3h1.1M469.7 467.7h1.1M469.7 466.6h1.1M469.7 465.3h1.1M469.7 463.7h1.1M469.7 462.0h1.1M469.7 460.6h1.1M469.7 459.8h1.1M469.7 458.2h1.1M469.7 456.2h1.1M469.7 455.1h1.1M469.7 453.6h1.1M469.7 448.6h1.1M469.7 535.6h1.1M469.7 540.2h1.1M469.7 543.9h1.1M475.2 528.8h1.1M475.2 527.2h1.1M475.2 525.6h1.1M475.2 524.3h1.1M475.2 523.2h1.1M475.2 521.7h1.1M475.2 519.6h1.1M475.2 519.0h1.1M475.2 516.9h1.1M475.2 515.3h1.1M475.2 514.4h1.1M475.2 513.1h1.1M475.2 511.4h1.1M475.2 510.0h1.1M475.2 508.4h1.1M475.2 507.0h1.1M475.2 505.1h1.1M475.2 504.3h1.1M475.2 502.1h1.1M475.2 501.5h1.1M475.2 499.2h1.1M475.2 498.3h1.1M475.2 496.5h1.1M475.2 495.7h1.1M475.2 493.8h1.1M475.2 492.2h1.1M475.2 490.8h1.1M475.2 489.2h1.1M475.2 488.3h1.1M475.2 486.6h1.1M475.2 484.9h1.1M475.2 484.0h1.1M475.2 481.8h1.1M475.2 480.7h1.1M475.2 479.4h1.1M475.2 478.0h1.1M475.2 476.2h1.1M475.2 475.2h1.1M475.2 473.6h1.1M475.2 472.1h1.1M475.2 470.7h1.1M475.2 468.8h1.1M475.2 467.5h1.1M475.2 465.8h1.1M475.2 464.5h1.1M475.2 463.4h1.1M475.2 461.7h1.1M475.2 535.6h1.1M475.2 540.2h1.1M475.2 543.9h1.1M480.4 534.0h1.1M480.4 532.8h1.1M480.4 531.1h1.1M480.4 529.5h1.1M480.4 528.4h1.1M480.4 527.0h1.1M480.4 525.1h1.1M480.4 523.6h1.1M480.4 522.9h1.1M480.4 521.4h1.1M480.4 519.4h1.1M480.4 518.2h1.1M480.4 516.8h1.1M480.4 515.2h1.1M480.4 513.6h1.1M480.4 512.8h1.1M480.4 510.6h1.1M480.4 509.2h1.1M480.4 508.2h1.1M480.4 506.7h1.1M480.4 505.4h1.1M480.4 503.7h1.1M480.4 502.6h1.1M480.4 500.9h1.1M480.4 499.1h1.1M480.4 498.0h1.1M480.4 496.3h1.1M480.4 495.4h1.1M480.4 493.4h1.1M480.4 492.6h1.1M480.4 491.1h1.1M480.4 489.2h1.1M480.4 488.1h1.1M480.4 486.8h1.1M480.4 485.4h1.1M480.4 483.4h1.1M480.4 482.6h1.1M480.4 481.1h1.1M480.4 478.9h1.1M480.4 477.6h1.1M480.4 476.5h1.1M480.4 475.3h1.1M480.4 473.2h1.1M480.4 471.9h1.1M480.4 470.5h1.1M480.4 469.2h1.1M480.4 467.8h1.1M480.4 466.4h1.1M480.4 457.6h1.1M485.5 535.8h1.1M485.5 534.7h1.1M485.5 533.3h1.1M485.5 531.4h1.1M485.5 529.8h1.1M485.5 528.5h1.1M485.5 526.9h1.1M485.5 525.9h1.1M485.5 524.4h1.1M485.5 523.0h1.1M485.5 521.5h1.1M485.5 520.2h1.1M485.5 518.2h1.1M485.5 517.4h1.1M485.5 515.9h1.1M485.5 514.0h1.1M485.5 512.9h1.1M485.5 511.5h1.1M485.5 509.5h1.1M485.5 508.1h1.1M485.5 507.2h1.1M485.5 505.9h1.1M485.5 504.1h1.1M485.5 502.6h1.1M485.5 501.4h1.1M485.5 499.7h1.1M485.5 498.2h1.1M485.5 496.7h1.1M485.5 495.7h1.1M485.5 493.9h1.1M485.5 493.0h1.1M485.5 491.6h1.1M485.5 490.1h1.1M485.5 488.6h1.1M485.5 486.6h1.1M485.5 485.5h1.1M485.5 484.0h1.1M485.5 482.6h1.1M485.5 481.4h1.1M485.5 480.1h1.1M485.5 478.5h1.1M485.5 476.5h1.1M485.5 475.4h1.1M485.5 468.5h1.1M491.0 539.5h1.1M491.0 538.3h1.1M491.0 536.4h1.1M491.0 535.0h1.1M491.0 533.8h1.1M491.0 532.3h1.1M491.0 530.9h1.1M491.0 529.3h1.1M491.0 527.8h1.1M491.0 526.4h1.1M491.0 524.7h1.1M491.0 523.2h1.1M491.0 522.5h1.1M491.0 520.8h1.1M491.0 519.6h1.1M491.0 517.9h1.1M491.0 516.0h1.1M491.0 514.7h1.1M491.0 513.3h1.1M491.0 512.3h1.1M491.0 510.2h1.1M491.0 508.9h1.1M491.0 507.8h1.1M491.0 505.9h1.1M491.0 505.1h1.1M491.0 503.5h1.1M491.0 501.5h1.1M491.0 500.7h1.1M491.0 499.2h1.1M491.0 497.4h1.1M491.0 495.8h1.1M491.0 494.5h1.1M491.0 493.5h1.1M491.0 491.8h1.1M491.0 490.0h1.1M491.0 488.9h1.1M491.0 487.5h1.1M491.0 486.2h1.1M491.0 484.4h1.1M491.0 470.3h1.1M491.0 474.7h1.1M491.0 479.3h1.1M496.1 538.6h1.1M496.1 537.6h1.1M496.1 535.7h1.1M496.1 533.9h1.1M496.1 532.7h1.1M496.1 531.6h1.1M496.1 529.8h1.1M496.1 528.8h1.1M496.1 527.0h1.1M496.1 525.8h1.1M496.1 523.8h1.1M496.1 522.3h1.1M496.1 521.0h1.1M496.1 519.9h1.1M496.1 518.0h1.1M496.1 516.4h1.1M496.1 515.5h1.1M496.1 513.9h1.1M496.1 512.8h1.1M496.1 511.4h1.1M496.1 509.4h1.1M496.1 508.5h1.1M496.1 506.6h1.1M496.1 505.6h1.1M496.1 503.6h1.1M496.1 502.1h1.1M496.1 500.5h1.1M496.1 499.5h1.1M496.1 498.1h1.1M496.1 496.6h1.1M496.1 494.9h1.1M496.1 493.4h1.1M496.1 492.5h1.1M496.1 490.9h1.1M496.1 489.6h1.1M496.1 488.0h1.1M496.1 486.3h1.1M496.1 443.9h1.1M496.1 461.1h1.1M496.1 463.9h1.1M496.1 478.7h1.1M501.4 538.6h1.1M501.4 536.8h1.1M501.4 536.1h1.1M501.4 534.3h1.1M501.4 532.5h1.1M501.4 531.3h1.1M501.4 530.0h1.1M501.4 528.2h1.1M501.4 526.6h1.1M501.4 525.8h1.1M501.4 524.0h1.1M501.4 522.9h1.1M501.4 521.4h1.1M501.4 519.6h1.1M501.4 518.4h1.1M501.4 516.5h1.1M501.4 515.4h1.1M501.4 514.1h1.1M501.4 512.2h1.1M501.4 511.1h1.1M501.4 509.8h1.1M501.4 507.5h1.1M501.4 506.8h1.1M501.4 505.4h1.1M501.4 503.6h1.1M501.4 502.6h1.1M501.4 500.4h1.1M501.4 499.6h1.1M501.4 498.1h1.1M501.4 495.9h1.1M501.4 494.8h1.1M501.4 493.0h1.1M501.4 491.6h1.1M501.4 490.2h1.1M501.4 489.0h1.1M501.4 471.2h1.1M501.4 480.2h1.1M506.8 542.4h1.1M506.8 541.3h1.1M506.8 539.9h1.1M506.8 537.7h1.1M506.8 536.7h1.1M506.8 534.9h1.1M506.8 533.6h1.1M506.8 531.9h1.1M506.8 530.6h1.1M506.8 528.8h1.1M506.8 527.8h1.1M506.8 526.0h1.1M506.8 524.6h1.1M506.8 523.3h1.1M506.8 521.9h1.1M506.8 520.6h1.1M506.8 518.9h1.1M506.8 517.8h1.1M506.8 516.2h1.1M506.8 514.5h1.1M506.8 513.4h1.1M506.8 512.0h1.1M506.8 510.6h1.1M506.8 508.6h1.1M506.8 507.0h1.1M506.8 505.6h1.1M506.8 504.3h1.1M506.8 502.9h1.1M506.8 501.9h1.1M506.8 499.7h1.1M506.8 498.6h1.1M506.8 497.0h1.1M506.8 496.0h1.1M506.8 494.0h1.1M506.8 493.1h1.1M506.8 490.9h1.1M506.8 489.9h1.1M506.8 472.9h1.1M506.8 479.3h1.1M506.8 483.9h1.1M511.6 536.0h1.1M511.6 534.4h1.1M511.6 533.3h1.1M511.6 531.6h1.1M511.6 530.5h1.1M511.6 528.8h1.1M511.6 527.3h1.1M511.6 526.0h1.1M511.6 524.3h1.1M511.6 523.1h1.1M511.6 521.7h1.1M511.6 519.9h1.1M511.6 517.9h1.1M511.6 516.7h1.1M511.6 515.4h1.1M511.6 514.2h1.1M511.6 512.8h1.1M511.6 511.0h1.1M511.6 474.5h1.1M511.6 485.5h1.1M511.6 500.0h1.1M511.6 503.0h1.1M511.6 545.7h1.1M516.7 536.9h1.1M516.7 535.1h1.1M516.7 534.0h1.1M516.7 532.2h1.1M516.7 530.8h1.1M516.7 529.3h1.1M516.7 528.2h1.1M516.7 526.7h1.1M516.7 525.5h1.1M516.7 523.6h1.1M516.7 522.6h1.1M516.7 520.8h1.1M516.7 519.6h1.1M516.7 517.9h1.1M516.7 516.6h1.1M516.7 515.3h1.1M516.7 513.5h1.1M516.7 512.0h1.1M516.7 510.5h1.1M516.7 509.4h1.1M516.7 507.6h1.1M516.7 506.3h1.1M516.7 505.0h1.1M516.7 503.3h1.1M516.7 501.6h1.1M516.7 500.4h1.1M516.7 498.6h1.1M516.7 497.3h1.1M516.7 487.0h1.1M516.7 542.2h1.1M522.0 532.9h1.1M522.0 531.7h1.1M522.0 530.2h1.1M522.0 528.5h1.1M522.0 527.1h1.1M522.0 525.5h1.1M522.0 524.5h1.1M522.0 522.9h1.1M522.0 521.5h1.1M522.0 519.5h1.1M522.0 518.1h1.1M522.0 517.0h1.1M522.0 515.0h1.1M522.0 514.2h1.1M522.0 512.8h1.1M522.0 511.0h1.1M522.0 493.4h1.1M522.0 497.8h1.1M522.0 503.5h1.1M522.0 540.0h1.1M522.0 545.2h1.1M527.2 529.0h1.1M527.2 527.0h1.1M527.2 525.9h1.1M527.2 524.7h1.1M527.2 522.7h1.1M527.2 521.7h1.1M527.2 519.5h1.1M527.2 518.2h1.1M527.2 541.7h1.1M527.2 539.9h1.1M527.2 537.5h1.1M527.2 504.6h1.1M532.5 528.1h1.1M532.5 526.9h1.1M532.5 524.8h1.1M532.5 523.5h1.1M532.5 522.5h1.1M532.5 521.3h1.1M532.5 519.7h1.1M532.5 518.1h1.1M532.5 516.8h1.1M532.5 515.1h1.1M532.5 503.0h1.1M532.5 506.3h1.1M532.5 533.6h1.1M532.5 538.2h1.1M532.5 543.0h1.1M532.5 550.9h1.1M537.6 533.6h1.1M537.6 531.8h1.1M537.6 531.1h1.1M537.6 528.9h1.1M537.6 527.9h1.1M537.6 526.2h1.1M537.6 525.0h1.1M537.6 523.2h1.1M537.6 522.2h1.1M537.6 549.8h1.1M537.6 548.2h1.1M537.6 546.5h1.1M537.6 545.0h1.1M537.6 543.3h1.1M537.6 541.5h1.1M537.6 504.6h1.1M537.6 509.2h1.1M542.5 529.0h1.1M542.5 527.9h1.1M542.5 545.7h1.1M542.5 543.7h1.1M542.5 541.5h1.1M542.5 508.3h1.1M542.5 519.1h1.1M542.5 520.6h1.1M547.8 516.7h1.1M547.8 520.0h1.1M547.8 527.2h1.1M547.8 532.0h1.1M547.8 533.6h1.1M547.8 538.4h1.1M547.8 540.8h1.1M547.8 550.5h1.1M552.6 528.1h1.1M552.6 532.0h1.1M552.6 542.4h1.1M557.8 532.5h1.1M557.8 533.6h1.1M557.8 537.5h1.1M557.8 540.8h1.1M557.8 549.6h1.1M562.8 514.0h1.1M562.8 528.1h1.1M562.8 529.6h1.1M562.8 536.0h1.1M567.9 531.6h1.1M567.9 536.4h1.1M573.0 548.5h1.1M577.9 535.1h1.1M577.9 537.5h1.1M583.1 540.0h1.1M583.1 547.0h1.1M588.0 547.0h1.1M597.7 534.9h1.1M602.8 548.5h1.1" stroke="#1b6cdc" stroke-width="3.6" stroke-linecap="round" fill="none"/><line x1="389.6" y1="412.9" x2="389.6" y2="567.2" stroke="#2a2a2a" stroke-width="1.0"/><line x1="389.6" y1="567.2" x2="649.5" y2="567.2" stroke="#2a2a2a" stroke-width="1.0"/><line x1="386.0" y1="545.23" x2="389.6" y2="545.23" stroke="#2a2a2a" stroke-width="0.8"/><text transform="translate(371.47,547.68) scale(1.199,1)" font-size="7.12">0.0</text><line x1="386.0" y1="501.29" x2="389.6" y2="501.29" stroke="#2a2a2a" stroke-width="0.8"/><text transform="translate(371.46,503.74) scale(1.209,1)" font-size="7.12">0.2</text><line x1="386.0" y1="457.34" x2="389.6" y2="457.34" stroke="#2a2a2a" stroke-width="0.8"/><text transform="translate(371.47,459.79) scale(1.190,1)" font-size="7.12">0.4</text><line x1="386.0" y1="413.40" x2="389.6" y2="413.40" stroke="#2a2a2a" stroke-width="0.8"/><text transform="translate(371.47,415.85) scale(1.203,1)" font-size="7.12">0.6</text><line x1="387.6" y1="567.20" x2="389.6" y2="567.20" stroke="#555" stroke-width="0.7"/><line x1="387.6" y1="523.26" x2="389.6" y2="523.26" stroke="#555" stroke-width="0.7"/><line x1="387.6" y1="479.31" x2="389.6" y2="479.31" stroke="#555" stroke-width="0.7"/><line x1="387.6" y1="435.37" x2="389.6" y2="435.37" stroke="#555" stroke-width="0.7"/><line x1="389.60" y1="567.2" x2="389.60" y2="570.8000000000001" stroke="#2a2a2a" stroke-width="0.8"/><text transform="translate(384.99,577.10) scale(1.180,1)" font-size="6.98">25</text><line x1="454.45" y1="567.2" x2="454.45" y2="570.8000000000001" stroke="#2a2a2a" stroke-width="0.8"/><text transform="translate(449.94,577.10) scale(1.163,1)" font-size="6.98">30</text><line x1="519.30" y1="567.2" x2="519.30" y2="570.8000000000001" stroke="#2a2a2a" stroke-width="0.8"/><text transform="translate(514.79,577.10) scale(1.166,1)" font-size="6.98">35</text><line x1="584.15" y1="567.2" x2="584.15" y2="570.8000000000001" stroke="#2a2a2a" stroke-width="0.8"/><text transform="translate(579.77,577.10) scale(1.146,1)" font-size="6.98">40</text><line x1="649.00" y1="567.2" x2="649.00" y2="570.8000000000001" stroke="#2a2a2a" stroke-width="0.8"/><text transform="translate(644.62,577.10) scale(1.150,1)" font-size="6.98">45</text><line x1="422.03" y1="567.2" x2="422.03" y2="569.2" stroke="#555" stroke-width="0.7"/><line x1="486.88" y1="567.2" x2="486.88" y2="569.2" stroke="#555" stroke-width="0.7"/><line x1="551.73" y1="567.2" x2="551.73" y2="569.2" stroke="#555" stroke-width="0.7"/><line x1="616.58" y1="567.2" x2="616.58" y2="569.2" stroke="#555" stroke-width="0.7"/><text transform="translate(496.49,588.50) scale(1.265,1)" font-size="7.85">LST_2010</text><text transform="translate(368.20,510.53) rotate(-90) scale(0.701,1)" font-size="10.90">NDVI_2010</text><rect x="576.8" y="401.0" width="70.4" height="9.6" fill="#fff" stroke="#9a9a9a" stroke-width="0.8"/><ellipse cx="587.9" cy="406.0" rx="2.1" ry="1.7" fill="#1b6cdc"/><text transform="translate(600.27,408.50) scale(1.254,1)" font-size="7.12">NDVI_2010</text><g fill="none" stroke-width="0.62" stroke-opacity="0.60"><path class="c83 o15" d="M33.2 694.7c63 0 198-64 261-64"/><path class="c84 o15" d="M33.2 666.5c63 0 198-36.5 261-36.5"/><path class="c83 o15" d="M33.2 694.7c63 0 198-8 261-8"/><path class="c85 o15" d="M33.2 651.9c63 0 198 28.5 261 28.5"/><path class="c86 o15" d="M33.2 703.5c63 0 198-77.5 261-77.5"/><path class="c87 o15" d="M33.2 702.3c63 0 198-67.5 261-67.5"/><path class="c88 o15" d="M33.2 682.9c63 0 198-40 261-40"/><path class="c89 o15" d="M33.2 660.4c63 0 198-8 261-8"/><path class="c90 o15" d="M33.2 692.1c63 0 198-7.5 261-7.5"/><path class="c91 o15" d="M33.2 694.9c63 0 198-50.5 261-50.5"/><path class="c92 o15" d="M33.2 674.2c63 0 198 13 261 13"/><path class="c93 o15" d="M33.2 676c63 0 198-8 261-8"/><path class="c94 o15" d="M33.2 648.1c63 0 198 38 261 38"/><path class="c95 o15" d="M33.2 696.5c63 0 198-72 261-72"/><path class="c96 o15" d="M33.2 670.8c63 0 198-4.5 261-4.5"/><path class="c97 o15" d="M33.2 692.5c63 0 198-45.5 261-45.5"/><path class="c98 o15" d="M33.2 707c63 0 198-75 261-75"/><path class="c99 o15" d="M33.2 682.7c63 0 198-22.5 261-22.5"/><path class="c100 o15" d="M33.2 683.5c63 0 198-42 261-42"/><path class="c101 o15" d="M33.2 690.7c63 0 198-56.5 261-56.5"/><path class="c102" d="M33.2 656.4c63 0 198-29 261-29"/><path class="c103 o15" d="M33.2 676.6c63 0 198-38.5 261-38.5"/><path class="c104 o15" d="M33.2 668.4c63 0 198 43.5 261 43.5"/><path class="c105 o15" d="M33.2 671.9c63 0 198-37 261-37"/><path class="c106 o15" d="M33.2 711.7c63 0 198-75.5 261-75.5"/><path class="c107 o15" d="M33.2 690.3c63 0 198-39.5 261-39.5"/><path class="c108" d="M33.2 733.6c63 0 198 23 261 23"/><path class="c109 o15" d="M33.2 704.7c63 0 198-30.5 261-30.5"/><path class="c110 o15" d="M33.2 657c63 0 198-37 261-37"/><path class="c103 o15" d="M33.2 676.6c63 0 198-6 261-6"/><path class="c111 o15" d="M33.2 653c63 0 198 38.5 261 38.5"/><path class="c112 o15" d="M33.2 695.2c63 0 198 11 261 11"/><path class="c113 o15" d="M33.2 688.8c63 0 198-7.5 261-7.5"/><path class="c113 o15" d="M33.2 688.8c63 0 198-34.5 261-34.5"/><path class="c114 o15" d="M33.2 693.4c63 0 198-48 261-48"/><path class="c115 o15" d="M33.2 666.9c63 0 198-25 261-25"/><path class="c23 o15" d="M33.2 671c63 0 198 9 261 9"/><path class="c116 o15" d="M33.2 672.5c63 0 198-8 261-8"/><path class="c117 o15" d="M33.2 678.5c63 0 198-20.5 261-20.5"/><path class="c115 o15" d="M33.2 666.8c63 0 198-7.5 261-7.5"/><path class="c118 o15" d="M33.2 712.9c63 0 198-72 261-72"/><path class="c119 o15" d="M33.2 674.5c63 0 198 5 261 5"/><path class="c120 o15" d="M33.2 690.2c63 0 198-35 261-35"/><path class="c121 o15" d="M33.2 702.1c63 0 198-35 261-35"/><path class="c27" d="M33.2 643.1c63 0 198 1.5 261 1.5"/><path class="c122 o15" d="M33.2 681.6c63 0 198-4 261-4"/><path class="c123 o15" d="M33.2 707.4c63 0 198-73 261-73"/><path class="c122 o15" d="M33.2 681.5c63 0 198-16.5 261-16.5"/><path class="c124 o15" d="M33.2 668c63 0 198-54.5 261-54.5"/><path class="c29 o15" d="M33.2 699.8c63 0 198-64 261-64"/><path class="c125 o15" d="M33.2 694.1c63 0 198-28.5 261-28.5"/><path class="c126 o15" d="M33.2 685.3c63 0 198-52 261-52"/><path class="c127" d="M33.2 715.8c63 0 198-30.5 261-30.5"/><path class="c97 o15" d="M33.2 692.4c63 0 198-48 261-48"/><path class="c128 o15" d="M33.2 678.3c63 0 198-55 261-55"/><path class="c129 o15" d="M33.2 675.8c63 0 198-27 261-27"/><path class="c130 o15" d="M33.2 705c63 0 198-28.5 261-28.5"/><path class="c131 o15" d="M33.2 690.1c63 0 198 6.5 261 6.5"/><path class="c132 o15" d="M33.2 680.2c63 0 198-12 261-12"/><path class="c133 o15" d="M33.2 679.9c63 0 198 22 261 22"/><path class="c134 o15" d="M33.2 632.7c63 0 198 71.5 261 71.5"/><path class="c135 o15" d="M33.2 650.3c63 0 198 43.5 261 43.5"/><path class="c136 o15" d="M33.2 721c63 0 198-74.5 261-74.5"/><path class="c137 o15" d="M33.2 726.7c63 0 198-98.5 261-98.5"/><path class="c138 o15" d="M33.2 694.3c63 0 198-37 261-37"/><path class="c139 o15" d="M33.2 682.3c63 0 198-20 261-20"/><path class="c140 o15" d="M33.2 684c63 0 198 19.5 261 19.5"/><path class="c141 o15" d="M33.2 689.6c63 0 198-78 261-78"/><path class="c142 o15" d="M33.2 706.1c63 0 198-79.5 261-79.5"/><path class="c143 o15" d="M33.2 701.1c63 0 198-43 261-43"/><path class="c144 o15" d="M33.2 672.2c63 0 198 10 261 10"/><path class="c145 o15" d="M33.2 687.9c63 0 198 5.5 261 5.5"/><path class="c146 o15" d="M33.2 706.1c63 0 198-64 261-64"/><path class="c147 o15" d="M33.2 685c63 0 198-22.5 261-22.5"/><path class="c148 o15" d="M33.2 697.4c63 0 198-12 261-12"/><path class="c149 o15" d="M33.2 711.5c63 0 198-41 261-41"/><path class="c150 o15" d="M33.2 708.1c63 0 198-70 261-70"/><path class="c151" d="M33.2 711.3c63 0 198 6 261 6"/><path class="c152 o15" d="M33.2 648.6c63 0 198 43 261 43"/><path class="c153 o15" d="M33.2 687.1c63 0 198 2.5 261 2.5"/><path class="c154 o15" d="M33.2 669.9c63 0 198-15.5 261-15.5"/><path class="c155 o15" d="M33.2 680.8c63 0 198-1.5 261-1.5"/><path class="c156 o15" d="M33.2 661.2c63 0 198 46 261 46"/><path class="c157 o15" d="M33.2 679.6c63 0 198-42.5 261-42.5"/><path class="c83 o15" d="M33.2 694.8c63 0 198-30 261-30"/><path class="c158 o15" d="M33.2 673.7c63 0 198-30.5 261-30.5"/><path class="c159 o15" d="M33.2 663.4c63 0 198-.5 261-.5"/><path class="c160 o15" d="M33.2 696.8c63 0 198-48.5 261-48.5"/><path class="c161 o15" d="M33.2 652.4c63 0 198 42.5 261 42.5"/><path class="c162 o15" d="M33.2 698.9c63 0 198-32.5 261-32.5"/><path class="c90 o15" d="M33.2 692c63 0 198-19 261-19"/><path class="c163 o15" d="M33.2 648.8c63 0 198 2 261 2"/><path class="c164 o15" d="M33.2 692.1c63 0 198-44.5 261-44.5"/><path class="c105 o15" d="M33.2 672c63 0 198-24 261-24"/><path class="c165 o15" d="M33.2 686.5c63 0 198-26.5 261-26.5"/><path class="c97 o15" d="M33.2 692.6c63 0 198-34.5 261-34.5"/><path class="c50 o15" d="M33.2 703.8c63 0 198-24 261-24"/><path class="c166 o15" d="M33.2 663.8c63 0 198 13 261 13"/><path class="c167 o15" d="M33.2 681.4c63 0 198-32.5 261-32.5"/><path class="c150 o15" d="M33.2 708.2c63 0 198-55.5 261-55.5"/><path class="c133 o15" d="M33.2 679.8c63 0 198-27 261-27"/><path class="c100 o15" d="M33.2 683.3c63 0 198-18 261-18"/><path class="c90 o15" d="M33.2 692.1c63 0 198-51.5 261-51.5"/><path class="c0 o15" d="M33.2 715.7c63 0 198-95.5 261-95.5"/><path class="c168 o15" d="M33.2 709.3c63 0 198-89.5 261-89.5"/><path class="c169 o15" d="M33.2 705.2c63 0 198-96.5 261-96.5"/><path class="c64 o15" d="M33.2 667.1c63 0 198-16 261-16"/><path class="c170 o15" d="M33.2 632.6c63 0 198 68 261 68"/><path class="c171 o15" d="M33.2 662.3c63 0 198 19 261 19"/><path class="c172 o15" d="M33.2 673.4c63 0 198 16 261 16"/><path class="c173 o15" d="M33.2 689.6c63 0 198-62 261-62"/><path class="c174 o15" d="M33.2 679.2c63 0 198 24 261 24"/><path class="c175 o15" d="M33.2 717.2c63 0 198-102 261-102"/><path class="c176 o15" d="M33.2 645.1c63 0 198 27.5 261 27.5"/><path class="c177 o15" d="M33.2 681.6c63 0 198-5.5 261-5.5"/><path class="c178 o15" d="M33.2 666c63 0 198-33.5 261-33.5"/><path class="c179 o15" d="M33.2 717c63 0 198-105 261-105"/><path class="c151" d="M33.2 711.3c63 0 198 11 261 11"/><path class="c116 o15" d="M33.2 672.5c63 0 198 27 261 27"/><path class="c13 o15" d="M33.2 667.6c63 0 198-46 261-46"/><path class="c180 o15" d="M33.2 684.7c63 0 198-12 261-12"/><path class="c181 o15" d="M33.2 684.4c63 0 198-36 261-36"/><path class="c116 o15" d="M33.2 672.5c63 0 198 39 261 39"/><path class="c182 o15" d="M33.2 688.6c63 0 198-26.5 261-26.5"/><path class="c183 o15" d="M33.2 702c63 0 198-72.5 261-72.5"/><path class="c184 o15" d="M33.2 679.2c63 0 198-7 261-7"/><path class="c124 o15" d="M33.2 668c63 0 198-12.5 261-12.5"/><path class="c107 o15" d="M33.2 690.3c63 0 198-48.5 261-48.5"/><path class="c185 o15" d="M33.2 701.2c63 0 198-55 261-55"/><path class="c186 o15" d="M33.2 669.2c63 0 198-29 261-29"/><path class="c187 o15" d="M33.2 674.7c63 0 198 7.5 261 7.5"/><path class="c188 o15" d="M33.2 680.3c63 0 198-2 261-2"/><path class="c189 o15" d="M33.2 674.4c63 0 198 1.5 261 1.5"/><path class="c190 o15" d="M33.2 716.2c63 0 198-98.5 261-98.5"/><path class="c121 o15" d="M33.2 702.2c63 0 198-72.5 261-72.5"/><path class="c191 o15" d="M33.2 683.7c63 0 198-30 261-30"/><path class="c192 o15" d="M33.2 693c63 0 198-38.5 261-38.5"/><path class="c193 o15" d="M33.2 677.7c63 0 198-43.5 261-43.5"/><path class="c194 o15" d="M33.2 696.3c63 0 198-66.5 261-66.5"/><path class="c195 o15" d="M33.2 708.4c63 0 198-71.5 261-71.5"/><path class="c53 o19" d="M33.2 689.9c63 0 198-29 261-29"/><path class="c196 o15" d="M33.2 687.4c63 0 198-34.5 261-34.5"/><path class="c197 o15" d="M33.2 718c63 0 198-83 261-83"/><path class="c198 o15" d="M33.2 661.8c63 0 198 8 261 8"/><path class="c199 o15" d="M33.2 702.8c63 0 198-70.5 261-70.5"/><path class="c200 o15" d="M33.2 661.4c63 0 198 4.5 261 4.5"/><path class="c74 o15" d="M33.2 653.5c63 0 198 7 261 7"/><path class="c201 o15" d="M33.2 670.1c63 0 198-40 261-40"/><path class="c45" d="M33.2 752.7c63 0 198 1.5 261 1.5"/><path class="c39" d="M33.2 604.6c63 0 198 118 261 118"/><path class="c202 o15" d="M33.2 663.2c63 0 198-34.5 261-34.5"/><path class="c203 o15" d="M33.2 705.4c63 0 198-30.5 261-30.5"/><path class="c204 o15" d="M33.2 701.8c63 0 198-62 261-62"/><path class="c205 o15" d="M33.2 689.2c63 0 198-25.5 261-25.5"/><path class="c206 o15" d="M33.2 710.3c63 0 198-85 261-85"/><path class="c188 o15" d="M33.2 680.4c63 0 198-43 261-43"/><path class="c207 o15" d="M33.2 667.5c63 0 198-9 261-9"/><path class="c208 o15" d="M33.2 662.7c63 0 198 10.5 261 10.5"/><path class="c186 o15" d="M33.2 669.3c63 0 198-40.5 261-40.5"/><path class="c209" d="M33.2 651.2c63 0 198-12 261-12"/><path class="c210" d="M33.2 725.7c63 0 198-71.5 261-71.5"/><path class="c211 o15" d="M33.2 678.9c63 0 198-54.5 261-54.5"/><path class="c148 o15" d="M33.2 697.4c63 0 198-60.5 261-60.5"/><path class="c138 o15" d="M33.2 694.2c63 0 198-50 261-50"/><path class="c212 o15" d="M33.2 664c63 0 198 38 261 38"/><path class="c213 o15" d="M33.2 685.4c63 0 198-24 261-24"/><path class="c58 o15" d="M33.2 708.5c63 0 198-29.5 261-29.5"/><path class="c88 o15" d="M33.2 682.9c63 0 198 15.5 261 15.5"/><path class="c139 o15" d="M33.2 682.4c63 0 198-11 261-11"/><path class="c214 o15" d="M33.2 705.2c63 0 198-42.5 261-42.5"/><path class="c92 o15" d="M33.2 674.2c63 0 198 .5 261 .5"/><path class="c215 o15" d="M33.2 681.1c63 0 198-23.5 261-23.5"/><path class="c8 o15" d="M33.2 707.7c63 0 198-55.5 261-55.5"/><path class="c216 o15" d="M33.2 672.6c63 0 198-2 261-2"/><path class="c217 o15" d="M33.2 663.1c63 0 198 29 261 29"/><path class="c218 o15" d="M33.2 650.8c63 0 198 67.5 261 67.5"/><path class="c219 o15" d="M33.2 667.9c63 0 198 16 261 16"/><path class="c65 o15" d="M33.2 618c63 0 198 45.5 261 45.5"/><path class="c220 o15" d="M33.2 653.8c63 0 198 30.5 261 30.5"/><path class="c221 o15" d="M33.2 716.6c63 0 198-95.5 261-95.5"/><path class="c222 o15" d="M33.2 713.3c63 0 198-47.5 261-47.5"/><path class="c197 o15" d="M33.2 718c63 0 198-111 261-111"/><path class="c223 o15" d="M33.2 718.8c63 0 198-79 261-79"/><path class="c212 o15" d="M33.2 663.9c63 0 198 29 261 29"/><path class="c224 o15" d="M33.2 707.9c63 0 198-47.5 261-47.5"/><path class="c225 o15" d="M33.2 668.9c63 0 198 2.5 261 2.5"/><path class="c226 o15" d="M33.2 688.1c63 0 198 4.5 261 4.5"/><path class="c91 o15" d="M33.2 694.9c63 0 198-82.5 261-82.5"/><path class="c144 o15" d="M33.2 672.1c63 0 198 4 261 4"/><path class="c227 o15" d="M33.2 674c63 0 198 44.5 261 44.5"/><path class="c228 o15" d="M33.2 670.9c63 0 198-30.5 261-30.5"/><path class="c222 o15" d="M33.2 713.3c63 0 198-47 261-47"/><path class="c229 o15" d="M33.2 674.8c63 0 198 13 261 13"/><path class="c202 o15" d="M33.2 663.3c63 0 198 16.5 261 16.5"/><path class="c230 o15" d="M33.2 663.6c63 0 198 39.5 261 39.5"/><path class="c231 o15" d="M33.2 685.1c63 0 198-40.5 261-40.5"/><path class="c232 o15" d="M33.2 693.6c63 0 198-8.5 261-8.5"/><path class="c233 o15" d="M33.2 630.6c63 0 198 86.5 261 86.5"/><path class="c234 o15" d="M33.2 684.3c63 0 198-47 261-47"/><path class="c112 o15" d="M33.2 695.1c63 0 198-65.5 261-65.5"/><path class="c144 o15" d="M33.2 672.1c63 0 198 32 261 32"/><path class="c86 o15" d="M33.2 703.6c63 0 198-69.5 261-69.5"/><path class="c235 o15" d="M33.2 693.2c63 0 198-79 261-79"/><path class="c236 o15" d="M33.2 664.3c63 0 198-31.5 261-31.5"/><path class="c237 o15" d="M33.2 677.9c63 0 198-52.5 261-52.5"/><path class="c238 o15" d="M33.2 700.4c63 0 198-8 261-8"/><path class="c148 o15" d="M33.2 697.5c63 0 198-50 261-50"/><path class="c101 o15" d="M33.2 690.7c63 0 198 23 261 23"/><path class="c239 o15" d="M33.2 710.6c63 0 198-64 261-64"/><path class="c240 o15" d="M33.2 651.4c63 0 198 40.5 261 40.5"/><path class="c241 o15" d="M33.2 690.5c63 0 198-10 261-10"/><path class="c140 o15" d="M33.2 684.2c63 0 198-14.5 261-14.5"/><path class="c180 o15" d="M33.2 684.7c63 0 198-42.5 261-42.5"/><path class="c242 o15" d="M33.2 695.8c63 0 198-51.5 261-51.5"/><path class="c172 o15" d="M33.2 673.3c63 0 198 27 261 27"/><path class="c243 o15" d="M33.2 711.9c63 0 198-69.5 261-69.5"/><path class="c244 o15" d="M33.2 680.6c63 0 198 16 261 16"/><path class="c117 o15" d="M33.2 678.5c63 0 198 19.5 261 19.5"/><path class="c245 o15" d="M33.2 668.6c63 0 198 20.5 261 20.5"/><path class="c246" d="M33.2 614.1c63 0 198 102 261 102"/><path class="c204 o15" d="M33.2 701.9c63 0 198-57.5 261-57.5"/><path class="c247 o15" d="M33.2 703.9c63 0 198-35 261-35"/><path class="c173 o15" d="M33.2 689.5c63 0 198-36.5 261-36.5"/><path class="c196 o15" d="M33.2 687.5c63 0 198-37 261-37"/><path class="c180 o15" d="M33.2 684.7c63 0 198-41.5 261-41.5"/><path class="c227 o15" d="M33.2 674c63 0 198 4 261 4"/><path class="c248 o15" d="M33.2 704.8c63 0 198-55.5 261-55.5"/><path class="c249 o15" d="M33.2 646c63 0 198 70 261 70"/><path class="c121 o15" d="M33.2 702.1c63 0 198-76.5 261-76.5"/><path class="c229 o15" d="M33.2 674.9c63 0 198-3 261-3"/><path class="c250 o15" d="M33.2 662c63 0 198 41.5 261 41.5"/><path class="c251 o15" d="M33.2 678.1c63 0 198-66 261-66"/><path class="c252 o15" d="M33.2 665.8c63 0 198 12.5 261 12.5"/><path class="c253 o15" d="M33.2 658.6c63 0 198-29 261-29"/><path class="c162 o15" d="M33.2 698.9c63 0 198-71.5 261-71.5"/><path class="c254 o15" d="M33.2 702.9c63 0 198-72 261-72"/><path class="c120 o15" d="M33.2 690.1c63 0 198-8 261-8"/><path class="c231 o15" d="M33.2 685.1c63 0 198-55 261-55"/><path class="c119 o15" d="M33.2 674.5c63 0 198-62.5 261-62.5"/><path class="c255 o15" d="M33.2 720c63 0 198-79.5 261-79.5"/><path class="c256 o15" d="M33.2 689.3c63 0 198 .5 261 .5"/><path class="c24 o15" d="M33.2 682.6c63 0 198-30.5 261-30.5"/><path class="c257 o15" d="M33.2 692.9c63 0 198-48.5 261-48.5"/><path class="c258" d="M33.2 719.9c63 0 198 36.5 261 36.5"/><path class="c259 o15" d="M33.2 695.7c63 0 198-87.5 261-87.5"/><path class="c260 o15" d="M33.2 676.3c63 0 198-31.5 261-31.5"/><path class="c7 o15" d="M33.2 675.5c63 0 198 15 261 15"/><path class="c83 o15" d="M33.2 694.7c63 0 198-29.5 261-29.5"/><path class="c69 o15" d="M33.2 662.6c63 0 198 13.5 261 13.5"/><path class="c261 o15" d="M33.2 677.6c63 0 198-46.5 261-46.5"/><path class="c84 o15" d="M33.2 666.5c63 0 198-3.5 261-3.5"/><path class="c262" d="M33.2 616.6c63 0 198 106 261 106"/><path class="c132 o15" d="M33.2 680.2c63 0 198-30 261-30"/><path class="c26 o15" d="M33.2 693.9c63 0 198-68 261-68"/><path class="c263 o15" d="M33.2 664.7c63 0 198 38.5 261 38.5"/><path class="c264" d="M33.2 721.4c63 0 198 5 261 5"/><path class="c84 o15" d="M33.2 666.4c63 0 198-7 261-7"/><path class="c265 o15" d="M33.2 646.9c63 0 198 37 261 37"/><path class="c266 o15" d="M33.2 692.3c63 0 198-35 261-35"/><path class="c267" d="M33.2 634c63 0 198 44 261 44"/><path class="c212 o15" d="M33.2 664c63 0 198 41 261 41"/><path class="c61 o15" d="M33.2 713.1c63 0 198-88.5 261-88.5"/><path class="c268 o15" d="M33.2 691.3c63 0 198-24.5 261-24.5"/><path class="c269 o15" d="M33.2 656.1c63 0 198 58.5 261 58.5"/><path class="c270 o15" d="M33.2 670.2c63 0 198-1.5 261-1.5"/><path class="c271 o15" d="M33.2 704.5c63 0 198-68 261-68"/><path class="c272 o15" d="M33.2 673.1c63 0 198-24 261-24"/><path class="c273 o15" d="M33.2 665.1c63 0 198 4.5 261 4.5"/><path class="c129 o15" d="M33.2 675.8c63 0 198 26 261 26"/><path class="c181 o15" d="M33.2 684.5c63 0 198-18 261-18"/><path class="c274" d="M33.2 639.4c63 0 198 71.5 261 71.5"/><path class="c237 o15" d="M33.2 677.9c63 0 198-23 261-23"/><path class="c22 o15" d="M33.2 688.3c63 0 198-62.5 261-62.5"/><path class="c145 o15" d="M33.2 688c63 0 198-51.5 261-51.5"/><path class="c63 o15" d="M33.2 671.8c63 0 198 25 261 25"/><path class="c164 o15" d="M33.2 692.1c63 0 198-27 261-27"/><path class="c71 o15" d="M33.2 658.2c63 0 198 24.5 261 24.5"/><path class="c22 o15" d="M33.2 688.2c63 0 198 15.5 261 15.5"/><path class="c275 o15" d="M33.2 715.5c63 0 198-49 261-49"/><path class="c75 o15" d="M33.2 649.2c63 0 198 50.5 261 50.5"/><path class="c127 o15" d="M33.2 715.8c63 0 198-78 261-78"/><path class="c276 o15" d="M33.2 658.1c63 0 198-20 261-20"/><path class="c207 o15" d="M33.2 667.5c63 0 198 24 261 24"/><path class="c277 o15" d="M33.2 688.4c63 0 198-56.5 261-56.5"/><path class="c158 o15" d="M33.2 673.7c63 0 198 16 261 16"/><path class="c132 o15" d="M33.2 680.2c63 0 198-17.5 261-17.5"/><path class="c278 o15" d="M33.2 687.4c63 0 198-13 261-13"/><path class="c279 o15" d="M33.2 685.9c63 0 198-5.5 261-5.5"/><path class="c206 o15" d="M33.2 710.3c63 0 198-53 261-53"/><path class="c280 o15" d="M33.2 683c63 0 198-17 261-17"/><path class="c281 o15" d="M33.2 657c63 0 198-27.5 261-27.5"/><path class="c282 o15" d="M33.2 642.4c63 0 198 36 261 36"/><path class="c21 o15" d="M33.2 676.8c63 0 198 15 261 15"/><path class="c279 o15" d="M33.2 685.9c63 0 198-45.5 261-45.5"/><path class="c283" d="M33.2 639.2c63 0 198 7 261 7"/><path class="c284 o15" d="M33.2 695.5c63 0 198-67 261-67"/><path class="c28 o15" d="M33.2 665.3c63 0 198-20 261-20"/><path class="c285 o15" d="M33.2 712.4c63 0 198-83.5 261-83.5"/><path class="c100 o15" d="M33.2 683.5c63 0 198-1 261-1"/><path class="c9 o15" d="M33.2 683.5c63 0 198-71.5 261-71.5"/><path class="c181 o15" d="M33.2 684.4c63 0 198-17.5 261-17.5"/><path class="c6 o15" d="M33.2 699.7c63 0 198-27.5 261-27.5"/><path class="c286 o15" d="M33.2 652.6c63 0 198 49.5 261 49.5"/><path class="c53 o15" d="M33.2 689.9c63 0 198-38.5 261-38.5"/><path class="c272 o15" d="M33.2 672.9c63 0 198 20.5 261 20.5"/><path class="c69 o15" d="M33.2 662.6c63 0 198-38 261-38"/><path class="c287 o15" d="M33.2 695.4c63 0 198-41 261-41"/><path class="c288 o15" d="M33.2 691.9c63 0 198-31 261-31"/><path class="c147 o15" d="M33.2 684.9c63 0 198 18.5 261 18.5"/><path class="c213 o15" d="M33.2 685.5c63 0 198-11.5 261-11.5"/><path class="c289" d="M33.2 711c63 0 198-14 261-14"/><path class="c290" d="M33.2 726c63 0 198-20.5 261-20.5"/><path class="c291 o15" d="M33.2 707.2c63 0 198-32.5 261-32.5"/><path class="c263 o15" d="M33.2 664.7c63 0 198 37 261 37"/><path class="c222 o15" d="M33.2 713.3c63 0 198-77.5 261-77.5"/><path class="c113 o15" d="M33.2 688.7c63 0 198-4.5 261-4.5"/><path class="c99 o15" d="M33.2 682.8c63 0 198-28.5 261-28.5"/><path class="c292 o15" d="M33.2 647.4c63 0 198 60.5 261 60.5"/><path class="c293 o15" d="M33.2 665c63 0 198 33 261 33"/><path class="c294 o15" d="M33.2 666.6c63 0 198-20.5 261-20.5"/><path class="c295 o15" d="M33.2 722.5c63 0 198-94 261-94"/><path class="c191 o15" d="M33.2 683.7c63 0 198 5.5 261 5.5"/><path class="c296 o15" d="M33.2 669.5c63 0 198 25.5 261 25.5"/><path class="c205 o15" d="M33.2 689.2c63 0 198 16 261 16"/><path class="c257 o15" d="M33.2 692.9c63 0 198-1 261-1"/><path class="c132 o15" d="M33.2 680.1c63 0 198-30 261-30"/><path class="c297 o15" d="M33.2 700.1c63 0 198-61 261-61"/><path class="c145 o15" d="M33.2 688c63 0 198-18.5 261-18.5"/><path class="c211 o15" d="M33.2 679c63 0 198-22 261-22"/><path class="c269 o15" d="M33.2 656.1c63 0 198 20 261 20"/><path class="c120 o15" d="M33.2 690.1c63 0 198-71 261-71"/><path class="c102 o15" d="M33.2 656.4c63 0 198 2 261 2"/><path class="c298 o15" d="M33.2 700.9c63 0 198-65.5 261-65.5"/><path class="c187 o15" d="M33.2 674.7c63 0 198 12.5 261 12.5"/><path class="c299 o15" d="M33.2 714.4c63 0 198-81.5 261-81.5"/><path class="c107 o15" d="M33.2 690.3c63 0 198-19.5 261-19.5"/><path class="c132 o15" d="M33.2 680.2c63 0 198-24 261-24"/><path class="c300 o15" d="M33.2 703.3c63 0 198-81.5 261-81.5"/><path class="c301 o15" d="M33.2 681.9c63 0 198-20 261-20"/><path class="c238 o15" d="M33.2 700.4c63 0 198-53 261-53"/><path class="c302 o15" d="M33.2 688.9c63 0 198-42 261-42"/><path class="c24 o15" d="M33.2 682.6c63 0 198 4.5 261 4.5"/><path class="c303 o15" d="M33.2 706.5c63 0 198-65.5 261-65.5"/><path class="c304 o15" d="M33.2 664.1c63 0 198 35.5 261 35.5"/><path class="c252 o15" d="M33.2 665.9c63 0 198 15 261 15"/><path class="c142 o15" d="M33.2 706.1c63 0 198-57 261-57"/><path class="c90 o15" d="M33.2 692.1c63 0 198-67 261-67"/><path class="c305 o15" d="M33.2 703.1c63 0 198-41.5 261-41.5"/><path class="c61 o15" d="M33.2 713.2c63 0 198-94.5 261-94.5"/><path class="c106 o15" d="M33.2 711.8c63 0 198-88 261-88"/><path class="c306 o15" d="M33.2 660c63 0 198 59.5 261 59.5"/><path class="c178 o15" d="M33.2 665.9c63 0 198 4 261 4"/><path class="c307 o15" d="M33.2 713.5c63 0 198-56 261-56"/><path class="c146 o15" d="M33.2 706.2c63 0 198-61 261-61"/><path class="c22 o15" d="M33.2 688.3c63 0 198-55 261-55"/><path class="c308 o15" d="M33.2 699.4c63 0 198-38.5 261-38.5"/><path class="c309 o15" d="M33.2 654.8c63 0 198 19 261 19"/><path class="c310 o15" d="M33.2 697.9c63 0 198-21 261-21"/><path class="c131 o15" d="M33.2 690c63 0 198-19 261-19"/><path class="c311 o15" d="M33.2 686.2c63 0 198-31 261-31"/><path class="c138 o15" d="M33.2 694.3c63 0 198-45.5 261-45.5"/><path class="c202 o15" d="M33.2 663.2c63 0 198 3.5 261 3.5"/><path class="c6 o15" d="M33.2 699.6c63 0 198-29 261-29"/><path class="c312 o15" d="M33.2 671.5c63 0 198-17 261-17"/><path class="c313 o15" d="M33.2 691.7c63 0 198-42.5 261-42.5"/><path class="c156 o15" d="M33.2 661.2c63 0 198 5.5 261 5.5"/><path class="c231 o15" d="M33.2 685.1c63 0 198-37 261-37"/><path class="c130 o15" d="M33.2 705c63 0 198-54.5 261-54.5"/><path class="c314" d="M33.2 753.5c63 0 198 8 261 8"/><path class="c162 o15" d="M33.2 698.8c63 0 198-62 261-62"/><path class="c22 o19" d="M33.2 688.2c63 0 198-40 261-40"/><path class="c114 o15" d="M33.2 693.5c63 0 198-71 261-71"/><path class="c315 o15" d="M33.2 694.3c63 0 198-27 261-27"/><path class="c133 o15" d="M33.2 679.9c63 0 198-65.5 261-65.5"/><path class="c74 o15" d="M33.2 653.4c63 0 198 3 261 3"/><path class="c279 o15" d="M33.2 685.9c63 0 198 31.5 261 31.5"/><path class="c316 o15" d="M33.2 711c63 0 198-69 261-69"/><path class="c139 o15" d="M33.2 682.4c63 0 198-35.5 261-35.5"/><path class="c14 o15" d="M33.2 659.6c63 0 198 25 261 25"/><path class="c123 o15" d="M33.2 707.5c63 0 198-64.5 261-64.5"/><path class="c153 o15" d="M33.2 687.2c63 0 198-41.5 261-41.5"/><path class="c126 o15" d="M33.2 685.2c63 0 198 31.5 261 31.5"/><path class="c194 o15" d="M33.2 696.4c63 0 198 16 261 16"/><path class="c317 o15" d="M33.2 709.7c63 0 198-61.5 261-61.5"/><path class="c309 o15" d="M33.2 654.7c63 0 198 13 261 13"/><path class="c132 o15" d="M33.2 680.2c63 0 198 2.5 261 2.5"/><path class="c70 o15" d="M33.2 676.5c63 0 198 1 261 1"/><path class="c121 o15" d="M33.2 702.1c63 0 198-70 261-70"/><path class="c265" d="M33.2 647.1c63 0 198 16.5 261 16.5"/><path class="c318 o15" d="M33.2 701.8c63 0 198-49 261-49"/><path class="c106 o15" d="M33.2 711.7c63 0 198-82 261-82"/><path class="c208 o15" d="M33.2 662.7c63 0 198-21 261-21"/><path class="c319 o15" d="M33.2 691.6c63 0 198-13 261-13"/><path class="c236 o15" d="M33.2 664.3c63 0 198 11 261 11"/><path class="c320 o15" d="M33.2 664.6c63 0 198 10 261 10"/><path class="c158 o15" d="M33.2 673.7c63 0 198-58.5 261-58.5"/><path class="c113 o15" d="M33.2 688.7c63 0 198-45.5 261-45.5"/><path class="c116 o15" d="M33.2 672.5c63 0 198 28 261 28"/><path class="c229 o15" d="M33.2 674.9c63 0 198 20 261 20"/><path class="c321 o15" d="M33.2 686.9c63 0 198-41.5 261-41.5"/><path class="c24 o15" d="M33.2 682.5c63 0 198-6 261-6"/><path class="c322 o15" d="M33.2 696.2c63 0 198-29 261-29"/><path class="c123 o15" d="M33.2 707.5c63 0 198-74.5 261-74.5"/><path class="c323 o15" d="M33.2 682.3c63 0 198-77.5 261-77.5"/><path class="c126 o15" d="M33.2 685.2c63 0 198 6 261 6"/><path class="c324 o15" d="M33.2 670.6c63 0 198-17 261-17"/><path class="c325 o15" d="M33.2 690.9c63 0 198-40.5 261-40.5"/><path class="c167 o15" d="M33.2 681.3c63 0 198 4.5 261 4.5"/><path class="c194 o15" d="M33.2 696.3c63 0 198-27 261-27"/><path class="c326 o15" d="M33.2 649.6c63 0 198 10.5 261 10.5"/><path class="c327 o15" d="M33.2 675c63 0 198-41 261-41"/><path class="c282 o15" d="M33.2 642.3c63 0 198 32 261 32"/><path class="c69 o15" d="M33.2 662.5c63 0 198 30 261 30"/><path class="c220 o15" d="M33.2 653.9c63 0 198 48.5 261 48.5"/><path class="c328 o15" d="M33.2 701.6c63 0 198-18.5 261-18.5"/><path class="c329 o15" d="M33.2 684.5c63 0 198-33 261-33"/><path class="c169 o15" d="M33.2 705.2c63 0 198-78.5 261-78.5"/><path class="c36 o15" d="M33.2 711.4c63 0 198-71 261-71"/><path class="c102 o15" d="M33.2 656.5c63 0 198 6 261 6"/><path class="c296 o15" d="M33.2 669.6c63 0 198 23 261 23"/><path class="c330 o15" d="M33.2 676c63 0 198-28 261-28"/><path class="c331 o15" d="M33.2 653.2c63 0 198 54 261 54"/><path class="c332 o15" d="M33.2 670.5c63 0 198 8 261 8"/><path class="c333 o15" d="M33.2 692.2c63 0 198-9.5 261-9.5"/><path class="c334 o15" d="M33.2 698.6c63 0 198-48 261-48"/><path class="c335 o15" d="M33.2 677.1c63 0 198 31 261 31"/><path class="c336 o15" d="M33.2 665.6c63 0 198-17.5 261-17.5"/><path class="c180 o15" d="M33.2 684.8c63 0 198-23 261-23"/><path class="c299 o15" d="M33.2 714.4c63 0 198-73 261-73"/><path class="c256 o15" d="M33.2 689.4c63 0 198-33.5 261-33.5"/><path class="c337 o15" d="M33.2 650.5c63 0 198 29.5 261 29.5"/><path class="c104 o15" d="M33.2 668.4c63 0 198 3.5 261 3.5"/><path class="c22 o15" d="M33.2 688.3c63 0 198-44 261-44"/><path class="c132 o15" d="M33.2 680.2c63 0 198-15 261-15"/><path class="c266 o15" d="M33.2 692.3c63 0 198-26.5 261-26.5"/><path class="c184 o15" d="M33.2 679.4c63 0 198-23.5 261-23.5"/><path class="c324 o15" d="M33.2 670.6c63 0 198-3.5 261-3.5"/><path class="c148 o15" d="M33.2 697.3c63 0 198-59.5 261-59.5"/><path class="c264 o15" d="M33.2 721.4c63 0 198-81.5 261-81.5"/><path class="c338 o15" d="M33.2 716.1c63 0 198-93 261-93"/><path class="c195 o15" d="M33.2 708.4c63 0 198-81.5 261-81.5"/><path class="c339 o15" d="M33.2 713.7c63 0 198-92 261-92"/><path class="c194 o15" d="M33.2 696.4c63 0 198-85.5 261-85.5"/><path class="c303 o15" d="M33.2 706.5c63 0 198-42 261-42"/><path class="c340" d="M33.2 625.1c63 0 198 99 261 99"/><path class="c341" d="M33.2 643.5c63 0 198 11 261 11"/><path class="c66 o15" d="M33.2 685.6c63 0 198-47.5 261-47.5"/><path class="c245 o15" d="M33.2 668.8c63 0 198-50 261-50"/><path class="c342 o15" d="M33.2 719c63 0 198-71.5 261-71.5"/><path class="c300 o15" d="M33.2 703.2c63 0 198-96.5 261-96.5"/><path class="c343 o15" d="M33.2 709.5c63 0 198-67.5 261-67.5"/><path class="c201 o15" d="M33.2 670.1c63 0 198 13.5 261 13.5"/><path class="c344 o15" d="M33.2 686.3c63 0 198-40.5 261-40.5"/><path class="c345 o15" d="M33.2 686.6c63 0 198-14.5 261-14.5"/><path class="c326 o15" d="M33.2 649.5c63 0 198 15 261 15"/><path class="c26 o15" d="M33.2 694c63 0 198-32 261-32"/><path class="c87 o15" d="M33.2 702.3c63 0 198-78.5 261-78.5"/><path class="c329 o15" d="M33.2 684.7c63 0 198-54 261-54"/><path class="c173 o15" d="M33.2 689.6c63 0 198-23 261-23"/><path class="c289 o15" d="M33.2 711.1c63 0 198-85 261-85"/><path class="c276 o15" d="M33.2 658c63 0 198 38.5 261 38.5"/><path class="c324 o15" d="M33.2 670.6c63 0 198 3.5 261 3.5"/><path class="c346 o15" d="M33.2 662.2c63 0 198 26 261 26"/><path class="c347 o15" d="M33.2 726.8c63 0 198-89.5 261-89.5"/><path class="c322 o15" d="M33.2 696.1c63 0 198-39.5 261-39.5"/><path class="c69 o15" d="M33.2 662.5c63 0 198 29.5 261 29.5"/><path class="c122 o15" d="M33.2 681.5c63 0 198-27 261-27"/><path class="c96 o15" d="M33.2 670.8c63 0 198-26.5 261-26.5"/><path class="c348 o15" d="M33.2 698.7c63 0 198-52.5 261-52.5"/><path class="c313 o15" d="M33.2 691.8c63 0 198-46 261-46"/><path class="c349 o15" d="M33.2 687.6c63 0 198-50 261-50"/><path class="c350 o15" d="M33.2 690.7c63 0 198-71 261-71"/><path class="c251 o15" d="M33.2 678.1c63 0 198 24 261 24"/><path class="c88 o15" d="M33.2 682.9c63 0 198 3 261 3"/><path class="c260 o15" d="M33.2 676.2c63 0 198 12.5 261 12.5"/><path class="c261 o15" d="M33.2 677.6c63 0 198 16.5 261 16.5"/><path class="c351 o15" d="M33.2 665.5c63 0 198-7 261-7"/><path class="c296 o15" d="M33.2 669.5c63 0 198-47 261-47"/><path class="c6 o15" d="M33.2 699.5c63 0 198-68 261-68"/><path class="c352 o15" d="M33.2 698.6c63 0 198-51.5 261-51.5"/><path class="c204 o15" d="M33.2 701.8c63 0 198-90.5 261-90.5"/><path class="c353 o15" d="M33.2 692.6c63 0 198-45 261-45"/><path class="c354 o15" d="M33.2 714.3c63 0 198-75 261-75"/><path class="c23 o15" d="M33.2 671c63 0 198-13.5 261-13.5"/><path class="c307 o15" d="M33.2 713.5c63 0 198-75 261-75"/><path class="c214 o15" d="M33.2 705.2c63 0 198-63 261-63"/><path class="c272 o15" d="M33.2 673.1c63 0 198-21.5 261-21.5"/><path class="c355 o15" d="M33.2 658.5c63 0 198 20 261 20"/><path class="c28 o15" d="M33.2 665.3c63 0 198 3 261 3"/><path class="c356 o15" d="M33.2 699.9c63 0 198-49.5 261-49.5"/><path class="c247 o15" d="M33.2 703.9c63 0 198-19.5 261-19.5"/><path class="c357 o15" d="M33.2 673.4c63 0 198 7.5 261 7.5"/><path class="c193 o15" d="M33.2 677.8c63 0 198 9 261 9"/><path class="c294 o15" d="M33.2 666.7c63 0 198 29 261 29"/><path class="c126 o15" d="M33.2 685.3c63 0 198 32 261 32"/><path class="c238 o15" d="M33.2 700.4c63 0 198-71 261-71"/><path class="c358 o15" d="M33.2 678.7c63 0 198-3.5 261-3.5"/><path class="c209 o15" d="M33.2 651.3c63 0 198 8 261 8"/><path class="c359 o15" d="M33.2 654.5c63 0 198 12 261 12"/><path class="c284 o15" d="M33.2 695.5c63 0 198-42 261-42"/><path class="c360" d="M33.2 641.5c63 0 198 42 261 42"/><path class="c133 o15" d="M33.2 679.8c63 0 198 2 261 2"/><path class="c187 o15" d="M33.2 674.7c63 0 198 5.5 261 5.5"/><path class="c114 o15" d="M33.2 693.5c63 0 198 0 261 0"/><path class="c207 o15" d="M33.2 667.6c63 0 198 20.5 261 20.5"/><path class="c361 o15" d="M33.2 689.1c63 0 198-63 261-63"/><path class="c180 o15" d="M33.2 684.9c63 0 198-47 261-47"/><path class="c153 o15" d="M33.2 687.1c63 0 198-39.5 261-39.5"/><path class="c14 o15" d="M33.2 659.7c63 0 198 17.5 261 17.5"/><path class="c362" d="M33.2 717.9c63 0 198-41.5 261-41.5"/><path class="c186 o15" d="M33.2 669.2c63 0 198-39.5 261-39.5"/><path class="c296 o15" d="M33.2 669.6c63 0 198-13 261-13"/><path class="c185 o15" d="M33.2 701.1c63 0 198-44.5 261-44.5"/><path class="c117 o15" d="M33.2 678.5c63 0 198-57 261-57"/><path class="c103 o15" d="M33.2 676.6c63 0 198-7.5 261-7.5"/><path class="c363 o15" d="M33.2 655c63 0 198-2.5 261-2.5"/><path class="c335 o15" d="M33.2 677.1c63 0 198-19.5 261-19.5"/><path class="c364 o15" d="M33.2 699.1c63 0 198-42 261-42"/><path class="c365 o15" d="M33.2 673.8c63 0 198-6 261-6"/><path class="c366 o15" d="M33.2 664.4c63 0 198-45 261-45"/><path class="c218" d="M33.2 650.8c63 0 198-1 261-1"/><path class="c367 o15" d="M33.2 667.2c63 0 198 44 261 44"/><path class="c368 o15" d="M33.2 720.4c63 0 198-97 261-97"/><path class="c369 o15" d="M33.2 655.7c63 0 198 9.5 261 9.5"/><path class="c205 o15" d="M33.2 689.2c63 0 198-49.5 261-49.5"/><path class="c268 o15" d="M33.2 691.3c63 0 198-67.5 261-67.5"/><path class="c370 o15" d="M33.2 709.4c63 0 198-74 261-74"/><path class="c139 o15" d="M33.2 682.4c63 0 198 3 261 3"/><path class="c355 o15" d="M33.2 658.4c63 0 198 24 261 24"/><path class="c371 o15" d="M33.2 678.8c63 0 198-24 261-24"/><path class="c372" d="M33.2 628c63 0 198 90.5 261 90.5"/><path class="c260 o15" d="M33.2 676.3c63 0 198 4 261 4"/><path class="c45" d="M33.2 752.7c63 0 198 4.5 261 4.5"/><path class="c226 o15" d="M33.2 688.1c63 0 198-25.5 261-25.5"/><path class="c105 o15" d="M33.2 671.9c63 0 198 22 261 22"/><path class="c373 o15" d="M33.2 707.3c63 0 198-89.5 261-89.5"/><path class="c361 o15" d="M33.2 689c63 0 198-60 261-60"/><path class="c374 o15" d="M33.2 645.7c63 0 198 25.5 261 25.5"/><path class="c194 o15" d="M33.2 696.2c63 0 198-35 261-35"/><path class="c252 o15" d="M33.2 665.7c63 0 198 49.5 261 49.5"/><path class="c375 o15" d="M33.2 667.3c63 0 198 32.5 261 32.5"/><path class="c140 o15" d="M33.2 684.1c63 0 198 18.5 261 18.5"/><path class="c179 o15" d="M33.2 716.9c63 0 198-85 261-85"/><path class="c376 o15" d="M33.2 668.5c63 0 198 9.5 261 9.5"/><path class="c377 o15" d="M33.2 658.9c63 0 198 20.5 261 20.5"/><path class="c291 o15" d="M33.2 707.2c63 0 198-68 261-68"/><path class="c378 o15" d="M33.2 683.2c63 0 198-37 261-37"/><path class="c211 o15" d="M33.2 678.9c63 0 198-9 261-9"/><path class="c132 o15" d="M33.2 680.2c63 0 198-38.5 261-38.5"/><path class="c379 o15" d="M33.2 700.6c63 0 198-35 261-35"/><path class="c181 o15" d="M33.2 684.4c63 0 198-35 261-35"/><path class="c194" d="M33.2 696.3c63 0 198 21.5 261 21.5"/><path class="c256 o15" d="M33.2 689.3c63 0 198-29 261-29"/><path class="c324 o15" d="M33.2 670.6c63 0 198 40.5 261 40.5"/><path class="c309 o15" d="M33.2 654.6c63 0 198 57 261 57"/><path class="c184 o15" d="M33.2 679.3c63 0 198-5.5 261-5.5"/><path class="c380 o15" d="M33.2 649.8c63 0 198 46.5 261 46.5"/><path class="c235 o15" d="M33.2 693.2c63 0 198-58.5 261-58.5"/><path class="c160 o15" d="M33.2 696.8c63 0 198 9.5 261 9.5"/><path class="c187 o15" d="M33.2 674.7c63 0 198 36 261 36"/><path class="c164 o15" d="M33.2 692.2c63 0 198-2 261-2"/><path class="c306 o15" d="M33.2 660c63 0 198 34.5 261 34.5"/><path class="c234 o15" d="M33.2 684.3c63 0 198-22.5 261-22.5"/><path class="c118 o15" d="M33.2 712.8c63 0 198-69.5 261-69.5"/><path class="c357 o15" d="M33.2 673.5c63 0 198-66.5 261-66.5"/><path class="c381 o15" d="M33.2 669c63 0 198-7 261-7"/><path class="c382 o19" d="M33.2 660.3c63 0 198-11.5 261-11.5"/><path class="c226 o15" d="M33.2 688.1c63 0 198-24 261-24"/><path class="c109 o15" d="M33.2 704.6c63 0 198-81.5 261-81.5"/><path class="c317 o15" d="M33.2 709.8c63 0 198-89.5 261-89.5"/><path class="c92 o15" d="M33.2 674.1c63 0 198-9 261-9"/><path class="c22 o15" d="M33.2 688.3c63 0 198 7 261 7"/><path class="c174 o15" d="M33.2 679.2c63 0 198-24 261-24"/><path class="c154 o15" d="M33.2 669.9c63 0 198-58 261-58"/><path class="c293 o15" d="M33.2 664.9c63 0 198 27.5 261 27.5"/><path class="c283 o15" d="M33.2 639.1c63 0 198 52 261 52"/><path class="c315 o15" d="M33.2 694.3c63 0 198-32 261-32"/><path class="c344 o15" d="M33.2 686.3c63 0 198-72 261-72"/><path class="c383 o15" d="M33.2 637.9c63 0 198 51.5 261 51.5"/><path class="c260 o15" d="M33.2 676.3c63 0 198-30 261-30"/><path class="c384 o15" d="M33.2 659.8c63 0 198 29 261 29"/><path class="c385 o15" d="M33.2 696.9c63 0 198-16 261-16"/><path class="c329 o15" d="M33.2 684.5c63 0 198-35 261-35"/><path class="c333 o15" d="M33.2 692.2c63 0 198-62.5 261-62.5"/><path class="c219 o15" d="M33.2 667.8c63 0 198-3 261-3"/><path class="c194 o15" d="M33.2 696.3c63 0 198-38 261-38"/><path class="c386 o15" d="M33.2 672.7c63 0 198 35 261 35"/><path class="c321 o15" d="M33.2 686.9c63 0 198-68 261-68"/><path class="c67 o15" d="M33.2 681c63 0 198-52.5 261-52.5"/><path class="c325 o15" d="M33.2 691c63 0 198-14.5 261-14.5"/><path class="c243 o15" d="M33.2 711.9c63 0 198-63.5 261-63.5"/><path class="c352 o15" d="M33.2 698.5c63 0 198-24.5 261-24.5"/><path class="c387" d="M33.2 752c63 0 198 9 261 9"/><path class="c202 o15" d="M33.2 663.3c63 0 198 24.5 261 24.5"/><path class="c302 o15" d="M33.2 688.8c63 0 198-17.5 261-17.5"/><path class="c348 o15" d="M33.2 698.7c63 0 198-92 261-92"/><path class="c216 o15" d="M33.2 672.6c63 0 198 37.5 261 37.5"/><path class="c388 o15" d="M33.2 701.4c63 0 198-47 261-47"/><path class="c180 o15" d="M33.2 684.7c63 0 198-72.5 261-72.5"/><path class="c258" d="M33.2 719.9c63 0 198-63.5 261-63.5"/><path class="c339 o15" d="M33.2 713.9c63 0 198-41 261-41"/><path class="c389 o15" d="M33.2 657.2c63 0 198 34.5 261 34.5"/><path class="c21 o15" d="M33.2 676.7c63 0 198 17.5 261 17.5"/><path class="c351 o15" d="M33.2 665.5c63 0 198 25 261 25"/><path class="c199 o15" d="M33.2 702.7c63 0 198-2 261-2"/><path class="c390 o15" d="M33.2 698.1c63 0 198-23.5 261-23.5"/><path class="c69 o15" d="M33.2 662.6c63 0 198-24.5 261-24.5"/><path class="c86 o15" d="M33.2 703.5c63 0 198-44.5 261-44.5"/><path class="c211 o15" d="M33.2 679c63 0 198 11.5 261 11.5"/><path class="c193 o15" d="M33.2 677.7c63 0 198-51 261-51"/><path class="c177 o15" d="M33.2 681.7c63 0 198-29 261-29"/><path class="c391 o15" d="M33.2 641.5c63 0 198 57.5 261 57.5"/><path class="c228 o15" d="M33.2 670.9c63 0 198 49 261 49"/><path class="c26 o15" d="M33.2 693.9c63 0 198-80.5 261-80.5"/><path class="c57 o15" d="M33.2 699.3c63 0 198-67.5 261-67.5"/><path class="c392 o15" d="M33.2 697.6c63 0 198-38 261-38"/><path class="c393 o15" d="M33.2 654.9c63 0 198 12.5 261 12.5"/><path class="c332 o15" d="M33.2 670.4c63 0 198 17.5 261 17.5"/><path class="c259 o15" d="M33.2 695.7c63 0 198-17 261-17"/><path class="c394 o15" d="M33.2 650c63 0 198 36 261 36"/><path class="c205 o15" d="M33.2 689.3c63 0 198-30.5 261-30.5"/><path class="c395 o15" d="M33.2 696c63 0 198-91 261-91"/><path class="c259 o15" d="M33.2 695.6c63 0 198-68.5 261-68.5"/><path class="c322 o15" d="M33.2 696.2c63 0 198-25 261-25"/><path class="c242 o15" d="M33.2 695.9c63 0 198-48.5 261-48.5"/><path class="c396 o15" d="M33.2 686.1c63 0 198-52 261-52"/><path class="c162 o15" d="M33.2 698.8c63 0 198-69 261-69"/><path class="c303 o15" d="M33.2 706.6c63 0 198-71 261-71"/><path class="c397 o15" d="M33.2 697.8c63 0 198-60.5 261-60.5"/><path class="c398 o15" d="M33.2 697.2c63 0 198-35.5 261-35.5"/><path class="c273 o15" d="M33.2 665c63 0 198-8.5 261-8.5"/><path class="c83 o15" d="M33.2 694.7c63 0 198-68.5 261-68.5"/><path class="c215 o15" d="M33.2 681.2c63 0 198 8 261 8"/><path class="c238 o15" d="M33.2 700.4c63 0 198-47.5 261-47.5"/><path class="c215 o15" d="M33.2 681.2c63 0 198-5 261-5"/><path class="c323 o15" d="M33.2 682.2c63 0 198-21.5 261-21.5"/><path class="c273 o15" d="M33.2 665.1c63 0 198 13.5 261 13.5"/><path class="c399 o15" d="M33.2 706.7c63 0 198-47.5 261-47.5"/><path class="c90 o15" d="M33.2 692.1c63 0 198-50.5 261-50.5"/><path class="c245 o15" d="M33.2 668.7c63 0 198-27 261-27"/><path class="c211 o15" d="M33.2 678.9c63 0 198-57 261-57"/><path class="c259 o15" d="M33.2 695.7c63 0 198-66 261-66"/><path class="c400 o15" d="M33.2 663c63 0 198 37 261 37"/><path class="c7 o15" d="M33.2 675.5c63 0 198-19.5 261-19.5"/><path class="c265 o15" d="M33.2 646.9c63 0 198 25 261 25"/><path class="c401 o15" d="M33.2 644.2c63 0 198 76.5 261 76.5"/><path class="c167 o15" d="M33.2 681.4c63 0 198-7 261-7"/><path class="c99 o15" d="M33.2 682.8c63 0 198-53.5 261-53.5"/><path class="c402" d="M33.2 740c63 0 198 16.5 261 16.5"/><path class="c363 o15" d="M33.2 655c63 0 198 31.5 261 31.5"/><path class="c403 o15" d="M33.2 698.2c63 0 198-43 261-43"/><path class="c174 o15" d="M33.2 679.2c63 0 198-3.5 261-3.5"/><path class="c211 o15" d="M33.2 678.9c63 0 198-6.5 261-6.5"/><path class="c356 o15" d="M33.2 699.9c63 0 198-78 261-78"/><path class="c142 o15" d="M33.2 706.1c63 0 198-73.5 261-73.5"/><path class="c6 o15" d="M33.2 699.6c63 0 198-59.5 261-59.5"/><path class="c232 o15" d="M33.2 693.7c63 0 198-40 261-40"/><path class="c272 o15" d="M33.2 673.1c63 0 198 12 261 12"/><path class="c404 o15" d="M33.2 724.6c63 0 198-98 261-98"/><path class="c405 o15" d="M33.2 655.3c63 0 198 28.5 261 28.5"/><path class="c356 o15" d="M33.2 699.8c63 0 198-82 261-82"/><path class="c105 o15" d="M33.2 672c63 0 198-22 261-22"/><path class="c406 o15" d="M33.2 713.7c63 0 198-80.5 261-80.5"/><path class="c329 o15" d="M33.2 684.6c63 0 198-11 261-11"/><path class="c277 o15" d="M33.2 688.3c63 0 198-23.5 261-23.5"/><path class="c407 o15" d="M33.2 677.5c63 0 198 18 261 18"/><path class="c345 o15" d="M33.2 686.7c63 0 198-44 261-44"/><path class="c293 o15" d="M33.2 665c63 0 198 10.5 261 10.5"/><path class="c174 o15" d="M33.2 679.2c63 0 198-45 261-45"/><path class="c408 o15" d="M33.2 708.7c63 0 198-94.5 261-94.5"/><path class="c409 o15" d="M33.2 672.4c63 0 198-32 261-32"/><path class="c70 o15" d="M33.2 676.3c63 0 198-9.5 261-9.5"/><path class="c297 o15" d="M33.2 700.1c63 0 198-51 261-51"/><path class="c240 o15" d="M33.2 651.4c63 0 198 14.5 261 14.5"/><path class="c126 o15" d="M33.2 685.3c63 0 198-25.5 261-25.5"/><path class="c410" d="M33.2 618.7c63 0 198 91 261 91"/><path class="c369 o15" d="M33.2 655.7c63 0 198 54 261 54"/><path class="c333 o15" d="M33.2 692.2c63 0 198-48.5 261-48.5"/><path class="c157 o15" d="M33.2 679.7c63 0 198-19 261-19"/><path class="c154 o15" d="M33.2 670c63 0 198 33 261 33"/><path class="c63 o15" d="M33.2 671.8c63 0 198 13 261 13"/><path class="c83 o15" d="M33.2 694.7c63 0 198-34 261-34"/><path class="c396 o15" d="M33.2 686c63 0 198-5 261-5"/><path class="c326 o15" d="M33.2 649.6c63 0 198 26 261 26"/><path class="c251 o15" d="M33.2 678.1c63 0 198-10.5 261-10.5"/><path class="c411 o15" d="M33.2 724.1c63 0 198-79 261-79"/><path class="c22 o15" d="M33.2 688.2c63 0 198-74 261-74"/><path class="c412" d="M33.2 608.3c63 0 198 69.5 261 69.5"/><path class="c309 o15" d="M33.2 654.8c63 0 198 54.5 261 54.5"/><path class="c186 o15" d="M33.2 669.2c63 0 198-15 261-15"/><path class="c157 o15" d="M33.2 679.6c63 0 198 1.5 261 1.5"/><path class="c406 o15" d="M33.2 713.6c63 0 198-97 261-97"/><path class="c413 o15" d="M33.2 708.9c63 0 198-93.5 261-93.5"/><path class="c414 o15" d="M33.2 716.5c63 0 198-93.5 261-93.5"/><path class="c316 o15" d="M33.2 711c63 0 198-56.5 261-56.5"/><path class="c183 o15" d="M33.2 701.9c63 0 198-79 261-79"/><path class="c229 o15" d="M33.2 674.9c63 0 198 9.5 261 9.5"/><path class="c158 o15" d="M33.2 673.7c63 0 198-6.5 261-6.5"/><path class="c174 o15" d="M33.2 679.1c63 0 198-2 261-2"/><path class="c306 o15" d="M33.2 660c63 0 198-33 261-33"/><path class="c279 o19" d="M33.2 685.9c63 0 198-37.5 261-37.5"/><path class="c119 o15" d="M33.2 674.5c63 0 198 32.5 261 32.5"/><path class="c415" d="M33.2 613.1c63 0 198 111.5 261 111.5"/><path class="c416 o15" d="M33.2 686.9c63 0 198-31.5 261-31.5"/><path class="c376 o15" d="M33.2 668.5c63 0 198 28 261 28"/><path class="c315 o15" d="M33.2 694.3c63 0 198-17 261-17"/><path class="c417 o15" d="M33.2 673.2c63 0 198 26.5 261 26.5"/><path class="c418" d="M33.2 666.1c63 0 198-44.5 261-44.5"/><path class="c296 o15" d="M33.2 669.6c63 0 198-8.5 261-8.5"/><path class="c228 o15" d="M33.2 671c63 0 198 4.5 261 4.5"/><path class="c419 o15" d="M33.2 679.9c63 0 198-31.5 261-31.5"/><path class="c280 o15" d="M33.2 683.1c63 0 198-31 261-31"/><path class="c70 o15" d="M33.2 676.5c63 0 198 25.5 261 25.5"/><path class="c141 o15" d="M33.2 689.6c63 0 198-4.5 261-4.5"/><path class="c420 o15" d="M33.2 671.6c63 0 198-39.5 261-39.5"/><path class="c421" d="M33.2 714.6c63 0 198-49 261-49"/><path class="c147 o15" d="M33.2 684.9c63 0 198-48.5 261-48.5"/><path class="c261 o15" d="M33.2 677.6c63 0 198-24.5 261-24.5"/><path class="c172 o15" d="M33.2 673.3c63 0 198 4 261 4"/><path class="c409 o15" d="M33.2 672.2c63 0 198-3 261-3"/><path class="c114 o15" d="M33.2 693.5c63 0 198-74.5 261-74.5"/><path class="c104 o15" d="M33.2 668.4c63 0 198 2 261 2"/><path class="c235 o15" d="M33.2 693.1c63 0 198-20 261-20"/><path class="c157 o15" d="M33.2 679.6c63 0 198 0 261 0"/><path class="c97 o15" d="M33.2 692.5c63 0 198-2 261-2"/><path class="c422" d="M33.2 724.3c63 0 198-17.5 261-17.5"/><path class="c352 o15" d="M33.2 698.4c63 0 198-78 261-78"/><path class="c423 o15" d="M33.2 708.3c63 0 198-98 261-98"/><path class="c318 o15" d="M33.2 701.7c63 0 198-96 261-96"/><path class="c177 o15" d="M33.2 681.8c63 0 198 1 261 1"/><path class="c330 o15" d="M33.2 676c63 0 198-36 261-36"/><path class="c424 o15" d="M33.2 680.6c63 0 198 39 261 39"/><path class="c366 o15" d="M33.2 664.4c63 0 198 21 261 21"/><path class="c153 o15" d="M33.2 687.1c63 0 198-13 261-13"/><path class="c399 o15" d="M33.2 706.7c63 0 198-81 261-81"/><path class="c203 o15" d="M33.2 705.4c63 0 198-29 261-29"/><path class="c58 o15" d="M33.2 708.6c63 0 198-68 261-68"/><path class="c425 o15" d="M33.2 683.9c63 0 198-42 261-42"/><path class="c64 o15" d="M33.2 667c63 0 198-13.5 261-13.5"/><path class="c97 o15" d="M33.2 692.5c63 0 198-.5 261-.5"/><path class="c215 o15" d="M33.2 681.2c63 0 198-37 261-37"/><path class="c200 o15" d="M33.2 661.4c63 0 198 16.5 261 16.5"/><path class="c132 o15" d="M33.2 680.2c63 0 198-59.5 261-59.5"/><path class="c122 o15" d="M33.2 681.6c63 0 198-26.5 261-26.5"/><path class="c162 o15" d="M33.2 698.9c63 0 198-10.5 261-10.5"/><path class="c426" d="M33.2 609.8c63 0 198 106 261 106"/><path class="c141 o15" d="M33.2 689.7c63 0 198-2.5 261-2.5"/><path class="c131 o15" d="M33.2 689.9c63 0 198 13 261 13"/><path class="c93 o15" d="M33.2 675.8c63 0 198-23 261-23"/><path class="c390 o15" d="M33.2 698.1c63 0 198-54 261-54"/><path class="c248 o15" d="M33.2 704.8c63 0 198-64.5 261-64.5"/><path class="c427 o15" d="M33.2 693.3c63 0 198-26 261-26"/><path class="c180 o15" d="M33.2 684.8c63 0 198-11 261-11"/><path class="c428 o15" d="M33.2 714.9c63 0 198-89.5 261-89.5"/><path class="c122 o15" d="M33.2 681.6c63 0 198-27 261-27"/><path class="c146 o15" d="M33.2 706.2c63 0 198-88 261-88"/><path class="c12 o15" d="M33.2 643.8c63 0 198 72 261 72"/><path class="c157 o15" d="M33.2 679.6c63 0 198 7 261 7"/><path class="c67 o15" d="M33.2 680.9c63 0 198-15 261-15"/><path class="c345 o15" d="M33.2 686.6c63 0 198-7 261-7"/><path class="c350 o15" d="M33.2 690.7c63 0 198-47.5 261-47.5"/><path class="c217 o15" d="M33.2 663.1c63 0 198 6 261 6"/><path class="c207 o15" d="M33.2 667.5c63 0 198 19.5 261 19.5"/><path class="c355 o15" d="M33.2 658.5c63 0 198 44.5 261 44.5"/><path class="c381 o15" d="M33.2 669c63 0 198-10 261-10"/><path class="c201 o15" d="M33.2 670c63 0 198 23 261 23"/><path class="c247 o15" d="M33.2 703.9c63 0 198-58 261-58"/><path class="c429 o15" d="M33.2 703.4c63 0 198-94.5 261-94.5"/><path class="c430 o15" d="M33.2 675.4c63 0 198 21.5 261 21.5"/><path class="c58 o15" d="M33.2 708.5c63 0 198-76.5 261-76.5"/><path class="c83 o15" d="M33.2 694.8c63 0 198-14.5 261-14.5"/><path class="c131 o15" d="M33.2 690c63 0 198-32.5 261-32.5"/><path class="c310 o15" d="M33.2 697.9c63 0 198-60 261-60"/><path class="c289 o15" d="M33.2 711.1c63 0 198-73 261-73"/><path class="c167 o15" d="M33.2 681.4c63 0 198-23 261-23"/><path class="c121 o15" d="M33.2 702.2c63 0 198-71.5 261-71.5"/><path class="c196 o15" d="M33.2 687.5c63 0 198-51.5 261-51.5"/><path class="c327 o15" d="M33.2 675c63 0 198-12 261-12"/><path class="c325 o15" d="M33.2 690.9c63 0 198-66 261-66"/><path class="c125 o15" d="M33.2 694.1c63 0 198-24 261-24"/><path class="c260 o15" d="M33.2 676.2c63 0 198 .5 261 .5"/><path class="c431 o15" d="M33.2 701.5c63 0 198-76.5 261-76.5"/><path class="c432 o15" d="M33.2 698.3c63 0 198-55 261-55"/><path class="c278 o15" d="M33.2 687.4c63 0 198-8.5 261-8.5"/><path class="c341" d="M33.2 643.5c63 0 198 59.5 261 59.5"/><path class="c172 o15" d="M33.2 673.3c63 0 198-4 261-4"/><path class="c6 o15" d="M33.2 699.7c63 0 198-66.5 261-66.5"/><path class="c115 o15" d="M33.2 666.9c63 0 198-21 261-21"/><path class="c377 o15" d="M33.2 658.7c63 0 198-14 261-14"/><path class="c160 o15" d="M33.2 696.7c63 0 198-85 261-85"/><path class="c353 o15" d="M33.2 692.6c63 0 198-40.5 261-40.5"/><path class="c158 o15" d="M33.2 673.7c63 0 198-43 261-43"/><path class="c215 o15" d="M33.2 681.2c63 0 198-20 261-20"/><path class="c113 o15" d="M33.2 688.8c63 0 198-12 261-12"/><path class="c433 o15" d="M33.2 685.7c63 0 198-41 261-41"/><path class="c324 o15" d="M33.2 670.5c63 0 198 42 261 42"/><path class="c434 o15" d="M33.2 704.1c63 0 198-47.5 261-47.5"/><path class="c435 o15" d="M33.2 693.8c63 0 198-27.5 261-27.5"/><path class="c139 o15" d="M33.2 682.5c63 0 198-31 261-31"/><path class="c315 o15" d="M33.2 694.4c63 0 198-40.5 261-40.5"/><path class="c384 o15" d="M33.2 659.8c63 0 198 10.5 261 10.5"/><path class="c256 o15" d="M33.2 689.4c63 0 198-26.5 261-26.5"/><path class="c142 o15" d="M33.2 706c63 0 198-78 261-78"/><path class="c280 o15" d="M33.2 683.2c63 0 198 3 261 3"/><path class="c214 o15" d="M33.2 705.1c63 0 198-76 261-76"/><path class="c307 o15" d="M33.2 713.4c63 0 198-87.5 261-87.5"/><path class="c397 o15" d="M33.2 697.8c63 0 198-42.5 261-42.5"/><path class="c82" d="M33.2 765.5c63 0 198-6 261-6"/><path class="c436" d="M33.2 605.2c63 0 198 121 261 121"/><path class="c437 o15" d="M33.2 648.8c63 0 198 35.5 261 35.5"/><path class="c139 o15" d="M33.2 682.3c63 0 198-67 261-67"/><path class="c277 o15" d="M33.2 688.4c63 0 198-47 261-47"/><path class="c63 o15" d="M33.2 671.7c63 0 198-8.5 261-8.5"/><path class="c106 o15" d="M33.2 711.8c63 0 198-93 261-93"/><path class="c438" d="M33.2 702.6c63 0 198 20 261 20"/><path class="c111 o15" d="M33.2 653c63 0 198-2 261-2"/><path class="c256 o15" d="M33.2 689.4c63 0 198-30.5 261-30.5"/><path class="c186 o15" d="M33.2 669.3c63 0 198 15.5 261 15.5"/><path class="c211 o15" d="M33.2 679c63 0 198-25 261-25"/><path class="c75 o15" d="M33.2 649.3c63 0 198 43 261 43"/><path class="c439 o15" d="M33.2 712.2c63 0 198-90 261-90"/><path class="c403 o15" d="M33.2 698.2c63 0 198-62 261-62"/><path class="c26 o15" d="M33.2 693.9c63 0 198 8 261 8"/><path class="c229 o15" d="M33.2 674.8c63 0 198-30 261-30"/><path class="c382 o15" d="M33.2 660.3c63 0 198-24.5 261-24.5"/><path class="c172 o15" d="M33.2 673.3c63 0 198-20.5 261-20.5"/><path class="c259 o15" d="M33.2 695.6c63 0 198-67.5 261-67.5"/><path class="c138 o15" d="M33.2 694.3c63 0 198-15.5 261-15.5"/><path class="c440 o15" d="M33.2 700.2c63 0 198-26 261-26"/><path class="c234 o15" d="M33.2 684.3c63 0 198-38 261-38"/><path class="c136 o15" d="M33.2 721.1c63 0 198-85.5 261-85.5"/><path class="c318 o15" d="M33.2 701.8c63 0 198-31.5 261-31.5"/><path class="c7 o15" d="M33.2 675.5c63 0 198-23 261-23"/><path class="c276 o15" d="M33.2 658.1c63 0 198 32 261 32"/><path class="c148 o15" d="M33.2 697.4c63 0 198-44 261-44"/><path class="c350 o15" d="M33.2 690.6c63 0 198-15 261-15"/><path class="c345 o15" d="M33.2 686.7c63 0 198-79 261-79"/><path class="c99 o15" d="M33.2 682.7c63 0 198-5.5 261-5.5"/><path class="c329 o15" d="M33.2 684.7c63 0 198-7 261-7"/><path class="c301 o15" d="M33.2 681.9c63 0 198-32.5 261-32.5"/><path class="c74 o15" d="M33.2 653.5c63 0 198 9.5 261 9.5"/><path class="c119 o15" d="M33.2 674.5c63 0 198-18 261-18"/><path class="c126 o15" d="M33.2 685.3c63 0 198-55 261-55"/><path class="c232 o15" d="M33.2 693.6c63 0 198-54 261-54"/><path class="c348 o15" d="M33.2 698.7c63 0 198-27.5 261-27.5"/><path class="c277 o15" d="M33.2 688.4c63 0 198-17.5 261-17.5"/><path class="c302 o15" d="M33.2 688.8c63 0 198-44.5 261-44.5"/><path class="c167 o15" d="M33.2 681.3c63 0 198 10.5 261 10.5"/><path class="c159 o15" d="M33.2 663.4c63 0 198-4.5 261-4.5"/><path class="c308 o15" d="M33.2 699.4c63 0 198-19 261-19"/><path class="c441 o15" d="M33.2 661.8c63 0 198 26 261 26"/><path class="c442 o15" d="M33.2 655.9c63 0 198 55 261 55"/><path class="c238 o15" d="M33.2 700.3c63 0 198-35 261-35"/><path class="c132 o15" d="M33.2 680.1c63 0 198-19.5 261-19.5"/><path class="c327 o15" d="M33.2 675c63 0 198 2 261 2"/><path class="c188 o15" d="M33.2 680.3c63 0 198-26.5 261-26.5"/><path class="c129 o15" d="M33.2 675.8c63 0 198-53.5 261-53.5"/><path class="c443" d="M33.2 638.1c63 0 198 33 261 33"/><path class="c131 o15" d="M33.2 689.9c63 0 198-29.5 261-29.5"/><path class="c2 o15" d="M33.2 723.7c63 0 198-83.5 261-83.5"/><path class="c6 o15" d="M33.2 699.6c63 0 198-86 261-86"/><path class="c444 o15" d="M33.2 721.5c63 0 198-85.5 261-85.5"/><path class="c181 o15" d="M33.2 684.4c63 0 198-37 261-37"/><path class="c106 o15" d="M33.2 711.8c63 0 198-39.5 261-39.5"/><path class="c259 o15" d="M33.2 695.6c63 0 198-30.5 261-30.5"/><path class="c188 o15" d="M33.2 680.3c63 0 198-14.5 261-14.5"/><path class="c394 o15" d="M33.2 650.1c63 0 198 19 261 19"/><path class="c284 o15" d="M33.2 695.5c63 0 198-27 261-27"/><path class="c123 o15" d="M33.2 707.5c63 0 198-52 261-52"/><path class="c43 o15" d="M33.2 706.8c63 0 198-74 261-74"/><path class="c445 o15" d="M33.2 668.1c63 0 198-8 261-8"/><path class="c315 o15" d="M33.2 694.4c63 0 198-14.5 261-14.5"/><path class="c218 o15" d="M33.2 650.7c63 0 198 61 261 61"/><path class="c67 o15" d="M33.2 681.1c63 0 198-53.5 261-53.5"/><path class="c307 o15" d="M33.2 713.4c63 0 198-70 261-70"/><path class="c446 o15" d="M33.2 657.5c63 0 198 31 261 31"/><path class="c323 o15" d="M33.2 682.2c63 0 198-14.5 261-14.5"/><path class="c100 o15" d="M33.2 683.4c63 0 198-64 261-64"/><path class="c327 o15" d="M33.2 674.9c63 0 198-52.5 261-52.5"/><path class="c215 o15" d="M33.2 681.2c63 0 198-71.5 261-71.5"/><path class="c447 o15" d="M33.2 720.6c63 0 198-92.5 261-92.5"/><path class="c194 o15" d="M33.2 696.2c63 0 198-43 261-43"/><path class="c328 o15" d="M33.2 701.7c63 0 198-27.5 261-27.5"/><path class="c329 o15" d="M33.2 684.6c63 0 198 6.5 261 6.5"/><path class="c293 o15" d="M33.2 665c63 0 198-30.5 261-30.5"/><path class="c448 o15" d="M33.2 644.4c63 0 198 29 261 29"/><path class="c449 o15" d="M33.2 656.7c63 0 198-24 261-24"/><path class="c450 o15" d="M33.2 696.7c63 0 198-45 261-45"/><path class="c451 o15" d="M33.2 702.5c63 0 198-59 261-59"/><path class="c452 o15" d="M33.2 661.1c63 0 198-36 261-36"/><path class="c384 o15" d="M33.2 659.8c63 0 198-6.5 261-6.5"/><path class="c120 o15" d="M33.2 690.2c63 0 198-31 261-31"/><path class="c453" d="M33.2 750.6c63 0 198 14.5 261 14.5"/><path class="c454" d="M33.2 740.4c63 0 198 21.5 261 21.5"/><path class="c358 o15" d="M33.2 678.7c63 0 198 .5 261 .5"/><path class="c33 o15" d="M33.2 717.3c63 0 198-98.5 261-98.5"/><path class="c236 o15" d="M33.2 664.3c63 0 198-5.5 261-5.5"/><path class="c449 o15" d="M33.2 656.7c63 0 198-20.5 261-20.5"/><path class="c431 o15" d="M33.2 701.5c63 0 198-70 261-70"/><path class="c125 o15" d="M33.2 694c63 0 198-68.5 261-68.5"/><path class="c418 o15" d="M33.2 666.2c63 0 198-5 261-5"/><path class="c213 o15" d="M33.2 685.4c63 0 198-69 261-69"/><path class="c201 o15" d="M33.2 670.1c63 0 198-27.5 261-27.5"/><path class="c379 o15" d="M33.2 700.7c63 0 198-61 261-61"/><path class="c455 o15" d="M33.2 714c63 0 198-68.5 261-68.5"/><path class="c140 o15" d="M33.2 684.1c63 0 198-30 261-30"/><path class="c22 o15" d="M33.2 688.3c63 0 198-57.5 261-57.5"/><path class="c185 o15" d="M33.2 701.2c63 0 198-58.5 261-58.5"/><path class="c456 o15" d="M33.2 725.6c63 0 198-106 261-106"/><path class="c398 o15" d="M33.2 697.2c63 0 198-48 261-48"/><path class="c57 o15" d="M33.2 699.3c63 0 198-36.5 261-36.5"/><path class="c251 o15" d="M33.2 678.1c63 0 198-33.5 261-33.5"/><path class="c99 o15" d="M33.2 682.7c63 0 198-29.5 261-29.5"/><path class="c299 o15" d="M33.2 714.5c63 0 198-72.5 261-72.5"/><path class="c167 o15" d="M33.2 681.3c63 0 198-20.5 261-20.5"/><path class="c154 o15" d="M33.2 669.9c63 0 198 1.5 261 1.5"/><path class="c292 o15" d="M33.2 647.4c63 0 198 52.5 261 52.5"/><path class="c150 o15" d="M33.2 708.2c63 0 198-82 261-82"/><path class="c130 o15" d="M33.2 704.9c63 0 198-70.5 261-70.5"/><path class="c180 o15" d="M33.2 684.7c63 0 198-26.5 261-26.5"/><path class="c235 o15" d="M33.2 693.2c63 0 198-23.5 261-23.5"/><path class="c231 o15" d="M33.2 685.1c63 0 198-20.5 261-20.5"/><path class="c36 o15" d="M33.2 711.4c63 0 198-94.5 261-94.5"/><path class="c303 o15" d="M33.2 706.6c63 0 198-65 261-65"/><path class="c132 o15" d="M33.2 680.1c63 0 198-15.5 261-15.5"/><path class="c457" d="M33.2 625.5c63 0 198 74.5 261 74.5"/><path class="c403 o15" d="M33.2 698.1c63 0 198-65.5 261-65.5"/><path class="c74 o15" d="M33.2 653.5c63 0 198 32.5 261 32.5"/><path class="c458 o15" d="M33.2 687.7c63 0 198-29.5 261-29.5"/><path class="c277 o15" d="M33.2 688.4c63 0 198-40.5 261-40.5"/><path class="c190 o15" d="M33.2 716.2c63 0 198-87.5 261-87.5"/><path class="c165 o15" d="M33.2 686.5c63 0 198-25 261-25"/><path class="c196 o15" d="M33.2 687.5c63 0 198-44.5 261-44.5"/><path class="c22 o15" d="M33.2 688.2c63 0 198-31.5 261-31.5"/><path class="c318 o15" d="M33.2 701.8c63 0 198-12.5 261-12.5"/><path class="c232 o15" d="M33.2 693.7c63 0 198-66.5 261-66.5"/><path class="c390 o15" d="M33.2 698c63 0 198-57 261-57"/><path class="c235 o19" d="M33.2 693.2c63 0 198-33.5 261-33.5"/><path class="c124 o15" d="M33.2 668c63 0 198-38.5 261-38.5"/><path class="c258 o15" d="M33.2 719.9c63 0 198-68 261-68"/><path class="c459 o15" d="M33.2 695.4c63 0 198 7 261 7"/><path class="c435 o15" d="M33.2 693.8c63 0 198-77.5 261-77.5"/><path class="c139 o15" d="M33.2 682.3c63 0 198 12.5 261 12.5"/><path class="c105 o15" d="M33.2 672c63 0 198-41.5 261-41.5"/><path class="c386 o15" d="M33.2 672.9c63 0 198-25.5 261-25.5"/><path class="c95 o15" d="M33.2 696.5c63 0 198-35 261-35"/><path class="c297 o15" d="M33.2 700.1c63 0 198-72.5 261-72.5"/><path class="c43 o15" d="M33.2 706.8c63 0 198-78 261-78"/><path class="c460 o15" d="M33.2 679.5c63 0 198-27 261-27"/><path class="c50 o15" d="M33.2 703.7c63 0 198-62.5 261-62.5"/><path class="c76 o15" d="M33.2 640.3c63 0 198 72 261 72"/><path class="c390 o15" d="M33.2 698c63 0 198-48 261-48"/><path class="c23 o15" d="M33.2 671.2c63 0 198-11.5 261-11.5"/><path class="c327 o15" d="M33.2 675.1c63 0 198-33 261-33"/><path class="c61 o15" d="M33.2 713.2c63 0 198-66.5 261-66.5"/><path class="c461 o15" d="M33.2 656.5c63 0 198-5 261-5"/><path class="c304 o15" d="M33.2 664.2c63 0 198 23.5 261 23.5"/><path class="c257 o15" d="M33.2 692.9c63 0 198-49 261-49"/><path class="c224 o15" d="M33.2 708c63 0 198-53.5 261-53.5"/><path class="c113 o15" d="M33.2 688.7c63 0 198-10 261-10"/><path class="c211 o15" d="M33.2 679c63 0 198 12 261 12"/><path class="c193 o15" d="M33.2 677.8c63 0 198-20.5 261-20.5"/><path class="c289 o15" d="M33.2 711c63 0 198-101 261-101"/><path class="c155 o15" d="M33.2 680.9c63 0 198-7.5 261-7.5"/><path class="c460 o15" d="M33.2 679.5c63 0 198-52 261-52"/><path class="c173 o15" d="M33.2 689.4c63 0 198 13 261 13"/><path class="c237 o15" d="M33.2 677.9c63 0 198-16 261-16"/><path class="c361 o15" d="M33.2 689c63 0 198 1.5 261 1.5"/><path class="c285 o15" d="M33.2 712.3c63 0 198-66 261-66"/><path class="c425 o15" d="M33.2 683.9c63 0 198-17.5 261-17.5"/><path class="c162 o15" d="M33.2 698.9c63 0 198-80 261-80"/><path class="c417 o15" d="M33.2 673.1c63 0 198-3.5 261-3.5"/><path class="c420 o15" d="M33.2 671.7c63 0 198-8.5 261-8.5"/><path class="c73" d="M33.2 760.5c63 0 198 2.5 261 2.5"/><path class="c324 o15" d="M33.2 670.6c63 0 198-20.5 261-20.5"/><path class="c101 o15" d="M33.2 690.8c63 0 198-46.5 261-46.5"/><path class="c115 o15" d="M33.2 666.8c63 0 198 20 261 20"/><path class="c103 o15" d="M33.2 676.6c63 0 198-25.5 261-25.5"/><path class="c195 o15" d="M33.2 708.5c63 0 198-30 261-30"/><path class="c140 o15" d="M33.2 684c63 0 198-2.5 261-2.5"/><path class="c228 o15" d="M33.2 670.9c63 0 198-18.5 261-18.5"/><path class="c154 o15" d="M33.2 669.9c63 0 198-3.5 261-3.5"/><path class="c161 o15" d="M33.2 652.5c63 0 198 39.5 261 39.5"/><path class="c146 o15" d="M33.2 706.2c63 0 198-42 261-42"/><path class="c421 o15" d="M33.2 714.6c63 0 198-87.5 261-87.5"/><path class="c182 o15" d="M33.2 688.6c63 0 198-27.5 261-27.5"/><path class="c173 o15" d="M33.2 689.5c63 0 198-25 261-25"/><path class="c462 o15" d="M33.2 709.9c63 0 198-61 261-61"/><path class="c155 o15" d="M33.2 680.8c63 0 198 2.5 261 2.5"/><path class="c280 o15" d="M33.2 683.1c63 0 198-.5 261-.5"/><path class="c102 o15" d="M33.2 656.5c63 0 198 31 261 31"/><path class="c322 o15" d="M33.2 696.1c63 0 198-46 261-46"/><path class="c377 o15" d="M33.2 658.8c63 0 198-8.5 261-8.5"/><path class="c318 o15" d="M33.2 701.8c63 0 198-73.5 261-73.5"/><path class="c224 o15" d="M33.2 707.9c63 0 198-65 261-65"/><path class="c463 o15" d="M33.2 707.8c63 0 198-83.5 261-83.5"/><path class="c83 o15" d="M33.2 694.7c63 0 198-6 261-6"/><path class="c132 o15" d="M33.2 680.2c63 0 198-13 261-13"/><path class="c312 o15" d="M33.2 671.4c63 0 198 1 261 1"/><path class="c323 o15" d="M33.2 682.2c63 0 198-40.5 261-40.5"/><path class="c88 o15" d="M33.2 682.9c63 0 198-24 261-24"/><path class="c127 o15" d="M33.2 715.8c63 0 198-62 261-62"/><path class="c464 o15" d="M33.2 682.1c63 0 198 9.5 261 9.5"/><path class="c168 o15" d="M33.2 709.3c63 0 198-100.5 261-100.5"/><path class="c192 o15" d="M33.2 692.9c63 0 198-40 261-40"/><path class="c343 o15" d="M33.2 709.5c63 0 198-73.5 261-73.5"/><path class="c458 o15" d="M33.2 687.8c63 0 198-69.5 261-69.5"/><path class="c322 o15" d="M33.2 696.1c63 0 198-14 261-14"/><path class="c28 o15" d="M33.2 665.3c63 0 198-4.5 261-4.5"/><path class="c418 o15" d="M33.2 666.1c63 0 198-3 261-3"/><path class="c284 o15" d="M33.2 695.6c63 0 198-12 261-12"/><path class="c409 o15" d="M33.2 672.4c63 0 198-33 261-33"/><path class="c379 o15" d="M33.2 700.7c63 0 198-32.5 261-32.5"/><path class="c465 o15" d="M33.2 703.4c63 0 198-27 261-27"/><path class="c461 o15" d="M33.2 656.6c63 0 198 8 261 8"/><path class="c90 o15" d="M33.2 692c63 0 198-46 261-46"/><path class="c298 o15" d="M33.2 700.9c63 0 198-55.5 261-55.5"/><path class="c466 o15" d="M33.2 631.5c63 0 198 74 261 74"/><path class="c392 o15" d="M33.2 697.6c63 0 198-51.5 261-51.5"/><path class="c397 o15" d="M33.2 697.7c63 0 198-54.5 261-54.5"/><path class="c133 o15" d="M33.2 679.8c63 0 198-10 261-10"/><path class="c243 o15" d="M33.2 712c63 0 198-76 261-76"/><path class="c409 o15" d="M33.2 672.3c63 0 198 22 261 22"/><path class="c467 o15" d="M33.2 671.3c63 0 198-6 261-6"/><path class="c378 o15" d="M33.2 683.2c63 0 198-40 261-40"/><path class="c434 o15" d="M33.2 704.2c63 0 198-53 261-53"/><path class="c468 o15" d="M33.2 706.3c63 0 198-65 261-65"/><path class="c215 o15" d="M33.2 681.2c63 0 198 10.5 261 10.5"/><path class="c187 o15" d="M33.2 674.8c63 0 198-28.5 261-28.5"/><path class="c226 o15" d="M33.2 688.1c63 0 198-56.5 261-56.5"/><path class="c413 o15" d="M33.2 708.9c63 0 198-79 261-79"/><path class="c145 o15" d="M33.2 687.9c63 0 198-37.5 261-37.5"/><path class="c207 o15" d="M33.2 667.6c63 0 198 23 261 23"/><path class="c350 o15" d="M33.2 690.7c63 0 198-64 261-64"/><path class="c112 o15" d="M33.2 695.1c63 0 198-57.5 261-57.5"/><path class="c469" d="M33.2 761.6c63 0 198-3 261-3"/><path class="c208 o15" d="M33.2 662.7c63 0 198-29 261-29"/><path class="c173 o15" d="M33.2 689.5c63 0 198-47 261-47"/><path class="c97 o15" d="M33.2 692.5c63 0 198-37.5 261-37.5"/><path class="c98 o15" d="M33.2 707c63 0 198-54.5 261-54.5"/><path class="c373 o15" d="M33.2 707.3c63 0 198-50 261-50"/><path class="c150 o15" d="M33.2 708.1c63 0 198-41 261-41"/><path class="c335 o15" d="M33.2 677c63 0 198-10.5 261-10.5"/><path class="c133 o15" d="M33.2 679.8c63 0 198 8 261 8"/></g><line x1="33.2" y1="604.6" x2="33.2" y2="765.3" stroke="#7a7a7a" stroke-width="1.1"/><line x1="293.8" y1="604.6" x2="293.8" y2="765.3" stroke="#555" stroke-width="1.0"/><text transform="translate(21.23,607.20) scale(1.284,1)" font-size="7.27">26</text><text transform="translate(20.97,768.30) scale(1.322,1)" font-size="7.27">19</text><text transform="translate(279.45,607.20) scale(1.230,1)" font-size="7.27">0.5</text><text transform="translate(274.04,768.30) scale(1.291,1)" font-size="7.27">−0.1</text><text transform="translate(12.97,789.20) scale(1.128,1)" font-size="7.85">LST_2021</text><text transform="translate(270.26,789.20) scale(1.145,1)" font-size="7.85">NDVI_2021</text><defs><linearGradient id="cb2021" x1="0" y1="0" x2="0" y2="1"><stop offset="0" stop-color="#4446f2"/><stop offset="0.25" stop-color="#45eef2"/><stop offset="0.5" stop-color="#46e446"/><stop offset="0.75" stop-color="#f8ee3c"/><stop offset="0.88" stop-color="#fa9c3c"/><stop offset="1.0" stop-color="#f24646"/></linearGradient></defs><rect x="303.9" y="625.9" width="14.70" height="90.80" fill="url(#cb2021)" stroke="#333" stroke-width="0.7"/><line x1="318.60" y1="625.90" x2="321.80" y2="625.90" stroke="#333" stroke-width="0.8"/><text transform="translate(323.88,627.80) scale(1.143,1)" font-size="5.52">26.48</text><line x1="318.60" y1="637.25" x2="321.80" y2="637.25" stroke="#bbb" stroke-width="0.8"/><text transform="translate(323.88,639.15) scale(1.145,1)" font-size="5.52">25.51</text><line x1="318.60" y1="648.60" x2="321.80" y2="648.60" stroke="#333" stroke-width="0.8"/><text transform="translate(323.88,650.50) scale(1.136,1)" font-size="5.52">24.54</text><line x1="318.60" y1="659.95" x2="321.80" y2="659.95" stroke="#333" stroke-width="0.8"/><text transform="translate(323.88,661.85) scale(1.146,1)" font-size="5.52">23.57</text><line x1="318.60" y1="671.30" x2="321.80" y2="671.30" stroke="#333" stroke-width="0.8"/><text transform="translate(323.88,673.20) scale(1.140,1)" font-size="5.52">22.60</text><line x1="318.60" y1="682.65" x2="321.80" y2="682.65" stroke="#bbb" stroke-width="0.8"/><text transform="translate(323.88,684.55) scale(1.143,1)" font-size="5.52">21.63</text><line x1="318.60" y1="694.00" x2="321.80" y2="694.00" stroke="#333" stroke-width="0.8"/><text transform="translate(323.88,695.90) scale(1.143,1)" font-size="5.52">20.66</text><line x1="318.60" y1="705.35" x2="321.80" y2="705.35" stroke="#333" stroke-width="0.8"/><text transform="translate(323.71,707.25) scale(1.157,1)" font-size="5.52">19.69</text><line x1="318.60" y1="716.70" x2="321.80" y2="716.70" stroke="#333" stroke-width="0.8"/><text transform="translate(323.71,718.60) scale(1.158,1)" font-size="5.52">18.72</text><text transform="translate(290.17,620.30) scale(1.269,1)" font-size="6.98">LST_2021</text><path d="M458.5,611.0 L458.5,611.0 459.7,610.9 461.5,610.7 463.5,610.5 465.7,610.3 467.9,610.0 469.9,609.7 471.8,609.4 473.8,609.0 475.8,608.6 477.8,608.1 479.6,607.6 481.3,607.1 482.8,606.5 484.1,605.9 485.3,605.2 486.5,604.6 487.7,603.9 488.9,603.3 490.2,602.7 491.4,602.2 492.7,601.6 494.0,601.1 495.2,600.6 496.5,600.2 497.8,599.8 499.1,599.4 500.4,599.1 501.7,598.8 502.9,598.5 504.1,598.3 505.1,598.1 506.1,598.0 507.0,598.0 507.9,597.9 508.8,598.0 509.7,598.0 510.6,598.1 511.5,598.2 512.4,598.3 513.4,598.5 514.3,598.8 515.4,599.1 516.6,599.5 517.8,600.0 519.1,600.5 520.4,601.0 521.7,601.6 523.0,602.1 524.2,602.6 525.4,603.1 526.6,603.7 527.8,604.2 529.1,604.7 530.6,605.2 532.3,605.7 534.1,606.3 536.1,606.8 538.1,607.3 540.1,607.8 542.0,608.2 543.8,608.5 545.5,608.8 547.2,609.1 549.0,609.3 551.1,609.5 553.4,609.7 556.1,609.9 559.2,610.0 562.4,610.2 565.8,610.3 569.2,610.4 572.4,610.5 575.8,610.6 579.4,610.7 583.0,610.8 586.4,610.9 589.2,610.9 591.3,611.0 L591.3,611.0 Z" fill="#d5e4f7" stroke="#b4cbee" stroke-width="0.5"/><path d="M654.2,625.5 L654.2,625.5 654.5,626.2 654.9,627.1 655.3,628.2 655.9,629.4 656.4,630.6 657.0,631.8 657.6,633.0 658.2,634.3 658.9,635.6 659.6,636.9 660.4,638.2 661.2,639.3 662.1,640.3 663.2,641.2 664.3,642.1 665.4,642.9 666.5,643.7 667.6,644.6 668.7,645.5 669.8,646.4 671.0,647.2 672.1,648.1 673.1,649.0 674.0,649.9 674.8,650.8 675.6,651.6 676.3,652.5 676.9,653.4 677.4,654.3 677.8,655.2 678.1,656.2 678.2,657.2 678.2,658.2 678.1,659.3 678.0,660.4 677.8,661.6 677.5,662.9 677.1,664.2 676.7,665.7 676.1,667.1 675.6,668.6 675.0,670.0 674.4,671.4 673.7,672.9 673.0,674.4 672.3,675.8 671.5,677.2 670.8,678.5 670.1,679.7 669.3,680.7 668.6,681.7 667.9,682.7 667.2,683.7 666.5,684.9 665.8,686.2 665.2,687.7 664.5,689.1 663.9,690.6 663.4,692.1 662.9,693.4 662.5,694.6 662.2,695.7 662.0,696.7 661.7,697.8 661.5,698.8 661.2,699.8 660.9,700.9 660.6,701.9 660.2,702.9 659.9,704.0 659.5,705.0 659.1,706.1 658.6,707.2 658.1,708.3 657.5,709.4 656.9,710.5 656.4,711.6 655.9,712.5 655.5,713.4 655.2,714.2 654.8,715.0 654.6,715.7 654.4,716.3 654.2,716.7 L654.2,716.7 Z" fill="#d5e4f7" stroke="#b4cbee" stroke-width="0.5"/><line x1="394.8" y1="611.0" x2="654.2" y2="611.0" stroke="#a0a0a0" stroke-width="1.1"/><line x1="654.2" y1="611.0" x2="654.2" y2="764.0" stroke="#555b64" stroke-width="1.1"/><path d="M411.2,636.3 L419.8,638.9 L428.3,641.5 L436.9,644.1 L445.4,646.7 L454.0,649.3 L462.6,651.8 L471.1,654.4 L479.7,656.9 L488.2,659.4 L496.8,661.9 L505.3,664.3 L513.9,666.6 L522.5,668.8 L531.0,671.0 L539.6,673.1 L548.1,675.2 L556.7,677.3 L565.2,679.4 L573.8,681.4 L582.4,683.4 L590.9,685.5 L599.5,687.5 L608.0,689.5 L616.6,691.5 L616.6,699.5 L608.0,696.9 L599.5,694.3 L590.9,691.7 L582.4,689.1 L573.8,686.5 L565.2,683.9 L556.7,681.4 L548.1,678.8 L539.6,676.3 L531.0,673.8 L522.5,671.4 L513.9,669.0 L505.3,666.7 L496.8,664.5 L488.2,662.3 L479.7,660.2 L471.1,658.1 L462.6,656.1 L454.0,654.0 L445.4,652.0 L436.9,650.0 L428.3,647.9 L419.8,645.9 L411.2,643.9 Z" fill="#c4d9f5"/><line x1="411.2" y1="640.1" x2="616.6" y2="695.5" stroke="#8db0e6" stroke-width="0.6"/><path d="M534.6 663.0h1.1M478.4 643.4h1.1M531.0 664.3h1.1M503.6 649.3h1.1M507.0 665.3h1.1M540.1 678.3h1.1M491.8 635.1h1.1M495.0 658.9h1.1M480.9 661.9h1.1M486.8 652.5h1.1M519.5 686.3h1.1M515.9 682.5h1.1M487.9 665.4h1.1M510.1 664.7h1.1M507.1 681.9h1.1M513.3 707.0h1.1M504.0 664.6h1.1M525.7 678.0h1.1M528.3 694.6h1.1M480.9 652.8h1.1M512.8 650.3h1.1M508.5 688.2h1.1M539.3 677.2h1.1M552.6 660.9h1.1M497.7 655.8h1.1M554.1 696.5h1.1M540.8 670.8h1.1M484.2 638.5h1.1M521.1 688.7h1.1M531.7 677.7h1.1M485.3 662.9h1.1M478.1 670.6h1.1M504.7 656.3h1.1M509.3 673.8h1.1M498.8 678.5h1.1M517.9 661.3h1.1M525.0 668.7h1.1M499.1 667.2h1.1M515.9 660.4h1.1M524.4 671.0h1.1M502.6 661.6h1.1M484.5 641.5h1.1M495.4 661.9h1.1M486.7 634.9h1.1M507.7 684.3h1.1M535.9 655.8h1.1M479.0 654.7h1.1M484.7 645.2h1.1M479.9 639.8h1.1M521.3 694.0h1.1M546.4 649.1h1.1M493.7 662.5h1.1M509.8 673.0h1.1M535.1 669.4h1.1M494.5 651.8h1.1M522.9 659.7h1.1M506.0 678.0h1.1M503.3 632.6h1.1M516.7 659.9h1.1M541.9 681.3h1.1M539.8 696.3h1.1M504.0 637.8h1.1M506.1 640.7h1.1M523.5 626.8h1.1M541.4 664.0h1.1M492.0 644.1h1.1M501.3 641.6h1.1M519.5 661.6h1.1M513.6 648.5h1.1M514.3 667.3h1.1M488.3 670.5h1.1M517.5 682.5h1.1M498.8 631.1h1.1M500.3 661.2h1.1M486.1 688.4h1.1M534.2 692.3h1.1M496.2 642.3h1.1M507.3 664.1h1.1M555.0 680.7h1.1M512.6 640.1h1.1M518.3 687.1h1.1M541.5 652.8h1.1M489.0 639.3h1.1M555.6 689.1h1.1M552.4 696.6h1.1M518.3 677.7h1.1M537.8 657.5h1.1M525.1 696.3h1.1M524.0 650.3h1.1M507.2 674.1h1.1M505.4 638.6h1.1M497.3 654.4h1.1M536.8 665.4h1.1M513.4 644.2h1.1M541.4 675.7h1.1M498.1 649.8h1.1M508.5 658.5h1.1M510.1 635.6h1.1M518.5 643.1h1.1M487.8 650.0h1.1M522.0 663.9h1.1M485.5 642.3h1.1M513.3 669.4h1.1M509.3 669.5h1.1M516.8 667.5h1.1M531.6 704.2h1.1M514.9 681.8h1.1M516.3 661.8h1.1M528.6 686.9h1.1M498.9 660.1h1.1M501.6 634.4h1.1M519.6 658.8h1.1M539.3 654.7h1.1M502.9 636.3h1.1M519.1 692.6h1.1M521.7 638.2h1.1M529.6 697.9h1.1M499.7 626.2h1.1M494.9 635.5h1.1M484.9 640.0h1.1M492.2 661.9h1.1M481.4 656.3h1.1M480.9 661.9h1.1M520.6 663.1h1.1M541.3 681.8h1.1M492.1 645.8h1.1M493.6 646.4h1.1M496.6 676.3h1.1M520.0 660.8h1.1M466.5 643.1h1.1M485.7 677.3h1.1M508.8 661.7h1.1M473.6 639.1h1.1M499.5 671.3h1.1M520.7 675.8h1.1M463.9 641.6h1.1M569.5 703.9h1.1M506.4 662.3h1.1M506.3 705.0h1.1M504.6 640.7h1.1M523.1 681.0h1.1M474.6 639.3h1.1M486.6 656.7h1.1M517.9 693.5h1.1M488.3 643.9h1.1M504.1 662.3h1.1M490.6 638.3h1.1M554.3 691.4h1.1M486.2 646.1h1.1M509.4 646.7h1.1M518.1 676.3h1.1M488.5 659.0h1.1M506.7 657.8h1.1M507.1 662.9h1.1M483.6 633.5h1.1M484.8 653.7h1.1M504.0 657.1h1.1M492.4 636.5h1.1M549.2 659.9h1.1M488.0 626.4h1.1M499.3 669.2h1.1M509.5 657.3h1.1M517.4 667.5h1.1M560.2 688.7h1.1M483.1 628.7h1.1M491.7 649.0h1.1M535.1 669.0h1.1M484.5 660.7h1.1M503.2 647.7h1.1M495.1 665.4h1.1M514.7 661.8h1.1M548.0 686.6h1.1M484.6 671.0h1.1M518.6 675.8h1.1M510.2 649.8h1.1M533.5 700.4h1.1M501.4 669.6h1.1M536.8 662.1h1.1M541.9 659.5h1.1M547.3 692.6h1.1M490.1 641.7h1.1M520.2 680.3h1.1M483.4 642.9h1.1M493.9 629.5h1.1M529.0 673.8h1.1M488.3 657.7h1.1M483.5 644.2h1.1M500.2 677.9h1.1M521.7 664.6h1.1M517.1 649.1h1.1M540.8 696.7h1.1M525.0 665.6h1.1M514.1 659.9h1.1M517.8 655.6h1.1M519.4 655.0h1.1M500.1 662.4h1.1M477.6 658.1h1.1M532.9 640.2h1.1M530.1 684.0h1.1M527.3 708.3h1.1M532.8 689.7h1.1M526.7 651.8h1.1M481.1 675.5h1.1M557.1 677.0h1.1M488.0 678.0h1.1M505.6 671.1h1.1M461.1 649.7h1.1M539.9 689.8h1.1M530.1 706.6h1.1M486.2 643.3h1.1M548.0 664.8h1.1M484.4 629.8h1.1M493.3 656.1h1.1M497.5 649.5h1.1M551.6 703.6h1.1M538.5 678.5h1.1M500.6 661.8h1.1M505.9 665.0h1.1M528.2 639.1h1.1M513.6 661.5h1.1M545.3 678.6h1.1M520.1 683.2h1.1M527.9 697.2h1.1M468.0 651.6h1.1M544.5 648.3h1.1M488.9 676.3h1.1M505.3 679.5h1.1M479.9 674.9h1.1M522.2 654.9h1.1M501.4 629.3h1.1M511.1 636.2h1.1M508.1 665.3h1.1M528.6 690.2h1.1M508.8 672.0h1.1M509.5 657.3h1.1M508.2 699.0h1.1M516.1 665.0h1.1M512.1 647.1h1.1M540.7 680.3h1.1M490.3 662.3h1.1M476.6 652.5h1.1M497.6 653.9h1.1M515.1 661.3h1.1M485.6 650.3h1.1M543.7 694.9h1.1M490.1 652.5h1.1M516.2 659.5h1.1M504.7 652.0h1.1M494.2 689.6h1.1M504.1 656.8h1.1M536.4 692.0h1.1M525.1 638.8h1.1M518.7 680.0h1.1M527.9 702.3h1.1M537.4 673.1h1.1M512.0 669.8h1.1M504.0 660.1h1.1M546.8 682.3h1.1M517.7 677.6h1.1M505.1 658.2h1.1M486.3 665.2h1.1M542.5 686.2h1.1M513.0 667.1h1.1M523.6 679.2h1.1M551.2 651.5h1.1M516.4 678.4h1.1M539.6 685.8h1.1M509.8 658.9h1.1M504.2 689.2h1.1M501.9 690.7h1.1M520.4 655.1h1.1M511.8 653.6h1.1M497.0 648.8h1.1M500.0 651.2h1.1M499.6 663.7h1.1M572.4 687.5h1.1M558.2 689.4h1.1M522.8 644.8h1.1M499.3 703.8h1.1M505.9 641.7h1.1M523.1 679.2h1.1M531.1 677.4h1.1M544.5 658.0h1.1M468.9 643.0h1.1M503.2 662.4h1.1M536.3 685.5h1.1M515.5 663.4h1.1M516.1 686.3h1.1M489.5 659.5h1.1M527.0 685.6h1.1M501.4 644.8h1.1M506.4 653.7h1.1M550.3 702.1h1.1M502.0 654.6h1.1M477.8 664.1h1.1M544.5 658.0h1.1M526.1 647.0h1.1M481.7 669.0h1.1M476.5 639.5h1.1M574.1 698.0h1.1M482.8 632.8h1.1M533.4 661.7h1.1M493.0 667.3h1.1M564.4 675.8h1.1M499.8 662.0h1.1M496.5 656.5h1.1M473.5 645.6h1.1M548.6 643.8h1.1M509.4 644.9h1.1M499.6 682.0h1.1M527.6 649.1h1.1M535.4 688.8h1.1M506.1 688.5h1.1M528.1 660.6h1.1M504.8 666.7h1.1M521.1 688.0h1.1M500.1 647.3h1.1M506.7 642.9h1.1M543.3 670.7h1.1M546.2 680.2h1.1M490.1 651.1h1.1M508.8 679.4h1.1M475.9 636.6h1.1M509.5 659.0h1.1M513.7 674.1h1.1M516.5 660.2h1.1M492.3 639.1h1.1M485.3 646.5h1.1M526.4 666.5h1.1M484.0 645.8h1.1M516.9 633.6h1.1M502.1 670.0h1.1M532.5 670.8h1.1M507.1 639.7h1.1M484.6 630.5h1.1M558.8 659.4h1.1M473.3 652.2h1.1M494.6 642.6h1.1M493.1 640.7h1.1M508.7 674.1h1.1M528.1 655.6h1.1M495.3 645.2h1.1M536.0 661.2h1.1M533.3 644.2h1.1M538.6 677.1h1.1M536.4 683.3h1.1M521.6 693.6h1.1M520.3 681.2h1.1M471.2 651.3h1.1M508.5 643.4h1.1M516.1 684.8h1.1M491.1 644.7h1.1M510.8 676.3h1.1M522.4 662.3h1.1M507.7 630.9h1.1M519.5 668.0h1.1M543.2 690.7h1.1M511.8 655.6h1.1M546.2 677.6h1.1M524.8 669.9h1.1M524.4 655.1h1.1M529.7 677.7h1.1M503.2 653.0h1.1M503.6 689.2h1.1M513.1 707.6h1.1M497.9 668.2h1.1M501.7 680.4h1.1M529.7 666.9h1.1M555.6 670.3h1.1M529.7 647.4h1.1M518.7 660.2h1.1M544.8 690.9h1.1M508.2 651.2h1.1M541.5 693.8h1.1M502.3 696.4h1.1M515.9 637.1h1.1M504.2 644.4h1.1M560.6 700.7h1.1M540.9 658.6h1.1M524.8 651.3h1.1M529.5 681.5h1.1M475.4 628.0h1.1M513.6 667.9h1.1M532.3 668.7h1.1M526.4 702.8h1.1M527.9 627.4h1.1M524.2 678.8h1.1M502.4 641.3h1.1M517.4 658.4h1.1M499.4 672.2h1.1M477.7 634.6h1.1M513.0 634.2h1.1M487.5 672.0h1.1M493.6 648.0h1.1M496.3 655.8h1.1M496.2 637.6h1.1M494.3 669.7h1.1M534.2 674.8h1.1M485.7 676.7h1.1M524.5 656.1h1.1M524.7 690.2h1.1M479.3 637.4h1.1M519.5 642.9h1.1M507.3 697.2h1.1M503.7 659.1h1.1M538.0 665.0h1.1M525.4 660.6h1.1M493.0 662.0h1.1M510.8 655.6h1.1M538.7 656.9h1.1M566.1 698.9h1.1M474.4 643.3h1.1M533.0 695.0h1.1M522.7 647.2h1.1M528.2 678.5h1.1M519.6 669.4h1.1M470.9 650.3h1.1M497.9 653.3h1.1M500.7 641.9h1.1M472.2 631.8h1.1M566.9 679.4h1.1M477.2 655.3h1.1M564.3 697.7h1.1M479.5 658.3h1.1M500.6 648.0h1.1M559.5 689.4h1.1M465.9 647.3h1.1M474.4 635.4h1.1M526.2 674.7h1.1M493.7 655.3h1.1M538.4 679.6h1.1M492.5 643.0h1.1M533.1 685.6h1.1M491.9 662.2h1.1M487.8 643.1h1.1M494.0 653.6h1.1M529.8 658.7h1.1M562.7 674.2h1.1M537.2 695.8h1.1M532.1 672.3h1.1M483.0 648.3h1.1M494.6 647.8h1.1M484.8 666.3h1.1M581.7 707.6h1.1M546.4 654.9h1.1M560.8 672.3h1.1M485.1 660.5h1.1M538.2 666.7h1.1M493.1 653.6h1.1M579.0 698.0h1.1M487.3 634.7h1.1M509.5 697.8h1.1M551.0 695.6h1.1M543.1 670.3h1.1M522.8 690.8h1.1M497.2 664.1h1.1M562.3 706.7h1.1M502.6 637.4h1.1M503.8 677.5h1.1M485.0 663.5h1.1M558.6 681.1h1.1M557.0 690.6h1.1M561.6 711.1h1.1M501.9 679.6h1.1M474.7 664.7h1.1M496.5 659.1h1.1M516.9 625.8h1.1M554.4 665.3h1.1M511.0 635.5h1.1M514.3 647.3h1.1M504.5 654.3h1.1M537.3 686.7h1.1M478.3 640.2h1.1M480.1 644.0h1.1M495.7 665.8h1.1M513.1 665.9h1.1M482.8 648.6h1.1M507.8 642.4h1.1M513.2 644.6h1.1M512.4 651.8h1.1M529.8 644.6h1.1M491.6 654.0h1.1M506.9 659.4h1.1M556.4 708.3h1.1M486.6 669.1h1.1M500.5 660.2h1.1M509.2 657.4h1.1M529.1 635.0h1.1M498.8 666.2h1.1M513.9 644.6h1.1M505.6 639.7h1.1M476.6 653.0h1.1M465.1 651.7h1.1M502.0 673.9h1.1M478.7 653.9h1.1M502.2 640.9h1.1M531.7 675.4h1.1M461.3 642.7h1.1M509.9 690.2h1.1M516.0 670.5h1.1M539.6 686.2h1.1M535.4 664.9h1.1M526.7 680.1h1.1M475.3 670.7h1.1M492.5 660.7h1.1M518.0 665.0h1.1M467.8 648.4h1.1M565.3 678.2h1.1M510.3 647.5h1.1M541.7 689.2h1.1M518.6 688.4h1.1M539.5 702.6h1.1M503.1 671.2h1.1M498.1 646.0h1.1M479.4 638.7h1.1M499.8 628.6h1.1M503.3 673.0h1.1M476.5 642.1h1.1M498.5 632.2h1.1M464.5 655.1h1.1M498.9 679.5h1.1M490.4 677.9h1.1M534.4 703.6h1.1M533.6 667.4h1.1M506.3 655.0h1.1M536.3 665.4h1.1M548.6 637.0h1.1M498.0 649.2h1.1M460.5 641.5h1.1M496.0 653.5h1.1M519.5 669.8h1.1M510.3 659.0h1.1M475.0 637.0h1.1M523.4 664.4h1.1M538.9 697.3h1.1M537.5 685.5h1.1M519.7 663.2h1.1M521.9 678.8h1.1M525.0 668.1h1.1M531.2 651.7h1.1M515.1 684.7h1.1M512.4 707.7h1.1M531.1 647.3h1.1M492.8 667.5h1.1M527.6 676.3h1.1M468.6 662.6h1.1M506.9 676.2h1.1M527.7 633.6h1.1M511.1 685.4h1.1M515.8 680.9h1.1M522.7 661.1h1.1M503.3 665.7h1.1M502.5 670.5h1.1M503.5 661.8h1.1M519.3 649.6h1.1M545.0 661.1h1.1M558.3 694.0h1.1M478.4 643.6h1.1M529.1 703.0h1.1M500.5 683.3h1.1M538.2 655.4h1.1M525.0 660.8h1.1M509.4 654.5h1.1M524.2 696.4h1.1M485.3 653.8h1.1M515.3 659.8h1.1M548.8 665.2h1.1M512.3 657.6h1.1M525.6 669.3h1.1M509.6 689.8h1.1M514.7 697.0h1.1M482.5 637.0h1.1M550.7 683.2h1.1M509.0 676.8h1.1M502.9 638.7h1.1M534.3 673.5h1.1M478.4 651.1h1.1M597.4 668.5h1.1M500.1 643.9h1.1M553.6 659.4h1.1M476.9 651.1h1.1M469.8 645.7h1.1M531.6 661.4h1.1M530.2 668.3h1.1M492.5 687.2h1.1M519.7 640.0h1.1M500.2 669.5h1.1M510.3 658.8h1.1M507.0 629.4h1.1M496.5 637.7h1.1M510.4 648.6h1.1M479.5 646.4h1.1M487.1 646.2h1.1M513.9 653.1h1.1M524.4 680.7h1.1M529.8 657.4h1.1M533.6 674.4h1.1M494.3 663.1h1.1M462.6 636.8h1.1M497.0 665.4h1.1M520.8 697.3h1.1M518.5 637.5h1.1M510.5 642.5h1.1M501.4 670.4h1.1M511.1 655.5h1.1M543.6 697.9h1.1M514.1 674.4h1.1M489.6 663.6h1.1M500.2 642.8h1.1M553.6 688.8h1.1M539.4 646.2h1.1M531.7 679.3h1.1M473.6 650.7h1.1M541.8 679.8h1.1M526.7 631.0h1.1M495.2 651.6h1.1M531.3 670.7h1.1M508.4 641.3h1.1M558.0 669.1h1.1M518.4 642.4h1.1M484.7 661.9h1.1M521.1 673.3h1.1M520.0 673.3h1.1M546.1 681.9h1.1M487.1 641.7h1.1M501.5 647.9h1.1M521.0 694.5h1.1M478.6 647.4h1.1M529.3 651.0h1.1M503.5 631.9h1.1M518.2 666.5h1.1M479.3 656.1h1.1M520.3 649.3h1.1M484.1 647.9h1.1M499.5 682.2h1.1M495.3 632.5h1.1M487.8 638.8h1.1M492.8 647.8h1.1M501.8 671.4h1.1M510.5 666.3h1.1M504.9 672.2h1.1M579.2 695.5h1.1M551.1 685.3h1.1M516.7 684.3h1.1M506.4 647.2h1.1M511.4 639.9h1.1M553.4 709.2h1.1M516.2 653.6h1.1M560.6 695.0h1.1M539.4 677.2h1.1M518.7 639.9h1.1M492.5 646.1h1.1M477.9 641.3h1.1M535.6 695.0h1.1M554.2 689.1h1.1M524.0 669.2h1.1M490.3 665.1h1.1M527.5 671.5h1.1M508.0 662.9h1.1M497.3 659.2h1.1M503.6 654.4h1.1M512.6 653.1h1.1M517.8 650.4h1.1M508.1 687.8h1.1M504.2 654.8h1.1M499.5 666.9h1.1M547.2 687.9h1.1M494.9 659.0h1.1M517.4 650.2h1.1M534.8 662.7h1.1M514.4 664.6h1.1M537.5 681.2h1.1M491.3 645.8h1.1M542.6 654.2h1.1M490.6 675.0h1.1M494.7 633.6h1.1M479.8 657.7h1.1M516.1 655.8h1.1M535.3 688.4h1.1M463.2 650.0h1.1M513.7 649.9h1.1M552.4 676.5h1.1M497.7 677.5h1.1M525.9 652.9h1.1M504.0 691.5h1.1M509.6 666.8h1.1M497.2 658.9h1.1M512.6 681.8h1.1M517.6 660.5h1.1M528.6 657.0h1.1M499.3 630.3h1.1M488.5 677.9h1.1M511.2 642.2h1.1M519.7 637.0h1.1M551.2 671.5h1.1M541.8 646.5h1.1M489.3 664.0h1.1M537.1 666.7h1.1M493.2 670.4h1.1M529.8 665.7h1.1M532.3 657.4h1.1M507.4 666.7h1.1M500.6 633.2h1.1M536.4 706.3h1.1M548.3 689.0h1.1M524.5 686.8h1.1M511.6 666.9h1.1M485.0 645.8h1.1M516.7 678.1h1.1M537.9 699.7h1.1M526.4 685.8h1.1M508.9 683.6h1.1M527.2 644.8h1.1M532.4 631.1h1.1M474.9 661.4h1.1M530.4 645.8h1.1M497.4 650.1h1.1M517.6 663.4h1.1M506.9 652.6h1.1M523.3 687.7h1.1M522.8 663.9h1.1M532.6 683.8h1.1M507.2 665.6h1.1M552.9 666.3h1.1M483.9 654.2h1.1M559.1 688.8h1.1M529.5 672.6h1.1M561.2 674.6h1.1M500.8 649.6h1.1M479.9 633.2h1.1M499.4 664.6h1.1M495.2 673.8h1.1M526.1 668.0h1.1M490.6 673.0h1.1M555.7 665.6h1.1M557.0 660.4h1.1M534.2 678.9h1.1M504.1 656.4h1.1M493.5 646.4h1.1M522.1 696.7h1.1M568.9 698.4h1.1M556.4 682.4h1.1M530.1 668.4h1.1M570.4 681.0h1.1M543.4 700.2h1.1M513.1 646.6h1.1M517.0 671.6h1.1M546.3 659.0h1.1M482.9 654.1h1.1M533.0 701.9h1.1M494.5 676.4h1.1M551.8 655.9h1.1M513.6 648.8h1.1M510.9 687.3h1.1M524.8 671.9h1.1M487.0 635.5h1.1M526.1 638.6h1.1M477.9 654.0h1.1M545.0 661.8h1.1M496.1 686.7h1.1M543.1 668.3h1.1M527.1 676.6h1.1M536.6 644.4h1.1M519.4 670.2h1.1M549.5 702.9h1.1M515.3 640.4h1.1M529.1 695.4h1.1M532.9 666.7h1.1M520.8 677.5h1.1M531.8 686.1h1.1M525.6 637.3h1.1M551.0 651.6h1.1M520.3 684.1h1.1M499.5 674.0h1.1M563.5 675.1h1.1M489.0 648.9h1.1M488.3 639.0h1.1M499.6 641.0h1.1M528.5 673.0h1.1M530.6 686.0h1.1M506.2 631.3h1.1M544.8 658.3h1.1M483.0 652.2h1.1M496.3 669.3h1.1M542.6 673.2h1.1M480.8 650.1h1.1M492.6 676.3h1.1M516.7 666.5h1.1M523.8 689.1h1.1M482.3 671.4h1.1M520.6 698.6h1.1M470.7 640.5h1.1M495.1 675.0h1.1M493.8 651.4h1.1M541.6 650.1h1.1M481.8 664.0h1.1M487.1 637.2h1.1M514.3 670.8h1.1M474.5 667.8h1.1M488.7 651.5h1.1M514.2 657.0h1.1M494.2 660.8h1.1M496.3 674.0h1.1M495.8 663.9h1.1M545.4 688.7h1.1M531.5 644.9h1.1M512.3 657.4h1.1M503.5 640.1h1.1M576.1 687.1h1.1M492.4 673.6h1.1M483.5 667.8h1.1M489.1 647.3h1.1M512.3 647.1h1.1M518.1 684.7h1.1M507.7 685.7h1.1M498.5 681.2h1.1M503.0 676.5h1.1M507.3 666.4h1.1M510.6 648.9h1.1M520.3 644.6h1.1M507.6 653.6h1.1M487.1 637.1h1.1M538.0 688.0h1.1M477.3 668.7h1.1M511.4 634.6h1.1M502.3 667.5h1.1M516.7 654.8h1.1M505.3 670.5h1.1M500.1 675.2h1.1M528.9 700.8h1.1M557.8 695.5h1.1M502.9 674.8h1.1M492.0 644.7h1.1M537.9 668.9h1.1M532.8 670.9h1.1M508.1 678.7h1.1M507.8 660.9h1.1M499.5 671.8h1.1M537.6 679.4h1.1M546.7 697.2h1.1M539.7 694.6h1.1M488.8 658.1h1.1M512.4 680.8h1.1M545.9 684.9h1.1M526.8 666.6h1.1M509.8 670.5h1.1M497.0 645.9h1.1M485.4 647.4h1.1M532.7 684.6h1.1M480.5 651.1h1.1M515.6 668.5h1.1M520.8 662.4h1.1M496.8 657.9h1.1M471.0 656.8h1.1M508.4 682.0h1.1M495.1 646.6h1.1M538.5 663.3h1.1M492.4 630.5h1.1M514.3 662.6h1.1M510.8 676.1h1.1M498.0 684.3h1.1M535.3 686.2h1.1M493.4 673.3h1.1M535.8 703.1h1.1M507.8 670.7h1.1M512.4 657.5h1.1M494.6 651.0h1.1M493.3 625.9h1.1M528.1 673.2h1.1M485.9 645.7h1.1M551.1 660.6h1.1M507.1 662.5h1.1M492.7 682.7h1.1M511.5 680.1h1.1M497.5 660.8h1.1M538.6 693.6h1.1M531.6 703.2h1.1M506.1 658.9h1.1M549.7 677.5h1.1M494.9 648.3h1.1M529.3 659.9h1.1M516.8 674.2h1.1M509.0 666.8h1.1M533.9 707.7h1.1M489.9 672.6h1.1M567.8 710.5h1.1M520.7 674.8h1.1M521.4 677.0h1.1M529.6 666.2h1.1M506.7 681.0h1.1M504.4 670.3h1.1M500.2 642.0h1.1M483.8 632.6h1.1M517.8 678.9h1.1M503.0 655.4h1.1M538.9 637.9h1.1M531.5 676.1h1.1M512.1 662.5h1.1M525.5 692.7h1.1M500.7 653.4h1.1M536.2 655.6h1.1M488.2 668.0h1.1M545.6 647.0h1.1M498.3 658.2h1.1M532.9 638.6h1.1M487.6 657.6h1.1M539.5 665.2h1.1M559.8 685.1h1.1M515.2 663.6h1.1M561.2 683.2h1.1M515.7 655.9h1.1M541.6 679.8h1.1M500.1 649.6h1.1M509.4 641.3h1.1M527.9 652.4h1.1M523.2 658.5h1.1M538.1 672.2h1.1M510.5 676.4h1.1M504.4 631.9h1.1M545.3 683.9h1.1M519.4 679.2h1.1M523.6 667.6h1.1M538.6 647.4h1.1M525.0 661.0h1.1M522.1 631.1h1.1M550.2 669.6h1.1M540.8 643.5h1.1M511.0 671.8h1.1M532.6 698.0h1.1M529.9 690.5h1.1M518.6 670.3h1.1M499.4 661.1h1.1M496.4 640.0h1.1M489.7 636.0h1.1M557.3 684.7h1.1M506.4 636.8h1.1M505.5 659.1h1.1M557.8 677.2h1.1M483.5 642.4h1.1M514.0 688.5h1.1M546.2 689.5h1.1M562.3 673.6h1.1M472.6 646.0h1.1M508.2 668.7h1.1M493.9 654.0h1.1M519.2 647.1h1.1M500.9 670.5h1.1M539.0 676.5h1.1M509.5 632.9h1.1M578.1 692.1h1.1M479.7 648.8h1.1M517.2 649.7h1.1M507.2 692.5h1.1M480.3 673.8h1.1M537.3 646.0h1.1M533.6 665.1h1.1M542.4 697.5h1.1M528.5 658.0h1.1M511.5 674.7h1.1M504.5 662.6h1.1M519.6 658.9h1.1M533.9 652.8h1.1M523.5 665.4h1.1M505.1 662.8h1.1M476.0 640.9h1.1M491.6 667.2h1.1M508.0 668.2h1.1M526.7 700.2h1.1M542.1 686.5h1.1M498.1 639.5h1.1M549.3 664.8h1.1M511.9 665.4h1.1M528.1 672.8h1.1M493.9 672.0h1.1M530.3 660.0h1.1M497.2 654.4h1.1M524.0 690.8h1.1M487.1 658.1h1.1M559.7 677.9h1.1M507.5 665.9h1.1M529.3 685.5h1.1M538.5 658.1h1.1M558.9 683.6h1.1M487.2 626.2h1.1M480.5 634.6h1.1M552.6 683.7h1.1M531.4 654.5h1.1M500.9 671.0h1.1M478.3 646.4h1.1M487.2 642.9h1.1M537.7 706.0h1.1M536.6 678.7h1.1M527.4 672.5h1.1M530.4 662.0h1.1M491.3 695.4h1.1M520.3 642.4h1.1M519.9 633.1h1.1M499.8 660.9h1.1M487.0 653.0h1.1M523.1 656.6h1.1M519.6 671.2h1.1M519.5 671.9h1.1M529.1 702.5h1.1M508.8 653.9h1.1M502.2 660.9h1.1M523.5 670.7h1.1M512.4 634.7h1.1M498.3 671.5h1.1M483.6 650.0h1.1M551.7 670.8h1.1M505.9 654.4h1.1M493.9 641.3h1.1M486.9 655.3h1.1M469.8 660.2h1.1M529.2 669.3h1.1M513.3 654.8h1.1M517.2 629.6h1.1M504.4 664.1h1.1M532.7 637.2h1.1M512.5 640.5h1.1M504.6 686.5h1.1M494.5 627.5h1.1M526.0 678.5h1.1M493.4 664.7h1.1M511.6 666.1h1.1M521.2 640.1h1.1M501.4 666.6h1.1M529.9 647.8h1.1M497.7 665.7h1.1M517.0 666.6h1.1M504.8 655.8h1.1M541.1 695.1h1.1M524.4 656.2h1.1M573.7 694.6h1.1M497.0 678.5h1.1M514.1 658.5h1.1M514.6 673.1h1.1M480.8 646.1h1.1M515.8 685.1h1.1M532.9 691.4h1.1M557.8 665.2h1.1M499.1 664.6h1.1M523.4 671.4h1.1M516.4 666.1h1.1M478.2 656.2h1.1M531.8 650.4h1.1M488.9 631.0h1.1M477.5 638.4h1.1M512.5 683.0h1.1M497.7 626.5h1.1M484.2 649.1h1.1M549.7 705.7h1.1M482.6 657.3h1.1M523.9 680.0h1.1M485.9 648.2h1.1M533.2 684.0h1.1M497.9 657.0h1.1M534.9 632.4h1.1M510.3 694.2h1.1M558.4 694.9h1.1M522.5 664.1h1.1M553.3 700.3h1.1M528.7 656.8h1.1M500.1 628.3h1.1M544.8 709.1h1.1M531.0 657.8h1.1M517.8 662.4h1.1M509.2 652.4h1.1M521.1 649.7h1.1M512.9 676.1h1.1M560.2 683.9h1.1M496.2 644.1h1.1M500.3 683.2h1.1M538.4 688.2h1.1M537.2 668.3h1.1M500.5 678.2h1.1M521.4 647.7h1.1M529.4 693.6h1.1M509.0 667.5h1.1M521.1 661.6h1.1M469.2 639.4h1.1M534.0 687.1h1.1M511.4 628.0h1.1M522.7 688.9h1.1M504.7 652.5h1.1M557.2 672.5h1.1M495.7 645.5h1.1M472.2 648.0h1.1M484.1 679.2h1.1M504.1 688.1h1.1M536.7 668.1h1.1M501.4 686.8h1.1M494.0 654.0h1.1M494.9 638.3h1.1M531.5 671.0h1.1M498.3 667.1h1.1M500.5 661.7h1.1M513.4 657.5h1.1M488.3 653.2h1.1M513.9 675.2h1.1M520.0 676.7h1.1M527.7 671.2h1.1M477.8 650.3h1.1M550.5 699.9h1.1M526.3 656.0h1.1M508.2 665.0h1.1M489.1 677.2h1.1M545.1 686.9h1.1M523.4 701.0h1.1M469.5 635.6h1.1M525.3 667.7h1.1M541.5 646.9h1.1M533.3 651.8h1.1M501.8 667.5h1.1M540.1 663.9h1.1M540.9 689.2h1.1M505.5 678.1h1.1M491.4 659.5h1.1M489.9 683.5h1.1M499.2 640.7h1.1M524.5 687.9h1.1M513.3 688.5h1.1M557.7 692.2h1.1M499.3 672.7h1.1M531.2 660.6h1.1M527.0 660.2h1.1M542.1 679.9h1.1M530.0 656.3h1.1M529.3 651.8h1.1M522.7 641.7h1.1M532.4 664.8h1.1M497.3 652.2h1.1M556.5 703.4h1.1M543.5 640.8h1.1M488.0 676.9h1.1M551.9 671.0h1.1M514.3 658.3h1.1M515.4 652.5h1.1M491.6 657.2h1.1M483.9 652.0h1.1M532.1 683.1h1.1M518.3 648.0h1.1M486.5 652.6h1.1M513.8 667.4h1.1M535.0 683.2h1.1M489.1 648.1h1.1M532.8 663.6h1.1M493.3 663.4h1.1M509.5 663.5h1.1M516.0 671.2h1.1M518.4 664.2h1.1M514.3 657.6h1.1M484.0 679.6h1.1M473.9 637.9h1.1M519.6 652.9h1.1M497.0 662.6h1.1M526.1 698.9h1.1M496.9 632.3h1.1M502.3 647.1h1.1M517.9 669.4h1.1M532.2 644.2h1.1M507.2 636.4h1.1M511.5 659.5h1.1M535.5 674.8h1.1M490.2 664.2h1.1M511.0 666.7h1.1M500.1 679.5h1.1M506.4 690.9h1.1M494.3 659.2h1.1M502.9 663.1h1.1M513.2 674.8h1.1M473.4 631.3h1.1M503.2 653.1h1.1M479.5 626.8h1.1M526.6 673.4h1.1M522.9 691.6h1.1M517.1 640.3h1.1M509.6 668.9h1.1M507.4 659.6h1.1M501.2 669.6h1.1M499.1 640.3h1.1M539.6 658.2h1.1M500.3 646.3h1.1M519.6 637.6h1.1M527.9 683.5h1.1M505.0 665.5h1.1M515.0 653.7h1.1M478.0 670.3h1.1M543.2 689.2h1.1M506.3 656.0h1.1M484.6 641.3h1.1M486.2 684.1h1.1M515.7 669.4h1.1M514.4 649.4h1.1M518.3 629.5h1.1M513.7 676.1h1.1M496.7 637.1h1.1M527.4 679.1h1.1M490.1 672.4h1.1M480.5 637.9h1.1M543.0 678.3h1.1M519.9 696.4h1.1M497.1 676.6h1.1M549.0 670.7h1.1M513.6 697.6h1.1M517.0 665.7h1.1M500.8 643.9h1.1M495.6 684.4h1.1M551.4 701.8h1.1M541.0 672.5h1.1M514.9 670.5h1.1M515.4 682.2h1.1M522.8 673.0h1.1M520.2 685.3h1.1M538.4 631.8h1.1M465.5 650.8h1.1M516.6 661.3h1.1M479.9 652.6h1.1M531.1 709.5h1.1M512.0 695.1h1.1M525.4 663.0h1.1M533.2 643.2h1.1M515.1 687.3h1.1M515.3 631.1h1.1M518.8 682.9h1.1M492.3 665.0h1.1M506.8 651.2h1.1M482.8 652.9h1.1M531.8 655.1h1.1M508.7 676.8h1.1M488.2 628.7h1.1M519.9 684.6h1.1M517.8 662.2h1.1M504.3 656.4h1.1M528.5 659.9h1.1M504.5 687.7h1.1M485.9 680.5h1.1M535.6 681.7h1.1M525.7 679.2h1.1M501.1 631.3h1.1M473.2 633.7h1.1M522.4 667.3h1.1M488.6 647.4h1.1M546.0 663.8h1.1M564.7 702.8h1.1M510.1 692.6h1.1M535.5 638.7h1.1M524.0 659.4h1.1M516.8 681.7h1.1M503.2 664.9h1.1M468.4 648.3h1.1M512.4 661.9h1.1M476.0 639.8h1.1M515.6 638.9h1.1M512.4 672.0h1.1M557.8 666.1h1.1M519.6 666.3h1.1M544.3 660.6h1.1M517.0 652.9h1.1M495.5 680.8h1.1M521.7 660.8h1.1M511.4 653.6h1.1M525.8 651.5h1.1M528.6 694.7h1.1M492.8 640.7h1.1M507.4 666.8h1.1M525.0 657.9h1.1M493.9 669.9h1.1M492.7 627.2h1.1M514.2 670.8h1.1M500.4 645.3h1.1M500.4 643.1h1.1M518.1 689.2h1.1M503.6 660.8h1.1M567.0 676.4h1.1M525.4 687.9h1.1M486.0 660.5h1.1M496.1 670.8h1.1M519.0 709.1h1.1M495.6 668.0h1.1M482.3 628.4h1.1M521.6 668.9h1.1M512.6 687.8h1.1M540.7 686.3h1.1M528.1 695.4h1.1M520.9 678.3h1.1M515.3 659.7h1.1M478.2 635.9h1.1M509.4 691.6h1.1M504.8 661.4h1.1M506.9 673.8h1.1M504.9 654.4h1.1M528.1 687.2h1.1M502.3 647.4h1.1M516.4 676.9h1.1M533.8 636.1h1.1M520.4 660.5h1.1M521.3 662.2h1.1M546.7 679.3h1.1M517.3 672.2h1.1M524.9 656.6h1.1M536.0 659.7h1.1M527.6 649.6h1.1M486.3 641.0h1.1M542.3 673.0h1.1M530.1 674.7h1.1M536.6 655.7h1.1M494.2 643.7h1.1M545.3 638.5h1.1M488.0 644.4h1.1M528.4 640.1h1.1M516.4 661.2h1.1M499.9 656.7h1.1M542.0 648.9h1.1M513.9 631.3h1.1M549.0 646.2h1.1M508.0 667.2h1.1M556.8 680.6h1.1M492.1 641.2h1.1M555.0 653.2h1.1M528.5 693.5h1.1M542.4 637.0h1.1M533.7 645.6h1.1M494.5 659.3h1.1M546.5 643.9h1.1M504.7 653.5h1.1M530.8 665.9h1.1M464.3 653.7h1.1M538.2 682.1h1.1M521.0 663.8h1.1M501.9 664.0h1.1M504.6 683.9h1.1M504.5 669.5h1.1M499.0 673.3h1.1M509.7 681.9h1.1M508.8 678.1h1.1M515.8 675.3h1.1M509.8 649.0h1.1M500.8 699.6h1.1M532.3 689.9h1.1M508.2 665.9h1.1M502.1 673.2h1.1M501.1 646.8h1.1M507.1 645.4h1.1M478.6 652.0h1.1M507.4 674.4h1.1M569.2 703.9h1.1M481.8 640.7h1.1M512.6 654.8h1.1M508.8 649.4h1.1M520.0 681.7h1.1M518.2 689.1h1.1M510.2 677.7h1.1M516.6 662.9h1.1M547.1 682.5h1.1M511.7 628.0h1.1M521.4 652.6h1.1M524.3 674.0h1.1M521.9 639.4h1.1M492.4 651.3h1.1M491.0 639.8h1.1M493.2 678.4h1.1M511.8 632.9h1.1M531.0 680.7h1.1M515.5 636.4h1.1M543.1 678.9h1.1M507.8 669.2h1.1M549.2 685.9h1.1M509.7 667.9h1.1M491.9 639.6h1.1M503.7 644.3h1.1M516.0 696.0h1.1M474.9 649.7h1.1M551.4 671.8h1.1M549.3 667.8h1.1M508.9 629.5h1.1M516.9 691.2h1.1M526.7 692.4h1.1M551.4 676.2h1.1M537.5 671.5h1.1M501.3 685.3h1.1M495.5 666.8h1.1M507.6 633.4h1.1M541.6 640.4h1.1M551.5 656.7h1.1M526.1 683.5h1.1M485.7 650.8h1.1M476.7 646.5h1.1M526.4 680.6h1.1M535.3 638.1h1.1M480.0 636.2h1.1M502.5 634.2h1.1M539.3 636.5h1.1M507.9 653.4h1.1M520.1 666.4h1.1M496.2 649.3h1.1M502.4 632.1h1.1M523.3 627.0h1.1M510.6 659.0h1.1M517.2 688.8h1.1M516.7 656.6h1.1M481.2 641.7h1.1M541.8 662.4h1.1M503.7 658.8h1.1M539.3 684.4h1.1M506.6 653.9h1.1M538.7 689.4h1.1M553.1 663.4h1.1M482.3 677.9h1.1M482.3 657.9h1.1M524.8 657.2h1.1M496.2 670.7h1.1M535.0 650.9h1.1M515.4 703.1h1.1M506.9 655.0h1.1M530.1 663.8h1.1M491.8 647.7h1.1M473.1 636.0h1.1M488.3 643.7h1.1M508.0 679.0h1.1M564.6 710.0h1.1M501.5 638.6h1.1M532.7 674.9h1.1M541.6 677.6h1.1M504.6 657.0h1.1M536.9 689.0h1.1M553.9 679.9h1.1M501.9 657.7h1.1M567.9 694.2h1.1M490.3 641.3h1.1M492.4 654.6h1.1M509.6 645.5h1.1M496.8 654.0h1.1M547.3 650.1h1.1M512.5 662.4h1.1M512.3 681.4h1.1M524.0 672.5h1.1M518.3 666.9h1.1M515.6 669.7h1.1M515.7 686.1h1.1M519.5 682.6h1.1M504.6 669.6h1.1M514.9 652.9h1.1M485.6 635.3h1.1M506.1 662.5h1.1M493.5 663.5h1.1M573.1 683.5h1.1M480.5 648.2h1.1M499.8 664.7h1.1M549.0 648.7h1.1M485.3 644.2h1.1M480.0 648.8h1.1M552.5 692.7h1.1M516.9 658.6h1.1M526.3 654.9h1.1M502.5 657.2h1.1M477.6 646.5h1.1M532.4 674.2h1.1M528.5 684.1h1.1M565.4 675.4h1.1M518.0 658.0h1.1M494.8 665.2h1.1M515.8 653.9h1.1M558.5 679.1h1.1M500.5 696.6h1.1M503.3 665.9h1.1M527.6 687.5h1.1M498.7 657.4h1.1M513.9 664.6h1.1M508.6 656.6h1.1M472.1 627.5h1.1M499.6 658.8h1.1M499.4 644.1h1.1M496.3 627.2h1.1M555.1 700.8h1.1M540.5 665.2h1.1M540.3 697.4h1.1M548.4 688.2h1.1M501.8 678.5h1.1M508.8 681.4h1.1M564.3 683.4h1.1M502.9 690.2h1.1M536.2 652.7h1.1M538.8 695.2h1.1M494.3 657.0h1.1M503.0 661.3h1.1M526.0 680.6h1.1M484.2 641.9h1.1M512.0 669.0h1.1M550.0 702.9h1.1M492.9 649.1h1.1M516.2 693.8h1.1M519.9 657.5h1.1M544.9 641.9h1.1M493.3 653.6h1.1M560.2 675.7h1.1M526.5 691.0h1.1M527.8 639.0h1.1M553.0 668.2h1.1M505.2 693.0h1.1M486.9 669.2h1.1M530.1 692.8h1.1M534.9 643.7h1.1M468.4 656.2h1.1M489.7 693.4h1.1M502.6 642.3h1.1M479.2 643.3h1.1M524.6 678.0h1.1M497.3 678.3h1.1M510.6 637.7h1.1M495.4 642.2h1.1M504.8 675.3h1.1M526.6 663.5h1.1M528.0 681.1h1.1M531.5 658.7h1.1M518.2 654.4h1.1M492.0 660.6h1.1M500.4 672.0h1.1M494.6 658.1h1.1M530.6 669.8h1.1M535.5 685.5h1.1M522.3 672.6h1.1M508.0 638.0h1.1M511.7 633.0h1.1M500.0 654.7h1.1M501.4 684.7h1.1M547.5 670.6h1.1M571.0 688.5h1.1M549.5 673.9h1.1M527.6 644.8h1.1M529.4 690.7h1.1M526.4 646.4h1.1M523.5 693.6h1.1M500.6 646.2h1.1M532.4 661.9h1.1M504.5 682.4h1.1M546.7 657.1h1.1M519.5 663.3h1.1M516.3 643.7h1.1M506.5 677.3h1.1M490.2 647.1h1.1M513.7 661.3h1.1M486.6 652.4h1.1M508.7 654.5h1.1M505.0 655.6h1.1M540.4 707.9h1.1M553.4 679.0h1.1M517.3 666.6h1.1M516.6 685.6h1.1M490.9 667.2h1.1M546.0 667.9h1.1M526.8 677.4h1.1M526.1 691.2h1.1M538.9 661.8h1.1M517.9 661.8h1.1M514.7 681.5h1.1M519.2 643.7h1.1M526.3 686.0h1.1M480.5 651.9h1.1M521.1 638.4h1.1M492.5 626.7h1.1M490.7 627.3h1.1M483.1 636.8h1.1M503.4 675.3h1.1M520.8 636.0h1.1M507.0 674.7h1.1M489.2 642.8h1.1M546.6 657.6h1.1M526.5 682.1h1.1M484.6 650.0h1.1M541.7 689.7h1.1M483.7 638.0h1.1M498.7 699.5h1.1M539.3 657.4h1.1M510.5 679.6h1.1M502.8 651.0h1.1M538.9 696.3h1.1M469.9 649.0h1.1M556.7 657.8h1.1M522.2 671.6h1.1M525.3 675.3h1.1M501.2 666.0h1.1M560.4 701.5h1.1M507.9 696.8h1.1M478.1 648.6h1.1M526.2 647.2h1.1M558.5 686.4h1.1M510.4 653.8h1.1M520.8 647.3h1.1M492.2 643.8h1.1M477.4 675.2h1.1M530.6 675.0h1.1M490.5 628.9h1.1M492.2 672.4h1.1M510.4 682.5h1.1M509.3 645.7h1.1M508.8 649.1h1.1M521.6 669.8h1.1M493.7 679.4h1.1M515.2 663.1h1.1M498.0 661.1h1.1M538.8 694.7h1.1M561.2 673.8h1.1M475.4 636.2h1.1M532.1 653.3h1.1M501.2 654.6h1.1M506.4 641.7h1.1M537.4 689.9h1.1M520.0 686.3h1.1M531.8 668.4h1.1M521.1 702.3h1.1M485.6 663.9h1.1M501.8 661.6h1.1M488.2 641.7h1.1M514.3 656.2h1.1M540.5 668.2h1.1M530.7 673.4h1.1M521.4 680.1h1.1M565.1 706.6h1.1M494.7 682.7h1.1M521.6 675.2h1.1M497.5 662.5h1.1M545.1 673.4h1.1M535.1 680.9h1.1M529.1 694.8h1.1M510.5 660.7h1.1M561.5 680.1h1.1M524.0 673.8h1.1M537.0 674.9h1.1M529.4 666.0h1.1M473.9 669.9h1.1M553.0 685.0h1.1M474.1 639.3h1.1M473.6 641.7h1.1M514.7 697.6h1.1M514.6 656.0h1.1M510.7 681.0h1.1M554.5 663.8h1.1M501.2 668.8h1.1M522.4 641.0h1.1M525.5 649.2h1.1M514.0 675.7h1.1M527.7 653.8h1.1M480.9 629.9h1.1M540.9 677.5h1.1M529.6 681.9h1.1M569.2 685.8h1.1M518.6 682.3h1.1M508.1 666.1h1.1M502.4 657.8h1.1M477.6 668.4h1.1M549.1 669.5h1.1M534.6 666.1h1.1M492.1 671.1h1.1M488.2 645.6h1.1M517.4 664.7h1.1M489.9 655.6h1.1M501.9 652.8h1.1M532.3 697.1h1.1M480.8 641.4h1.1M501.3 680.6h1.1M522.5 685.6h1.1M538.4 672.9h1.1M513.2 673.3h1.1M486.5 648.3h1.1M518.5 652.1h1.1M469.6 651.8h1.1M506.3 666.4h1.1M492.9 645.3h1.1M504.5 644.0h1.1M503.7 654.8h1.1M498.1 677.1h1.1M502.7 684.4h1.1M490.1 646.2h1.1M508.7 664.0h1.1M539.8 698.6h1.1M490.0 680.2h1.1M533.3 672.1h1.1M521.1 675.2h1.1M508.7 679.0h1.1M506.6 654.6h1.1M538.6 685.4h1.1M540.9 685.5h1.1M506.2 654.7h1.1M528.2 660.2h1.1M510.9 657.1h1.1M511.2 662.5h1.1M513.9 678.9h1.1M580.5 698.9h1.1M479.9 653.3h1.1M501.5 666.2h1.1M509.5 636.6h1.1M527.1 669.7h1.1M529.1 703.4h1.1M546.1 699.2h1.1M493.9 655.0h1.1M496.4 655.6h1.1M496.1 636.1h1.1M510.0 672.0h1.1M513.8 653.7h1.1M412.7 738.2h1.1M417.6 737.6h1.1M418.9 740.7h1.1M428.8 734.4h1.1M428.8 736.5h1.1M427.7 739.7h1.1M429.5 739.1h1.1M431.3 742.4h1.1M444.6 735.9h1.1M444.1 740.1h1.1M452.6 736.1h1.1M469.7 736.1h1.1M467.9 714.3h1.1M480.6 707.4h1.1M480.6 711.2h1.1M462.2 699.0h1.1M464.3 699.9h1.1M609.6 678.9h1.1M570.6 702.8h1.1M565.5 697.1h1.1M537.2 638.0h1.1M549.4 642.4h1.1M555.9 651.0h1.1M566.0 655.0h1.1M570.9 655.9h1.1M556.4 658.6h1.1M565.5 662.1h1.1M561.0 668.6h1.1M572.2 673.9h1.1M577.4 679.1h1.1M568.0 683.1h1.1M588.0 695.0h1.1M596.6 702.2h1.1M602.3 706.6h1.1M607.7 706.6h1.1M603.6 712.7h1.1M613.4 713.9h1.1M588.5 712.6h1.1M462.5 661.9h1.1M469.7 663.4h1.1M476.5 669.9h1.1M472.3 677.7h1.1M474.9 684.4h1.1M480.9 692.9h1.1M491.5 711.4h1.1M499.3 708.0h1.1M584.9 708.5h1.1M599.2 711.4h1.1M614.2 711.4h1.1" stroke="#1b6cdc" stroke-width="3.6" stroke-linecap="round" fill="none"/><line x1="394.8" y1="610.5" x2="394.8" y2="764.0" stroke="#2a2a2a" stroke-width="1.0"/><line x1="394.8" y1="764.0" x2="654.7" y2="764.0" stroke="#2a2a2a" stroke-width="1.0"/><line x1="391.2" y1="764.00" x2="394.8" y2="764.00" stroke="#2a2a2a" stroke-width="0.8"/><text transform="translate(372.91,766.35) scale(1.171,1)" font-size="6.83">−0.2</text><line x1="391.2" y1="725.75" x2="394.8" y2="725.75" stroke="#2a2a2a" stroke-width="0.8"/><text transform="translate(376.77,728.10) scale(1.250,1)" font-size="6.83">0.0</text><line x1="391.2" y1="687.50" x2="394.8" y2="687.50" stroke="#2a2a2a" stroke-width="0.8"/><text transform="translate(376.76,689.85) scale(1.260,1)" font-size="6.83">0.2</text><line x1="391.2" y1="649.25" x2="394.8" y2="649.25" stroke="#2a2a2a" stroke-width="0.8"/><text transform="translate(376.77,651.60) scale(1.240,1)" font-size="6.83">0.4</text><line x1="391.2" y1="611.00" x2="394.8" y2="611.00" stroke="#2a2a2a" stroke-width="0.8"/><text transform="translate(376.77,613.35) scale(1.254,1)" font-size="6.83">0.6</text><line x1="392.8" y1="744.88" x2="394.8" y2="744.88" stroke="#555" stroke-width="0.7"/><line x1="392.8" y1="706.62" x2="394.8" y2="706.62" stroke="#555" stroke-width="0.7"/><line x1="392.8" y1="668.38" x2="394.8" y2="668.38" stroke="#555" stroke-width="0.7"/><line x1="392.8" y1="630.12" x2="394.8" y2="630.12" stroke="#555" stroke-width="0.7"/><line x1="394.80" y1="764.0" x2="394.80" y2="767.6" stroke="#2a2a2a" stroke-width="0.8"/><text transform="translate(390.01,774.50) scale(1.338,1)" font-size="6.25">18</text><line x1="446.68" y1="764.0" x2="446.68" y2="767.6" stroke="#2a2a2a" stroke-width="0.8"/><text transform="translate(442.12,774.50) scale(1.298,1)" font-size="6.25">20</text><line x1="498.56" y1="764.0" x2="498.56" y2="767.6" stroke="#2a2a2a" stroke-width="0.8"/><text transform="translate(494.00,774.50) scale(1.313,1)" font-size="6.25">22</text><line x1="550.44" y1="764.0" x2="550.44" y2="767.6" stroke="#2a2a2a" stroke-width="0.8"/><text transform="translate(545.89,774.50) scale(1.286,1)" font-size="6.25">24</text><line x1="602.32" y1="764.0" x2="602.32" y2="767.6" stroke="#2a2a2a" stroke-width="0.8"/><text transform="translate(597.76,774.50) scale(1.304,1)" font-size="6.25">26</text><line x1="654.20" y1="764.0" x2="654.20" y2="767.6" stroke="#2a2a2a" stroke-width="0.8"/><text transform="translate(649.64,774.50) scale(1.304,1)" font-size="6.25">28</text><line x1="420.74" y1="764.0" x2="420.74" y2="766.0" stroke="#555" stroke-width="0.7"/><line x1="472.62" y1="764.0" x2="472.62" y2="766.0" stroke="#555" stroke-width="0.7"/><line x1="524.50" y1="764.0" x2="524.50" y2="766.0" stroke="#555" stroke-width="0.7"/><line x1="576.38" y1="764.0" x2="576.38" y2="766.0" stroke="#555" stroke-width="0.7"/><line x1="628.26" y1="764.0" x2="628.26" y2="766.0" stroke="#555" stroke-width="0.7"/><text transform="translate(501.79,786.50) scale(1.256,1)" font-size="7.85">LST_2021</text><text transform="translate(369.90,707.72) rotate(-90) scale(0.634,1)" font-size="11.92">NDVI_2021</text><rect x="577.3" y="597.3" width="71.2" height="9.7" fill="#fff" stroke="#9a9a9a" stroke-width="0.8"/><ellipse cx="588.6" cy="602.0" rx="2.1" ry="1.7" fill="#1b6cdc"/><text transform="translate(600.88,604.60) scale(1.232,1)" font-size="7.12">NDVI_2021</text><rect x="0.5" y="0.5" width="683.3" height="797.3" fill="none" stroke="#000" stroke-width="1.2"/></svg></body></html>
